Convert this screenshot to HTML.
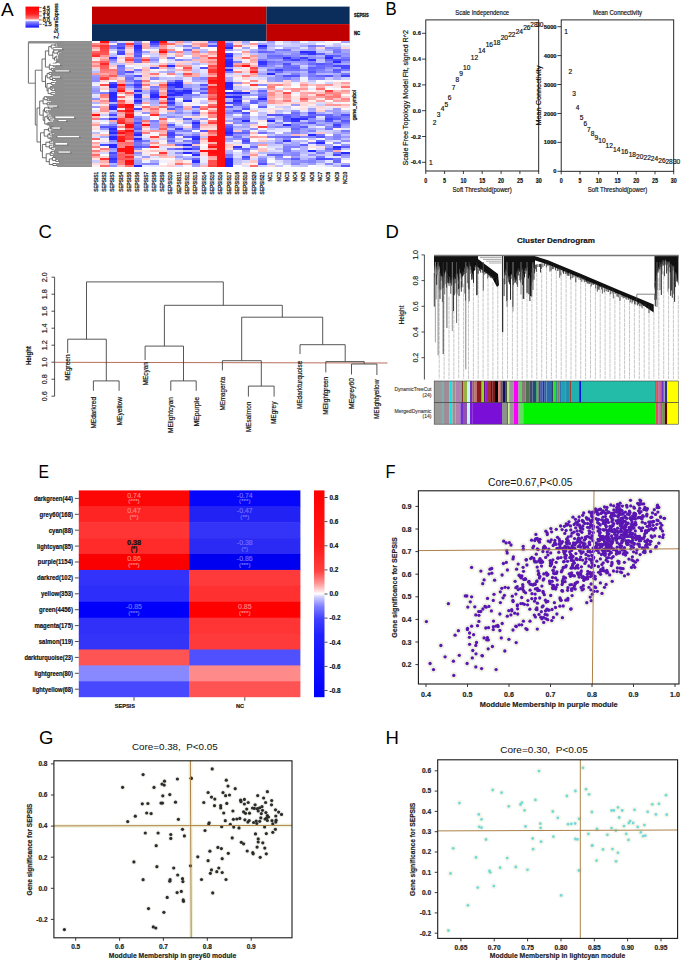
<!DOCTYPE html>
<html><head><meta charset="utf-8"><style>
html,body{margin:0;padding:0;background:#fff;width:685px;height:963px;overflow:hidden}
svg{display:block}
text{font-family:"Liberation Sans", sans-serif}
</style></head><body>
<svg width="685" height="963" viewBox="0 0 685 963">
<rect width="685" height="963" fill="#fff"/>
<text x="0.9" y="15.5" font-size="19" text-anchor="start" fill="#000">A</text>
<defs><linearGradient id="zleg" x1="0" y1="0" x2="0" y2="1"><stop offset="0" stop-color="#ff0000"/><stop offset="0.35" stop-color="#ff2020"/><stop offset="0.58" stop-color="#ff8080"/><stop offset="0.63" stop-color="#ffe8e8"/><stop offset="0.67" stop-color="#f0f0ff"/><stop offset="0.72" stop-color="#9090ff"/><stop offset="1" stop-color="#1010ff"/></linearGradient></defs>
<rect x="25.5" y="6.6" width="13.5" height="21" fill="url(#zleg)"/>
<line x1="39" y1="7.6" x2="41.7" y2="7.6" stroke="#333" stroke-width="0.7"/>
<text x="42.8" y="9.5" font-size="5.2" text-anchor="start" fill="#222" stroke="#222" stroke-width="0.3">4.5</text>
<line x1="39" y1="11.7" x2="41.7" y2="11.7" stroke="#333" stroke-width="0.7"/>
<text x="42.8" y="13.6" font-size="5.2" text-anchor="start" fill="#222" stroke="#222" stroke-width="0.3">3.0</text>
<line x1="39" y1="15.9" x2="41.7" y2="15.9" stroke="#333" stroke-width="0.7"/>
<text x="42.8" y="17.8" font-size="5.2" text-anchor="start" fill="#222" stroke="#222" stroke-width="0.3">1.5</text>
<line x1="39" y1="19.9" x2="41.7" y2="19.9" stroke="#333" stroke-width="0.7"/>
<text x="42.8" y="21.8" font-size="5.2" text-anchor="start" fill="#222" stroke="#222" stroke-width="0.3">0.0</text>
<line x1="39" y1="24.3" x2="41.7" y2="24.3" stroke="#333" stroke-width="0.7"/>
<text x="42.8" y="26.2" font-size="5.2" text-anchor="start" fill="#222" stroke="#222" stroke-width="0.3">-1.5</text>
<text x="57.6" y="21" font-size="5.0" text-anchor="middle" fill="#222" transform="rotate(-90 57.6 21)" textLength="35.5" lengthAdjust="spacingAndGlyphs" stroke="#222" stroke-width="0.3">Z_ScoreExpress</text>
<rect x="92" y="6.6" width="174.5" height="17.5" fill="#c00000"/>
<rect x="266.5" y="6.6" width="83.1" height="17.5" fill="#0b2d5b"/>
<rect x="92" y="24.1" width="174.5" height="16.9" fill="#0b2d5b"/>
<rect x="266.5" y="24.1" width="83.1" height="16.9" fill="#c00000"/>
<text x="354" y="17.2" font-size="4.8" text-anchor="start" font-weight="bold" fill="#111" textLength="14.6" lengthAdjust="spacingAndGlyphs" stroke="#111" stroke-width="0.3">SEPSIS</text>
<text x="354" y="34.6" font-size="4.8" text-anchor="start" font-weight="bold" fill="#111" textLength="6.2" lengthAdjust="spacingAndGlyphs" stroke="#111" stroke-width="0.3">NC</text>
<text x="355.6" y="105.1" font-size="5.1" text-anchor="middle" fill="#222" transform="rotate(-90 355.6 105.1)" textLength="30.4" lengthAdjust="spacingAndGlyphs" stroke="#222" stroke-width="0.3">gene_symbol</text>
<rect x="92" y="41" width="8.4" height="2.1" fill="#fffbfb" shape-rendering="crispEdges"/>
<rect x="92" y="43" width="8.4" height="2.1" fill="#ff8f8f" shape-rendering="crispEdges"/>
<rect x="92" y="45" width="8.4" height="2.1" fill="#ff5a5a" shape-rendering="crispEdges"/>
<rect x="92" y="47.1" width="8.4" height="2.1" fill="#ffacac" shape-rendering="crispEdges"/>
<rect x="92" y="49.1" width="8.4" height="2.1" fill="#ffd0d0" shape-rendering="crispEdges"/>
<rect x="92" y="51.1" width="8.4" height="2.1" fill="#ff6767" shape-rendering="crispEdges"/>
<rect x="92" y="53.1" width="8.4" height="2.1" fill="#ff4747" shape-rendering="crispEdges"/>
<rect x="92" y="55.2" width="8.4" height="2.1" fill="#ff2d2d" shape-rendering="crispEdges"/>
<rect x="92" y="57.2" width="8.4" height="2.1" fill="#ffd9d9" shape-rendering="crispEdges"/>
<rect x="92" y="59.2" width="8.4" height="2.1" fill="#ffeded" shape-rendering="crispEdges"/>
<rect x="92" y="61.2" width="8.4" height="2.1" fill="#ff8383" shape-rendering="crispEdges"/>
<rect x="92" y="63.3" width="8.4" height="2.1" fill="#ffb1b1" shape-rendering="crispEdges"/>
<rect x="92" y="65.3" width="8.4" height="2.1" fill="#ff8989" shape-rendering="crispEdges"/>
<rect x="92" y="67.3" width="8.4" height="2.1" fill="#ffcdcd" shape-rendering="crispEdges"/>
<rect x="92" y="69.3" width="8.4" height="2.1" fill="#d8d8ff" shape-rendering="crispEdges"/>
<rect x="92" y="71.4" width="8.4" height="2.1" fill="#bdbdff" shape-rendering="crispEdges"/>
<rect x="92" y="73.4" width="8.4" height="2.1" fill="#ff9c9c" shape-rendering="crispEdges"/>
<rect x="92" y="75.4" width="8.4" height="2.1" fill="#9b9bff" shape-rendering="crispEdges"/>
<rect x="92" y="77.4" width="8.4" height="2.1" fill="#8f8fff" shape-rendering="crispEdges"/>
<rect x="92" y="79.5" width="8.4" height="2.1" fill="#8b8bff" shape-rendering="crispEdges"/>
<rect x="92" y="81.5" width="8.4" height="2.1" fill="#e7e7ff" shape-rendering="crispEdges"/>
<rect x="92" y="83.5" width="8.4" height="2.1" fill="#f1f1ff" shape-rendering="crispEdges"/>
<rect x="92" y="85.5" width="8.4" height="2.1" fill="#b1b1ff" shape-rendering="crispEdges"/>
<rect x="92" y="87.6" width="8.4" height="2.1" fill="#9f9fff" shape-rendering="crispEdges"/>
<rect x="92" y="89.6" width="8.4" height="2.1" fill="#9191ff" shape-rendering="crispEdges"/>
<rect x="92" y="91.6" width="8.4" height="2.1" fill="#a0a0ff" shape-rendering="crispEdges"/>
<rect x="92" y="93.6" width="8.4" height="2.1" fill="#e6e6ff" shape-rendering="crispEdges"/>
<rect x="92" y="95.7" width="8.4" height="2.1" fill="#ddddff" shape-rendering="crispEdges"/>
<rect x="92" y="97.7" width="8.4" height="2.1" fill="#9292ff" shape-rendering="crispEdges"/>
<rect x="92" y="99.7" width="8.4" height="2.1" fill="#ffbaba" shape-rendering="crispEdges"/>
<rect x="92" y="101.7" width="8.4" height="2.1" fill="#b2b2ff" shape-rendering="crispEdges"/>
<rect x="92" y="103.8" width="8.4" height="2.1" fill="#f3f3ff" shape-rendering="crispEdges"/>
<rect x="92" y="105.8" width="8.4" height="2.1" fill="#9a9aff" shape-rendering="crispEdges"/>
<rect x="92" y="107.8" width="8.4" height="2.1" fill="#fbfbff" shape-rendering="crispEdges"/>
<rect x="92" y="109.8" width="8.4" height="2.1" fill="#e0e0ff" shape-rendering="crispEdges"/>
<rect x="92" y="111.8" width="8.4" height="2.1" fill="#ffc7c7" shape-rendering="crispEdges"/>
<rect x="92" y="113.9" width="8.4" height="2.1" fill="#ff0f0f" shape-rendering="crispEdges"/>
<rect x="92" y="115.9" width="8.4" height="2.1" fill="#ffbaba" shape-rendering="crispEdges"/>
<rect x="92" y="117.9" width="8.4" height="2.1" fill="#ff7e7e" shape-rendering="crispEdges"/>
<rect x="92" y="119.9" width="8.4" height="2.1" fill="#efefff" shape-rendering="crispEdges"/>
<rect x="92" y="122" width="8.4" height="2.1" fill="#ffcaca" shape-rendering="crispEdges"/>
<rect x="92" y="124" width="8.4" height="2.1" fill="#ff9d9d" shape-rendering="crispEdges"/>
<rect x="92" y="126" width="8.4" height="2.1" fill="#ffe7e7" shape-rendering="crispEdges"/>
<rect x="92" y="128" width="8.4" height="2.1" fill="#ffdfdf" shape-rendering="crispEdges"/>
<rect x="92" y="130.1" width="8.4" height="2.1" fill="#f6f6ff" shape-rendering="crispEdges"/>
<rect x="92" y="132.1" width="8.4" height="2.1" fill="#bcbcff" shape-rendering="crispEdges"/>
<rect x="92" y="134.1" width="8.4" height="2.1" fill="#ffd4d4" shape-rendering="crispEdges"/>
<rect x="92" y="136.1" width="8.4" height="2.1" fill="#dcdcff" shape-rendering="crispEdges"/>
<rect x="92" y="138.2" width="8.4" height="2.1" fill="#ff6565" shape-rendering="crispEdges"/>
<rect x="92" y="140.2" width="8.4" height="2.1" fill="#fffefe" shape-rendering="crispEdges"/>
<rect x="92" y="142.2" width="8.4" height="2.1" fill="#ffa6a6" shape-rendering="crispEdges"/>
<rect x="92" y="144.2" width="8.4" height="2.1" fill="#ffcccc" shape-rendering="crispEdges"/>
<rect x="92" y="146.3" width="8.4" height="2.1" fill="#ff8585" shape-rendering="crispEdges"/>
<rect x="92" y="148.3" width="8.4" height="2.1" fill="#ffeaea" shape-rendering="crispEdges"/>
<rect x="92" y="150.3" width="8.4" height="2.1" fill="#ff7a7a" shape-rendering="crispEdges"/>
<rect x="92" y="152.3" width="8.4" height="2.1" fill="#ffc2c2" shape-rendering="crispEdges"/>
<rect x="92" y="154.4" width="8.4" height="2.1" fill="#ff6969" shape-rendering="crispEdges"/>
<rect x="92" y="156.4" width="8.4" height="2.1" fill="#ffabab" shape-rendering="crispEdges"/>
<rect x="92" y="158.4" width="8.4" height="2.1" fill="#ffe3e3" shape-rendering="crispEdges"/>
<rect x="92" y="160.4" width="8.4" height="2.1" fill="#cbcbff" shape-rendering="crispEdges"/>
<rect x="92" y="162.5" width="8.4" height="2.1" fill="#ffdddd" shape-rendering="crispEdges"/>
<rect x="92" y="164.5" width="8.4" height="2.1" fill="#fff1f1" shape-rendering="crispEdges"/>
<rect x="100.3" y="41" width="8.4" height="2.1" fill="#ff0f0f" shape-rendering="crispEdges"/>
<rect x="100.3" y="43" width="8.4" height="2.1" fill="#ff7676" shape-rendering="crispEdges"/>
<rect x="100.3" y="45" width="8.4" height="2.1" fill="#ff3838" shape-rendering="crispEdges"/>
<rect x="100.3" y="47.1" width="8.4" height="2.1" fill="#ff3b3b" shape-rendering="crispEdges"/>
<rect x="100.3" y="49.1" width="8.4" height="2.1" fill="#ff4a4a" shape-rendering="crispEdges"/>
<rect x="100.3" y="51.1" width="8.4" height="2.1" fill="#ff4f4f" shape-rendering="crispEdges"/>
<rect x="100.3" y="53.1" width="8.4" height="2.1" fill="#ff5656" shape-rendering="crispEdges"/>
<rect x="100.3" y="55.2" width="8.4" height="2.1" fill="#ff9292" shape-rendering="crispEdges"/>
<rect x="100.3" y="57.2" width="8.4" height="2.1" fill="#ffb6b6" shape-rendering="crispEdges"/>
<rect x="100.3" y="59.2" width="8.4" height="2.1" fill="#ff9494" shape-rendering="crispEdges"/>
<rect x="100.3" y="61.2" width="8.4" height="2.1" fill="#ff5d5d" shape-rendering="crispEdges"/>
<rect x="100.3" y="63.3" width="8.4" height="2.1" fill="#ff2a2a" shape-rendering="crispEdges"/>
<rect x="100.3" y="65.3" width="8.4" height="2.1" fill="#ff5a5a" shape-rendering="crispEdges"/>
<rect x="100.3" y="67.3" width="8.4" height="2.1" fill="#ff6060" shape-rendering="crispEdges"/>
<rect x="100.3" y="69.3" width="8.4" height="2.1" fill="#ff7777" shape-rendering="crispEdges"/>
<rect x="100.3" y="71.4" width="8.4" height="2.1" fill="#ff8080" shape-rendering="crispEdges"/>
<rect x="100.3" y="73.4" width="8.4" height="2.1" fill="#ffa7a7" shape-rendering="crispEdges"/>
<rect x="100.3" y="75.4" width="8.4" height="2.1" fill="#ff8383" shape-rendering="crispEdges"/>
<rect x="100.3" y="77.4" width="8.4" height="2.1" fill="#ff4343" shape-rendering="crispEdges"/>
<rect x="100.3" y="79.5" width="8.4" height="2.1" fill="#ffd5d5" shape-rendering="crispEdges"/>
<rect x="100.3" y="81.5" width="8.4" height="2.1" fill="#fff2f2" shape-rendering="crispEdges"/>
<rect x="100.3" y="83.5" width="8.4" height="2.1" fill="#ff4848" shape-rendering="crispEdges"/>
<rect x="100.3" y="85.5" width="8.4" height="2.1" fill="#ffdfdf" shape-rendering="crispEdges"/>
<rect x="100.3" y="87.6" width="8.4" height="2.1" fill="#ffd1d1" shape-rendering="crispEdges"/>
<rect x="100.3" y="89.6" width="8.4" height="2.1" fill="#fffafa" shape-rendering="crispEdges"/>
<rect x="100.3" y="91.6" width="8.4" height="2.1" fill="#7e7eff" shape-rendering="crispEdges"/>
<rect x="100.3" y="93.6" width="8.4" height="2.1" fill="#ff7b7b" shape-rendering="crispEdges"/>
<rect x="100.3" y="95.7" width="8.4" height="2.1" fill="#ff8585" shape-rendering="crispEdges"/>
<rect x="100.3" y="97.7" width="8.4" height="2.1" fill="#ffcece" shape-rendering="crispEdges"/>
<rect x="100.3" y="99.7" width="8.4" height="2.1" fill="#ff8e8e" shape-rendering="crispEdges"/>
<rect x="100.3" y="101.7" width="8.4" height="2.1" fill="#ffadad" shape-rendering="crispEdges"/>
<rect x="100.3" y="103.8" width="8.4" height="2.1" fill="#ffe5e5" shape-rendering="crispEdges"/>
<rect x="100.3" y="105.8" width="8.4" height="2.1" fill="#ffa6a6" shape-rendering="crispEdges"/>
<rect x="100.3" y="107.8" width="8.4" height="2.1" fill="#ff9a9a" shape-rendering="crispEdges"/>
<rect x="100.3" y="109.8" width="8.4" height="2.1" fill="#ff9696" shape-rendering="crispEdges"/>
<rect x="100.3" y="111.8" width="8.4" height="2.1" fill="#ffe0e0" shape-rendering="crispEdges"/>
<rect x="100.3" y="113.9" width="8.4" height="2.1" fill="#cacaff" shape-rendering="crispEdges"/>
<rect x="100.3" y="115.9" width="8.4" height="2.1" fill="#fff2f2" shape-rendering="crispEdges"/>
<rect x="100.3" y="117.9" width="8.4" height="2.1" fill="#8b8bff" shape-rendering="crispEdges"/>
<rect x="100.3" y="119.9" width="8.4" height="2.1" fill="#e9e9ff" shape-rendering="crispEdges"/>
<rect x="100.3" y="122" width="8.4" height="2.1" fill="#fcfcff" shape-rendering="crispEdges"/>
<rect x="100.3" y="124" width="8.4" height="2.1" fill="#adadff" shape-rendering="crispEdges"/>
<rect x="100.3" y="126" width="8.4" height="2.1" fill="#5959ff" shape-rendering="crispEdges"/>
<rect x="100.3" y="128" width="8.4" height="2.1" fill="#9696ff" shape-rendering="crispEdges"/>
<rect x="100.3" y="130.1" width="8.4" height="2.1" fill="#e2e2ff" shape-rendering="crispEdges"/>
<rect x="100.3" y="132.1" width="8.4" height="2.1" fill="#fafaff" shape-rendering="crispEdges"/>
<rect x="100.3" y="134.1" width="8.4" height="2.1" fill="#ffb7b7" shape-rendering="crispEdges"/>
<rect x="100.3" y="136.1" width="8.4" height="2.1" fill="#acacff" shape-rendering="crispEdges"/>
<rect x="100.3" y="138.2" width="8.4" height="2.1" fill="#efefff" shape-rendering="crispEdges"/>
<rect x="100.3" y="140.2" width="8.4" height="2.1" fill="#ffeded" shape-rendering="crispEdges"/>
<rect x="100.3" y="142.2" width="8.4" height="2.1" fill="#d7d7ff" shape-rendering="crispEdges"/>
<rect x="100.3" y="144.2" width="8.4" height="2.1" fill="#4a4aff" shape-rendering="crispEdges"/>
<rect x="100.3" y="146.3" width="8.4" height="2.1" fill="#fff5f5" shape-rendering="crispEdges"/>
<rect x="100.3" y="148.3" width="8.4" height="2.1" fill="#ff7c7c" shape-rendering="crispEdges"/>
<rect x="100.3" y="150.3" width="8.4" height="2.1" fill="#ffc1c1" shape-rendering="crispEdges"/>
<rect x="100.3" y="152.3" width="8.4" height="2.1" fill="#d4d4ff" shape-rendering="crispEdges"/>
<rect x="100.3" y="154.4" width="8.4" height="2.1" fill="#ffffff" shape-rendering="crispEdges"/>
<rect x="100.3" y="156.4" width="8.4" height="2.1" fill="#ffd0d0" shape-rendering="crispEdges"/>
<rect x="100.3" y="158.4" width="8.4" height="2.1" fill="#ff3333" shape-rendering="crispEdges"/>
<rect x="100.3" y="160.4" width="8.4" height="2.1" fill="#ffaeae" shape-rendering="crispEdges"/>
<rect x="100.3" y="162.5" width="8.4" height="2.1" fill="#ffcdcd" shape-rendering="crispEdges"/>
<rect x="100.3" y="164.5" width="8.4" height="2.1" fill="#ff6c6c" shape-rendering="crispEdges"/>
<rect x="108.6" y="41" width="8.4" height="2.1" fill="#9999ff" shape-rendering="crispEdges"/>
<rect x="108.6" y="43" width="8.4" height="2.1" fill="#ffeded" shape-rendering="crispEdges"/>
<rect x="108.6" y="45" width="8.4" height="2.1" fill="#7575ff" shape-rendering="crispEdges"/>
<rect x="108.6" y="47.1" width="8.4" height="2.1" fill="#8282ff" shape-rendering="crispEdges"/>
<rect x="108.6" y="49.1" width="8.4" height="2.1" fill="#cacaff" shape-rendering="crispEdges"/>
<rect x="108.6" y="51.1" width="8.4" height="2.1" fill="#f4f4ff" shape-rendering="crispEdges"/>
<rect x="108.6" y="53.1" width="8.4" height="2.1" fill="#c8c8ff" shape-rendering="crispEdges"/>
<rect x="108.6" y="55.2" width="8.4" height="2.1" fill="#b6b6ff" shape-rendering="crispEdges"/>
<rect x="108.6" y="57.2" width="8.4" height="2.1" fill="#3939ff" shape-rendering="crispEdges"/>
<rect x="108.6" y="59.2" width="8.4" height="2.1" fill="#8080ff" shape-rendering="crispEdges"/>
<rect x="108.6" y="61.2" width="8.4" height="2.1" fill="#a3a3ff" shape-rendering="crispEdges"/>
<rect x="108.6" y="63.3" width="8.4" height="2.1" fill="#cacaff" shape-rendering="crispEdges"/>
<rect x="108.6" y="65.3" width="8.4" height="2.1" fill="#ffc8c8" shape-rendering="crispEdges"/>
<rect x="108.6" y="67.3" width="8.4" height="2.1" fill="#ffdfdf" shape-rendering="crispEdges"/>
<rect x="108.6" y="69.3" width="8.4" height="2.1" fill="#ff7777" shape-rendering="crispEdges"/>
<rect x="108.6" y="71.4" width="8.4" height="2.1" fill="#ff8c8c" shape-rendering="crispEdges"/>
<rect x="108.6" y="73.4" width="8.4" height="2.1" fill="#ff8d8d" shape-rendering="crispEdges"/>
<rect x="108.6" y="75.4" width="8.4" height="2.1" fill="#ff5c5c" shape-rendering="crispEdges"/>
<rect x="108.6" y="77.4" width="8.4" height="2.1" fill="#ffafaf" shape-rendering="crispEdges"/>
<rect x="108.6" y="79.5" width="8.4" height="2.1" fill="#fffbfb" shape-rendering="crispEdges"/>
<rect x="108.6" y="81.5" width="8.4" height="2.1" fill="#5555ff" shape-rendering="crispEdges"/>
<rect x="108.6" y="83.5" width="8.4" height="2.1" fill="#2828ff" shape-rendering="crispEdges"/>
<rect x="108.6" y="85.5" width="8.4" height="2.1" fill="#2828ff" shape-rendering="crispEdges"/>
<rect x="108.6" y="87.6" width="8.4" height="2.1" fill="#8686ff" shape-rendering="crispEdges"/>
<rect x="108.6" y="89.6" width="8.4" height="2.1" fill="#7d7dff" shape-rendering="crispEdges"/>
<rect x="108.6" y="91.6" width="8.4" height="2.1" fill="#2828ff" shape-rendering="crispEdges"/>
<rect x="108.6" y="93.6" width="8.4" height="2.1" fill="#2828ff" shape-rendering="crispEdges"/>
<rect x="108.6" y="95.7" width="8.4" height="2.1" fill="#2828ff" shape-rendering="crispEdges"/>
<rect x="108.6" y="97.7" width="8.4" height="2.1" fill="#3030ff" shape-rendering="crispEdges"/>
<rect x="108.6" y="99.7" width="8.4" height="2.1" fill="#3636ff" shape-rendering="crispEdges"/>
<rect x="108.6" y="101.7" width="8.4" height="2.1" fill="#b8b8ff" shape-rendering="crispEdges"/>
<rect x="108.6" y="103.8" width="8.4" height="2.1" fill="#4e4eff" shape-rendering="crispEdges"/>
<rect x="108.6" y="105.8" width="8.4" height="2.1" fill="#2828ff" shape-rendering="crispEdges"/>
<rect x="108.6" y="107.8" width="8.4" height="2.1" fill="#2828ff" shape-rendering="crispEdges"/>
<rect x="108.6" y="109.8" width="8.4" height="2.1" fill="#c9c9ff" shape-rendering="crispEdges"/>
<rect x="108.6" y="111.8" width="8.4" height="2.1" fill="#9797ff" shape-rendering="crispEdges"/>
<rect x="108.6" y="113.9" width="8.4" height="2.1" fill="#4343ff" shape-rendering="crispEdges"/>
<rect x="108.6" y="115.9" width="8.4" height="2.1" fill="#ababff" shape-rendering="crispEdges"/>
<rect x="108.6" y="117.9" width="8.4" height="2.1" fill="#2d2dff" shape-rendering="crispEdges"/>
<rect x="108.6" y="119.9" width="8.4" height="2.1" fill="#ffa5a5" shape-rendering="crispEdges"/>
<rect x="108.6" y="122" width="8.4" height="2.1" fill="#afafff" shape-rendering="crispEdges"/>
<rect x="108.6" y="124" width="8.4" height="2.1" fill="#8585ff" shape-rendering="crispEdges"/>
<rect x="108.6" y="126" width="8.4" height="2.1" fill="#5151ff" shape-rendering="crispEdges"/>
<rect x="108.6" y="128" width="8.4" height="2.1" fill="#2828ff" shape-rendering="crispEdges"/>
<rect x="108.6" y="130.1" width="8.4" height="2.1" fill="#4646ff" shape-rendering="crispEdges"/>
<rect x="108.6" y="132.1" width="8.4" height="2.1" fill="#2828ff" shape-rendering="crispEdges"/>
<rect x="108.6" y="134.1" width="8.4" height="2.1" fill="#6b6bff" shape-rendering="crispEdges"/>
<rect x="108.6" y="136.1" width="8.4" height="2.1" fill="#2828ff" shape-rendering="crispEdges"/>
<rect x="108.6" y="138.2" width="8.4" height="2.1" fill="#2828ff" shape-rendering="crispEdges"/>
<rect x="108.6" y="140.2" width="8.4" height="2.1" fill="#8e8eff" shape-rendering="crispEdges"/>
<rect x="108.6" y="142.2" width="8.4" height="2.1" fill="#ababff" shape-rendering="crispEdges"/>
<rect x="108.6" y="144.2" width="8.4" height="2.1" fill="#2828ff" shape-rendering="crispEdges"/>
<rect x="108.6" y="146.3" width="8.4" height="2.1" fill="#2828ff" shape-rendering="crispEdges"/>
<rect x="108.6" y="148.3" width="8.4" height="2.1" fill="#9797ff" shape-rendering="crispEdges"/>
<rect x="108.6" y="150.3" width="8.4" height="2.1" fill="#a7a7ff" shape-rendering="crispEdges"/>
<rect x="108.6" y="152.3" width="8.4" height="2.1" fill="#4949ff" shape-rendering="crispEdges"/>
<rect x="108.6" y="154.4" width="8.4" height="2.1" fill="#6464ff" shape-rendering="crispEdges"/>
<rect x="108.6" y="156.4" width="8.4" height="2.1" fill="#5959ff" shape-rendering="crispEdges"/>
<rect x="108.6" y="158.4" width="8.4" height="2.1" fill="#3131ff" shape-rendering="crispEdges"/>
<rect x="108.6" y="160.4" width="8.4" height="2.1" fill="#4545ff" shape-rendering="crispEdges"/>
<rect x="108.6" y="162.5" width="8.4" height="2.1" fill="#b4b4ff" shape-rendering="crispEdges"/>
<rect x="108.6" y="164.5" width="8.4" height="2.1" fill="#9292ff" shape-rendering="crispEdges"/>
<rect x="116.9" y="41" width="8.4" height="2.1" fill="#dadaff" shape-rendering="crispEdges"/>
<rect x="116.9" y="43" width="8.4" height="2.1" fill="#5959ff" shape-rendering="crispEdges"/>
<rect x="116.9" y="45" width="8.4" height="2.1" fill="#5f5fff" shape-rendering="crispEdges"/>
<rect x="116.9" y="47.1" width="8.4" height="2.1" fill="#3d3dff" shape-rendering="crispEdges"/>
<rect x="116.9" y="49.1" width="8.4" height="2.1" fill="#8383ff" shape-rendering="crispEdges"/>
<rect x="116.9" y="51.1" width="8.4" height="2.1" fill="#4c4cff" shape-rendering="crispEdges"/>
<rect x="116.9" y="53.1" width="8.4" height="2.1" fill="#4141ff" shape-rendering="crispEdges"/>
<rect x="116.9" y="55.2" width="8.4" height="2.1" fill="#e8e8ff" shape-rendering="crispEdges"/>
<rect x="116.9" y="57.2" width="8.4" height="2.1" fill="#ffd3d3" shape-rendering="crispEdges"/>
<rect x="116.9" y="59.2" width="8.4" height="2.1" fill="#ffe8e8" shape-rendering="crispEdges"/>
<rect x="116.9" y="61.2" width="8.4" height="2.1" fill="#ffdcdc" shape-rendering="crispEdges"/>
<rect x="116.9" y="63.3" width="8.4" height="2.1" fill="#c1c1ff" shape-rendering="crispEdges"/>
<rect x="116.9" y="65.3" width="8.4" height="2.1" fill="#6b6bff" shape-rendering="crispEdges"/>
<rect x="116.9" y="67.3" width="8.4" height="2.1" fill="#8080ff" shape-rendering="crispEdges"/>
<rect x="116.9" y="69.3" width="8.4" height="2.1" fill="#8383ff" shape-rendering="crispEdges"/>
<rect x="116.9" y="71.4" width="8.4" height="2.1" fill="#7979ff" shape-rendering="crispEdges"/>
<rect x="116.9" y="73.4" width="8.4" height="2.1" fill="#7878ff" shape-rendering="crispEdges"/>
<rect x="116.9" y="75.4" width="8.4" height="2.1" fill="#a8a8ff" shape-rendering="crispEdges"/>
<rect x="116.9" y="77.4" width="8.4" height="2.1" fill="#ffd6d6" shape-rendering="crispEdges"/>
<rect x="116.9" y="79.5" width="8.4" height="2.1" fill="#ffa5a5" shape-rendering="crispEdges"/>
<rect x="116.9" y="81.5" width="8.4" height="2.1" fill="#ffa8a8" shape-rendering="crispEdges"/>
<rect x="116.9" y="83.5" width="8.4" height="2.1" fill="#ff0f0f" shape-rendering="crispEdges"/>
<rect x="116.9" y="85.5" width="8.4" height="2.1" fill="#ff5d5d" shape-rendering="crispEdges"/>
<rect x="116.9" y="87.6" width="8.4" height="2.1" fill="#ff4242" shape-rendering="crispEdges"/>
<rect x="116.9" y="89.6" width="8.4" height="2.1" fill="#ff1717" shape-rendering="crispEdges"/>
<rect x="116.9" y="91.6" width="8.4" height="2.1" fill="#ffa6a6" shape-rendering="crispEdges"/>
<rect x="116.9" y="93.6" width="8.4" height="2.1" fill="#f8f8ff" shape-rendering="crispEdges"/>
<rect x="116.9" y="95.7" width="8.4" height="2.1" fill="#ff6363" shape-rendering="crispEdges"/>
<rect x="116.9" y="97.7" width="8.4" height="2.1" fill="#ffd8d8" shape-rendering="crispEdges"/>
<rect x="116.9" y="99.7" width="8.4" height="2.1" fill="#ff5050" shape-rendering="crispEdges"/>
<rect x="116.9" y="101.7" width="8.4" height="2.1" fill="#ff7676" shape-rendering="crispEdges"/>
<rect x="116.9" y="103.8" width="8.4" height="2.1" fill="#ff2e2e" shape-rendering="crispEdges"/>
<rect x="116.9" y="105.8" width="8.4" height="2.1" fill="#ff2323" shape-rendering="crispEdges"/>
<rect x="116.9" y="107.8" width="8.4" height="2.1" fill="#ffe0e0" shape-rendering="crispEdges"/>
<rect x="116.9" y="109.8" width="8.4" height="2.1" fill="#ff3333" shape-rendering="crispEdges"/>
<rect x="116.9" y="111.8" width="8.4" height="2.1" fill="#ffa0a0" shape-rendering="crispEdges"/>
<rect x="116.9" y="113.9" width="8.4" height="2.1" fill="#ffb5b5" shape-rendering="crispEdges"/>
<rect x="116.9" y="115.9" width="8.4" height="2.1" fill="#ff9f9f" shape-rendering="crispEdges"/>
<rect x="116.9" y="117.9" width="8.4" height="2.1" fill="#ff4646" shape-rendering="crispEdges"/>
<rect x="116.9" y="119.9" width="8.4" height="2.1" fill="#ff3636" shape-rendering="crispEdges"/>
<rect x="116.9" y="122" width="8.4" height="2.1" fill="#ff2626" shape-rendering="crispEdges"/>
<rect x="116.9" y="124" width="8.4" height="2.1" fill="#ffd0d0" shape-rendering="crispEdges"/>
<rect x="116.9" y="126" width="8.4" height="2.1" fill="#ff7c7c" shape-rendering="crispEdges"/>
<rect x="116.9" y="128" width="8.4" height="2.1" fill="#ffe9e9" shape-rendering="crispEdges"/>
<rect x="116.9" y="130.1" width="8.4" height="2.1" fill="#ff4444" shape-rendering="crispEdges"/>
<rect x="116.9" y="132.1" width="8.4" height="2.1" fill="#ff1010" shape-rendering="crispEdges"/>
<rect x="116.9" y="134.1" width="8.4" height="2.1" fill="#ff6868" shape-rendering="crispEdges"/>
<rect x="116.9" y="136.1" width="8.4" height="2.1" fill="#ff2020" shape-rendering="crispEdges"/>
<rect x="116.9" y="138.2" width="8.4" height="2.1" fill="#ff1e1e" shape-rendering="crispEdges"/>
<rect x="116.9" y="140.2" width="8.4" height="2.1" fill="#ff0f0f" shape-rendering="crispEdges"/>
<rect x="116.9" y="142.2" width="8.4" height="2.1" fill="#ff7474" shape-rendering="crispEdges"/>
<rect x="116.9" y="144.2" width="8.4" height="2.1" fill="#ff7d7d" shape-rendering="crispEdges"/>
<rect x="116.9" y="146.3" width="8.4" height="2.1" fill="#ff8080" shape-rendering="crispEdges"/>
<rect x="116.9" y="148.3" width="8.4" height="2.1" fill="#ff0f0f" shape-rendering="crispEdges"/>
<rect x="116.9" y="150.3" width="8.4" height="2.1" fill="#ff1212" shape-rendering="crispEdges"/>
<rect x="116.9" y="152.3" width="8.4" height="2.1" fill="#ff6c6c" shape-rendering="crispEdges"/>
<rect x="116.9" y="154.4" width="8.4" height="2.1" fill="#ff5a5a" shape-rendering="crispEdges"/>
<rect x="116.9" y="156.4" width="8.4" height="2.1" fill="#ff6161" shape-rendering="crispEdges"/>
<rect x="116.9" y="158.4" width="8.4" height="2.1" fill="#ff5b5b" shape-rendering="crispEdges"/>
<rect x="116.9" y="160.4" width="8.4" height="2.1" fill="#ff7777" shape-rendering="crispEdges"/>
<rect x="116.9" y="162.5" width="8.4" height="2.1" fill="#ff8080" shape-rendering="crispEdges"/>
<rect x="116.9" y="164.5" width="8.4" height="2.1" fill="#ffbebe" shape-rendering="crispEdges"/>
<rect x="125.2" y="41" width="8.4" height="2.1" fill="#ffd0d0" shape-rendering="crispEdges"/>
<rect x="125.2" y="43" width="8.4" height="2.1" fill="#ff3636" shape-rendering="crispEdges"/>
<rect x="125.2" y="45" width="8.4" height="2.1" fill="#ff8989" shape-rendering="crispEdges"/>
<rect x="125.2" y="47.1" width="8.4" height="2.1" fill="#ffb9b9" shape-rendering="crispEdges"/>
<rect x="125.2" y="49.1" width="8.4" height="2.1" fill="#ffdbdb" shape-rendering="crispEdges"/>
<rect x="125.2" y="51.1" width="8.4" height="2.1" fill="#ffd8d8" shape-rendering="crispEdges"/>
<rect x="125.2" y="53.1" width="8.4" height="2.1" fill="#ffafaf" shape-rendering="crispEdges"/>
<rect x="125.2" y="55.2" width="8.4" height="2.1" fill="#ffcbcb" shape-rendering="crispEdges"/>
<rect x="125.2" y="57.2" width="8.4" height="2.1" fill="#ff6c6c" shape-rendering="crispEdges"/>
<rect x="125.2" y="59.2" width="8.4" height="2.1" fill="#ff4242" shape-rendering="crispEdges"/>
<rect x="125.2" y="61.2" width="8.4" height="2.1" fill="#ffa0a0" shape-rendering="crispEdges"/>
<rect x="125.2" y="63.3" width="8.4" height="2.1" fill="#ffcdcd" shape-rendering="crispEdges"/>
<rect x="125.2" y="65.3" width="8.4" height="2.1" fill="#f9f9ff" shape-rendering="crispEdges"/>
<rect x="125.2" y="67.3" width="8.4" height="2.1" fill="#cfcfff" shape-rendering="crispEdges"/>
<rect x="125.2" y="69.3" width="8.4" height="2.1" fill="#ffcdcd" shape-rendering="crispEdges"/>
<rect x="125.2" y="71.4" width="8.4" height="2.1" fill="#4f4fff" shape-rendering="crispEdges"/>
<rect x="125.2" y="73.4" width="8.4" height="2.1" fill="#b5b5ff" shape-rendering="crispEdges"/>
<rect x="125.2" y="75.4" width="8.4" height="2.1" fill="#8888ff" shape-rendering="crispEdges"/>
<rect x="125.2" y="77.4" width="8.4" height="2.1" fill="#7373ff" shape-rendering="crispEdges"/>
<rect x="125.2" y="79.5" width="8.4" height="2.1" fill="#8989ff" shape-rendering="crispEdges"/>
<rect x="125.2" y="81.5" width="8.4" height="2.1" fill="#b3b3ff" shape-rendering="crispEdges"/>
<rect x="125.2" y="83.5" width="8.4" height="2.1" fill="#6f6fff" shape-rendering="crispEdges"/>
<rect x="125.2" y="85.5" width="8.4" height="2.1" fill="#a4a4ff" shape-rendering="crispEdges"/>
<rect x="125.2" y="87.6" width="8.4" height="2.1" fill="#c9c9ff" shape-rendering="crispEdges"/>
<rect x="125.2" y="89.6" width="8.4" height="2.1" fill="#ffd1d1" shape-rendering="crispEdges"/>
<rect x="125.2" y="91.6" width="8.4" height="2.1" fill="#ff5858" shape-rendering="crispEdges"/>
<rect x="125.2" y="93.6" width="8.4" height="2.1" fill="#ffb1b1" shape-rendering="crispEdges"/>
<rect x="125.2" y="95.7" width="8.4" height="2.1" fill="#ffe3e3" shape-rendering="crispEdges"/>
<rect x="125.2" y="97.7" width="8.4" height="2.1" fill="#ffebeb" shape-rendering="crispEdges"/>
<rect x="125.2" y="99.7" width="8.4" height="2.1" fill="#ffd3d3" shape-rendering="crispEdges"/>
<rect x="125.2" y="101.7" width="8.4" height="2.1" fill="#ffc7c7" shape-rendering="crispEdges"/>
<rect x="125.2" y="103.8" width="8.4" height="2.1" fill="#ff0f0f" shape-rendering="crispEdges"/>
<rect x="125.2" y="105.8" width="8.4" height="2.1" fill="#ff1414" shape-rendering="crispEdges"/>
<rect x="125.2" y="107.8" width="8.4" height="2.1" fill="#ff2c2c" shape-rendering="crispEdges"/>
<rect x="125.2" y="109.8" width="8.4" height="2.1" fill="#ff0f0f" shape-rendering="crispEdges"/>
<rect x="125.2" y="111.8" width="8.4" height="2.1" fill="#ff4040" shape-rendering="crispEdges"/>
<rect x="125.2" y="113.9" width="8.4" height="2.1" fill="#ff0f0f" shape-rendering="crispEdges"/>
<rect x="125.2" y="115.9" width="8.4" height="2.1" fill="#ff0f0f" shape-rendering="crispEdges"/>
<rect x="125.2" y="117.9" width="8.4" height="2.1" fill="#ff7e7e" shape-rendering="crispEdges"/>
<rect x="125.2" y="119.9" width="8.4" height="2.1" fill="#ff8282" shape-rendering="crispEdges"/>
<rect x="125.2" y="122" width="8.4" height="2.1" fill="#ff5c5c" shape-rendering="crispEdges"/>
<rect x="125.2" y="124" width="8.4" height="2.1" fill="#ff0f0f" shape-rendering="crispEdges"/>
<rect x="125.2" y="126" width="8.4" height="2.1" fill="#ff0f0f" shape-rendering="crispEdges"/>
<rect x="125.2" y="128" width="8.4" height="2.1" fill="#ff7171" shape-rendering="crispEdges"/>
<rect x="125.2" y="130.1" width="8.4" height="2.1" fill="#ff0f0f" shape-rendering="crispEdges"/>
<rect x="125.2" y="132.1" width="8.4" height="2.1" fill="#ff3b3b" shape-rendering="crispEdges"/>
<rect x="125.2" y="134.1" width="8.4" height="2.1" fill="#ff4040" shape-rendering="crispEdges"/>
<rect x="125.2" y="136.1" width="8.4" height="2.1" fill="#ff4f4f" shape-rendering="crispEdges"/>
<rect x="125.2" y="138.2" width="8.4" height="2.1" fill="#ff4343" shape-rendering="crispEdges"/>
<rect x="125.2" y="140.2" width="8.4" height="2.1" fill="#ffa4a4" shape-rendering="crispEdges"/>
<rect x="125.2" y="142.2" width="8.4" height="2.1" fill="#ff6969" shape-rendering="crispEdges"/>
<rect x="125.2" y="144.2" width="8.4" height="2.1" fill="#ff7575" shape-rendering="crispEdges"/>
<rect x="125.2" y="146.3" width="8.4" height="2.1" fill="#ff0f0f" shape-rendering="crispEdges"/>
<rect x="125.2" y="148.3" width="8.4" height="2.1" fill="#ff0f0f" shape-rendering="crispEdges"/>
<rect x="125.2" y="150.3" width="8.4" height="2.1" fill="#ff0f0f" shape-rendering="crispEdges"/>
<rect x="125.2" y="152.3" width="8.4" height="2.1" fill="#ff1010" shape-rendering="crispEdges"/>
<rect x="125.2" y="154.4" width="8.4" height="2.1" fill="#ff6b6b" shape-rendering="crispEdges"/>
<rect x="125.2" y="156.4" width="8.4" height="2.1" fill="#ff2626" shape-rendering="crispEdges"/>
<rect x="125.2" y="158.4" width="8.4" height="2.1" fill="#ff5d5d" shape-rendering="crispEdges"/>
<rect x="125.2" y="160.4" width="8.4" height="2.1" fill="#ff0f0f" shape-rendering="crispEdges"/>
<rect x="125.2" y="162.5" width="8.4" height="2.1" fill="#ff1515" shape-rendering="crispEdges"/>
<rect x="125.2" y="164.5" width="8.4" height="2.1" fill="#ff6d6d" shape-rendering="crispEdges"/>
<rect x="133.5" y="41" width="8.4" height="2.1" fill="#8686ff" shape-rendering="crispEdges"/>
<rect x="133.5" y="43" width="8.4" height="2.1" fill="#6e6eff" shape-rendering="crispEdges"/>
<rect x="133.5" y="45" width="8.4" height="2.1" fill="#2828ff" shape-rendering="crispEdges"/>
<rect x="133.5" y="47.1" width="8.4" height="2.1" fill="#2d2dff" shape-rendering="crispEdges"/>
<rect x="133.5" y="49.1" width="8.4" height="2.1" fill="#3f3fff" shape-rendering="crispEdges"/>
<rect x="133.5" y="51.1" width="8.4" height="2.1" fill="#4f4fff" shape-rendering="crispEdges"/>
<rect x="133.5" y="53.1" width="8.4" height="2.1" fill="#6262ff" shape-rendering="crispEdges"/>
<rect x="133.5" y="55.2" width="8.4" height="2.1" fill="#5656ff" shape-rendering="crispEdges"/>
<rect x="133.5" y="57.2" width="8.4" height="2.1" fill="#8888ff" shape-rendering="crispEdges"/>
<rect x="133.5" y="59.2" width="8.4" height="2.1" fill="#6a6aff" shape-rendering="crispEdges"/>
<rect x="133.5" y="61.2" width="8.4" height="2.1" fill="#6e6eff" shape-rendering="crispEdges"/>
<rect x="133.5" y="63.3" width="8.4" height="2.1" fill="#ffe3e3" shape-rendering="crispEdges"/>
<rect x="133.5" y="65.3" width="8.4" height="2.1" fill="#ebebff" shape-rendering="crispEdges"/>
<rect x="133.5" y="67.3" width="8.4" height="2.1" fill="#fff5f5" shape-rendering="crispEdges"/>
<rect x="133.5" y="69.3" width="8.4" height="2.1" fill="#7b7bff" shape-rendering="crispEdges"/>
<rect x="133.5" y="71.4" width="8.4" height="2.1" fill="#bdbdff" shape-rendering="crispEdges"/>
<rect x="133.5" y="73.4" width="8.4" height="2.1" fill="#e3e3ff" shape-rendering="crispEdges"/>
<rect x="133.5" y="75.4" width="8.4" height="2.1" fill="#4f4fff" shape-rendering="crispEdges"/>
<rect x="133.5" y="77.4" width="8.4" height="2.1" fill="#c7c7ff" shape-rendering="crispEdges"/>
<rect x="133.5" y="79.5" width="8.4" height="2.1" fill="#5555ff" shape-rendering="crispEdges"/>
<rect x="133.5" y="81.5" width="8.4" height="2.1" fill="#6c6cff" shape-rendering="crispEdges"/>
<rect x="133.5" y="83.5" width="8.4" height="2.1" fill="#3838ff" shape-rendering="crispEdges"/>
<rect x="133.5" y="85.5" width="8.4" height="2.1" fill="#4d4dff" shape-rendering="crispEdges"/>
<rect x="133.5" y="87.6" width="8.4" height="2.1" fill="#8989ff" shape-rendering="crispEdges"/>
<rect x="133.5" y="89.6" width="8.4" height="2.1" fill="#2828ff" shape-rendering="crispEdges"/>
<rect x="133.5" y="91.6" width="8.4" height="2.1" fill="#9f9fff" shape-rendering="crispEdges"/>
<rect x="133.5" y="93.6" width="8.4" height="2.1" fill="#2828ff" shape-rendering="crispEdges"/>
<rect x="133.5" y="95.7" width="8.4" height="2.1" fill="#2828ff" shape-rendering="crispEdges"/>
<rect x="133.5" y="97.7" width="8.4" height="2.1" fill="#6b6bff" shape-rendering="crispEdges"/>
<rect x="133.5" y="99.7" width="8.4" height="2.1" fill="#2828ff" shape-rendering="crispEdges"/>
<rect x="133.5" y="101.7" width="8.4" height="2.1" fill="#5252ff" shape-rendering="crispEdges"/>
<rect x="133.5" y="103.8" width="8.4" height="2.1" fill="#bbbbff" shape-rendering="crispEdges"/>
<rect x="133.5" y="105.8" width="8.4" height="2.1" fill="#e9e9ff" shape-rendering="crispEdges"/>
<rect x="133.5" y="107.8" width="8.4" height="2.1" fill="#3e3eff" shape-rendering="crispEdges"/>
<rect x="133.5" y="109.8" width="8.4" height="2.1" fill="#c5c5ff" shape-rendering="crispEdges"/>
<rect x="133.5" y="111.8" width="8.4" height="2.1" fill="#ffe7e7" shape-rendering="crispEdges"/>
<rect x="133.5" y="113.9" width="8.4" height="2.1" fill="#e8e8ff" shape-rendering="crispEdges"/>
<rect x="133.5" y="115.9" width="8.4" height="2.1" fill="#8d8dff" shape-rendering="crispEdges"/>
<rect x="133.5" y="117.9" width="8.4" height="2.1" fill="#7474ff" shape-rendering="crispEdges"/>
<rect x="133.5" y="119.9" width="8.4" height="2.1" fill="#8383ff" shape-rendering="crispEdges"/>
<rect x="133.5" y="122" width="8.4" height="2.1" fill="#4c4cff" shape-rendering="crispEdges"/>
<rect x="133.5" y="124" width="8.4" height="2.1" fill="#7373ff" shape-rendering="crispEdges"/>
<rect x="133.5" y="126" width="8.4" height="2.1" fill="#6666ff" shape-rendering="crispEdges"/>
<rect x="133.5" y="128" width="8.4" height="2.1" fill="#5757ff" shape-rendering="crispEdges"/>
<rect x="133.5" y="130.1" width="8.4" height="2.1" fill="#9696ff" shape-rendering="crispEdges"/>
<rect x="133.5" y="132.1" width="8.4" height="2.1" fill="#4646ff" shape-rendering="crispEdges"/>
<rect x="133.5" y="134.1" width="8.4" height="2.1" fill="#2828ff" shape-rendering="crispEdges"/>
<rect x="133.5" y="136.1" width="8.4" height="2.1" fill="#a2a2ff" shape-rendering="crispEdges"/>
<rect x="133.5" y="138.2" width="8.4" height="2.1" fill="#2828ff" shape-rendering="crispEdges"/>
<rect x="133.5" y="140.2" width="8.4" height="2.1" fill="#5959ff" shape-rendering="crispEdges"/>
<rect x="133.5" y="142.2" width="8.4" height="2.1" fill="#7676ff" shape-rendering="crispEdges"/>
<rect x="133.5" y="144.2" width="8.4" height="2.1" fill="#7474ff" shape-rendering="crispEdges"/>
<rect x="133.5" y="146.3" width="8.4" height="2.1" fill="#5656ff" shape-rendering="crispEdges"/>
<rect x="133.5" y="148.3" width="8.4" height="2.1" fill="#8e8eff" shape-rendering="crispEdges"/>
<rect x="133.5" y="150.3" width="8.4" height="2.1" fill="#ffcdcd" shape-rendering="crispEdges"/>
<rect x="133.5" y="152.3" width="8.4" height="2.1" fill="#8d8dff" shape-rendering="crispEdges"/>
<rect x="133.5" y="154.4" width="8.4" height="2.1" fill="#aaaaff" shape-rendering="crispEdges"/>
<rect x="133.5" y="156.4" width="8.4" height="2.1" fill="#e2e2ff" shape-rendering="crispEdges"/>
<rect x="133.5" y="158.4" width="8.4" height="2.1" fill="#b6b6ff" shape-rendering="crispEdges"/>
<rect x="133.5" y="160.4" width="8.4" height="2.1" fill="#a2a2ff" shape-rendering="crispEdges"/>
<rect x="133.5" y="162.5" width="8.4" height="2.1" fill="#9d9dff" shape-rendering="crispEdges"/>
<rect x="133.5" y="164.5" width="8.4" height="2.1" fill="#2828ff" shape-rendering="crispEdges"/>
<rect x="141.9" y="41" width="8.4" height="2.1" fill="#fff1f1" shape-rendering="crispEdges"/>
<rect x="141.9" y="43" width="8.4" height="2.1" fill="#ffaeae" shape-rendering="crispEdges"/>
<rect x="141.9" y="45" width="8.4" height="2.1" fill="#ffafaf" shape-rendering="crispEdges"/>
<rect x="141.9" y="47.1" width="8.4" height="2.1" fill="#ffa8a8" shape-rendering="crispEdges"/>
<rect x="141.9" y="49.1" width="8.4" height="2.1" fill="#f1f1ff" shape-rendering="crispEdges"/>
<rect x="141.9" y="51.1" width="8.4" height="2.1" fill="#9d9dff" shape-rendering="crispEdges"/>
<rect x="141.9" y="53.1" width="8.4" height="2.1" fill="#ccccff" shape-rendering="crispEdges"/>
<rect x="141.9" y="55.2" width="8.4" height="2.1" fill="#fbfbff" shape-rendering="crispEdges"/>
<rect x="141.9" y="57.2" width="8.4" height="2.1" fill="#ff9f9f" shape-rendering="crispEdges"/>
<rect x="141.9" y="59.2" width="8.4" height="2.1" fill="#ff3d3d" shape-rendering="crispEdges"/>
<rect x="141.9" y="61.2" width="8.4" height="2.1" fill="#ff9a9a" shape-rendering="crispEdges"/>
<rect x="141.9" y="63.3" width="8.4" height="2.1" fill="#ffe8e8" shape-rendering="crispEdges"/>
<rect x="141.9" y="65.3" width="8.4" height="2.1" fill="#e7e7ff" shape-rendering="crispEdges"/>
<rect x="141.9" y="67.3" width="8.4" height="2.1" fill="#ffc4c4" shape-rendering="crispEdges"/>
<rect x="141.9" y="69.3" width="8.4" height="2.1" fill="#ffb7b7" shape-rendering="crispEdges"/>
<rect x="141.9" y="71.4" width="8.4" height="2.1" fill="#ffc7c7" shape-rendering="crispEdges"/>
<rect x="141.9" y="73.4" width="8.4" height="2.1" fill="#ffcccc" shape-rendering="crispEdges"/>
<rect x="141.9" y="75.4" width="8.4" height="2.1" fill="#ffc7c7" shape-rendering="crispEdges"/>
<rect x="141.9" y="77.4" width="8.4" height="2.1" fill="#ffd5d5" shape-rendering="crispEdges"/>
<rect x="141.9" y="79.5" width="8.4" height="2.1" fill="#ff7d7d" shape-rendering="crispEdges"/>
<rect x="141.9" y="81.5" width="8.4" height="2.1" fill="#ffc7c7" shape-rendering="crispEdges"/>
<rect x="141.9" y="83.5" width="8.4" height="2.1" fill="#ff7777" shape-rendering="crispEdges"/>
<rect x="141.9" y="85.5" width="8.4" height="2.1" fill="#ffdddd" shape-rendering="crispEdges"/>
<rect x="141.9" y="87.6" width="8.4" height="2.1" fill="#ffbcbc" shape-rendering="crispEdges"/>
<rect x="141.9" y="89.6" width="8.4" height="2.1" fill="#b1b1ff" shape-rendering="crispEdges"/>
<rect x="141.9" y="91.6" width="8.4" height="2.1" fill="#ababff" shape-rendering="crispEdges"/>
<rect x="141.9" y="93.6" width="8.4" height="2.1" fill="#dbdbff" shape-rendering="crispEdges"/>
<rect x="141.9" y="95.7" width="8.4" height="2.1" fill="#ffd4d4" shape-rendering="crispEdges"/>
<rect x="141.9" y="97.7" width="8.4" height="2.1" fill="#b5b5ff" shape-rendering="crispEdges"/>
<rect x="141.9" y="99.7" width="8.4" height="2.1" fill="#c5c5ff" shape-rendering="crispEdges"/>
<rect x="141.9" y="101.7" width="8.4" height="2.1" fill="#ffa2a2" shape-rendering="crispEdges"/>
<rect x="141.9" y="103.8" width="8.4" height="2.1" fill="#fffdfd" shape-rendering="crispEdges"/>
<rect x="141.9" y="105.8" width="8.4" height="2.1" fill="#ff6d6d" shape-rendering="crispEdges"/>
<rect x="141.9" y="107.8" width="8.4" height="2.1" fill="#ffbebe" shape-rendering="crispEdges"/>
<rect x="141.9" y="109.8" width="8.4" height="2.1" fill="#ffd1d1" shape-rendering="crispEdges"/>
<rect x="141.9" y="111.8" width="8.4" height="2.1" fill="#9494ff" shape-rendering="crispEdges"/>
<rect x="141.9" y="113.9" width="8.4" height="2.1" fill="#fffefe" shape-rendering="crispEdges"/>
<rect x="141.9" y="115.9" width="8.4" height="2.1" fill="#b7b7ff" shape-rendering="crispEdges"/>
<rect x="141.9" y="117.9" width="8.4" height="2.1" fill="#b3b3ff" shape-rendering="crispEdges"/>
<rect x="141.9" y="119.9" width="8.4" height="2.1" fill="#ff7373" shape-rendering="crispEdges"/>
<rect x="141.9" y="122" width="8.4" height="2.1" fill="#ffb8b8" shape-rendering="crispEdges"/>
<rect x="141.9" y="124" width="8.4" height="2.1" fill="#ff0f0f" shape-rendering="crispEdges"/>
<rect x="141.9" y="126" width="8.4" height="2.1" fill="#ffbaba" shape-rendering="crispEdges"/>
<rect x="141.9" y="128" width="8.4" height="2.1" fill="#ffe6e6" shape-rendering="crispEdges"/>
<rect x="141.9" y="130.1" width="8.4" height="2.1" fill="#ffbfbf" shape-rendering="crispEdges"/>
<rect x="141.9" y="132.1" width="8.4" height="2.1" fill="#ff7e7e" shape-rendering="crispEdges"/>
<rect x="141.9" y="134.1" width="8.4" height="2.1" fill="#ededff" shape-rendering="crispEdges"/>
<rect x="141.9" y="136.1" width="8.4" height="2.1" fill="#e7e7ff" shape-rendering="crispEdges"/>
<rect x="141.9" y="138.2" width="8.4" height="2.1" fill="#cbcbff" shape-rendering="crispEdges"/>
<rect x="141.9" y="140.2" width="8.4" height="2.1" fill="#7575ff" shape-rendering="crispEdges"/>
<rect x="141.9" y="142.2" width="8.4" height="2.1" fill="#b3b3ff" shape-rendering="crispEdges"/>
<rect x="141.9" y="144.2" width="8.4" height="2.1" fill="#8d8dff" shape-rendering="crispEdges"/>
<rect x="141.9" y="146.3" width="8.4" height="2.1" fill="#6666ff" shape-rendering="crispEdges"/>
<rect x="141.9" y="148.3" width="8.4" height="2.1" fill="#fff8f8" shape-rendering="crispEdges"/>
<rect x="141.9" y="150.3" width="8.4" height="2.1" fill="#ffe3e3" shape-rendering="crispEdges"/>
<rect x="141.9" y="152.3" width="8.4" height="2.1" fill="#ffe8e8" shape-rendering="crispEdges"/>
<rect x="141.9" y="154.4" width="8.4" height="2.1" fill="#e9e9ff" shape-rendering="crispEdges"/>
<rect x="141.9" y="156.4" width="8.4" height="2.1" fill="#9999ff" shape-rendering="crispEdges"/>
<rect x="141.9" y="158.4" width="8.4" height="2.1" fill="#ffd8d8" shape-rendering="crispEdges"/>
<rect x="141.9" y="160.4" width="8.4" height="2.1" fill="#f1f1ff" shape-rendering="crispEdges"/>
<rect x="141.9" y="162.5" width="8.4" height="2.1" fill="#8989ff" shape-rendering="crispEdges"/>
<rect x="141.9" y="164.5" width="8.4" height="2.1" fill="#ebebff" shape-rendering="crispEdges"/>
<rect x="150.2" y="41" width="8.4" height="2.1" fill="#2828ff" shape-rendering="crispEdges"/>
<rect x="150.2" y="43" width="8.4" height="2.1" fill="#4c4cff" shape-rendering="crispEdges"/>
<rect x="150.2" y="45" width="8.4" height="2.1" fill="#7777ff" shape-rendering="crispEdges"/>
<rect x="150.2" y="47.1" width="8.4" height="2.1" fill="#bfbfff" shape-rendering="crispEdges"/>
<rect x="150.2" y="49.1" width="8.4" height="2.1" fill="#f2f2ff" shape-rendering="crispEdges"/>
<rect x="150.2" y="51.1" width="8.4" height="2.1" fill="#ffcfcf" shape-rendering="crispEdges"/>
<rect x="150.2" y="53.1" width="8.4" height="2.1" fill="#d1d1ff" shape-rendering="crispEdges"/>
<rect x="150.2" y="55.2" width="8.4" height="2.1" fill="#d5d5ff" shape-rendering="crispEdges"/>
<rect x="150.2" y="57.2" width="8.4" height="2.1" fill="#a3a3ff" shape-rendering="crispEdges"/>
<rect x="150.2" y="59.2" width="8.4" height="2.1" fill="#8a8aff" shape-rendering="crispEdges"/>
<rect x="150.2" y="61.2" width="8.4" height="2.1" fill="#b5b5ff" shape-rendering="crispEdges"/>
<rect x="150.2" y="63.3" width="8.4" height="2.1" fill="#e2e2ff" shape-rendering="crispEdges"/>
<rect x="150.2" y="65.3" width="8.4" height="2.1" fill="#ffbfbf" shape-rendering="crispEdges"/>
<rect x="150.2" y="67.3" width="8.4" height="2.1" fill="#5252ff" shape-rendering="crispEdges"/>
<rect x="150.2" y="69.3" width="8.4" height="2.1" fill="#fff6f6" shape-rendering="crispEdges"/>
<rect x="150.2" y="71.4" width="8.4" height="2.1" fill="#e3e3ff" shape-rendering="crispEdges"/>
<rect x="150.2" y="73.4" width="8.4" height="2.1" fill="#ff7777" shape-rendering="crispEdges"/>
<rect x="150.2" y="75.4" width="8.4" height="2.1" fill="#ffd2d2" shape-rendering="crispEdges"/>
<rect x="150.2" y="77.4" width="8.4" height="2.1" fill="#8b8bff" shape-rendering="crispEdges"/>
<rect x="150.2" y="79.5" width="8.4" height="2.1" fill="#fff6f6" shape-rendering="crispEdges"/>
<rect x="150.2" y="81.5" width="8.4" height="2.1" fill="#cfcfff" shape-rendering="crispEdges"/>
<rect x="150.2" y="83.5" width="8.4" height="2.1" fill="#ffd7d7" shape-rendering="crispEdges"/>
<rect x="150.2" y="85.5" width="8.4" height="2.1" fill="#7e7eff" shape-rendering="crispEdges"/>
<rect x="150.2" y="87.6" width="8.4" height="2.1" fill="#8e8eff" shape-rendering="crispEdges"/>
<rect x="150.2" y="89.6" width="8.4" height="2.1" fill="#6262ff" shape-rendering="crispEdges"/>
<rect x="150.2" y="91.6" width="8.4" height="2.1" fill="#4848ff" shape-rendering="crispEdges"/>
<rect x="150.2" y="93.6" width="8.4" height="2.1" fill="#2a2aff" shape-rendering="crispEdges"/>
<rect x="150.2" y="95.7" width="8.4" height="2.1" fill="#2828ff" shape-rendering="crispEdges"/>
<rect x="150.2" y="97.7" width="8.4" height="2.1" fill="#6969ff" shape-rendering="crispEdges"/>
<rect x="150.2" y="99.7" width="8.4" height="2.1" fill="#a8a8ff" shape-rendering="crispEdges"/>
<rect x="150.2" y="101.7" width="8.4" height="2.1" fill="#adadff" shape-rendering="crispEdges"/>
<rect x="150.2" y="103.8" width="8.4" height="2.1" fill="#b9b9ff" shape-rendering="crispEdges"/>
<rect x="150.2" y="105.8" width="8.4" height="2.1" fill="#ffadad" shape-rendering="crispEdges"/>
<rect x="150.2" y="107.8" width="8.4" height="2.1" fill="#ff7171" shape-rendering="crispEdges"/>
<rect x="150.2" y="109.8" width="8.4" height="2.1" fill="#ff9f9f" shape-rendering="crispEdges"/>
<rect x="150.2" y="111.8" width="8.4" height="2.1" fill="#ff9090" shape-rendering="crispEdges"/>
<rect x="150.2" y="113.9" width="8.4" height="2.1" fill="#ff2c2c" shape-rendering="crispEdges"/>
<rect x="150.2" y="115.9" width="8.4" height="2.1" fill="#fff8f8" shape-rendering="crispEdges"/>
<rect x="150.2" y="117.9" width="8.4" height="2.1" fill="#fafaff" shape-rendering="crispEdges"/>
<rect x="150.2" y="119.9" width="8.4" height="2.1" fill="#7b7bff" shape-rendering="crispEdges"/>
<rect x="150.2" y="122" width="8.4" height="2.1" fill="#9797ff" shape-rendering="crispEdges"/>
<rect x="150.2" y="124" width="8.4" height="2.1" fill="#9898ff" shape-rendering="crispEdges"/>
<rect x="150.2" y="126" width="8.4" height="2.1" fill="#9898ff" shape-rendering="crispEdges"/>
<rect x="150.2" y="128" width="8.4" height="2.1" fill="#b6b6ff" shape-rendering="crispEdges"/>
<rect x="150.2" y="130.1" width="8.4" height="2.1" fill="#ff9999" shape-rendering="crispEdges"/>
<rect x="150.2" y="132.1" width="8.4" height="2.1" fill="#f3f3ff" shape-rendering="crispEdges"/>
<rect x="150.2" y="134.1" width="8.4" height="2.1" fill="#fff3f3" shape-rendering="crispEdges"/>
<rect x="150.2" y="136.1" width="8.4" height="2.1" fill="#ff4444" shape-rendering="crispEdges"/>
<rect x="150.2" y="138.2" width="8.4" height="2.1" fill="#ffc9c9" shape-rendering="crispEdges"/>
<rect x="150.2" y="140.2" width="8.4" height="2.1" fill="#d4d4ff" shape-rendering="crispEdges"/>
<rect x="150.2" y="142.2" width="8.4" height="2.1" fill="#ff9393" shape-rendering="crispEdges"/>
<rect x="150.2" y="144.2" width="8.4" height="2.1" fill="#ffe2e2" shape-rendering="crispEdges"/>
<rect x="150.2" y="146.3" width="8.4" height="2.1" fill="#ff2a2a" shape-rendering="crispEdges"/>
<rect x="150.2" y="148.3" width="8.4" height="2.1" fill="#ffeded" shape-rendering="crispEdges"/>
<rect x="150.2" y="150.3" width="8.4" height="2.1" fill="#ffc0c0" shape-rendering="crispEdges"/>
<rect x="150.2" y="152.3" width="8.4" height="2.1" fill="#f9f9ff" shape-rendering="crispEdges"/>
<rect x="150.2" y="154.4" width="8.4" height="2.1" fill="#ffa2a2" shape-rendering="crispEdges"/>
<rect x="150.2" y="156.4" width="8.4" height="2.1" fill="#e2e2ff" shape-rendering="crispEdges"/>
<rect x="150.2" y="158.4" width="8.4" height="2.1" fill="#eeeeff" shape-rendering="crispEdges"/>
<rect x="150.2" y="160.4" width="8.4" height="2.1" fill="#aeaeff" shape-rendering="crispEdges"/>
<rect x="150.2" y="162.5" width="8.4" height="2.1" fill="#8787ff" shape-rendering="crispEdges"/>
<rect x="150.2" y="164.5" width="8.4" height="2.1" fill="#e5e5ff" shape-rendering="crispEdges"/>
<rect x="158.5" y="41" width="8.4" height="2.1" fill="#ff0f0f" shape-rendering="crispEdges"/>
<rect x="158.5" y="43" width="8.4" height="2.1" fill="#ff4a4a" shape-rendering="crispEdges"/>
<rect x="158.5" y="45" width="8.4" height="2.1" fill="#ff8d8d" shape-rendering="crispEdges"/>
<rect x="158.5" y="47.1" width="8.4" height="2.1" fill="#ff9c9c" shape-rendering="crispEdges"/>
<rect x="158.5" y="49.1" width="8.4" height="2.1" fill="#ff4646" shape-rendering="crispEdges"/>
<rect x="158.5" y="51.1" width="8.4" height="2.1" fill="#ff0f0f" shape-rendering="crispEdges"/>
<rect x="158.5" y="53.1" width="8.4" height="2.1" fill="#ff8c8c" shape-rendering="crispEdges"/>
<rect x="158.5" y="55.2" width="8.4" height="2.1" fill="#ffb9b9" shape-rendering="crispEdges"/>
<rect x="158.5" y="57.2" width="8.4" height="2.1" fill="#ffcaca" shape-rendering="crispEdges"/>
<rect x="158.5" y="59.2" width="8.4" height="2.1" fill="#fffdfd" shape-rendering="crispEdges"/>
<rect x="158.5" y="61.2" width="8.4" height="2.1" fill="#fff9f9" shape-rendering="crispEdges"/>
<rect x="158.5" y="63.3" width="8.4" height="2.1" fill="#ffc5c5" shape-rendering="crispEdges"/>
<rect x="158.5" y="65.3" width="8.4" height="2.1" fill="#ff5656" shape-rendering="crispEdges"/>
<rect x="158.5" y="67.3" width="8.4" height="2.1" fill="#ffb7b7" shape-rendering="crispEdges"/>
<rect x="158.5" y="69.3" width="8.4" height="2.1" fill="#ffefef" shape-rendering="crispEdges"/>
<rect x="158.5" y="71.4" width="8.4" height="2.1" fill="#b6b6ff" shape-rendering="crispEdges"/>
<rect x="158.5" y="73.4" width="8.4" height="2.1" fill="#ffeded" shape-rendering="crispEdges"/>
<rect x="158.5" y="75.4" width="8.4" height="2.1" fill="#efefff" shape-rendering="crispEdges"/>
<rect x="158.5" y="77.4" width="8.4" height="2.1" fill="#c2c2ff" shape-rendering="crispEdges"/>
<rect x="158.5" y="79.5" width="8.4" height="2.1" fill="#e6e6ff" shape-rendering="crispEdges"/>
<rect x="158.5" y="81.5" width="8.4" height="2.1" fill="#ffb5b5" shape-rendering="crispEdges"/>
<rect x="158.5" y="83.5" width="8.4" height="2.1" fill="#ff5656" shape-rendering="crispEdges"/>
<rect x="158.5" y="85.5" width="8.4" height="2.1" fill="#ff7878" shape-rendering="crispEdges"/>
<rect x="158.5" y="87.6" width="8.4" height="2.1" fill="#ff9c9c" shape-rendering="crispEdges"/>
<rect x="158.5" y="89.6" width="8.4" height="2.1" fill="#ffc7c7" shape-rendering="crispEdges"/>
<rect x="158.5" y="91.6" width="8.4" height="2.1" fill="#ff9d9d" shape-rendering="crispEdges"/>
<rect x="158.5" y="93.6" width="8.4" height="2.1" fill="#ffa3a3" shape-rendering="crispEdges"/>
<rect x="158.5" y="95.7" width="8.4" height="2.1" fill="#ff0f0f" shape-rendering="crispEdges"/>
<rect x="158.5" y="97.7" width="8.4" height="2.1" fill="#ffd0d0" shape-rendering="crispEdges"/>
<rect x="158.5" y="99.7" width="8.4" height="2.1" fill="#ff9e9e" shape-rendering="crispEdges"/>
<rect x="158.5" y="101.7" width="8.4" height="2.1" fill="#ff4747" shape-rendering="crispEdges"/>
<rect x="158.5" y="103.8" width="8.4" height="2.1" fill="#ffc6c6" shape-rendering="crispEdges"/>
<rect x="158.5" y="105.8" width="8.4" height="2.1" fill="#ff6b6b" shape-rendering="crispEdges"/>
<rect x="158.5" y="107.8" width="8.4" height="2.1" fill="#ffe1e1" shape-rendering="crispEdges"/>
<rect x="158.5" y="109.8" width="8.4" height="2.1" fill="#ffe3e3" shape-rendering="crispEdges"/>
<rect x="158.5" y="111.8" width="8.4" height="2.1" fill="#ebebff" shape-rendering="crispEdges"/>
<rect x="158.5" y="113.9" width="8.4" height="2.1" fill="#a0a0ff" shape-rendering="crispEdges"/>
<rect x="158.5" y="115.9" width="8.4" height="2.1" fill="#c0c0ff" shape-rendering="crispEdges"/>
<rect x="158.5" y="117.9" width="8.4" height="2.1" fill="#ff5b5b" shape-rendering="crispEdges"/>
<rect x="158.5" y="119.9" width="8.4" height="2.1" fill="#ffb1b1" shape-rendering="crispEdges"/>
<rect x="158.5" y="122" width="8.4" height="2.1" fill="#ffa1a1" shape-rendering="crispEdges"/>
<rect x="158.5" y="124" width="8.4" height="2.1" fill="#ff7c7c" shape-rendering="crispEdges"/>
<rect x="158.5" y="126" width="8.4" height="2.1" fill="#ff8b8b" shape-rendering="crispEdges"/>
<rect x="158.5" y="128" width="8.4" height="2.1" fill="#ff6060" shape-rendering="crispEdges"/>
<rect x="158.5" y="130.1" width="8.4" height="2.1" fill="#ffacac" shape-rendering="crispEdges"/>
<rect x="158.5" y="132.1" width="8.4" height="2.1" fill="#ffb7b7" shape-rendering="crispEdges"/>
<rect x="158.5" y="134.1" width="8.4" height="2.1" fill="#ff7575" shape-rendering="crispEdges"/>
<rect x="158.5" y="136.1" width="8.4" height="2.1" fill="#ffdede" shape-rendering="crispEdges"/>
<rect x="158.5" y="138.2" width="8.4" height="2.1" fill="#d4d4ff" shape-rendering="crispEdges"/>
<rect x="158.5" y="140.2" width="8.4" height="2.1" fill="#ffecec" shape-rendering="crispEdges"/>
<rect x="158.5" y="142.2" width="8.4" height="2.1" fill="#f5f5ff" shape-rendering="crispEdges"/>
<rect x="158.5" y="144.2" width="8.4" height="2.1" fill="#ffc3c3" shape-rendering="crispEdges"/>
<rect x="158.5" y="146.3" width="8.4" height="2.1" fill="#e3e3ff" shape-rendering="crispEdges"/>
<rect x="158.5" y="148.3" width="8.4" height="2.1" fill="#e6e6ff" shape-rendering="crispEdges"/>
<rect x="158.5" y="150.3" width="8.4" height="2.1" fill="#ffcece" shape-rendering="crispEdges"/>
<rect x="158.5" y="152.3" width="8.4" height="2.1" fill="#ff3434" shape-rendering="crispEdges"/>
<rect x="158.5" y="154.4" width="8.4" height="2.1" fill="#ff9c9c" shape-rendering="crispEdges"/>
<rect x="158.5" y="156.4" width="8.4" height="2.1" fill="#ffbcbc" shape-rendering="crispEdges"/>
<rect x="158.5" y="158.4" width="8.4" height="2.1" fill="#fff5f5" shape-rendering="crispEdges"/>
<rect x="158.5" y="160.4" width="8.4" height="2.1" fill="#f0f0ff" shape-rendering="crispEdges"/>
<rect x="158.5" y="162.5" width="8.4" height="2.1" fill="#ffffff" shape-rendering="crispEdges"/>
<rect x="158.5" y="164.5" width="8.4" height="2.1" fill="#ffe0e0" shape-rendering="crispEdges"/>
<rect x="166.8" y="41" width="8.4" height="2.1" fill="#cfcfff" shape-rendering="crispEdges"/>
<rect x="166.8" y="43" width="8.4" height="2.1" fill="#ff6a6a" shape-rendering="crispEdges"/>
<rect x="166.8" y="45" width="8.4" height="2.1" fill="#ffdede" shape-rendering="crispEdges"/>
<rect x="166.8" y="47.1" width="8.4" height="2.1" fill="#e3e3ff" shape-rendering="crispEdges"/>
<rect x="166.8" y="49.1" width="8.4" height="2.1" fill="#ff9191" shape-rendering="crispEdges"/>
<rect x="166.8" y="51.1" width="8.4" height="2.1" fill="#a0a0ff" shape-rendering="crispEdges"/>
<rect x="166.8" y="53.1" width="8.4" height="2.1" fill="#ffe2e2" shape-rendering="crispEdges"/>
<rect x="166.8" y="55.2" width="8.4" height="2.1" fill="#e4e4ff" shape-rendering="crispEdges"/>
<rect x="166.8" y="57.2" width="8.4" height="2.1" fill="#7373ff" shape-rendering="crispEdges"/>
<rect x="166.8" y="59.2" width="8.4" height="2.1" fill="#d5d5ff" shape-rendering="crispEdges"/>
<rect x="166.8" y="61.2" width="8.4" height="2.1" fill="#e6e6ff" shape-rendering="crispEdges"/>
<rect x="166.8" y="63.3" width="8.4" height="2.1" fill="#b2b2ff" shape-rendering="crispEdges"/>
<rect x="166.8" y="65.3" width="8.4" height="2.1" fill="#2c2cff" shape-rendering="crispEdges"/>
<rect x="166.8" y="67.3" width="8.4" height="2.1" fill="#a4a4ff" shape-rendering="crispEdges"/>
<rect x="166.8" y="69.3" width="8.4" height="2.1" fill="#c4c4ff" shape-rendering="crispEdges"/>
<rect x="166.8" y="71.4" width="8.4" height="2.1" fill="#a5a5ff" shape-rendering="crispEdges"/>
<rect x="166.8" y="73.4" width="8.4" height="2.1" fill="#ff8282" shape-rendering="crispEdges"/>
<rect x="166.8" y="75.4" width="8.4" height="2.1" fill="#fff8f8" shape-rendering="crispEdges"/>
<rect x="166.8" y="77.4" width="8.4" height="2.1" fill="#c8c8ff" shape-rendering="crispEdges"/>
<rect x="166.8" y="79.5" width="8.4" height="2.1" fill="#9a9aff" shape-rendering="crispEdges"/>
<rect x="166.8" y="81.5" width="8.4" height="2.1" fill="#4949ff" shape-rendering="crispEdges"/>
<rect x="166.8" y="83.5" width="8.4" height="2.1" fill="#2828ff" shape-rendering="crispEdges"/>
<rect x="166.8" y="85.5" width="8.4" height="2.1" fill="#5353ff" shape-rendering="crispEdges"/>
<rect x="166.8" y="87.6" width="8.4" height="2.1" fill="#6161ff" shape-rendering="crispEdges"/>
<rect x="166.8" y="89.6" width="8.4" height="2.1" fill="#2f2fff" shape-rendering="crispEdges"/>
<rect x="166.8" y="91.6" width="8.4" height="2.1" fill="#4848ff" shape-rendering="crispEdges"/>
<rect x="166.8" y="93.6" width="8.4" height="2.1" fill="#2828ff" shape-rendering="crispEdges"/>
<rect x="166.8" y="95.7" width="8.4" height="2.1" fill="#6d6dff" shape-rendering="crispEdges"/>
<rect x="166.8" y="97.7" width="8.4" height="2.1" fill="#2828ff" shape-rendering="crispEdges"/>
<rect x="166.8" y="99.7" width="8.4" height="2.1" fill="#6464ff" shape-rendering="crispEdges"/>
<rect x="166.8" y="101.7" width="8.4" height="2.1" fill="#3535ff" shape-rendering="crispEdges"/>
<rect x="166.8" y="103.8" width="8.4" height="2.1" fill="#6161ff" shape-rendering="crispEdges"/>
<rect x="166.8" y="105.8" width="8.4" height="2.1" fill="#a2a2ff" shape-rendering="crispEdges"/>
<rect x="166.8" y="107.8" width="8.4" height="2.1" fill="#5959ff" shape-rendering="crispEdges"/>
<rect x="166.8" y="109.8" width="8.4" height="2.1" fill="#ffb8b8" shape-rendering="crispEdges"/>
<rect x="166.8" y="111.8" width="8.4" height="2.1" fill="#aeaeff" shape-rendering="crispEdges"/>
<rect x="166.8" y="113.9" width="8.4" height="2.1" fill="#b3b3ff" shape-rendering="crispEdges"/>
<rect x="166.8" y="115.9" width="8.4" height="2.1" fill="#8a8aff" shape-rendering="crispEdges"/>
<rect x="166.8" y="117.9" width="8.4" height="2.1" fill="#ffe8e8" shape-rendering="crispEdges"/>
<rect x="166.8" y="119.9" width="8.4" height="2.1" fill="#fffafa" shape-rendering="crispEdges"/>
<rect x="166.8" y="122" width="8.4" height="2.1" fill="#bebeff" shape-rendering="crispEdges"/>
<rect x="166.8" y="124" width="8.4" height="2.1" fill="#5353ff" shape-rendering="crispEdges"/>
<rect x="166.8" y="126" width="8.4" height="2.1" fill="#8181ff" shape-rendering="crispEdges"/>
<rect x="166.8" y="128" width="8.4" height="2.1" fill="#bdbdff" shape-rendering="crispEdges"/>
<rect x="166.8" y="130.1" width="8.4" height="2.1" fill="#7272ff" shape-rendering="crispEdges"/>
<rect x="166.8" y="132.1" width="8.4" height="2.1" fill="#4646ff" shape-rendering="crispEdges"/>
<rect x="166.8" y="134.1" width="8.4" height="2.1" fill="#4242ff" shape-rendering="crispEdges"/>
<rect x="166.8" y="136.1" width="8.4" height="2.1" fill="#5858ff" shape-rendering="crispEdges"/>
<rect x="166.8" y="138.2" width="8.4" height="2.1" fill="#8585ff" shape-rendering="crispEdges"/>
<rect x="166.8" y="140.2" width="8.4" height="2.1" fill="#6767ff" shape-rendering="crispEdges"/>
<rect x="166.8" y="142.2" width="8.4" height="2.1" fill="#9a9aff" shape-rendering="crispEdges"/>
<rect x="166.8" y="144.2" width="8.4" height="2.1" fill="#ffa9a9" shape-rendering="crispEdges"/>
<rect x="166.8" y="146.3" width="8.4" height="2.1" fill="#ffe2e2" shape-rendering="crispEdges"/>
<rect x="166.8" y="148.3" width="8.4" height="2.1" fill="#7979ff" shape-rendering="crispEdges"/>
<rect x="166.8" y="150.3" width="8.4" height="2.1" fill="#d7d7ff" shape-rendering="crispEdges"/>
<rect x="166.8" y="152.3" width="8.4" height="2.1" fill="#d2d2ff" shape-rendering="crispEdges"/>
<rect x="166.8" y="154.4" width="8.4" height="2.1" fill="#d3d3ff" shape-rendering="crispEdges"/>
<rect x="166.8" y="156.4" width="8.4" height="2.1" fill="#ffc5c5" shape-rendering="crispEdges"/>
<rect x="166.8" y="158.4" width="8.4" height="2.1" fill="#f8f8ff" shape-rendering="crispEdges"/>
<rect x="166.8" y="160.4" width="8.4" height="2.1" fill="#ffebeb" shape-rendering="crispEdges"/>
<rect x="166.8" y="162.5" width="8.4" height="2.1" fill="#ffdfdf" shape-rendering="crispEdges"/>
<rect x="166.8" y="164.5" width="8.4" height="2.1" fill="#ffcdcd" shape-rendering="crispEdges"/>
<rect x="175.1" y="41" width="8.4" height="2.1" fill="#ff9c9c" shape-rendering="crispEdges"/>
<rect x="175.1" y="43" width="8.4" height="2.1" fill="#ffbfbf" shape-rendering="crispEdges"/>
<rect x="175.1" y="45" width="8.4" height="2.1" fill="#c0c0ff" shape-rendering="crispEdges"/>
<rect x="175.1" y="47.1" width="8.4" height="2.1" fill="#fff9f9" shape-rendering="crispEdges"/>
<rect x="175.1" y="49.1" width="8.4" height="2.1" fill="#fdfdff" shape-rendering="crispEdges"/>
<rect x="175.1" y="51.1" width="8.4" height="2.1" fill="#ff8585" shape-rendering="crispEdges"/>
<rect x="175.1" y="53.1" width="8.4" height="2.1" fill="#ffb8b8" shape-rendering="crispEdges"/>
<rect x="175.1" y="55.2" width="8.4" height="2.1" fill="#ffa2a2" shape-rendering="crispEdges"/>
<rect x="175.1" y="57.2" width="8.4" height="2.1" fill="#fffafa" shape-rendering="crispEdges"/>
<rect x="175.1" y="59.2" width="8.4" height="2.1" fill="#7f7fff" shape-rendering="crispEdges"/>
<rect x="175.1" y="61.2" width="8.4" height="2.1" fill="#ffd9d9" shape-rendering="crispEdges"/>
<rect x="175.1" y="63.3" width="8.4" height="2.1" fill="#ffcaca" shape-rendering="crispEdges"/>
<rect x="175.1" y="65.3" width="8.4" height="2.1" fill="#ff9898" shape-rendering="crispEdges"/>
<rect x="175.1" y="67.3" width="8.4" height="2.1" fill="#fff3f3" shape-rendering="crispEdges"/>
<rect x="175.1" y="69.3" width="8.4" height="2.1" fill="#ffbbbb" shape-rendering="crispEdges"/>
<rect x="175.1" y="71.4" width="8.4" height="2.1" fill="#e7e7ff" shape-rendering="crispEdges"/>
<rect x="175.1" y="73.4" width="8.4" height="2.1" fill="#c1c1ff" shape-rendering="crispEdges"/>
<rect x="175.1" y="75.4" width="8.4" height="2.1" fill="#dadaff" shape-rendering="crispEdges"/>
<rect x="175.1" y="77.4" width="8.4" height="2.1" fill="#bbbbff" shape-rendering="crispEdges"/>
<rect x="175.1" y="79.5" width="8.4" height="2.1" fill="#5050ff" shape-rendering="crispEdges"/>
<rect x="175.1" y="81.5" width="8.4" height="2.1" fill="#2828ff" shape-rendering="crispEdges"/>
<rect x="175.1" y="83.5" width="8.4" height="2.1" fill="#2828ff" shape-rendering="crispEdges"/>
<rect x="175.1" y="85.5" width="8.4" height="2.1" fill="#2b2bff" shape-rendering="crispEdges"/>
<rect x="175.1" y="87.6" width="8.4" height="2.1" fill="#9191ff" shape-rendering="crispEdges"/>
<rect x="175.1" y="89.6" width="8.4" height="2.1" fill="#4a4aff" shape-rendering="crispEdges"/>
<rect x="175.1" y="91.6" width="8.4" height="2.1" fill="#2828ff" shape-rendering="crispEdges"/>
<rect x="175.1" y="93.6" width="8.4" height="2.1" fill="#3535ff" shape-rendering="crispEdges"/>
<rect x="175.1" y="95.7" width="8.4" height="2.1" fill="#9797ff" shape-rendering="crispEdges"/>
<rect x="175.1" y="97.7" width="8.4" height="2.1" fill="#f8f8ff" shape-rendering="crispEdges"/>
<rect x="175.1" y="99.7" width="8.4" height="2.1" fill="#e6e6ff" shape-rendering="crispEdges"/>
<rect x="175.1" y="101.7" width="8.4" height="2.1" fill="#b9b9ff" shape-rendering="crispEdges"/>
<rect x="175.1" y="103.8" width="8.4" height="2.1" fill="#b3b3ff" shape-rendering="crispEdges"/>
<rect x="175.1" y="105.8" width="8.4" height="2.1" fill="#6a6aff" shape-rendering="crispEdges"/>
<rect x="175.1" y="107.8" width="8.4" height="2.1" fill="#9292ff" shape-rendering="crispEdges"/>
<rect x="175.1" y="109.8" width="8.4" height="2.1" fill="#9d9dff" shape-rendering="crispEdges"/>
<rect x="175.1" y="111.8" width="8.4" height="2.1" fill="#8686ff" shape-rendering="crispEdges"/>
<rect x="175.1" y="113.9" width="8.4" height="2.1" fill="#bcbcff" shape-rendering="crispEdges"/>
<rect x="175.1" y="115.9" width="8.4" height="2.1" fill="#a4a4ff" shape-rendering="crispEdges"/>
<rect x="175.1" y="117.9" width="8.4" height="2.1" fill="#d3d3ff" shape-rendering="crispEdges"/>
<rect x="175.1" y="119.9" width="8.4" height="2.1" fill="#ffe2e2" shape-rendering="crispEdges"/>
<rect x="175.1" y="122" width="8.4" height="2.1" fill="#f3f3ff" shape-rendering="crispEdges"/>
<rect x="175.1" y="124" width="8.4" height="2.1" fill="#d5d5ff" shape-rendering="crispEdges"/>
<rect x="175.1" y="126" width="8.4" height="2.1" fill="#9f9fff" shape-rendering="crispEdges"/>
<rect x="175.1" y="128" width="8.4" height="2.1" fill="#4444ff" shape-rendering="crispEdges"/>
<rect x="175.1" y="130.1" width="8.4" height="2.1" fill="#8b8bff" shape-rendering="crispEdges"/>
<rect x="175.1" y="132.1" width="8.4" height="2.1" fill="#c2c2ff" shape-rendering="crispEdges"/>
<rect x="175.1" y="134.1" width="8.4" height="2.1" fill="#7575ff" shape-rendering="crispEdges"/>
<rect x="175.1" y="136.1" width="8.4" height="2.1" fill="#ffeded" shape-rendering="crispEdges"/>
<rect x="175.1" y="138.2" width="8.4" height="2.1" fill="#bfbfff" shape-rendering="crispEdges"/>
<rect x="175.1" y="140.2" width="8.4" height="2.1" fill="#dcdcff" shape-rendering="crispEdges"/>
<rect x="175.1" y="142.2" width="8.4" height="2.1" fill="#a4a4ff" shape-rendering="crispEdges"/>
<rect x="175.1" y="144.2" width="8.4" height="2.1" fill="#5e5eff" shape-rendering="crispEdges"/>
<rect x="175.1" y="146.3" width="8.4" height="2.1" fill="#ffdfdf" shape-rendering="crispEdges"/>
<rect x="175.1" y="148.3" width="8.4" height="2.1" fill="#5c5cff" shape-rendering="crispEdges"/>
<rect x="175.1" y="150.3" width="8.4" height="2.1" fill="#ddddff" shape-rendering="crispEdges"/>
<rect x="175.1" y="152.3" width="8.4" height="2.1" fill="#8888ff" shape-rendering="crispEdges"/>
<rect x="175.1" y="154.4" width="8.4" height="2.1" fill="#c4c4ff" shape-rendering="crispEdges"/>
<rect x="175.1" y="156.4" width="8.4" height="2.1" fill="#9b9bff" shape-rendering="crispEdges"/>
<rect x="175.1" y="158.4" width="8.4" height="2.1" fill="#cbcbff" shape-rendering="crispEdges"/>
<rect x="175.1" y="160.4" width="8.4" height="2.1" fill="#ffc4c4" shape-rendering="crispEdges"/>
<rect x="175.1" y="162.5" width="8.4" height="2.1" fill="#ff7070" shape-rendering="crispEdges"/>
<rect x="175.1" y="164.5" width="8.4" height="2.1" fill="#d7d7ff" shape-rendering="crispEdges"/>
<rect x="183.4" y="41" width="8.4" height="2.1" fill="#acacff" shape-rendering="crispEdges"/>
<rect x="183.4" y="43" width="8.4" height="2.1" fill="#e5e5ff" shape-rendering="crispEdges"/>
<rect x="183.4" y="45" width="8.4" height="2.1" fill="#8282ff" shape-rendering="crispEdges"/>
<rect x="183.4" y="47.1" width="8.4" height="2.1" fill="#ccccff" shape-rendering="crispEdges"/>
<rect x="183.4" y="49.1" width="8.4" height="2.1" fill="#6a6aff" shape-rendering="crispEdges"/>
<rect x="183.4" y="51.1" width="8.4" height="2.1" fill="#b8b8ff" shape-rendering="crispEdges"/>
<rect x="183.4" y="53.1" width="8.4" height="2.1" fill="#bcbcff" shape-rendering="crispEdges"/>
<rect x="183.4" y="55.2" width="8.4" height="2.1" fill="#fffafa" shape-rendering="crispEdges"/>
<rect x="183.4" y="57.2" width="8.4" height="2.1" fill="#e8e8ff" shape-rendering="crispEdges"/>
<rect x="183.4" y="59.2" width="8.4" height="2.1" fill="#a2a2ff" shape-rendering="crispEdges"/>
<rect x="183.4" y="61.2" width="8.4" height="2.1" fill="#ffd1d1" shape-rendering="crispEdges"/>
<rect x="183.4" y="63.3" width="8.4" height="2.1" fill="#d2d2ff" shape-rendering="crispEdges"/>
<rect x="183.4" y="65.3" width="8.4" height="2.1" fill="#ff9d9d" shape-rendering="crispEdges"/>
<rect x="183.4" y="67.3" width="8.4" height="2.1" fill="#ff5252" shape-rendering="crispEdges"/>
<rect x="183.4" y="69.3" width="8.4" height="2.1" fill="#ff8888" shape-rendering="crispEdges"/>
<rect x="183.4" y="71.4" width="8.4" height="2.1" fill="#ffcdcd" shape-rendering="crispEdges"/>
<rect x="183.4" y="73.4" width="8.4" height="2.1" fill="#ff5050" shape-rendering="crispEdges"/>
<rect x="183.4" y="75.4" width="8.4" height="2.1" fill="#ff9191" shape-rendering="crispEdges"/>
<rect x="183.4" y="77.4" width="8.4" height="2.1" fill="#e3e3ff" shape-rendering="crispEdges"/>
<rect x="183.4" y="79.5" width="8.4" height="2.1" fill="#efefff" shape-rendering="crispEdges"/>
<rect x="183.4" y="81.5" width="8.4" height="2.1" fill="#ffc7c7" shape-rendering="crispEdges"/>
<rect x="183.4" y="83.5" width="8.4" height="2.1" fill="#a2a2ff" shape-rendering="crispEdges"/>
<rect x="183.4" y="85.5" width="8.4" height="2.1" fill="#a0a0ff" shape-rendering="crispEdges"/>
<rect x="183.4" y="87.6" width="8.4" height="2.1" fill="#6868ff" shape-rendering="crispEdges"/>
<rect x="183.4" y="89.6" width="8.4" height="2.1" fill="#2828ff" shape-rendering="crispEdges"/>
<rect x="183.4" y="91.6" width="8.4" height="2.1" fill="#3434ff" shape-rendering="crispEdges"/>
<rect x="183.4" y="93.6" width="8.4" height="2.1" fill="#7a7aff" shape-rendering="crispEdges"/>
<rect x="183.4" y="95.7" width="8.4" height="2.1" fill="#8282ff" shape-rendering="crispEdges"/>
<rect x="183.4" y="97.7" width="8.4" height="2.1" fill="#7d7dff" shape-rendering="crispEdges"/>
<rect x="183.4" y="99.7" width="8.4" height="2.1" fill="#2828ff" shape-rendering="crispEdges"/>
<rect x="183.4" y="101.7" width="8.4" height="2.1" fill="#fff0f0" shape-rendering="crispEdges"/>
<rect x="183.4" y="103.8" width="8.4" height="2.1" fill="#ffebeb" shape-rendering="crispEdges"/>
<rect x="183.4" y="105.8" width="8.4" height="2.1" fill="#ffb0b0" shape-rendering="crispEdges"/>
<rect x="183.4" y="107.8" width="8.4" height="2.1" fill="#ff9e9e" shape-rendering="crispEdges"/>
<rect x="183.4" y="109.8" width="8.4" height="2.1" fill="#d1d1ff" shape-rendering="crispEdges"/>
<rect x="183.4" y="111.8" width="8.4" height="2.1" fill="#acacff" shape-rendering="crispEdges"/>
<rect x="183.4" y="113.9" width="8.4" height="2.1" fill="#c7c7ff" shape-rendering="crispEdges"/>
<rect x="183.4" y="115.9" width="8.4" height="2.1" fill="#ffe3e3" shape-rendering="crispEdges"/>
<rect x="183.4" y="117.9" width="8.4" height="2.1" fill="#5757ff" shape-rendering="crispEdges"/>
<rect x="183.4" y="119.9" width="8.4" height="2.1" fill="#babaff" shape-rendering="crispEdges"/>
<rect x="183.4" y="122" width="8.4" height="2.1" fill="#a7a7ff" shape-rendering="crispEdges"/>
<rect x="183.4" y="124" width="8.4" height="2.1" fill="#f3f3ff" shape-rendering="crispEdges"/>
<rect x="183.4" y="126" width="8.4" height="2.1" fill="#ffd3d3" shape-rendering="crispEdges"/>
<rect x="183.4" y="128" width="8.4" height="2.1" fill="#b8b8ff" shape-rendering="crispEdges"/>
<rect x="183.4" y="130.1" width="8.4" height="2.1" fill="#7c7cff" shape-rendering="crispEdges"/>
<rect x="183.4" y="132.1" width="8.4" height="2.1" fill="#c3c3ff" shape-rendering="crispEdges"/>
<rect x="183.4" y="134.1" width="8.4" height="2.1" fill="#a8a8ff" shape-rendering="crispEdges"/>
<rect x="183.4" y="136.1" width="8.4" height="2.1" fill="#5555ff" shape-rendering="crispEdges"/>
<rect x="183.4" y="138.2" width="8.4" height="2.1" fill="#e0e0ff" shape-rendering="crispEdges"/>
<rect x="183.4" y="140.2" width="8.4" height="2.1" fill="#7a7aff" shape-rendering="crispEdges"/>
<rect x="183.4" y="142.2" width="8.4" height="2.1" fill="#b1b1ff" shape-rendering="crispEdges"/>
<rect x="183.4" y="144.2" width="8.4" height="2.1" fill="#2828ff" shape-rendering="crispEdges"/>
<rect x="183.4" y="146.3" width="8.4" height="2.1" fill="#adadff" shape-rendering="crispEdges"/>
<rect x="183.4" y="148.3" width="8.4" height="2.1" fill="#2828ff" shape-rendering="crispEdges"/>
<rect x="183.4" y="150.3" width="8.4" height="2.1" fill="#c7c7ff" shape-rendering="crispEdges"/>
<rect x="183.4" y="152.3" width="8.4" height="2.1" fill="#2828ff" shape-rendering="crispEdges"/>
<rect x="183.4" y="154.4" width="8.4" height="2.1" fill="#fefeff" shape-rendering="crispEdges"/>
<rect x="183.4" y="156.4" width="8.4" height="2.1" fill="#babaff" shape-rendering="crispEdges"/>
<rect x="183.4" y="158.4" width="8.4" height="2.1" fill="#9898ff" shape-rendering="crispEdges"/>
<rect x="183.4" y="160.4" width="8.4" height="2.1" fill="#ffeeee" shape-rendering="crispEdges"/>
<rect x="183.4" y="162.5" width="8.4" height="2.1" fill="#ffafaf" shape-rendering="crispEdges"/>
<rect x="183.4" y="164.5" width="8.4" height="2.1" fill="#f6f6ff" shape-rendering="crispEdges"/>
<rect x="191.7" y="41" width="8.4" height="2.1" fill="#ffd8d8" shape-rendering="crispEdges"/>
<rect x="191.7" y="43" width="8.4" height="2.1" fill="#ffa5a5" shape-rendering="crispEdges"/>
<rect x="191.7" y="45" width="8.4" height="2.1" fill="#ffbebe" shape-rendering="crispEdges"/>
<rect x="191.7" y="47.1" width="8.4" height="2.1" fill="#9191ff" shape-rendering="crispEdges"/>
<rect x="191.7" y="49.1" width="8.4" height="2.1" fill="#ffc0c0" shape-rendering="crispEdges"/>
<rect x="191.7" y="51.1" width="8.4" height="2.1" fill="#ff7f7f" shape-rendering="crispEdges"/>
<rect x="191.7" y="53.1" width="8.4" height="2.1" fill="#ffaaaa" shape-rendering="crispEdges"/>
<rect x="191.7" y="55.2" width="8.4" height="2.1" fill="#ffb0b0" shape-rendering="crispEdges"/>
<rect x="191.7" y="57.2" width="8.4" height="2.1" fill="#aeaeff" shape-rendering="crispEdges"/>
<rect x="191.7" y="59.2" width="8.4" height="2.1" fill="#ffb4b4" shape-rendering="crispEdges"/>
<rect x="191.7" y="61.2" width="8.4" height="2.1" fill="#cfcfff" shape-rendering="crispEdges"/>
<rect x="191.7" y="63.3" width="8.4" height="2.1" fill="#b1b1ff" shape-rendering="crispEdges"/>
<rect x="191.7" y="65.3" width="8.4" height="2.1" fill="#e0e0ff" shape-rendering="crispEdges"/>
<rect x="191.7" y="67.3" width="8.4" height="2.1" fill="#d8d8ff" shape-rendering="crispEdges"/>
<rect x="191.7" y="69.3" width="8.4" height="2.1" fill="#c8c8ff" shape-rendering="crispEdges"/>
<rect x="191.7" y="71.4" width="8.4" height="2.1" fill="#c3c3ff" shape-rendering="crispEdges"/>
<rect x="191.7" y="73.4" width="8.4" height="2.1" fill="#ffa9a9" shape-rendering="crispEdges"/>
<rect x="191.7" y="75.4" width="8.4" height="2.1" fill="#ffacac" shape-rendering="crispEdges"/>
<rect x="191.7" y="77.4" width="8.4" height="2.1" fill="#9b9bff" shape-rendering="crispEdges"/>
<rect x="191.7" y="79.5" width="8.4" height="2.1" fill="#a8a8ff" shape-rendering="crispEdges"/>
<rect x="191.7" y="81.5" width="8.4" height="2.1" fill="#e4e4ff" shape-rendering="crispEdges"/>
<rect x="191.7" y="83.5" width="8.4" height="2.1" fill="#b0b0ff" shape-rendering="crispEdges"/>
<rect x="191.7" y="85.5" width="8.4" height="2.1" fill="#b0b0ff" shape-rendering="crispEdges"/>
<rect x="191.7" y="87.6" width="8.4" height="2.1" fill="#bcbcff" shape-rendering="crispEdges"/>
<rect x="191.7" y="89.6" width="8.4" height="2.1" fill="#9393ff" shape-rendering="crispEdges"/>
<rect x="191.7" y="91.6" width="8.4" height="2.1" fill="#ececff" shape-rendering="crispEdges"/>
<rect x="191.7" y="93.6" width="8.4" height="2.1" fill="#8484ff" shape-rendering="crispEdges"/>
<rect x="191.7" y="95.7" width="8.4" height="2.1" fill="#ababff" shape-rendering="crispEdges"/>
<rect x="191.7" y="97.7" width="8.4" height="2.1" fill="#f3f3ff" shape-rendering="crispEdges"/>
<rect x="191.7" y="99.7" width="8.4" height="2.1" fill="#fff0f0" shape-rendering="crispEdges"/>
<rect x="191.7" y="101.7" width="8.4" height="2.1" fill="#ededff" shape-rendering="crispEdges"/>
<rect x="191.7" y="103.8" width="8.4" height="2.1" fill="#f4f4ff" shape-rendering="crispEdges"/>
<rect x="191.7" y="105.8" width="8.4" height="2.1" fill="#5b5bff" shape-rendering="crispEdges"/>
<rect x="191.7" y="107.8" width="8.4" height="2.1" fill="#b9b9ff" shape-rendering="crispEdges"/>
<rect x="191.7" y="109.8" width="8.4" height="2.1" fill="#a0a0ff" shape-rendering="crispEdges"/>
<rect x="191.7" y="111.8" width="8.4" height="2.1" fill="#5656ff" shape-rendering="crispEdges"/>
<rect x="191.7" y="113.9" width="8.4" height="2.1" fill="#9e9eff" shape-rendering="crispEdges"/>
<rect x="191.7" y="115.9" width="8.4" height="2.1" fill="#ffd7d7" shape-rendering="crispEdges"/>
<rect x="191.7" y="117.9" width="8.4" height="2.1" fill="#cacaff" shape-rendering="crispEdges"/>
<rect x="191.7" y="119.9" width="8.4" height="2.1" fill="#7373ff" shape-rendering="crispEdges"/>
<rect x="191.7" y="122" width="8.4" height="2.1" fill="#2828ff" shape-rendering="crispEdges"/>
<rect x="191.7" y="124" width="8.4" height="2.1" fill="#5454ff" shape-rendering="crispEdges"/>
<rect x="191.7" y="126" width="8.4" height="2.1" fill="#5353ff" shape-rendering="crispEdges"/>
<rect x="191.7" y="128" width="8.4" height="2.1" fill="#7e7eff" shape-rendering="crispEdges"/>
<rect x="191.7" y="130.1" width="8.4" height="2.1" fill="#fffcfc" shape-rendering="crispEdges"/>
<rect x="191.7" y="132.1" width="8.4" height="2.1" fill="#a0a0ff" shape-rendering="crispEdges"/>
<rect x="191.7" y="134.1" width="8.4" height="2.1" fill="#8282ff" shape-rendering="crispEdges"/>
<rect x="191.7" y="136.1" width="8.4" height="2.1" fill="#3333ff" shape-rendering="crispEdges"/>
<rect x="191.7" y="138.2" width="8.4" height="2.1" fill="#2828ff" shape-rendering="crispEdges"/>
<rect x="191.7" y="140.2" width="8.4" height="2.1" fill="#6363ff" shape-rendering="crispEdges"/>
<rect x="191.7" y="142.2" width="8.4" height="2.1" fill="#5b5bff" shape-rendering="crispEdges"/>
<rect x="191.7" y="144.2" width="8.4" height="2.1" fill="#ffc4c4" shape-rendering="crispEdges"/>
<rect x="191.7" y="146.3" width="8.4" height="2.1" fill="#6a6aff" shape-rendering="crispEdges"/>
<rect x="191.7" y="148.3" width="8.4" height="2.1" fill="#5656ff" shape-rendering="crispEdges"/>
<rect x="191.7" y="150.3" width="8.4" height="2.1" fill="#b8b8ff" shape-rendering="crispEdges"/>
<rect x="191.7" y="152.3" width="8.4" height="2.1" fill="#7272ff" shape-rendering="crispEdges"/>
<rect x="191.7" y="154.4" width="8.4" height="2.1" fill="#2828ff" shape-rendering="crispEdges"/>
<rect x="191.7" y="156.4" width="8.4" height="2.1" fill="#c0c0ff" shape-rendering="crispEdges"/>
<rect x="191.7" y="158.4" width="8.4" height="2.1" fill="#6666ff" shape-rendering="crispEdges"/>
<rect x="191.7" y="160.4" width="8.4" height="2.1" fill="#2f2fff" shape-rendering="crispEdges"/>
<rect x="191.7" y="162.5" width="8.4" height="2.1" fill="#9797ff" shape-rendering="crispEdges"/>
<rect x="191.7" y="164.5" width="8.4" height="2.1" fill="#a1a1ff" shape-rendering="crispEdges"/>
<rect x="200" y="41" width="8.4" height="2.1" fill="#ffcece" shape-rendering="crispEdges"/>
<rect x="200" y="43" width="8.4" height="2.1" fill="#ff8888" shape-rendering="crispEdges"/>
<rect x="200" y="45" width="8.4" height="2.1" fill="#ff8080" shape-rendering="crispEdges"/>
<rect x="200" y="47.1" width="8.4" height="2.1" fill="#fff3f3" shape-rendering="crispEdges"/>
<rect x="200" y="49.1" width="8.4" height="2.1" fill="#c3c3ff" shape-rendering="crispEdges"/>
<rect x="200" y="51.1" width="8.4" height="2.1" fill="#afafff" shape-rendering="crispEdges"/>
<rect x="200" y="53.1" width="8.4" height="2.1" fill="#ffd0d0" shape-rendering="crispEdges"/>
<rect x="200" y="55.2" width="8.4" height="2.1" fill="#ff8b8b" shape-rendering="crispEdges"/>
<rect x="200" y="57.2" width="8.4" height="2.1" fill="#ffb2b2" shape-rendering="crispEdges"/>
<rect x="200" y="59.2" width="8.4" height="2.1" fill="#ffafaf" shape-rendering="crispEdges"/>
<rect x="200" y="61.2" width="8.4" height="2.1" fill="#ffa3a3" shape-rendering="crispEdges"/>
<rect x="200" y="63.3" width="8.4" height="2.1" fill="#d0d0ff" shape-rendering="crispEdges"/>
<rect x="200" y="65.3" width="8.4" height="2.1" fill="#fefeff" shape-rendering="crispEdges"/>
<rect x="200" y="67.3" width="8.4" height="2.1" fill="#5050ff" shape-rendering="crispEdges"/>
<rect x="200" y="69.3" width="8.4" height="2.1" fill="#e6e6ff" shape-rendering="crispEdges"/>
<rect x="200" y="71.4" width="8.4" height="2.1" fill="#e5e5ff" shape-rendering="crispEdges"/>
<rect x="200" y="73.4" width="8.4" height="2.1" fill="#d9d9ff" shape-rendering="crispEdges"/>
<rect x="200" y="75.4" width="8.4" height="2.1" fill="#d2d2ff" shape-rendering="crispEdges"/>
<rect x="200" y="77.4" width="8.4" height="2.1" fill="#8787ff" shape-rendering="crispEdges"/>
<rect x="200" y="79.5" width="8.4" height="2.1" fill="#b0b0ff" shape-rendering="crispEdges"/>
<rect x="200" y="81.5" width="8.4" height="2.1" fill="#d2d2ff" shape-rendering="crispEdges"/>
<rect x="200" y="83.5" width="8.4" height="2.1" fill="#5454ff" shape-rendering="crispEdges"/>
<rect x="200" y="85.5" width="8.4" height="2.1" fill="#9595ff" shape-rendering="crispEdges"/>
<rect x="200" y="87.6" width="8.4" height="2.1" fill="#5757ff" shape-rendering="crispEdges"/>
<rect x="200" y="89.6" width="8.4" height="2.1" fill="#9999ff" shape-rendering="crispEdges"/>
<rect x="200" y="91.6" width="8.4" height="2.1" fill="#5b5bff" shape-rendering="crispEdges"/>
<rect x="200" y="93.6" width="8.4" height="2.1" fill="#c8c8ff" shape-rendering="crispEdges"/>
<rect x="200" y="95.7" width="8.4" height="2.1" fill="#bcbcff" shape-rendering="crispEdges"/>
<rect x="200" y="97.7" width="8.4" height="2.1" fill="#f4f4ff" shape-rendering="crispEdges"/>
<rect x="200" y="99.7" width="8.4" height="2.1" fill="#d2d2ff" shape-rendering="crispEdges"/>
<rect x="200" y="101.7" width="8.4" height="2.1" fill="#c1c1ff" shape-rendering="crispEdges"/>
<rect x="200" y="103.8" width="8.4" height="2.1" fill="#fff8f8" shape-rendering="crispEdges"/>
<rect x="200" y="105.8" width="8.4" height="2.1" fill="#ff8989" shape-rendering="crispEdges"/>
<rect x="200" y="107.8" width="8.4" height="2.1" fill="#ff6666" shape-rendering="crispEdges"/>
<rect x="200" y="109.8" width="8.4" height="2.1" fill="#fffafa" shape-rendering="crispEdges"/>
<rect x="200" y="111.8" width="8.4" height="2.1" fill="#ffc2c2" shape-rendering="crispEdges"/>
<rect x="200" y="113.9" width="8.4" height="2.1" fill="#ffd8d8" shape-rendering="crispEdges"/>
<rect x="200" y="115.9" width="8.4" height="2.1" fill="#fff1f1" shape-rendering="crispEdges"/>
<rect x="200" y="117.9" width="8.4" height="2.1" fill="#9d9dff" shape-rendering="crispEdges"/>
<rect x="200" y="119.9" width="8.4" height="2.1" fill="#ffe6e6" shape-rendering="crispEdges"/>
<rect x="200" y="122" width="8.4" height="2.1" fill="#ceceff" shape-rendering="crispEdges"/>
<rect x="200" y="124" width="8.4" height="2.1" fill="#ffaaaa" shape-rendering="crispEdges"/>
<rect x="200" y="126" width="8.4" height="2.1" fill="#ffcccc" shape-rendering="crispEdges"/>
<rect x="200" y="128" width="8.4" height="2.1" fill="#ffdfdf" shape-rendering="crispEdges"/>
<rect x="200" y="130.1" width="8.4" height="2.1" fill="#5656ff" shape-rendering="crispEdges"/>
<rect x="200" y="132.1" width="8.4" height="2.1" fill="#ffdcdc" shape-rendering="crispEdges"/>
<rect x="200" y="134.1" width="8.4" height="2.1" fill="#ffcbcb" shape-rendering="crispEdges"/>
<rect x="200" y="136.1" width="8.4" height="2.1" fill="#c0c0ff" shape-rendering="crispEdges"/>
<rect x="200" y="138.2" width="8.4" height="2.1" fill="#ffa2a2" shape-rendering="crispEdges"/>
<rect x="200" y="140.2" width="8.4" height="2.1" fill="#ffd7d7" shape-rendering="crispEdges"/>
<rect x="200" y="142.2" width="8.4" height="2.1" fill="#ffe0e0" shape-rendering="crispEdges"/>
<rect x="200" y="144.2" width="8.4" height="2.1" fill="#fffcfc" shape-rendering="crispEdges"/>
<rect x="200" y="146.3" width="8.4" height="2.1" fill="#f3f3ff" shape-rendering="crispEdges"/>
<rect x="200" y="148.3" width="8.4" height="2.1" fill="#ffecec" shape-rendering="crispEdges"/>
<rect x="200" y="150.3" width="8.4" height="2.1" fill="#ff0f0f" shape-rendering="crispEdges"/>
<rect x="200" y="152.3" width="8.4" height="2.1" fill="#ffd1d1" shape-rendering="crispEdges"/>
<rect x="200" y="154.4" width="8.4" height="2.1" fill="#ffd7d7" shape-rendering="crispEdges"/>
<rect x="200" y="156.4" width="8.4" height="2.1" fill="#ebebff" shape-rendering="crispEdges"/>
<rect x="200" y="158.4" width="8.4" height="2.1" fill="#eaeaff" shape-rendering="crispEdges"/>
<rect x="200" y="160.4" width="8.4" height="2.1" fill="#eaeaff" shape-rendering="crispEdges"/>
<rect x="200" y="162.5" width="8.4" height="2.1" fill="#d4d4ff" shape-rendering="crispEdges"/>
<rect x="200" y="164.5" width="8.4" height="2.1" fill="#ffb8b8" shape-rendering="crispEdges"/>
<rect x="208.3" y="41" width="8.4" height="2.1" fill="#6868ff" shape-rendering="crispEdges"/>
<rect x="208.3" y="43" width="8.4" height="2.1" fill="#adadff" shape-rendering="crispEdges"/>
<rect x="208.3" y="45" width="8.4" height="2.1" fill="#5252ff" shape-rendering="crispEdges"/>
<rect x="208.3" y="47.1" width="8.4" height="2.1" fill="#fff6f6" shape-rendering="crispEdges"/>
<rect x="208.3" y="49.1" width="8.4" height="2.1" fill="#fff8f8" shape-rendering="crispEdges"/>
<rect x="208.3" y="51.1" width="8.4" height="2.1" fill="#ff8b8b" shape-rendering="crispEdges"/>
<rect x="208.3" y="53.1" width="8.4" height="2.1" fill="#ffa7a7" shape-rendering="crispEdges"/>
<rect x="208.3" y="55.2" width="8.4" height="2.1" fill="#ffd4d4" shape-rendering="crispEdges"/>
<rect x="208.3" y="57.2" width="8.4" height="2.1" fill="#ff3e3e" shape-rendering="crispEdges"/>
<rect x="208.3" y="59.2" width="8.4" height="2.1" fill="#ffa6a6" shape-rendering="crispEdges"/>
<rect x="208.3" y="61.2" width="8.4" height="2.1" fill="#ff8484" shape-rendering="crispEdges"/>
<rect x="208.3" y="63.3" width="8.4" height="2.1" fill="#ffa7a7" shape-rendering="crispEdges"/>
<rect x="208.3" y="65.3" width="8.4" height="2.1" fill="#ff4e4e" shape-rendering="crispEdges"/>
<rect x="208.3" y="67.3" width="8.4" height="2.1" fill="#ff6666" shape-rendering="crispEdges"/>
<rect x="208.3" y="69.3" width="8.4" height="2.1" fill="#ff3838" shape-rendering="crispEdges"/>
<rect x="208.3" y="71.4" width="8.4" height="2.1" fill="#ff3434" shape-rendering="crispEdges"/>
<rect x="208.3" y="73.4" width="8.4" height="2.1" fill="#ff7979" shape-rendering="crispEdges"/>
<rect x="208.3" y="75.4" width="8.4" height="2.1" fill="#ffaaaa" shape-rendering="crispEdges"/>
<rect x="208.3" y="77.4" width="8.4" height="2.1" fill="#ff2e2e" shape-rendering="crispEdges"/>
<rect x="208.3" y="79.5" width="8.4" height="2.1" fill="#ff0f0f" shape-rendering="crispEdges"/>
<rect x="208.3" y="81.5" width="8.4" height="2.1" fill="#ff1c1c" shape-rendering="crispEdges"/>
<rect x="208.3" y="83.5" width="8.4" height="2.1" fill="#ff9898" shape-rendering="crispEdges"/>
<rect x="208.3" y="85.5" width="8.4" height="2.1" fill="#ff2222" shape-rendering="crispEdges"/>
<rect x="208.3" y="87.6" width="8.4" height="2.1" fill="#ff3131" shape-rendering="crispEdges"/>
<rect x="208.3" y="89.6" width="8.4" height="2.1" fill="#ff3838" shape-rendering="crispEdges"/>
<rect x="208.3" y="91.6" width="8.4" height="2.1" fill="#ff3333" shape-rendering="crispEdges"/>
<rect x="208.3" y="93.6" width="8.4" height="2.1" fill="#ff7575" shape-rendering="crispEdges"/>
<rect x="208.3" y="95.7" width="8.4" height="2.1" fill="#ff6060" shape-rendering="crispEdges"/>
<rect x="208.3" y="97.7" width="8.4" height="2.1" fill="#ff4040" shape-rendering="crispEdges"/>
<rect x="208.3" y="99.7" width="8.4" height="2.1" fill="#ffa2a2" shape-rendering="crispEdges"/>
<rect x="208.3" y="101.7" width="8.4" height="2.1" fill="#ffd2d2" shape-rendering="crispEdges"/>
<rect x="208.3" y="103.8" width="8.4" height="2.1" fill="#ff6868" shape-rendering="crispEdges"/>
<rect x="208.3" y="105.8" width="8.4" height="2.1" fill="#ff4545" shape-rendering="crispEdges"/>
<rect x="208.3" y="107.8" width="8.4" height="2.1" fill="#ffd0d0" shape-rendering="crispEdges"/>
<rect x="208.3" y="109.8" width="8.4" height="2.1" fill="#ff9191" shape-rendering="crispEdges"/>
<rect x="208.3" y="111.8" width="8.4" height="2.1" fill="#ff4b4b" shape-rendering="crispEdges"/>
<rect x="208.3" y="113.9" width="8.4" height="2.1" fill="#ff8c8c" shape-rendering="crispEdges"/>
<rect x="208.3" y="115.9" width="8.4" height="2.1" fill="#ff8989" shape-rendering="crispEdges"/>
<rect x="208.3" y="117.9" width="8.4" height="2.1" fill="#fff0f0" shape-rendering="crispEdges"/>
<rect x="208.3" y="119.9" width="8.4" height="2.1" fill="#ff6969" shape-rendering="crispEdges"/>
<rect x="208.3" y="122" width="8.4" height="2.1" fill="#ff3b3b" shape-rendering="crispEdges"/>
<rect x="208.3" y="124" width="8.4" height="2.1" fill="#ffb8b8" shape-rendering="crispEdges"/>
<rect x="208.3" y="126" width="8.4" height="2.1" fill="#ffd0d0" shape-rendering="crispEdges"/>
<rect x="208.3" y="128" width="8.4" height="2.1" fill="#ffe1e1" shape-rendering="crispEdges"/>
<rect x="208.3" y="130.1" width="8.4" height="2.1" fill="#ff4c4c" shape-rendering="crispEdges"/>
<rect x="208.3" y="132.1" width="8.4" height="2.1" fill="#ff6e6e" shape-rendering="crispEdges"/>
<rect x="208.3" y="134.1" width="8.4" height="2.1" fill="#ff9797" shape-rendering="crispEdges"/>
<rect x="208.3" y="136.1" width="8.4" height="2.1" fill="#ff0f0f" shape-rendering="crispEdges"/>
<rect x="208.3" y="138.2" width="8.4" height="2.1" fill="#ff0f0f" shape-rendering="crispEdges"/>
<rect x="208.3" y="140.2" width="8.4" height="2.1" fill="#ff1313" shape-rendering="crispEdges"/>
<rect x="208.3" y="142.2" width="8.4" height="2.1" fill="#ffb3b3" shape-rendering="crispEdges"/>
<rect x="208.3" y="144.2" width="8.4" height="2.1" fill="#ff4343" shape-rendering="crispEdges"/>
<rect x="208.3" y="146.3" width="8.4" height="2.1" fill="#ff1313" shape-rendering="crispEdges"/>
<rect x="208.3" y="148.3" width="8.4" height="2.1" fill="#ff9898" shape-rendering="crispEdges"/>
<rect x="208.3" y="150.3" width="8.4" height="2.1" fill="#ff0f0f" shape-rendering="crispEdges"/>
<rect x="208.3" y="152.3" width="8.4" height="2.1" fill="#ff0f0f" shape-rendering="crispEdges"/>
<rect x="208.3" y="154.4" width="8.4" height="2.1" fill="#ff1919" shape-rendering="crispEdges"/>
<rect x="208.3" y="156.4" width="8.4" height="2.1" fill="#ff9f9f" shape-rendering="crispEdges"/>
<rect x="208.3" y="158.4" width="8.4" height="2.1" fill="#ffaeae" shape-rendering="crispEdges"/>
<rect x="208.3" y="160.4" width="8.4" height="2.1" fill="#ff4e4e" shape-rendering="crispEdges"/>
<rect x="208.3" y="162.5" width="8.4" height="2.1" fill="#ff5353" shape-rendering="crispEdges"/>
<rect x="208.3" y="164.5" width="8.4" height="2.1" fill="#ff4343" shape-rendering="crispEdges"/>
<rect x="216.6" y="41" width="8.4" height="2.1" fill="#ff0f0f" shape-rendering="crispEdges"/>
<rect x="216.6" y="43" width="8.4" height="2.1" fill="#ff0f0f" shape-rendering="crispEdges"/>
<rect x="216.6" y="45" width="8.4" height="2.1" fill="#ff0f0f" shape-rendering="crispEdges"/>
<rect x="216.6" y="47.1" width="8.4" height="2.1" fill="#ff0f0f" shape-rendering="crispEdges"/>
<rect x="216.6" y="49.1" width="8.4" height="2.1" fill="#ff0f0f" shape-rendering="crispEdges"/>
<rect x="216.6" y="51.1" width="8.4" height="2.1" fill="#ff0f0f" shape-rendering="crispEdges"/>
<rect x="216.6" y="53.1" width="8.4" height="2.1" fill="#ff0f0f" shape-rendering="crispEdges"/>
<rect x="216.6" y="55.2" width="8.4" height="2.1" fill="#ff0f0f" shape-rendering="crispEdges"/>
<rect x="216.6" y="57.2" width="8.4" height="2.1" fill="#ff0f0f" shape-rendering="crispEdges"/>
<rect x="216.6" y="59.2" width="8.4" height="2.1" fill="#ff0f0f" shape-rendering="crispEdges"/>
<rect x="216.6" y="61.2" width="8.4" height="2.1" fill="#ff0f0f" shape-rendering="crispEdges"/>
<rect x="216.6" y="63.3" width="8.4" height="2.1" fill="#ff0f0f" shape-rendering="crispEdges"/>
<rect x="216.6" y="65.3" width="8.4" height="2.1" fill="#ff0f0f" shape-rendering="crispEdges"/>
<rect x="216.6" y="67.3" width="8.4" height="2.1" fill="#ff0f0f" shape-rendering="crispEdges"/>
<rect x="216.6" y="69.3" width="8.4" height="2.1" fill="#ff0f0f" shape-rendering="crispEdges"/>
<rect x="216.6" y="71.4" width="8.4" height="2.1" fill="#ff0f0f" shape-rendering="crispEdges"/>
<rect x="216.6" y="73.4" width="8.4" height="2.1" fill="#ff0f0f" shape-rendering="crispEdges"/>
<rect x="216.6" y="75.4" width="8.4" height="2.1" fill="#ff0f0f" shape-rendering="crispEdges"/>
<rect x="216.6" y="77.4" width="8.4" height="2.1" fill="#ff0f0f" shape-rendering="crispEdges"/>
<rect x="216.6" y="79.5" width="8.4" height="2.1" fill="#ff0f0f" shape-rendering="crispEdges"/>
<rect x="216.6" y="81.5" width="8.4" height="2.1" fill="#ff0f0f" shape-rendering="crispEdges"/>
<rect x="216.6" y="83.5" width="8.4" height="2.1" fill="#ff0f0f" shape-rendering="crispEdges"/>
<rect x="216.6" y="85.5" width="8.4" height="2.1" fill="#ff0f0f" shape-rendering="crispEdges"/>
<rect x="216.6" y="87.6" width="8.4" height="2.1" fill="#ff0f0f" shape-rendering="crispEdges"/>
<rect x="216.6" y="89.6" width="8.4" height="2.1" fill="#ff0f0f" shape-rendering="crispEdges"/>
<rect x="216.6" y="91.6" width="8.4" height="2.1" fill="#ff0f0f" shape-rendering="crispEdges"/>
<rect x="216.6" y="93.6" width="8.4" height="2.1" fill="#ff0f0f" shape-rendering="crispEdges"/>
<rect x="216.6" y="95.7" width="8.4" height="2.1" fill="#ff0f0f" shape-rendering="crispEdges"/>
<rect x="216.6" y="97.7" width="8.4" height="2.1" fill="#ff0f0f" shape-rendering="crispEdges"/>
<rect x="216.6" y="99.7" width="8.4" height="2.1" fill="#ff0f0f" shape-rendering="crispEdges"/>
<rect x="216.6" y="101.7" width="8.4" height="2.1" fill="#ff0f0f" shape-rendering="crispEdges"/>
<rect x="216.6" y="103.8" width="8.4" height="2.1" fill="#ff0f0f" shape-rendering="crispEdges"/>
<rect x="216.6" y="105.8" width="8.4" height="2.1" fill="#ff0f0f" shape-rendering="crispEdges"/>
<rect x="216.6" y="107.8" width="8.4" height="2.1" fill="#ff0f0f" shape-rendering="crispEdges"/>
<rect x="216.6" y="109.8" width="8.4" height="2.1" fill="#ff0f0f" shape-rendering="crispEdges"/>
<rect x="216.6" y="111.8" width="8.4" height="2.1" fill="#ff0f0f" shape-rendering="crispEdges"/>
<rect x="216.6" y="113.9" width="8.4" height="2.1" fill="#ff0f0f" shape-rendering="crispEdges"/>
<rect x="216.6" y="115.9" width="8.4" height="2.1" fill="#ff0f0f" shape-rendering="crispEdges"/>
<rect x="216.6" y="117.9" width="8.4" height="2.1" fill="#ff0f0f" shape-rendering="crispEdges"/>
<rect x="216.6" y="119.9" width="8.4" height="2.1" fill="#ff0f0f" shape-rendering="crispEdges"/>
<rect x="216.6" y="122" width="8.4" height="2.1" fill="#ff0f0f" shape-rendering="crispEdges"/>
<rect x="216.6" y="124" width="8.4" height="2.1" fill="#ff0f0f" shape-rendering="crispEdges"/>
<rect x="216.6" y="126" width="8.4" height="2.1" fill="#ff0f0f" shape-rendering="crispEdges"/>
<rect x="216.6" y="128" width="8.4" height="2.1" fill="#ff0f0f" shape-rendering="crispEdges"/>
<rect x="216.6" y="130.1" width="8.4" height="2.1" fill="#ff0f0f" shape-rendering="crispEdges"/>
<rect x="216.6" y="132.1" width="8.4" height="2.1" fill="#ff0f0f" shape-rendering="crispEdges"/>
<rect x="216.6" y="134.1" width="8.4" height="2.1" fill="#ff0f0f" shape-rendering="crispEdges"/>
<rect x="216.6" y="136.1" width="8.4" height="2.1" fill="#ff0f0f" shape-rendering="crispEdges"/>
<rect x="216.6" y="138.2" width="8.4" height="2.1" fill="#ff0f0f" shape-rendering="crispEdges"/>
<rect x="216.6" y="140.2" width="8.4" height="2.1" fill="#ff0f0f" shape-rendering="crispEdges"/>
<rect x="216.6" y="142.2" width="8.4" height="2.1" fill="#ff0f0f" shape-rendering="crispEdges"/>
<rect x="216.6" y="144.2" width="8.4" height="2.1" fill="#ff0f0f" shape-rendering="crispEdges"/>
<rect x="216.6" y="146.3" width="8.4" height="2.1" fill="#ff0f0f" shape-rendering="crispEdges"/>
<rect x="216.6" y="148.3" width="8.4" height="2.1" fill="#ff0f0f" shape-rendering="crispEdges"/>
<rect x="216.6" y="150.3" width="8.4" height="2.1" fill="#ff0f0f" shape-rendering="crispEdges"/>
<rect x="216.6" y="152.3" width="8.4" height="2.1" fill="#ff0f0f" shape-rendering="crispEdges"/>
<rect x="216.6" y="154.4" width="8.4" height="2.1" fill="#ff0f0f" shape-rendering="crispEdges"/>
<rect x="216.6" y="156.4" width="8.4" height="2.1" fill="#ff0f0f" shape-rendering="crispEdges"/>
<rect x="216.6" y="158.4" width="8.4" height="2.1" fill="#ff0f0f" shape-rendering="crispEdges"/>
<rect x="216.6" y="160.4" width="8.4" height="2.1" fill="#ff0f0f" shape-rendering="crispEdges"/>
<rect x="216.6" y="162.5" width="8.4" height="2.1" fill="#ff0f0f" shape-rendering="crispEdges"/>
<rect x="216.6" y="164.5" width="8.4" height="2.1" fill="#ff0f0f" shape-rendering="crispEdges"/>
<rect x="225" y="41" width="8.4" height="2.1" fill="#b1b1ff" shape-rendering="crispEdges"/>
<rect x="225" y="43" width="8.4" height="2.1" fill="#6262ff" shape-rendering="crispEdges"/>
<rect x="225" y="45" width="8.4" height="2.1" fill="#5050ff" shape-rendering="crispEdges"/>
<rect x="225" y="47.1" width="8.4" height="2.1" fill="#2828ff" shape-rendering="crispEdges"/>
<rect x="225" y="49.1" width="8.4" height="2.1" fill="#9898ff" shape-rendering="crispEdges"/>
<rect x="225" y="51.1" width="8.4" height="2.1" fill="#f2f2ff" shape-rendering="crispEdges"/>
<rect x="225" y="53.1" width="8.4" height="2.1" fill="#3e3eff" shape-rendering="crispEdges"/>
<rect x="225" y="55.2" width="8.4" height="2.1" fill="#2929ff" shape-rendering="crispEdges"/>
<rect x="225" y="57.2" width="8.4" height="2.1" fill="#5858ff" shape-rendering="crispEdges"/>
<rect x="225" y="59.2" width="8.4" height="2.1" fill="#3232ff" shape-rendering="crispEdges"/>
<rect x="225" y="61.2" width="8.4" height="2.1" fill="#2828ff" shape-rendering="crispEdges"/>
<rect x="225" y="63.3" width="8.4" height="2.1" fill="#2828ff" shape-rendering="crispEdges"/>
<rect x="225" y="65.3" width="8.4" height="2.1" fill="#2828ff" shape-rendering="crispEdges"/>
<rect x="225" y="67.3" width="8.4" height="2.1" fill="#9292ff" shape-rendering="crispEdges"/>
<rect x="225" y="69.3" width="8.4" height="2.1" fill="#2828ff" shape-rendering="crispEdges"/>
<rect x="225" y="71.4" width="8.4" height="2.1" fill="#7474ff" shape-rendering="crispEdges"/>
<rect x="225" y="73.4" width="8.4" height="2.1" fill="#c9c9ff" shape-rendering="crispEdges"/>
<rect x="225" y="75.4" width="8.4" height="2.1" fill="#dadaff" shape-rendering="crispEdges"/>
<rect x="225" y="77.4" width="8.4" height="2.1" fill="#a9a9ff" shape-rendering="crispEdges"/>
<rect x="225" y="79.5" width="8.4" height="2.1" fill="#a0a0ff" shape-rendering="crispEdges"/>
<rect x="225" y="81.5" width="8.4" height="2.1" fill="#2828ff" shape-rendering="crispEdges"/>
<rect x="225" y="83.5" width="8.4" height="2.1" fill="#2828ff" shape-rendering="crispEdges"/>
<rect x="225" y="85.5" width="8.4" height="2.1" fill="#2828ff" shape-rendering="crispEdges"/>
<rect x="225" y="87.6" width="8.4" height="2.1" fill="#3434ff" shape-rendering="crispEdges"/>
<rect x="225" y="89.6" width="8.4" height="2.1" fill="#f9f9ff" shape-rendering="crispEdges"/>
<rect x="225" y="91.6" width="8.4" height="2.1" fill="#2828ff" shape-rendering="crispEdges"/>
<rect x="225" y="93.6" width="8.4" height="2.1" fill="#8a8aff" shape-rendering="crispEdges"/>
<rect x="225" y="95.7" width="8.4" height="2.1" fill="#2828ff" shape-rendering="crispEdges"/>
<rect x="225" y="97.7" width="8.4" height="2.1" fill="#b9b9ff" shape-rendering="crispEdges"/>
<rect x="225" y="99.7" width="8.4" height="2.1" fill="#b4b4ff" shape-rendering="crispEdges"/>
<rect x="225" y="101.7" width="8.4" height="2.1" fill="#4040ff" shape-rendering="crispEdges"/>
<rect x="225" y="103.8" width="8.4" height="2.1" fill="#d5d5ff" shape-rendering="crispEdges"/>
<rect x="225" y="105.8" width="8.4" height="2.1" fill="#5555ff" shape-rendering="crispEdges"/>
<rect x="225" y="107.8" width="8.4" height="2.1" fill="#aeaeff" shape-rendering="crispEdges"/>
<rect x="225" y="109.8" width="8.4" height="2.1" fill="#9191ff" shape-rendering="crispEdges"/>
<rect x="225" y="111.8" width="8.4" height="2.1" fill="#7c7cff" shape-rendering="crispEdges"/>
<rect x="225" y="113.9" width="8.4" height="2.1" fill="#a6a6ff" shape-rendering="crispEdges"/>
<rect x="225" y="115.9" width="8.4" height="2.1" fill="#b4b4ff" shape-rendering="crispEdges"/>
<rect x="225" y="117.9" width="8.4" height="2.1" fill="#cfcfff" shape-rendering="crispEdges"/>
<rect x="225" y="119.9" width="8.4" height="2.1" fill="#a0a0ff" shape-rendering="crispEdges"/>
<rect x="225" y="122" width="8.4" height="2.1" fill="#ffe6e6" shape-rendering="crispEdges"/>
<rect x="225" y="124" width="8.4" height="2.1" fill="#7272ff" shape-rendering="crispEdges"/>
<rect x="225" y="126" width="8.4" height="2.1" fill="#5b5bff" shape-rendering="crispEdges"/>
<rect x="225" y="128" width="8.4" height="2.1" fill="#4444ff" shape-rendering="crispEdges"/>
<rect x="225" y="130.1" width="8.4" height="2.1" fill="#3a3aff" shape-rendering="crispEdges"/>
<rect x="225" y="132.1" width="8.4" height="2.1" fill="#2828ff" shape-rendering="crispEdges"/>
<rect x="225" y="134.1" width="8.4" height="2.1" fill="#4141ff" shape-rendering="crispEdges"/>
<rect x="225" y="136.1" width="8.4" height="2.1" fill="#bebeff" shape-rendering="crispEdges"/>
<rect x="225" y="138.2" width="8.4" height="2.1" fill="#9696ff" shape-rendering="crispEdges"/>
<rect x="225" y="140.2" width="8.4" height="2.1" fill="#a8a8ff" shape-rendering="crispEdges"/>
<rect x="225" y="142.2" width="8.4" height="2.1" fill="#e6e6ff" shape-rendering="crispEdges"/>
<rect x="225" y="144.2" width="8.4" height="2.1" fill="#ffc7c7" shape-rendering="crispEdges"/>
<rect x="225" y="146.3" width="8.4" height="2.1" fill="#ffcfcf" shape-rendering="crispEdges"/>
<rect x="225" y="148.3" width="8.4" height="2.1" fill="#ffdfdf" shape-rendering="crispEdges"/>
<rect x="225" y="150.3" width="8.4" height="2.1" fill="#b3b3ff" shape-rendering="crispEdges"/>
<rect x="225" y="152.3" width="8.4" height="2.1" fill="#adadff" shape-rendering="crispEdges"/>
<rect x="225" y="154.4" width="8.4" height="2.1" fill="#7272ff" shape-rendering="crispEdges"/>
<rect x="225" y="156.4" width="8.4" height="2.1" fill="#7878ff" shape-rendering="crispEdges"/>
<rect x="225" y="158.4" width="8.4" height="2.1" fill="#2a2aff" shape-rendering="crispEdges"/>
<rect x="225" y="160.4" width="8.4" height="2.1" fill="#2828ff" shape-rendering="crispEdges"/>
<rect x="225" y="162.5" width="8.4" height="2.1" fill="#2828ff" shape-rendering="crispEdges"/>
<rect x="225" y="164.5" width="8.4" height="2.1" fill="#2828ff" shape-rendering="crispEdges"/>
<rect x="233.3" y="41" width="8.4" height="2.1" fill="#ffc9c9" shape-rendering="crispEdges"/>
<rect x="233.3" y="43" width="8.4" height="2.1" fill="#ffd8d8" shape-rendering="crispEdges"/>
<rect x="233.3" y="45" width="8.4" height="2.1" fill="#ff6c6c" shape-rendering="crispEdges"/>
<rect x="233.3" y="47.1" width="8.4" height="2.1" fill="#fff2f2" shape-rendering="crispEdges"/>
<rect x="233.3" y="49.1" width="8.4" height="2.1" fill="#cdcdff" shape-rendering="crispEdges"/>
<rect x="233.3" y="51.1" width="8.4" height="2.1" fill="#fffdfd" shape-rendering="crispEdges"/>
<rect x="233.3" y="53.1" width="8.4" height="2.1" fill="#bbbbff" shape-rendering="crispEdges"/>
<rect x="233.3" y="55.2" width="8.4" height="2.1" fill="#d1d1ff" shape-rendering="crispEdges"/>
<rect x="233.3" y="57.2" width="8.4" height="2.1" fill="#ffcdcd" shape-rendering="crispEdges"/>
<rect x="233.3" y="59.2" width="8.4" height="2.1" fill="#d7d7ff" shape-rendering="crispEdges"/>
<rect x="233.3" y="61.2" width="8.4" height="2.1" fill="#7d7dff" shape-rendering="crispEdges"/>
<rect x="233.3" y="63.3" width="8.4" height="2.1" fill="#ffa4a4" shape-rendering="crispEdges"/>
<rect x="233.3" y="65.3" width="8.4" height="2.1" fill="#ff7171" shape-rendering="crispEdges"/>
<rect x="233.3" y="67.3" width="8.4" height="2.1" fill="#dadaff" shape-rendering="crispEdges"/>
<rect x="233.3" y="69.3" width="8.4" height="2.1" fill="#ffecec" shape-rendering="crispEdges"/>
<rect x="233.3" y="71.4" width="8.4" height="2.1" fill="#ff8181" shape-rendering="crispEdges"/>
<rect x="233.3" y="73.4" width="8.4" height="2.1" fill="#dcdcff" shape-rendering="crispEdges"/>
<rect x="233.3" y="75.4" width="8.4" height="2.1" fill="#ffd6d6" shape-rendering="crispEdges"/>
<rect x="233.3" y="77.4" width="8.4" height="2.1" fill="#f4f4ff" shape-rendering="crispEdges"/>
<rect x="233.3" y="79.5" width="8.4" height="2.1" fill="#ffe6e6" shape-rendering="crispEdges"/>
<rect x="233.3" y="81.5" width="8.4" height="2.1" fill="#8e8eff" shape-rendering="crispEdges"/>
<rect x="233.3" y="83.5" width="8.4" height="2.1" fill="#ffdada" shape-rendering="crispEdges"/>
<rect x="233.3" y="85.5" width="8.4" height="2.1" fill="#c9c9ff" shape-rendering="crispEdges"/>
<rect x="233.3" y="87.6" width="8.4" height="2.1" fill="#ccccff" shape-rendering="crispEdges"/>
<rect x="233.3" y="89.6" width="8.4" height="2.1" fill="#8e8eff" shape-rendering="crispEdges"/>
<rect x="233.3" y="91.6" width="8.4" height="2.1" fill="#2828ff" shape-rendering="crispEdges"/>
<rect x="233.3" y="93.6" width="8.4" height="2.1" fill="#7171ff" shape-rendering="crispEdges"/>
<rect x="233.3" y="95.7" width="8.4" height="2.1" fill="#2828ff" shape-rendering="crispEdges"/>
<rect x="233.3" y="97.7" width="8.4" height="2.1" fill="#5858ff" shape-rendering="crispEdges"/>
<rect x="233.3" y="99.7" width="8.4" height="2.1" fill="#2828ff" shape-rendering="crispEdges"/>
<rect x="233.3" y="101.7" width="8.4" height="2.1" fill="#4e4eff" shape-rendering="crispEdges"/>
<rect x="233.3" y="103.8" width="8.4" height="2.1" fill="#6363ff" shape-rendering="crispEdges"/>
<rect x="233.3" y="105.8" width="8.4" height="2.1" fill="#acacff" shape-rendering="crispEdges"/>
<rect x="233.3" y="107.8" width="8.4" height="2.1" fill="#b6b6ff" shape-rendering="crispEdges"/>
<rect x="233.3" y="109.8" width="8.4" height="2.1" fill="#5151ff" shape-rendering="crispEdges"/>
<rect x="233.3" y="111.8" width="8.4" height="2.1" fill="#9494ff" shape-rendering="crispEdges"/>
<rect x="233.3" y="113.9" width="8.4" height="2.1" fill="#f4f4ff" shape-rendering="crispEdges"/>
<rect x="233.3" y="115.9" width="8.4" height="2.1" fill="#bcbcff" shape-rendering="crispEdges"/>
<rect x="233.3" y="117.9" width="8.4" height="2.1" fill="#7272ff" shape-rendering="crispEdges"/>
<rect x="233.3" y="119.9" width="8.4" height="2.1" fill="#9797ff" shape-rendering="crispEdges"/>
<rect x="233.3" y="122" width="8.4" height="2.1" fill="#8989ff" shape-rendering="crispEdges"/>
<rect x="233.3" y="124" width="8.4" height="2.1" fill="#dadaff" shape-rendering="crispEdges"/>
<rect x="233.3" y="126" width="8.4" height="2.1" fill="#a7a7ff" shape-rendering="crispEdges"/>
<rect x="233.3" y="128" width="8.4" height="2.1" fill="#bfbfff" shape-rendering="crispEdges"/>
<rect x="233.3" y="130.1" width="8.4" height="2.1" fill="#ffc7c7" shape-rendering="crispEdges"/>
<rect x="233.3" y="132.1" width="8.4" height="2.1" fill="#6969ff" shape-rendering="crispEdges"/>
<rect x="233.3" y="134.1" width="8.4" height="2.1" fill="#9090ff" shape-rendering="crispEdges"/>
<rect x="233.3" y="136.1" width="8.4" height="2.1" fill="#7676ff" shape-rendering="crispEdges"/>
<rect x="233.3" y="138.2" width="8.4" height="2.1" fill="#8d8dff" shape-rendering="crispEdges"/>
<rect x="233.3" y="140.2" width="8.4" height="2.1" fill="#ffecec" shape-rendering="crispEdges"/>
<rect x="233.3" y="142.2" width="8.4" height="2.1" fill="#ddddff" shape-rendering="crispEdges"/>
<rect x="233.3" y="144.2" width="8.4" height="2.1" fill="#ffdede" shape-rendering="crispEdges"/>
<rect x="233.3" y="146.3" width="8.4" height="2.1" fill="#3434ff" shape-rendering="crispEdges"/>
<rect x="233.3" y="148.3" width="8.4" height="2.1" fill="#7272ff" shape-rendering="crispEdges"/>
<rect x="233.3" y="150.3" width="8.4" height="2.1" fill="#fbfbff" shape-rendering="crispEdges"/>
<rect x="233.3" y="152.3" width="8.4" height="2.1" fill="#dfdfff" shape-rendering="crispEdges"/>
<rect x="233.3" y="154.4" width="8.4" height="2.1" fill="#d7d7ff" shape-rendering="crispEdges"/>
<rect x="233.3" y="156.4" width="8.4" height="2.1" fill="#e1e1ff" shape-rendering="crispEdges"/>
<rect x="233.3" y="158.4" width="8.4" height="2.1" fill="#b8b8ff" shape-rendering="crispEdges"/>
<rect x="233.3" y="160.4" width="8.4" height="2.1" fill="#c0c0ff" shape-rendering="crispEdges"/>
<rect x="233.3" y="162.5" width="8.4" height="2.1" fill="#c9c9ff" shape-rendering="crispEdges"/>
<rect x="233.3" y="164.5" width="8.4" height="2.1" fill="#fafaff" shape-rendering="crispEdges"/>
<rect x="241.6" y="41" width="8.4" height="2.1" fill="#a2a2ff" shape-rendering="crispEdges"/>
<rect x="241.6" y="43" width="8.4" height="2.1" fill="#bfbfff" shape-rendering="crispEdges"/>
<rect x="241.6" y="45" width="8.4" height="2.1" fill="#ffe2e2" shape-rendering="crispEdges"/>
<rect x="241.6" y="47.1" width="8.4" height="2.1" fill="#a3a3ff" shape-rendering="crispEdges"/>
<rect x="241.6" y="49.1" width="8.4" height="2.1" fill="#e0e0ff" shape-rendering="crispEdges"/>
<rect x="241.6" y="51.1" width="8.4" height="2.1" fill="#ff9e9e" shape-rendering="crispEdges"/>
<rect x="241.6" y="53.1" width="8.4" height="2.1" fill="#ffd9d9" shape-rendering="crispEdges"/>
<rect x="241.6" y="55.2" width="8.4" height="2.1" fill="#ffe9e9" shape-rendering="crispEdges"/>
<rect x="241.6" y="57.2" width="8.4" height="2.1" fill="#ff6868" shape-rendering="crispEdges"/>
<rect x="241.6" y="59.2" width="8.4" height="2.1" fill="#fff1f1" shape-rendering="crispEdges"/>
<rect x="241.6" y="61.2" width="8.4" height="2.1" fill="#ececff" shape-rendering="crispEdges"/>
<rect x="241.6" y="63.3" width="8.4" height="2.1" fill="#ff8f8f" shape-rendering="crispEdges"/>
<rect x="241.6" y="65.3" width="8.4" height="2.1" fill="#ff1010" shape-rendering="crispEdges"/>
<rect x="241.6" y="67.3" width="8.4" height="2.1" fill="#ffe6e6" shape-rendering="crispEdges"/>
<rect x="241.6" y="69.3" width="8.4" height="2.1" fill="#ffe3e3" shape-rendering="crispEdges"/>
<rect x="241.6" y="71.4" width="8.4" height="2.1" fill="#ffcdcd" shape-rendering="crispEdges"/>
<rect x="241.6" y="73.4" width="8.4" height="2.1" fill="#e2e2ff" shape-rendering="crispEdges"/>
<rect x="241.6" y="75.4" width="8.4" height="2.1" fill="#ff7d7d" shape-rendering="crispEdges"/>
<rect x="241.6" y="77.4" width="8.4" height="2.1" fill="#ffd5d5" shape-rendering="crispEdges"/>
<rect x="241.6" y="79.5" width="8.4" height="2.1" fill="#fffcfc" shape-rendering="crispEdges"/>
<rect x="241.6" y="81.5" width="8.4" height="2.1" fill="#ffa9a9" shape-rendering="crispEdges"/>
<rect x="241.6" y="83.5" width="8.4" height="2.1" fill="#fff8f8" shape-rendering="crispEdges"/>
<rect x="241.6" y="85.5" width="8.4" height="2.1" fill="#d9d9ff" shape-rendering="crispEdges"/>
<rect x="241.6" y="87.6" width="8.4" height="2.1" fill="#cdcdff" shape-rendering="crispEdges"/>
<rect x="241.6" y="89.6" width="8.4" height="2.1" fill="#ffdbdb" shape-rendering="crispEdges"/>
<rect x="241.6" y="91.6" width="8.4" height="2.1" fill="#2828ff" shape-rendering="crispEdges"/>
<rect x="241.6" y="93.6" width="8.4" height="2.1" fill="#9494ff" shape-rendering="crispEdges"/>
<rect x="241.6" y="95.7" width="8.4" height="2.1" fill="#dadaff" shape-rendering="crispEdges"/>
<rect x="241.6" y="97.7" width="8.4" height="2.1" fill="#c3c3ff" shape-rendering="crispEdges"/>
<rect x="241.6" y="99.7" width="8.4" height="2.1" fill="#ffeded" shape-rendering="crispEdges"/>
<rect x="241.6" y="101.7" width="8.4" height="2.1" fill="#b0b0ff" shape-rendering="crispEdges"/>
<rect x="241.6" y="103.8" width="8.4" height="2.1" fill="#9696ff" shape-rendering="crispEdges"/>
<rect x="241.6" y="105.8" width="8.4" height="2.1" fill="#7e7eff" shape-rendering="crispEdges"/>
<rect x="241.6" y="107.8" width="8.4" height="2.1" fill="#5353ff" shape-rendering="crispEdges"/>
<rect x="241.6" y="109.8" width="8.4" height="2.1" fill="#f1f1ff" shape-rendering="crispEdges"/>
<rect x="241.6" y="111.8" width="8.4" height="2.1" fill="#4e4eff" shape-rendering="crispEdges"/>
<rect x="241.6" y="113.9" width="8.4" height="2.1" fill="#9595ff" shape-rendering="crispEdges"/>
<rect x="241.6" y="115.9" width="8.4" height="2.1" fill="#8181ff" shape-rendering="crispEdges"/>
<rect x="241.6" y="117.9" width="8.4" height="2.1" fill="#7575ff" shape-rendering="crispEdges"/>
<rect x="241.6" y="119.9" width="8.4" height="2.1" fill="#2828ff" shape-rendering="crispEdges"/>
<rect x="241.6" y="122" width="8.4" height="2.1" fill="#9494ff" shape-rendering="crispEdges"/>
<rect x="241.6" y="124" width="8.4" height="2.1" fill="#acacff" shape-rendering="crispEdges"/>
<rect x="241.6" y="126" width="8.4" height="2.1" fill="#a2a2ff" shape-rendering="crispEdges"/>
<rect x="241.6" y="128" width="8.4" height="2.1" fill="#c2c2ff" shape-rendering="crispEdges"/>
<rect x="241.6" y="130.1" width="8.4" height="2.1" fill="#7a7aff" shape-rendering="crispEdges"/>
<rect x="241.6" y="132.1" width="8.4" height="2.1" fill="#6363ff" shape-rendering="crispEdges"/>
<rect x="241.6" y="134.1" width="8.4" height="2.1" fill="#a3a3ff" shape-rendering="crispEdges"/>
<rect x="241.6" y="136.1" width="8.4" height="2.1" fill="#c0c0ff" shape-rendering="crispEdges"/>
<rect x="241.6" y="138.2" width="8.4" height="2.1" fill="#6868ff" shape-rendering="crispEdges"/>
<rect x="241.6" y="140.2" width="8.4" height="2.1" fill="#4646ff" shape-rendering="crispEdges"/>
<rect x="241.6" y="142.2" width="8.4" height="2.1" fill="#6767ff" shape-rendering="crispEdges"/>
<rect x="241.6" y="144.2" width="8.4" height="2.1" fill="#e9e9ff" shape-rendering="crispEdges"/>
<rect x="241.6" y="146.3" width="8.4" height="2.1" fill="#e5e5ff" shape-rendering="crispEdges"/>
<rect x="241.6" y="148.3" width="8.4" height="2.1" fill="#6161ff" shape-rendering="crispEdges"/>
<rect x="241.6" y="150.3" width="8.4" height="2.1" fill="#8c8cff" shape-rendering="crispEdges"/>
<rect x="241.6" y="152.3" width="8.4" height="2.1" fill="#a7a7ff" shape-rendering="crispEdges"/>
<rect x="241.6" y="154.4" width="8.4" height="2.1" fill="#bbbbff" shape-rendering="crispEdges"/>
<rect x="241.6" y="156.4" width="8.4" height="2.1" fill="#4a4aff" shape-rendering="crispEdges"/>
<rect x="241.6" y="158.4" width="8.4" height="2.1" fill="#6a6aff" shape-rendering="crispEdges"/>
<rect x="241.6" y="160.4" width="8.4" height="2.1" fill="#d5d5ff" shape-rendering="crispEdges"/>
<rect x="241.6" y="162.5" width="8.4" height="2.1" fill="#ffe6e6" shape-rendering="crispEdges"/>
<rect x="241.6" y="164.5" width="8.4" height="2.1" fill="#e0e0ff" shape-rendering="crispEdges"/>
<rect x="249.9" y="41" width="8.4" height="2.1" fill="#fbfbff" shape-rendering="crispEdges"/>
<rect x="249.9" y="43" width="8.4" height="2.1" fill="#ff9999" shape-rendering="crispEdges"/>
<rect x="249.9" y="45" width="8.4" height="2.1" fill="#ffe3e3" shape-rendering="crispEdges"/>
<rect x="249.9" y="47.1" width="8.4" height="2.1" fill="#fffdfd" shape-rendering="crispEdges"/>
<rect x="249.9" y="49.1" width="8.4" height="2.1" fill="#b6b6ff" shape-rendering="crispEdges"/>
<rect x="249.9" y="51.1" width="8.4" height="2.1" fill="#9b9bff" shape-rendering="crispEdges"/>
<rect x="249.9" y="53.1" width="8.4" height="2.1" fill="#c5c5ff" shape-rendering="crispEdges"/>
<rect x="249.9" y="55.2" width="8.4" height="2.1" fill="#ff9a9a" shape-rendering="crispEdges"/>
<rect x="249.9" y="57.2" width="8.4" height="2.1" fill="#ffbaba" shape-rendering="crispEdges"/>
<rect x="249.9" y="59.2" width="8.4" height="2.1" fill="#ffa2a2" shape-rendering="crispEdges"/>
<rect x="249.9" y="61.2" width="8.4" height="2.1" fill="#ffafaf" shape-rendering="crispEdges"/>
<rect x="249.9" y="63.3" width="8.4" height="2.1" fill="#ffdcdc" shape-rendering="crispEdges"/>
<rect x="249.9" y="65.3" width="8.4" height="2.1" fill="#ffb1b1" shape-rendering="crispEdges"/>
<rect x="249.9" y="67.3" width="8.4" height="2.1" fill="#ff4646" shape-rendering="crispEdges"/>
<rect x="249.9" y="69.3" width="8.4" height="2.1" fill="#ff6868" shape-rendering="crispEdges"/>
<rect x="249.9" y="71.4" width="8.4" height="2.1" fill="#ff2323" shape-rendering="crispEdges"/>
<rect x="249.9" y="73.4" width="8.4" height="2.1" fill="#ff9e9e" shape-rendering="crispEdges"/>
<rect x="249.9" y="75.4" width="8.4" height="2.1" fill="#ffb8b8" shape-rendering="crispEdges"/>
<rect x="249.9" y="77.4" width="8.4" height="2.1" fill="#e5e5ff" shape-rendering="crispEdges"/>
<rect x="249.9" y="79.5" width="8.4" height="2.1" fill="#ff8c8c" shape-rendering="crispEdges"/>
<rect x="249.9" y="81.5" width="8.4" height="2.1" fill="#ededff" shape-rendering="crispEdges"/>
<rect x="249.9" y="83.5" width="8.4" height="2.1" fill="#ff3838" shape-rendering="crispEdges"/>
<rect x="249.9" y="85.5" width="8.4" height="2.1" fill="#ffe8e8" shape-rendering="crispEdges"/>
<rect x="249.9" y="87.6" width="8.4" height="2.1" fill="#ffdddd" shape-rendering="crispEdges"/>
<rect x="249.9" y="89.6" width="8.4" height="2.1" fill="#b0b0ff" shape-rendering="crispEdges"/>
<rect x="249.9" y="91.6" width="8.4" height="2.1" fill="#cacaff" shape-rendering="crispEdges"/>
<rect x="249.9" y="93.6" width="8.4" height="2.1" fill="#9b9bff" shape-rendering="crispEdges"/>
<rect x="249.9" y="95.7" width="8.4" height="2.1" fill="#fffafa" shape-rendering="crispEdges"/>
<rect x="249.9" y="97.7" width="8.4" height="2.1" fill="#b9b9ff" shape-rendering="crispEdges"/>
<rect x="249.9" y="99.7" width="8.4" height="2.1" fill="#6868ff" shape-rendering="crispEdges"/>
<rect x="249.9" y="101.7" width="8.4" height="2.1" fill="#6060ff" shape-rendering="crispEdges"/>
<rect x="249.9" y="103.8" width="8.4" height="2.1" fill="#f7f7ff" shape-rendering="crispEdges"/>
<rect x="249.9" y="105.8" width="8.4" height="2.1" fill="#fff9f9" shape-rendering="crispEdges"/>
<rect x="249.9" y="107.8" width="8.4" height="2.1" fill="#e5e5ff" shape-rendering="crispEdges"/>
<rect x="249.9" y="109.8" width="8.4" height="2.1" fill="#ffbcbc" shape-rendering="crispEdges"/>
<rect x="249.9" y="111.8" width="8.4" height="2.1" fill="#fafaff" shape-rendering="crispEdges"/>
<rect x="249.9" y="113.9" width="8.4" height="2.1" fill="#fbfbff" shape-rendering="crispEdges"/>
<rect x="249.9" y="115.9" width="8.4" height="2.1" fill="#d0d0ff" shape-rendering="crispEdges"/>
<rect x="249.9" y="117.9" width="8.4" height="2.1" fill="#d8d8ff" shape-rendering="crispEdges"/>
<rect x="249.9" y="119.9" width="8.4" height="2.1" fill="#e6e6ff" shape-rendering="crispEdges"/>
<rect x="249.9" y="122" width="8.4" height="2.1" fill="#a8a8ff" shape-rendering="crispEdges"/>
<rect x="249.9" y="124" width="8.4" height="2.1" fill="#ffcfcf" shape-rendering="crispEdges"/>
<rect x="249.9" y="126" width="8.4" height="2.1" fill="#ffe6e6" shape-rendering="crispEdges"/>
<rect x="249.9" y="128" width="8.4" height="2.1" fill="#8e8eff" shape-rendering="crispEdges"/>
<rect x="249.9" y="130.1" width="8.4" height="2.1" fill="#f5f5ff" shape-rendering="crispEdges"/>
<rect x="249.9" y="132.1" width="8.4" height="2.1" fill="#ffb8b8" shape-rendering="crispEdges"/>
<rect x="249.9" y="134.1" width="8.4" height="2.1" fill="#ffebeb" shape-rendering="crispEdges"/>
<rect x="249.9" y="136.1" width="8.4" height="2.1" fill="#ff9797" shape-rendering="crispEdges"/>
<rect x="249.9" y="138.2" width="8.4" height="2.1" fill="#fff7f7" shape-rendering="crispEdges"/>
<rect x="249.9" y="140.2" width="8.4" height="2.1" fill="#fff8f8" shape-rendering="crispEdges"/>
<rect x="249.9" y="142.2" width="8.4" height="2.1" fill="#a5a5ff" shape-rendering="crispEdges"/>
<rect x="249.9" y="144.2" width="8.4" height="2.1" fill="#ababff" shape-rendering="crispEdges"/>
<rect x="249.9" y="146.3" width="8.4" height="2.1" fill="#6969ff" shape-rendering="crispEdges"/>
<rect x="249.9" y="148.3" width="8.4" height="2.1" fill="#b2b2ff" shape-rendering="crispEdges"/>
<rect x="249.9" y="150.3" width="8.4" height="2.1" fill="#fff4f4" shape-rendering="crispEdges"/>
<rect x="249.9" y="152.3" width="8.4" height="2.1" fill="#ffcece" shape-rendering="crispEdges"/>
<rect x="249.9" y="154.4" width="8.4" height="2.1" fill="#ff9595" shape-rendering="crispEdges"/>
<rect x="249.9" y="156.4" width="8.4" height="2.1" fill="#ffdbdb" shape-rendering="crispEdges"/>
<rect x="249.9" y="158.4" width="8.4" height="2.1" fill="#dbdbff" shape-rendering="crispEdges"/>
<rect x="249.9" y="160.4" width="8.4" height="2.1" fill="#ffc7c7" shape-rendering="crispEdges"/>
<rect x="249.9" y="162.5" width="8.4" height="2.1" fill="#ffeeee" shape-rendering="crispEdges"/>
<rect x="249.9" y="164.5" width="8.4" height="2.1" fill="#ff6c6c" shape-rendering="crispEdges"/>
<rect x="258.2" y="41" width="8.4" height="2.1" fill="#dfdfff" shape-rendering="crispEdges"/>
<rect x="258.2" y="43" width="8.4" height="2.1" fill="#a3a3ff" shape-rendering="crispEdges"/>
<rect x="258.2" y="45" width="8.4" height="2.1" fill="#2a2aff" shape-rendering="crispEdges"/>
<rect x="258.2" y="47.1" width="8.4" height="2.1" fill="#5959ff" shape-rendering="crispEdges"/>
<rect x="258.2" y="49.1" width="8.4" height="2.1" fill="#8f8fff" shape-rendering="crispEdges"/>
<rect x="258.2" y="51.1" width="8.4" height="2.1" fill="#6262ff" shape-rendering="crispEdges"/>
<rect x="258.2" y="53.1" width="8.4" height="2.1" fill="#a9a9ff" shape-rendering="crispEdges"/>
<rect x="258.2" y="55.2" width="8.4" height="2.1" fill="#a9a9ff" shape-rendering="crispEdges"/>
<rect x="258.2" y="57.2" width="8.4" height="2.1" fill="#a8a8ff" shape-rendering="crispEdges"/>
<rect x="258.2" y="59.2" width="8.4" height="2.1" fill="#7878ff" shape-rendering="crispEdges"/>
<rect x="258.2" y="61.2" width="8.4" height="2.1" fill="#3333ff" shape-rendering="crispEdges"/>
<rect x="258.2" y="63.3" width="8.4" height="2.1" fill="#3636ff" shape-rendering="crispEdges"/>
<rect x="258.2" y="65.3" width="8.4" height="2.1" fill="#6161ff" shape-rendering="crispEdges"/>
<rect x="258.2" y="67.3" width="8.4" height="2.1" fill="#b9b9ff" shape-rendering="crispEdges"/>
<rect x="258.2" y="69.3" width="8.4" height="2.1" fill="#d1d1ff" shape-rendering="crispEdges"/>
<rect x="258.2" y="71.4" width="8.4" height="2.1" fill="#b8b8ff" shape-rendering="crispEdges"/>
<rect x="258.2" y="73.4" width="8.4" height="2.1" fill="#9d9dff" shape-rendering="crispEdges"/>
<rect x="258.2" y="75.4" width="8.4" height="2.1" fill="#bbbbff" shape-rendering="crispEdges"/>
<rect x="258.2" y="77.4" width="8.4" height="2.1" fill="#dcdcff" shape-rendering="crispEdges"/>
<rect x="258.2" y="79.5" width="8.4" height="2.1" fill="#ffebeb" shape-rendering="crispEdges"/>
<rect x="258.2" y="81.5" width="8.4" height="2.1" fill="#ffeded" shape-rendering="crispEdges"/>
<rect x="258.2" y="83.5" width="8.4" height="2.1" fill="#8c8cff" shape-rendering="crispEdges"/>
<rect x="258.2" y="85.5" width="8.4" height="2.1" fill="#ffffff" shape-rendering="crispEdges"/>
<rect x="258.2" y="87.6" width="8.4" height="2.1" fill="#babaff" shape-rendering="crispEdges"/>
<rect x="258.2" y="89.6" width="8.4" height="2.1" fill="#6565ff" shape-rendering="crispEdges"/>
<rect x="258.2" y="91.6" width="8.4" height="2.1" fill="#8888ff" shape-rendering="crispEdges"/>
<rect x="258.2" y="93.6" width="8.4" height="2.1" fill="#7a7aff" shape-rendering="crispEdges"/>
<rect x="258.2" y="95.7" width="8.4" height="2.1" fill="#6565ff" shape-rendering="crispEdges"/>
<rect x="258.2" y="97.7" width="8.4" height="2.1" fill="#2828ff" shape-rendering="crispEdges"/>
<rect x="258.2" y="99.7" width="8.4" height="2.1" fill="#7a7aff" shape-rendering="crispEdges"/>
<rect x="258.2" y="101.7" width="8.4" height="2.1" fill="#adadff" shape-rendering="crispEdges"/>
<rect x="258.2" y="103.8" width="8.4" height="2.1" fill="#a1a1ff" shape-rendering="crispEdges"/>
<rect x="258.2" y="105.8" width="8.4" height="2.1" fill="#5c5cff" shape-rendering="crispEdges"/>
<rect x="258.2" y="107.8" width="8.4" height="2.1" fill="#dedeff" shape-rendering="crispEdges"/>
<rect x="258.2" y="109.8" width="8.4" height="2.1" fill="#e7e7ff" shape-rendering="crispEdges"/>
<rect x="258.2" y="111.8" width="8.4" height="2.1" fill="#c0c0ff" shape-rendering="crispEdges"/>
<rect x="258.2" y="113.9" width="8.4" height="2.1" fill="#c8c8ff" shape-rendering="crispEdges"/>
<rect x="258.2" y="115.9" width="8.4" height="2.1" fill="#a9a9ff" shape-rendering="crispEdges"/>
<rect x="258.2" y="117.9" width="8.4" height="2.1" fill="#b3b3ff" shape-rendering="crispEdges"/>
<rect x="258.2" y="119.9" width="8.4" height="2.1" fill="#ffe5e5" shape-rendering="crispEdges"/>
<rect x="258.2" y="122" width="8.4" height="2.1" fill="#fdfdff" shape-rendering="crispEdges"/>
<rect x="258.2" y="124" width="8.4" height="2.1" fill="#fff1f1" shape-rendering="crispEdges"/>
<rect x="258.2" y="126" width="8.4" height="2.1" fill="#ff4040" shape-rendering="crispEdges"/>
<rect x="258.2" y="128" width="8.4" height="2.1" fill="#f4f4ff" shape-rendering="crispEdges"/>
<rect x="258.2" y="130.1" width="8.4" height="2.1" fill="#b6b6ff" shape-rendering="crispEdges"/>
<rect x="258.2" y="132.1" width="8.4" height="2.1" fill="#6d6dff" shape-rendering="crispEdges"/>
<rect x="258.2" y="134.1" width="8.4" height="2.1" fill="#fbfbff" shape-rendering="crispEdges"/>
<rect x="258.2" y="136.1" width="8.4" height="2.1" fill="#ffacac" shape-rendering="crispEdges"/>
<rect x="258.2" y="138.2" width="8.4" height="2.1" fill="#ffe7e7" shape-rendering="crispEdges"/>
<rect x="258.2" y="140.2" width="8.4" height="2.1" fill="#ffcbcb" shape-rendering="crispEdges"/>
<rect x="258.2" y="142.2" width="8.4" height="2.1" fill="#b0b0ff" shape-rendering="crispEdges"/>
<rect x="258.2" y="144.2" width="8.4" height="2.1" fill="#ff9d9d" shape-rendering="crispEdges"/>
<rect x="258.2" y="146.3" width="8.4" height="2.1" fill="#fff5f5" shape-rendering="crispEdges"/>
<rect x="258.2" y="148.3" width="8.4" height="2.1" fill="#ffc6c6" shape-rendering="crispEdges"/>
<rect x="258.2" y="150.3" width="8.4" height="2.1" fill="#ffbfbf" shape-rendering="crispEdges"/>
<rect x="258.2" y="152.3" width="8.4" height="2.1" fill="#babaff" shape-rendering="crispEdges"/>
<rect x="258.2" y="154.4" width="8.4" height="2.1" fill="#e4e4ff" shape-rendering="crispEdges"/>
<rect x="258.2" y="156.4" width="8.4" height="2.1" fill="#adadff" shape-rendering="crispEdges"/>
<rect x="258.2" y="158.4" width="8.4" height="2.1" fill="#8787ff" shape-rendering="crispEdges"/>
<rect x="258.2" y="160.4" width="8.4" height="2.1" fill="#7878ff" shape-rendering="crispEdges"/>
<rect x="258.2" y="162.5" width="8.4" height="2.1" fill="#5050ff" shape-rendering="crispEdges"/>
<rect x="258.2" y="164.5" width="8.4" height="2.1" fill="#d1d1ff" shape-rendering="crispEdges"/>
<rect x="266.5" y="41" width="8.4" height="2.1" fill="#9f9fff" shape-rendering="crispEdges"/>
<rect x="266.5" y="43" width="8.4" height="2.1" fill="#b8b8ff" shape-rendering="crispEdges"/>
<rect x="266.5" y="45" width="8.4" height="2.1" fill="#b1b1ff" shape-rendering="crispEdges"/>
<rect x="266.5" y="47.1" width="8.4" height="2.1" fill="#c9c9ff" shape-rendering="crispEdges"/>
<rect x="266.5" y="49.1" width="8.4" height="2.1" fill="#bdbdff" shape-rendering="crispEdges"/>
<rect x="266.5" y="51.1" width="8.4" height="2.1" fill="#6e6eff" shape-rendering="crispEdges"/>
<rect x="266.5" y="53.1" width="8.4" height="2.1" fill="#8d8dff" shape-rendering="crispEdges"/>
<rect x="266.5" y="55.2" width="8.4" height="2.1" fill="#6c6cff" shape-rendering="crispEdges"/>
<rect x="266.5" y="57.2" width="8.4" height="2.1" fill="#7979ff" shape-rendering="crispEdges"/>
<rect x="266.5" y="59.2" width="8.4" height="2.1" fill="#9c9cff" shape-rendering="crispEdges"/>
<rect x="266.5" y="61.2" width="8.4" height="2.1" fill="#7070ff" shape-rendering="crispEdges"/>
<rect x="266.5" y="63.3" width="8.4" height="2.1" fill="#8080ff" shape-rendering="crispEdges"/>
<rect x="266.5" y="65.3" width="8.4" height="2.1" fill="#8f8fff" shape-rendering="crispEdges"/>
<rect x="266.5" y="67.3" width="8.4" height="2.1" fill="#a2a2ff" shape-rendering="crispEdges"/>
<rect x="266.5" y="69.3" width="8.4" height="2.1" fill="#6969ff" shape-rendering="crispEdges"/>
<rect x="266.5" y="71.4" width="8.4" height="2.1" fill="#9595ff" shape-rendering="crispEdges"/>
<rect x="266.5" y="73.4" width="8.4" height="2.1" fill="#2828ff" shape-rendering="crispEdges"/>
<rect x="266.5" y="75.4" width="8.4" height="2.1" fill="#c1c1ff" shape-rendering="crispEdges"/>
<rect x="266.5" y="77.4" width="8.4" height="2.1" fill="#9e9eff" shape-rendering="crispEdges"/>
<rect x="266.5" y="79.5" width="8.4" height="2.1" fill="#a2a2ff" shape-rendering="crispEdges"/>
<rect x="266.5" y="81.5" width="8.4" height="2.1" fill="#ffdbdb" shape-rendering="crispEdges"/>
<rect x="266.5" y="83.5" width="8.4" height="2.1" fill="#ff9696" shape-rendering="crispEdges"/>
<rect x="266.5" y="85.5" width="8.4" height="2.1" fill="#ff7d7d" shape-rendering="crispEdges"/>
<rect x="266.5" y="87.6" width="8.4" height="2.1" fill="#ff9696" shape-rendering="crispEdges"/>
<rect x="266.5" y="89.6" width="8.4" height="2.1" fill="#ffc7c7" shape-rendering="crispEdges"/>
<rect x="266.5" y="91.6" width="8.4" height="2.1" fill="#ff9090" shape-rendering="crispEdges"/>
<rect x="266.5" y="93.6" width="8.4" height="2.1" fill="#ff9191" shape-rendering="crispEdges"/>
<rect x="266.5" y="95.7" width="8.4" height="2.1" fill="#ffacac" shape-rendering="crispEdges"/>
<rect x="266.5" y="97.7" width="8.4" height="2.1" fill="#ffb5b5" shape-rendering="crispEdges"/>
<rect x="266.5" y="99.7" width="8.4" height="2.1" fill="#ff9090" shape-rendering="crispEdges"/>
<rect x="266.5" y="101.7" width="8.4" height="2.1" fill="#ff9595" shape-rendering="crispEdges"/>
<rect x="266.5" y="103.8" width="8.4" height="2.1" fill="#e7e7ff" shape-rendering="crispEdges"/>
<rect x="266.5" y="105.8" width="8.4" height="2.1" fill="#f6f6ff" shape-rendering="crispEdges"/>
<rect x="266.5" y="107.8" width="8.4" height="2.1" fill="#ffe3e3" shape-rendering="crispEdges"/>
<rect x="266.5" y="109.8" width="8.4" height="2.1" fill="#ffe9e9" shape-rendering="crispEdges"/>
<rect x="266.5" y="111.8" width="8.4" height="2.1" fill="#ffe2e2" shape-rendering="crispEdges"/>
<rect x="266.5" y="113.9" width="8.4" height="2.1" fill="#5353ff" shape-rendering="crispEdges"/>
<rect x="266.5" y="115.9" width="8.4" height="2.1" fill="#d4d4ff" shape-rendering="crispEdges"/>
<rect x="266.5" y="117.9" width="8.4" height="2.1" fill="#7979ff" shape-rendering="crispEdges"/>
<rect x="266.5" y="119.9" width="8.4" height="2.1" fill="#2828ff" shape-rendering="crispEdges"/>
<rect x="266.5" y="122" width="8.4" height="2.1" fill="#c5c5ff" shape-rendering="crispEdges"/>
<rect x="266.5" y="124" width="8.4" height="2.1" fill="#a5a5ff" shape-rendering="crispEdges"/>
<rect x="266.5" y="126" width="8.4" height="2.1" fill="#9999ff" shape-rendering="crispEdges"/>
<rect x="266.5" y="128" width="8.4" height="2.1" fill="#c7c7ff" shape-rendering="crispEdges"/>
<rect x="266.5" y="130.1" width="8.4" height="2.1" fill="#e8e8ff" shape-rendering="crispEdges"/>
<rect x="266.5" y="132.1" width="8.4" height="2.1" fill="#a0a0ff" shape-rendering="crispEdges"/>
<rect x="266.5" y="134.1" width="8.4" height="2.1" fill="#c9c9ff" shape-rendering="crispEdges"/>
<rect x="266.5" y="136.1" width="8.4" height="2.1" fill="#7b7bff" shape-rendering="crispEdges"/>
<rect x="266.5" y="138.2" width="8.4" height="2.1" fill="#f2f2ff" shape-rendering="crispEdges"/>
<rect x="266.5" y="140.2" width="8.4" height="2.1" fill="#ccccff" shape-rendering="crispEdges"/>
<rect x="266.5" y="142.2" width="8.4" height="2.1" fill="#b7b7ff" shape-rendering="crispEdges"/>
<rect x="266.5" y="144.2" width="8.4" height="2.1" fill="#c3c3ff" shape-rendering="crispEdges"/>
<rect x="266.5" y="146.3" width="8.4" height="2.1" fill="#dbdbff" shape-rendering="crispEdges"/>
<rect x="266.5" y="148.3" width="8.4" height="2.1" fill="#e9e9ff" shape-rendering="crispEdges"/>
<rect x="266.5" y="150.3" width="8.4" height="2.1" fill="#d8d8ff" shape-rendering="crispEdges"/>
<rect x="266.5" y="152.3" width="8.4" height="2.1" fill="#aeaeff" shape-rendering="crispEdges"/>
<rect x="266.5" y="154.4" width="8.4" height="2.1" fill="#6666ff" shape-rendering="crispEdges"/>
<rect x="266.5" y="156.4" width="8.4" height="2.1" fill="#ceceff" shape-rendering="crispEdges"/>
<rect x="266.5" y="158.4" width="8.4" height="2.1" fill="#f0f0ff" shape-rendering="crispEdges"/>
<rect x="266.5" y="160.4" width="8.4" height="2.1" fill="#fffcfc" shape-rendering="crispEdges"/>
<rect x="266.5" y="162.5" width="8.4" height="2.1" fill="#bebeff" shape-rendering="crispEdges"/>
<rect x="266.5" y="164.5" width="8.4" height="2.1" fill="#ffdcdc" shape-rendering="crispEdges"/>
<rect x="274.8" y="41" width="8.4" height="2.1" fill="#eeeeff" shape-rendering="crispEdges"/>
<rect x="274.8" y="43" width="8.4" height="2.1" fill="#f3f3ff" shape-rendering="crispEdges"/>
<rect x="274.8" y="45" width="8.4" height="2.1" fill="#c4c4ff" shape-rendering="crispEdges"/>
<rect x="274.8" y="47.1" width="8.4" height="2.1" fill="#f6f6ff" shape-rendering="crispEdges"/>
<rect x="274.8" y="49.1" width="8.4" height="2.1" fill="#7e7eff" shape-rendering="crispEdges"/>
<rect x="274.8" y="51.1" width="8.4" height="2.1" fill="#9d9dff" shape-rendering="crispEdges"/>
<rect x="274.8" y="53.1" width="8.4" height="2.1" fill="#9393ff" shape-rendering="crispEdges"/>
<rect x="274.8" y="55.2" width="8.4" height="2.1" fill="#6a6aff" shape-rendering="crispEdges"/>
<rect x="274.8" y="57.2" width="8.4" height="2.1" fill="#7676ff" shape-rendering="crispEdges"/>
<rect x="274.8" y="59.2" width="8.4" height="2.1" fill="#a3a3ff" shape-rendering="crispEdges"/>
<rect x="274.8" y="61.2" width="8.4" height="2.1" fill="#8282ff" shape-rendering="crispEdges"/>
<rect x="274.8" y="63.3" width="8.4" height="2.1" fill="#8b8bff" shape-rendering="crispEdges"/>
<rect x="274.8" y="65.3" width="8.4" height="2.1" fill="#b8b8ff" shape-rendering="crispEdges"/>
<rect x="274.8" y="67.3" width="8.4" height="2.1" fill="#8888ff" shape-rendering="crispEdges"/>
<rect x="274.8" y="69.3" width="8.4" height="2.1" fill="#3f3fff" shape-rendering="crispEdges"/>
<rect x="274.8" y="71.4" width="8.4" height="2.1" fill="#6969ff" shape-rendering="crispEdges"/>
<rect x="274.8" y="73.4" width="8.4" height="2.1" fill="#ababff" shape-rendering="crispEdges"/>
<rect x="274.8" y="75.4" width="8.4" height="2.1" fill="#8a8aff" shape-rendering="crispEdges"/>
<rect x="274.8" y="77.4" width="8.4" height="2.1" fill="#8e8eff" shape-rendering="crispEdges"/>
<rect x="274.8" y="79.5" width="8.4" height="2.1" fill="#9393ff" shape-rendering="crispEdges"/>
<rect x="274.8" y="81.5" width="8.4" height="2.1" fill="#ffe2e2" shape-rendering="crispEdges"/>
<rect x="274.8" y="83.5" width="8.4" height="2.1" fill="#ff8686" shape-rendering="crispEdges"/>
<rect x="274.8" y="85.5" width="8.4" height="2.1" fill="#fffcfc" shape-rendering="crispEdges"/>
<rect x="274.8" y="87.6" width="8.4" height="2.1" fill="#e2e2ff" shape-rendering="crispEdges"/>
<rect x="274.8" y="89.6" width="8.4" height="2.1" fill="#ffa2a2" shape-rendering="crispEdges"/>
<rect x="274.8" y="91.6" width="8.4" height="2.1" fill="#ffcdcd" shape-rendering="crispEdges"/>
<rect x="274.8" y="93.6" width="8.4" height="2.1" fill="#ffc4c4" shape-rendering="crispEdges"/>
<rect x="274.8" y="95.7" width="8.4" height="2.1" fill="#ffc7c7" shape-rendering="crispEdges"/>
<rect x="274.8" y="97.7" width="8.4" height="2.1" fill="#ffe3e3" shape-rendering="crispEdges"/>
<rect x="274.8" y="99.7" width="8.4" height="2.1" fill="#ffb2b2" shape-rendering="crispEdges"/>
<rect x="274.8" y="101.7" width="8.4" height="2.1" fill="#ffb4b4" shape-rendering="crispEdges"/>
<rect x="274.8" y="103.8" width="8.4" height="2.1" fill="#ffdddd" shape-rendering="crispEdges"/>
<rect x="274.8" y="105.8" width="8.4" height="2.1" fill="#d5d5ff" shape-rendering="crispEdges"/>
<rect x="274.8" y="107.8" width="8.4" height="2.1" fill="#ffe6e6" shape-rendering="crispEdges"/>
<rect x="274.8" y="109.8" width="8.4" height="2.1" fill="#b9b9ff" shape-rendering="crispEdges"/>
<rect x="274.8" y="111.8" width="8.4" height="2.1" fill="#c4c4ff" shape-rendering="crispEdges"/>
<rect x="274.8" y="113.9" width="8.4" height="2.1" fill="#5454ff" shape-rendering="crispEdges"/>
<rect x="274.8" y="115.9" width="8.4" height="2.1" fill="#a7a7ff" shape-rendering="crispEdges"/>
<rect x="274.8" y="117.9" width="8.4" height="2.1" fill="#afafff" shape-rendering="crispEdges"/>
<rect x="274.8" y="119.9" width="8.4" height="2.1" fill="#d1d1ff" shape-rendering="crispEdges"/>
<rect x="274.8" y="122" width="8.4" height="2.1" fill="#8e8eff" shape-rendering="crispEdges"/>
<rect x="274.8" y="124" width="8.4" height="2.1" fill="#b0b0ff" shape-rendering="crispEdges"/>
<rect x="274.8" y="126" width="8.4" height="2.1" fill="#8383ff" shape-rendering="crispEdges"/>
<rect x="274.8" y="128" width="8.4" height="2.1" fill="#e0e0ff" shape-rendering="crispEdges"/>
<rect x="274.8" y="130.1" width="8.4" height="2.1" fill="#e7e7ff" shape-rendering="crispEdges"/>
<rect x="274.8" y="132.1" width="8.4" height="2.1" fill="#f7f7ff" shape-rendering="crispEdges"/>
<rect x="274.8" y="134.1" width="8.4" height="2.1" fill="#a3a3ff" shape-rendering="crispEdges"/>
<rect x="274.8" y="136.1" width="8.4" height="2.1" fill="#7272ff" shape-rendering="crispEdges"/>
<rect x="274.8" y="138.2" width="8.4" height="2.1" fill="#b1b1ff" shape-rendering="crispEdges"/>
<rect x="274.8" y="140.2" width="8.4" height="2.1" fill="#a6a6ff" shape-rendering="crispEdges"/>
<rect x="274.8" y="142.2" width="8.4" height="2.1" fill="#8484ff" shape-rendering="crispEdges"/>
<rect x="274.8" y="144.2" width="8.4" height="2.1" fill="#ccccff" shape-rendering="crispEdges"/>
<rect x="274.8" y="146.3" width="8.4" height="2.1" fill="#dcdcff" shape-rendering="crispEdges"/>
<rect x="274.8" y="148.3" width="8.4" height="2.1" fill="#babaff" shape-rendering="crispEdges"/>
<rect x="274.8" y="150.3" width="8.4" height="2.1" fill="#dedeff" shape-rendering="crispEdges"/>
<rect x="274.8" y="152.3" width="8.4" height="2.1" fill="#b3b3ff" shape-rendering="crispEdges"/>
<rect x="274.8" y="154.4" width="8.4" height="2.1" fill="#6666ff" shape-rendering="crispEdges"/>
<rect x="274.8" y="156.4" width="8.4" height="2.1" fill="#8585ff" shape-rendering="crispEdges"/>
<rect x="274.8" y="158.4" width="8.4" height="2.1" fill="#9b9bff" shape-rendering="crispEdges"/>
<rect x="274.8" y="160.4" width="8.4" height="2.1" fill="#ddddff" shape-rendering="crispEdges"/>
<rect x="274.8" y="162.5" width="8.4" height="2.1" fill="#efefff" shape-rendering="crispEdges"/>
<rect x="274.8" y="164.5" width="8.4" height="2.1" fill="#c3c3ff" shape-rendering="crispEdges"/>
<rect x="283.1" y="41" width="8.4" height="2.1" fill="#cacaff" shape-rendering="crispEdges"/>
<rect x="283.1" y="43" width="8.4" height="2.1" fill="#dadaff" shape-rendering="crispEdges"/>
<rect x="283.1" y="45" width="8.4" height="2.1" fill="#ccccff" shape-rendering="crispEdges"/>
<rect x="283.1" y="47.1" width="8.4" height="2.1" fill="#aaaaff" shape-rendering="crispEdges"/>
<rect x="283.1" y="49.1" width="8.4" height="2.1" fill="#7272ff" shape-rendering="crispEdges"/>
<rect x="283.1" y="51.1" width="8.4" height="2.1" fill="#9b9bff" shape-rendering="crispEdges"/>
<rect x="283.1" y="53.1" width="8.4" height="2.1" fill="#adadff" shape-rendering="crispEdges"/>
<rect x="283.1" y="55.2" width="8.4" height="2.1" fill="#7e7eff" shape-rendering="crispEdges"/>
<rect x="283.1" y="57.2" width="8.4" height="2.1" fill="#3333ff" shape-rendering="crispEdges"/>
<rect x="283.1" y="59.2" width="8.4" height="2.1" fill="#5c5cff" shape-rendering="crispEdges"/>
<rect x="283.1" y="61.2" width="8.4" height="2.1" fill="#9090ff" shape-rendering="crispEdges"/>
<rect x="283.1" y="63.3" width="8.4" height="2.1" fill="#5050ff" shape-rendering="crispEdges"/>
<rect x="283.1" y="65.3" width="8.4" height="2.1" fill="#6a6aff" shape-rendering="crispEdges"/>
<rect x="283.1" y="67.3" width="8.4" height="2.1" fill="#6c6cff" shape-rendering="crispEdges"/>
<rect x="283.1" y="69.3" width="8.4" height="2.1" fill="#7070ff" shape-rendering="crispEdges"/>
<rect x="283.1" y="71.4" width="8.4" height="2.1" fill="#a0a0ff" shape-rendering="crispEdges"/>
<rect x="283.1" y="73.4" width="8.4" height="2.1" fill="#babaff" shape-rendering="crispEdges"/>
<rect x="283.1" y="75.4" width="8.4" height="2.1" fill="#5050ff" shape-rendering="crispEdges"/>
<rect x="283.1" y="77.4" width="8.4" height="2.1" fill="#8181ff" shape-rendering="crispEdges"/>
<rect x="283.1" y="79.5" width="8.4" height="2.1" fill="#ffd2d2" shape-rendering="crispEdges"/>
<rect x="283.1" y="81.5" width="8.4" height="2.1" fill="#ffcece" shape-rendering="crispEdges"/>
<rect x="283.1" y="83.5" width="8.4" height="2.1" fill="#ffbaba" shape-rendering="crispEdges"/>
<rect x="283.1" y="85.5" width="8.4" height="2.1" fill="#ffe0e0" shape-rendering="crispEdges"/>
<rect x="283.1" y="87.6" width="8.4" height="2.1" fill="#ffb5b5" shape-rendering="crispEdges"/>
<rect x="283.1" y="89.6" width="8.4" height="2.1" fill="#fffdfd" shape-rendering="crispEdges"/>
<rect x="283.1" y="91.6" width="8.4" height="2.1" fill="#ff4b4b" shape-rendering="crispEdges"/>
<rect x="283.1" y="93.6" width="8.4" height="2.1" fill="#ff9b9b" shape-rendering="crispEdges"/>
<rect x="283.1" y="95.7" width="8.4" height="2.1" fill="#ff9797" shape-rendering="crispEdges"/>
<rect x="283.1" y="97.7" width="8.4" height="2.1" fill="#ffa7a7" shape-rendering="crispEdges"/>
<rect x="283.1" y="99.7" width="8.4" height="2.1" fill="#ff7878" shape-rendering="crispEdges"/>
<rect x="283.1" y="101.7" width="8.4" height="2.1" fill="#ffd3d3" shape-rendering="crispEdges"/>
<rect x="283.1" y="103.8" width="8.4" height="2.1" fill="#ffe7e7" shape-rendering="crispEdges"/>
<rect x="283.1" y="105.8" width="8.4" height="2.1" fill="#c7c7ff" shape-rendering="crispEdges"/>
<rect x="283.1" y="107.8" width="8.4" height="2.1" fill="#d5d5ff" shape-rendering="crispEdges"/>
<rect x="283.1" y="109.8" width="8.4" height="2.1" fill="#cdcdff" shape-rendering="crispEdges"/>
<rect x="283.1" y="111.8" width="8.4" height="2.1" fill="#efefff" shape-rendering="crispEdges"/>
<rect x="283.1" y="113.9" width="8.4" height="2.1" fill="#6767ff" shape-rendering="crispEdges"/>
<rect x="283.1" y="115.9" width="8.4" height="2.1" fill="#5151ff" shape-rendering="crispEdges"/>
<rect x="283.1" y="117.9" width="8.4" height="2.1" fill="#5b5bff" shape-rendering="crispEdges"/>
<rect x="283.1" y="119.9" width="8.4" height="2.1" fill="#5f5fff" shape-rendering="crispEdges"/>
<rect x="283.1" y="122" width="8.4" height="2.1" fill="#dedeff" shape-rendering="crispEdges"/>
<rect x="283.1" y="124" width="8.4" height="2.1" fill="#2828ff" shape-rendering="crispEdges"/>
<rect x="283.1" y="126" width="8.4" height="2.1" fill="#9292ff" shape-rendering="crispEdges"/>
<rect x="283.1" y="128" width="8.4" height="2.1" fill="#e5e5ff" shape-rendering="crispEdges"/>
<rect x="283.1" y="130.1" width="8.4" height="2.1" fill="#e9e9ff" shape-rendering="crispEdges"/>
<rect x="283.1" y="132.1" width="8.4" height="2.1" fill="#a3a3ff" shape-rendering="crispEdges"/>
<rect x="283.1" y="134.1" width="8.4" height="2.1" fill="#afafff" shape-rendering="crispEdges"/>
<rect x="283.1" y="136.1" width="8.4" height="2.1" fill="#6b6bff" shape-rendering="crispEdges"/>
<rect x="283.1" y="138.2" width="8.4" height="2.1" fill="#8585ff" shape-rendering="crispEdges"/>
<rect x="283.1" y="140.2" width="8.4" height="2.1" fill="#3434ff" shape-rendering="crispEdges"/>
<rect x="283.1" y="142.2" width="8.4" height="2.1" fill="#c6c6ff" shape-rendering="crispEdges"/>
<rect x="283.1" y="144.2" width="8.4" height="2.1" fill="#9696ff" shape-rendering="crispEdges"/>
<rect x="283.1" y="146.3" width="8.4" height="2.1" fill="#8181ff" shape-rendering="crispEdges"/>
<rect x="283.1" y="148.3" width="8.4" height="2.1" fill="#7f7fff" shape-rendering="crispEdges"/>
<rect x="283.1" y="150.3" width="8.4" height="2.1" fill="#7777ff" shape-rendering="crispEdges"/>
<rect x="283.1" y="152.3" width="8.4" height="2.1" fill="#9191ff" shape-rendering="crispEdges"/>
<rect x="283.1" y="154.4" width="8.4" height="2.1" fill="#9191ff" shape-rendering="crispEdges"/>
<rect x="283.1" y="156.4" width="8.4" height="2.1" fill="#fff3f3" shape-rendering="crispEdges"/>
<rect x="283.1" y="158.4" width="8.4" height="2.1" fill="#8f8fff" shape-rendering="crispEdges"/>
<rect x="283.1" y="160.4" width="8.4" height="2.1" fill="#b7b7ff" shape-rendering="crispEdges"/>
<rect x="283.1" y="162.5" width="8.4" height="2.1" fill="#c5c5ff" shape-rendering="crispEdges"/>
<rect x="283.1" y="164.5" width="8.4" height="2.1" fill="#f7f7ff" shape-rendering="crispEdges"/>
<rect x="291.4" y="41" width="8.4" height="2.1" fill="#b5b5ff" shape-rendering="crispEdges"/>
<rect x="291.4" y="43" width="8.4" height="2.1" fill="#c8c8ff" shape-rendering="crispEdges"/>
<rect x="291.4" y="45" width="8.4" height="2.1" fill="#cacaff" shape-rendering="crispEdges"/>
<rect x="291.4" y="47.1" width="8.4" height="2.1" fill="#aaaaff" shape-rendering="crispEdges"/>
<rect x="291.4" y="49.1" width="8.4" height="2.1" fill="#bebeff" shape-rendering="crispEdges"/>
<rect x="291.4" y="51.1" width="8.4" height="2.1" fill="#9999ff" shape-rendering="crispEdges"/>
<rect x="291.4" y="53.1" width="8.4" height="2.1" fill="#8d8dff" shape-rendering="crispEdges"/>
<rect x="291.4" y="55.2" width="8.4" height="2.1" fill="#8888ff" shape-rendering="crispEdges"/>
<rect x="291.4" y="57.2" width="8.4" height="2.1" fill="#7272ff" shape-rendering="crispEdges"/>
<rect x="291.4" y="59.2" width="8.4" height="2.1" fill="#3e3eff" shape-rendering="crispEdges"/>
<rect x="291.4" y="61.2" width="8.4" height="2.1" fill="#9696ff" shape-rendering="crispEdges"/>
<rect x="291.4" y="63.3" width="8.4" height="2.1" fill="#b1b1ff" shape-rendering="crispEdges"/>
<rect x="291.4" y="65.3" width="8.4" height="2.1" fill="#7575ff" shape-rendering="crispEdges"/>
<rect x="291.4" y="67.3" width="8.4" height="2.1" fill="#6262ff" shape-rendering="crispEdges"/>
<rect x="291.4" y="69.3" width="8.4" height="2.1" fill="#6e6eff" shape-rendering="crispEdges"/>
<rect x="291.4" y="71.4" width="8.4" height="2.1" fill="#a2a2ff" shape-rendering="crispEdges"/>
<rect x="291.4" y="73.4" width="8.4" height="2.1" fill="#8181ff" shape-rendering="crispEdges"/>
<rect x="291.4" y="75.4" width="8.4" height="2.1" fill="#5555ff" shape-rendering="crispEdges"/>
<rect x="291.4" y="77.4" width="8.4" height="2.1" fill="#9f9fff" shape-rendering="crispEdges"/>
<rect x="291.4" y="79.5" width="8.4" height="2.1" fill="#b1b1ff" shape-rendering="crispEdges"/>
<rect x="291.4" y="81.5" width="8.4" height="2.1" fill="#f1f1ff" shape-rendering="crispEdges"/>
<rect x="291.4" y="83.5" width="8.4" height="2.1" fill="#f8f8ff" shape-rendering="crispEdges"/>
<rect x="291.4" y="85.5" width="8.4" height="2.1" fill="#fefeff" shape-rendering="crispEdges"/>
<rect x="291.4" y="87.6" width="8.4" height="2.1" fill="#ff9292" shape-rendering="crispEdges"/>
<rect x="291.4" y="89.6" width="8.4" height="2.1" fill="#ffa0a0" shape-rendering="crispEdges"/>
<rect x="291.4" y="91.6" width="8.4" height="2.1" fill="#efefff" shape-rendering="crispEdges"/>
<rect x="291.4" y="93.6" width="8.4" height="2.1" fill="#fff7f7" shape-rendering="crispEdges"/>
<rect x="291.4" y="95.7" width="8.4" height="2.1" fill="#ffe2e2" shape-rendering="crispEdges"/>
<rect x="291.4" y="97.7" width="8.4" height="2.1" fill="#ffe1e1" shape-rendering="crispEdges"/>
<rect x="291.4" y="99.7" width="8.4" height="2.1" fill="#e8e8ff" shape-rendering="crispEdges"/>
<rect x="291.4" y="101.7" width="8.4" height="2.1" fill="#ffcbcb" shape-rendering="crispEdges"/>
<rect x="291.4" y="103.8" width="8.4" height="2.1" fill="#9c9cff" shape-rendering="crispEdges"/>
<rect x="291.4" y="105.8" width="8.4" height="2.1" fill="#fff6f6" shape-rendering="crispEdges"/>
<rect x="291.4" y="107.8" width="8.4" height="2.1" fill="#eeeeff" shape-rendering="crispEdges"/>
<rect x="291.4" y="109.8" width="8.4" height="2.1" fill="#9898ff" shape-rendering="crispEdges"/>
<rect x="291.4" y="111.8" width="8.4" height="2.1" fill="#6c6cff" shape-rendering="crispEdges"/>
<rect x="291.4" y="113.9" width="8.4" height="2.1" fill="#7878ff" shape-rendering="crispEdges"/>
<rect x="291.4" y="115.9" width="8.4" height="2.1" fill="#7777ff" shape-rendering="crispEdges"/>
<rect x="291.4" y="117.9" width="8.4" height="2.1" fill="#2828ff" shape-rendering="crispEdges"/>
<rect x="291.4" y="119.9" width="8.4" height="2.1" fill="#3030ff" shape-rendering="crispEdges"/>
<rect x="291.4" y="122" width="8.4" height="2.1" fill="#9696ff" shape-rendering="crispEdges"/>
<rect x="291.4" y="124" width="8.4" height="2.1" fill="#7d7dff" shape-rendering="crispEdges"/>
<rect x="291.4" y="126" width="8.4" height="2.1" fill="#7979ff" shape-rendering="crispEdges"/>
<rect x="291.4" y="128" width="8.4" height="2.1" fill="#6565ff" shape-rendering="crispEdges"/>
<rect x="291.4" y="130.1" width="8.4" height="2.1" fill="#8181ff" shape-rendering="crispEdges"/>
<rect x="291.4" y="132.1" width="8.4" height="2.1" fill="#7d7dff" shape-rendering="crispEdges"/>
<rect x="291.4" y="134.1" width="8.4" height="2.1" fill="#ffb7b7" shape-rendering="crispEdges"/>
<rect x="291.4" y="136.1" width="8.4" height="2.1" fill="#5e5eff" shape-rendering="crispEdges"/>
<rect x="291.4" y="138.2" width="8.4" height="2.1" fill="#f6f6ff" shape-rendering="crispEdges"/>
<rect x="291.4" y="140.2" width="8.4" height="2.1" fill="#b9b9ff" shape-rendering="crispEdges"/>
<rect x="291.4" y="142.2" width="8.4" height="2.1" fill="#a6a6ff" shape-rendering="crispEdges"/>
<rect x="291.4" y="144.2" width="8.4" height="2.1" fill="#a2a2ff" shape-rendering="crispEdges"/>
<rect x="291.4" y="146.3" width="8.4" height="2.1" fill="#7f7fff" shape-rendering="crispEdges"/>
<rect x="291.4" y="148.3" width="8.4" height="2.1" fill="#e9e9ff" shape-rendering="crispEdges"/>
<rect x="291.4" y="150.3" width="8.4" height="2.1" fill="#a9a9ff" shape-rendering="crispEdges"/>
<rect x="291.4" y="152.3" width="8.4" height="2.1" fill="#8888ff" shape-rendering="crispEdges"/>
<rect x="291.4" y="154.4" width="8.4" height="2.1" fill="#8383ff" shape-rendering="crispEdges"/>
<rect x="291.4" y="156.4" width="8.4" height="2.1" fill="#9d9dff" shape-rendering="crispEdges"/>
<rect x="291.4" y="158.4" width="8.4" height="2.1" fill="#5c5cff" shape-rendering="crispEdges"/>
<rect x="291.4" y="160.4" width="8.4" height="2.1" fill="#9292ff" shape-rendering="crispEdges"/>
<rect x="291.4" y="162.5" width="8.4" height="2.1" fill="#8686ff" shape-rendering="crispEdges"/>
<rect x="291.4" y="164.5" width="8.4" height="2.1" fill="#cbcbff" shape-rendering="crispEdges"/>
<rect x="299.7" y="41" width="8.4" height="2.1" fill="#f4f4ff" shape-rendering="crispEdges"/>
<rect x="299.7" y="43" width="8.4" height="2.1" fill="#c7c7ff" shape-rendering="crispEdges"/>
<rect x="299.7" y="45" width="8.4" height="2.1" fill="#aaaaff" shape-rendering="crispEdges"/>
<rect x="299.7" y="47.1" width="8.4" height="2.1" fill="#e0e0ff" shape-rendering="crispEdges"/>
<rect x="299.7" y="49.1" width="8.4" height="2.1" fill="#b0b0ff" shape-rendering="crispEdges"/>
<rect x="299.7" y="51.1" width="8.4" height="2.1" fill="#2828ff" shape-rendering="crispEdges"/>
<rect x="299.7" y="53.1" width="8.4" height="2.1" fill="#5555ff" shape-rendering="crispEdges"/>
<rect x="299.7" y="55.2" width="8.4" height="2.1" fill="#acacff" shape-rendering="crispEdges"/>
<rect x="299.7" y="57.2" width="8.4" height="2.1" fill="#3f3fff" shape-rendering="crispEdges"/>
<rect x="299.7" y="59.2" width="8.4" height="2.1" fill="#7070ff" shape-rendering="crispEdges"/>
<rect x="299.7" y="61.2" width="8.4" height="2.1" fill="#9494ff" shape-rendering="crispEdges"/>
<rect x="299.7" y="63.3" width="8.4" height="2.1" fill="#9999ff" shape-rendering="crispEdges"/>
<rect x="299.7" y="65.3" width="8.4" height="2.1" fill="#ceceff" shape-rendering="crispEdges"/>
<rect x="299.7" y="67.3" width="8.4" height="2.1" fill="#bfbfff" shape-rendering="crispEdges"/>
<rect x="299.7" y="69.3" width="8.4" height="2.1" fill="#8888ff" shape-rendering="crispEdges"/>
<rect x="299.7" y="71.4" width="8.4" height="2.1" fill="#babaff" shape-rendering="crispEdges"/>
<rect x="299.7" y="73.4" width="8.4" height="2.1" fill="#a9a9ff" shape-rendering="crispEdges"/>
<rect x="299.7" y="75.4" width="8.4" height="2.1" fill="#adadff" shape-rendering="crispEdges"/>
<rect x="299.7" y="77.4" width="8.4" height="2.1" fill="#f2f2ff" shape-rendering="crispEdges"/>
<rect x="299.7" y="79.5" width="8.4" height="2.1" fill="#eeeeff" shape-rendering="crispEdges"/>
<rect x="299.7" y="81.5" width="8.4" height="2.1" fill="#ffc3c3" shape-rendering="crispEdges"/>
<rect x="299.7" y="83.5" width="8.4" height="2.1" fill="#ff9292" shape-rendering="crispEdges"/>
<rect x="299.7" y="85.5" width="8.4" height="2.1" fill="#ffc2c2" shape-rendering="crispEdges"/>
<rect x="299.7" y="87.6" width="8.4" height="2.1" fill="#ff9898" shape-rendering="crispEdges"/>
<rect x="299.7" y="89.6" width="8.4" height="2.1" fill="#ffdddd" shape-rendering="crispEdges"/>
<rect x="299.7" y="91.6" width="8.4" height="2.1" fill="#ffaaaa" shape-rendering="crispEdges"/>
<rect x="299.7" y="93.6" width="8.4" height="2.1" fill="#ffb1b1" shape-rendering="crispEdges"/>
<rect x="299.7" y="95.7" width="8.4" height="2.1" fill="#ffa4a4" shape-rendering="crispEdges"/>
<rect x="299.7" y="97.7" width="8.4" height="2.1" fill="#ff5d5d" shape-rendering="crispEdges"/>
<rect x="299.7" y="99.7" width="8.4" height="2.1" fill="#ff9a9a" shape-rendering="crispEdges"/>
<rect x="299.7" y="101.7" width="8.4" height="2.1" fill="#ffdddd" shape-rendering="crispEdges"/>
<rect x="299.7" y="103.8" width="8.4" height="2.1" fill="#ffd6d6" shape-rendering="crispEdges"/>
<rect x="299.7" y="105.8" width="8.4" height="2.1" fill="#ffe8e8" shape-rendering="crispEdges"/>
<rect x="299.7" y="107.8" width="8.4" height="2.1" fill="#ffdfdf" shape-rendering="crispEdges"/>
<rect x="299.7" y="109.8" width="8.4" height="2.1" fill="#ebebff" shape-rendering="crispEdges"/>
<rect x="299.7" y="111.8" width="8.4" height="2.1" fill="#a8a8ff" shape-rendering="crispEdges"/>
<rect x="299.7" y="113.9" width="8.4" height="2.1" fill="#b9b9ff" shape-rendering="crispEdges"/>
<rect x="299.7" y="115.9" width="8.4" height="2.1" fill="#5757ff" shape-rendering="crispEdges"/>
<rect x="299.7" y="117.9" width="8.4" height="2.1" fill="#3333ff" shape-rendering="crispEdges"/>
<rect x="299.7" y="119.9" width="8.4" height="2.1" fill="#c2c2ff" shape-rendering="crispEdges"/>
<rect x="299.7" y="122" width="8.4" height="2.1" fill="#8282ff" shape-rendering="crispEdges"/>
<rect x="299.7" y="124" width="8.4" height="2.1" fill="#a8a8ff" shape-rendering="crispEdges"/>
<rect x="299.7" y="126" width="8.4" height="2.1" fill="#5a5aff" shape-rendering="crispEdges"/>
<rect x="299.7" y="128" width="8.4" height="2.1" fill="#9b9bff" shape-rendering="crispEdges"/>
<rect x="299.7" y="130.1" width="8.4" height="2.1" fill="#a0a0ff" shape-rendering="crispEdges"/>
<rect x="299.7" y="132.1" width="8.4" height="2.1" fill="#a0a0ff" shape-rendering="crispEdges"/>
<rect x="299.7" y="134.1" width="8.4" height="2.1" fill="#ffd3d3" shape-rendering="crispEdges"/>
<rect x="299.7" y="136.1" width="8.4" height="2.1" fill="#9292ff" shape-rendering="crispEdges"/>
<rect x="299.7" y="138.2" width="8.4" height="2.1" fill="#f7f7ff" shape-rendering="crispEdges"/>
<rect x="299.7" y="140.2" width="8.4" height="2.1" fill="#b5b5ff" shape-rendering="crispEdges"/>
<rect x="299.7" y="142.2" width="8.4" height="2.1" fill="#e1e1ff" shape-rendering="crispEdges"/>
<rect x="299.7" y="144.2" width="8.4" height="2.1" fill="#6161ff" shape-rendering="crispEdges"/>
<rect x="299.7" y="146.3" width="8.4" height="2.1" fill="#b2b2ff" shape-rendering="crispEdges"/>
<rect x="299.7" y="148.3" width="8.4" height="2.1" fill="#b5b5ff" shape-rendering="crispEdges"/>
<rect x="299.7" y="150.3" width="8.4" height="2.1" fill="#b3b3ff" shape-rendering="crispEdges"/>
<rect x="299.7" y="152.3" width="8.4" height="2.1" fill="#bbbbff" shape-rendering="crispEdges"/>
<rect x="299.7" y="154.4" width="8.4" height="2.1" fill="#d2d2ff" shape-rendering="crispEdges"/>
<rect x="299.7" y="156.4" width="8.4" height="2.1" fill="#c3c3ff" shape-rendering="crispEdges"/>
<rect x="299.7" y="158.4" width="8.4" height="2.1" fill="#b5b5ff" shape-rendering="crispEdges"/>
<rect x="299.7" y="160.4" width="8.4" height="2.1" fill="#8c8cff" shape-rendering="crispEdges"/>
<rect x="299.7" y="162.5" width="8.4" height="2.1" fill="#b9b9ff" shape-rendering="crispEdges"/>
<rect x="299.7" y="164.5" width="8.4" height="2.1" fill="#c0c0ff" shape-rendering="crispEdges"/>
<rect x="308.1" y="41" width="8.4" height="2.1" fill="#d1d1ff" shape-rendering="crispEdges"/>
<rect x="308.1" y="43" width="8.4" height="2.1" fill="#c9c9ff" shape-rendering="crispEdges"/>
<rect x="308.1" y="45" width="8.4" height="2.1" fill="#7575ff" shape-rendering="crispEdges"/>
<rect x="308.1" y="47.1" width="8.4" height="2.1" fill="#9999ff" shape-rendering="crispEdges"/>
<rect x="308.1" y="49.1" width="8.4" height="2.1" fill="#9e9eff" shape-rendering="crispEdges"/>
<rect x="308.1" y="51.1" width="8.4" height="2.1" fill="#3535ff" shape-rendering="crispEdges"/>
<rect x="308.1" y="53.1" width="8.4" height="2.1" fill="#3232ff" shape-rendering="crispEdges"/>
<rect x="308.1" y="55.2" width="8.4" height="2.1" fill="#9898ff" shape-rendering="crispEdges"/>
<rect x="308.1" y="57.2" width="8.4" height="2.1" fill="#8d8dff" shape-rendering="crispEdges"/>
<rect x="308.1" y="59.2" width="8.4" height="2.1" fill="#3030ff" shape-rendering="crispEdges"/>
<rect x="308.1" y="61.2" width="8.4" height="2.1" fill="#7f7fff" shape-rendering="crispEdges"/>
<rect x="308.1" y="63.3" width="8.4" height="2.1" fill="#6b6bff" shape-rendering="crispEdges"/>
<rect x="308.1" y="65.3" width="8.4" height="2.1" fill="#9494ff" shape-rendering="crispEdges"/>
<rect x="308.1" y="67.3" width="8.4" height="2.1" fill="#6060ff" shape-rendering="crispEdges"/>
<rect x="308.1" y="69.3" width="8.4" height="2.1" fill="#6868ff" shape-rendering="crispEdges"/>
<rect x="308.1" y="71.4" width="8.4" height="2.1" fill="#5656ff" shape-rendering="crispEdges"/>
<rect x="308.1" y="73.4" width="8.4" height="2.1" fill="#7f7fff" shape-rendering="crispEdges"/>
<rect x="308.1" y="75.4" width="8.4" height="2.1" fill="#7878ff" shape-rendering="crispEdges"/>
<rect x="308.1" y="77.4" width="8.4" height="2.1" fill="#8d8dff" shape-rendering="crispEdges"/>
<rect x="308.1" y="79.5" width="8.4" height="2.1" fill="#c3c3ff" shape-rendering="crispEdges"/>
<rect x="308.1" y="81.5" width="8.4" height="2.1" fill="#dcdcff" shape-rendering="crispEdges"/>
<rect x="308.1" y="83.5" width="8.4" height="2.1" fill="#ffc2c2" shape-rendering="crispEdges"/>
<rect x="308.1" y="85.5" width="8.4" height="2.1" fill="#f9f9ff" shape-rendering="crispEdges"/>
<rect x="308.1" y="87.6" width="8.4" height="2.1" fill="#eaeaff" shape-rendering="crispEdges"/>
<rect x="308.1" y="89.6" width="8.4" height="2.1" fill="#fff7f7" shape-rendering="crispEdges"/>
<rect x="308.1" y="91.6" width="8.4" height="2.1" fill="#ff9999" shape-rendering="crispEdges"/>
<rect x="308.1" y="93.6" width="8.4" height="2.1" fill="#ffe1e1" shape-rendering="crispEdges"/>
<rect x="308.1" y="95.7" width="8.4" height="2.1" fill="#ffb0b0" shape-rendering="crispEdges"/>
<rect x="308.1" y="97.7" width="8.4" height="2.1" fill="#ffaeae" shape-rendering="crispEdges"/>
<rect x="308.1" y="99.7" width="8.4" height="2.1" fill="#fff0f0" shape-rendering="crispEdges"/>
<rect x="308.1" y="101.7" width="8.4" height="2.1" fill="#ffd0d0" shape-rendering="crispEdges"/>
<rect x="308.1" y="103.8" width="8.4" height="2.1" fill="#ffe9e9" shape-rendering="crispEdges"/>
<rect x="308.1" y="105.8" width="8.4" height="2.1" fill="#dfdfff" shape-rendering="crispEdges"/>
<rect x="308.1" y="107.8" width="8.4" height="2.1" fill="#a2a2ff" shape-rendering="crispEdges"/>
<rect x="308.1" y="109.8" width="8.4" height="2.1" fill="#aaaaff" shape-rendering="crispEdges"/>
<rect x="308.1" y="111.8" width="8.4" height="2.1" fill="#4a4aff" shape-rendering="crispEdges"/>
<rect x="308.1" y="113.9" width="8.4" height="2.1" fill="#6767ff" shape-rendering="crispEdges"/>
<rect x="308.1" y="115.9" width="8.4" height="2.1" fill="#4f4fff" shape-rendering="crispEdges"/>
<rect x="308.1" y="117.9" width="8.4" height="2.1" fill="#8b8bff" shape-rendering="crispEdges"/>
<rect x="308.1" y="119.9" width="8.4" height="2.1" fill="#8a8aff" shape-rendering="crispEdges"/>
<rect x="308.1" y="122" width="8.4" height="2.1" fill="#5656ff" shape-rendering="crispEdges"/>
<rect x="308.1" y="124" width="8.4" height="2.1" fill="#b5b5ff" shape-rendering="crispEdges"/>
<rect x="308.1" y="126" width="8.4" height="2.1" fill="#d3d3ff" shape-rendering="crispEdges"/>
<rect x="308.1" y="128" width="8.4" height="2.1" fill="#a0a0ff" shape-rendering="crispEdges"/>
<rect x="308.1" y="130.1" width="8.4" height="2.1" fill="#8080ff" shape-rendering="crispEdges"/>
<rect x="308.1" y="132.1" width="8.4" height="2.1" fill="#c4c4ff" shape-rendering="crispEdges"/>
<rect x="308.1" y="134.1" width="8.4" height="2.1" fill="#2828ff" shape-rendering="crispEdges"/>
<rect x="308.1" y="136.1" width="8.4" height="2.1" fill="#8484ff" shape-rendering="crispEdges"/>
<rect x="308.1" y="138.2" width="8.4" height="2.1" fill="#c3c3ff" shape-rendering="crispEdges"/>
<rect x="308.1" y="140.2" width="8.4" height="2.1" fill="#ffeeee" shape-rendering="crispEdges"/>
<rect x="308.1" y="142.2" width="8.4" height="2.1" fill="#7373ff" shape-rendering="crispEdges"/>
<rect x="308.1" y="144.2" width="8.4" height="2.1" fill="#ededff" shape-rendering="crispEdges"/>
<rect x="308.1" y="146.3" width="8.4" height="2.1" fill="#ffe5e5" shape-rendering="crispEdges"/>
<rect x="308.1" y="148.3" width="8.4" height="2.1" fill="#fafaff" shape-rendering="crispEdges"/>
<rect x="308.1" y="150.3" width="8.4" height="2.1" fill="#2828ff" shape-rendering="crispEdges"/>
<rect x="308.1" y="152.3" width="8.4" height="2.1" fill="#c8c8ff" shape-rendering="crispEdges"/>
<rect x="308.1" y="154.4" width="8.4" height="2.1" fill="#9595ff" shape-rendering="crispEdges"/>
<rect x="308.1" y="156.4" width="8.4" height="2.1" fill="#ccccff" shape-rendering="crispEdges"/>
<rect x="308.1" y="158.4" width="8.4" height="2.1" fill="#9292ff" shape-rendering="crispEdges"/>
<rect x="308.1" y="160.4" width="8.4" height="2.1" fill="#8383ff" shape-rendering="crispEdges"/>
<rect x="308.1" y="162.5" width="8.4" height="2.1" fill="#9d9dff" shape-rendering="crispEdges"/>
<rect x="308.1" y="164.5" width="8.4" height="2.1" fill="#fdfdff" shape-rendering="crispEdges"/>
<rect x="316.4" y="41" width="8.4" height="2.1" fill="#ddddff" shape-rendering="crispEdges"/>
<rect x="316.4" y="43" width="8.4" height="2.1" fill="#fffefe" shape-rendering="crispEdges"/>
<rect x="316.4" y="45" width="8.4" height="2.1" fill="#8f8fff" shape-rendering="crispEdges"/>
<rect x="316.4" y="47.1" width="8.4" height="2.1" fill="#ffd8d8" shape-rendering="crispEdges"/>
<rect x="316.4" y="49.1" width="8.4" height="2.1" fill="#cdcdff" shape-rendering="crispEdges"/>
<rect x="316.4" y="51.1" width="8.4" height="2.1" fill="#c0c0ff" shape-rendering="crispEdges"/>
<rect x="316.4" y="53.1" width="8.4" height="2.1" fill="#6161ff" shape-rendering="crispEdges"/>
<rect x="316.4" y="55.2" width="8.4" height="2.1" fill="#b3b3ff" shape-rendering="crispEdges"/>
<rect x="316.4" y="57.2" width="8.4" height="2.1" fill="#9898ff" shape-rendering="crispEdges"/>
<rect x="316.4" y="59.2" width="8.4" height="2.1" fill="#c1c1ff" shape-rendering="crispEdges"/>
<rect x="316.4" y="61.2" width="8.4" height="2.1" fill="#c7c7ff" shape-rendering="crispEdges"/>
<rect x="316.4" y="63.3" width="8.4" height="2.1" fill="#5757ff" shape-rendering="crispEdges"/>
<rect x="316.4" y="65.3" width="8.4" height="2.1" fill="#6a6aff" shape-rendering="crispEdges"/>
<rect x="316.4" y="67.3" width="8.4" height="2.1" fill="#6868ff" shape-rendering="crispEdges"/>
<rect x="316.4" y="69.3" width="8.4" height="2.1" fill="#7c7cff" shape-rendering="crispEdges"/>
<rect x="316.4" y="71.4" width="8.4" height="2.1" fill="#8989ff" shape-rendering="crispEdges"/>
<rect x="316.4" y="73.4" width="8.4" height="2.1" fill="#b5b5ff" shape-rendering="crispEdges"/>
<rect x="316.4" y="75.4" width="8.4" height="2.1" fill="#6666ff" shape-rendering="crispEdges"/>
<rect x="316.4" y="77.4" width="8.4" height="2.1" fill="#8b8bff" shape-rendering="crispEdges"/>
<rect x="316.4" y="79.5" width="8.4" height="2.1" fill="#ffffff" shape-rendering="crispEdges"/>
<rect x="316.4" y="81.5" width="8.4" height="2.1" fill="#f5f5ff" shape-rendering="crispEdges"/>
<rect x="316.4" y="83.5" width="8.4" height="2.1" fill="#ffa7a7" shape-rendering="crispEdges"/>
<rect x="316.4" y="85.5" width="8.4" height="2.1" fill="#ffafaf" shape-rendering="crispEdges"/>
<rect x="316.4" y="87.6" width="8.4" height="2.1" fill="#ff7575" shape-rendering="crispEdges"/>
<rect x="316.4" y="89.6" width="8.4" height="2.1" fill="#ffdcdc" shape-rendering="crispEdges"/>
<rect x="316.4" y="91.6" width="8.4" height="2.1" fill="#ffc0c0" shape-rendering="crispEdges"/>
<rect x="316.4" y="93.6" width="8.4" height="2.1" fill="#ff6c6c" shape-rendering="crispEdges"/>
<rect x="316.4" y="95.7" width="8.4" height="2.1" fill="#ff9f9f" shape-rendering="crispEdges"/>
<rect x="316.4" y="97.7" width="8.4" height="2.1" fill="#ffe7e7" shape-rendering="crispEdges"/>
<rect x="316.4" y="99.7" width="8.4" height="2.1" fill="#ffa5a5" shape-rendering="crispEdges"/>
<rect x="316.4" y="101.7" width="8.4" height="2.1" fill="#dcdcff" shape-rendering="crispEdges"/>
<rect x="316.4" y="103.8" width="8.4" height="2.1" fill="#cbcbff" shape-rendering="crispEdges"/>
<rect x="316.4" y="105.8" width="8.4" height="2.1" fill="#ffd6d6" shape-rendering="crispEdges"/>
<rect x="316.4" y="107.8" width="8.4" height="2.1" fill="#ffe0e0" shape-rendering="crispEdges"/>
<rect x="316.4" y="109.8" width="8.4" height="2.1" fill="#ffd2d2" shape-rendering="crispEdges"/>
<rect x="316.4" y="111.8" width="8.4" height="2.1" fill="#ababff" shape-rendering="crispEdges"/>
<rect x="316.4" y="113.9" width="8.4" height="2.1" fill="#7070ff" shape-rendering="crispEdges"/>
<rect x="316.4" y="115.9" width="8.4" height="2.1" fill="#e2e2ff" shape-rendering="crispEdges"/>
<rect x="316.4" y="117.9" width="8.4" height="2.1" fill="#cacaff" shape-rendering="crispEdges"/>
<rect x="316.4" y="119.9" width="8.4" height="2.1" fill="#9090ff" shape-rendering="crispEdges"/>
<rect x="316.4" y="122" width="8.4" height="2.1" fill="#ababff" shape-rendering="crispEdges"/>
<rect x="316.4" y="124" width="8.4" height="2.1" fill="#8c8cff" shape-rendering="crispEdges"/>
<rect x="316.4" y="126" width="8.4" height="2.1" fill="#f0f0ff" shape-rendering="crispEdges"/>
<rect x="316.4" y="128" width="8.4" height="2.1" fill="#b6b6ff" shape-rendering="crispEdges"/>
<rect x="316.4" y="130.1" width="8.4" height="2.1" fill="#d1d1ff" shape-rendering="crispEdges"/>
<rect x="316.4" y="132.1" width="8.4" height="2.1" fill="#ffc7c7" shape-rendering="crispEdges"/>
<rect x="316.4" y="134.1" width="8.4" height="2.1" fill="#7575ff" shape-rendering="crispEdges"/>
<rect x="316.4" y="136.1" width="8.4" height="2.1" fill="#5757ff" shape-rendering="crispEdges"/>
<rect x="316.4" y="138.2" width="8.4" height="2.1" fill="#f0f0ff" shape-rendering="crispEdges"/>
<rect x="316.4" y="140.2" width="8.4" height="2.1" fill="#6464ff" shape-rendering="crispEdges"/>
<rect x="316.4" y="142.2" width="8.4" height="2.1" fill="#2828ff" shape-rendering="crispEdges"/>
<rect x="316.4" y="144.2" width="8.4" height="2.1" fill="#a9a9ff" shape-rendering="crispEdges"/>
<rect x="316.4" y="146.3" width="8.4" height="2.1" fill="#ffe0e0" shape-rendering="crispEdges"/>
<rect x="316.4" y="148.3" width="8.4" height="2.1" fill="#dcdcff" shape-rendering="crispEdges"/>
<rect x="316.4" y="150.3" width="8.4" height="2.1" fill="#a1a1ff" shape-rendering="crispEdges"/>
<rect x="316.4" y="152.3" width="8.4" height="2.1" fill="#7e7eff" shape-rendering="crispEdges"/>
<rect x="316.4" y="154.4" width="8.4" height="2.1" fill="#bebeff" shape-rendering="crispEdges"/>
<rect x="316.4" y="156.4" width="8.4" height="2.1" fill="#7777ff" shape-rendering="crispEdges"/>
<rect x="316.4" y="158.4" width="8.4" height="2.1" fill="#4b4bff" shape-rendering="crispEdges"/>
<rect x="316.4" y="160.4" width="8.4" height="2.1" fill="#a9a9ff" shape-rendering="crispEdges"/>
<rect x="316.4" y="162.5" width="8.4" height="2.1" fill="#d6d6ff" shape-rendering="crispEdges"/>
<rect x="316.4" y="164.5" width="8.4" height="2.1" fill="#f2f2ff" shape-rendering="crispEdges"/>
<rect x="324.7" y="41" width="8.4" height="2.1" fill="#fff2f2" shape-rendering="crispEdges"/>
<rect x="324.7" y="43" width="8.4" height="2.1" fill="#f3f3ff" shape-rendering="crispEdges"/>
<rect x="324.7" y="45" width="8.4" height="2.1" fill="#dadaff" shape-rendering="crispEdges"/>
<rect x="324.7" y="47.1" width="8.4" height="2.1" fill="#8989ff" shape-rendering="crispEdges"/>
<rect x="324.7" y="49.1" width="8.4" height="2.1" fill="#a2a2ff" shape-rendering="crispEdges"/>
<rect x="324.7" y="51.1" width="8.4" height="2.1" fill="#ceceff" shape-rendering="crispEdges"/>
<rect x="324.7" y="53.1" width="8.4" height="2.1" fill="#a9a9ff" shape-rendering="crispEdges"/>
<rect x="324.7" y="55.2" width="8.4" height="2.1" fill="#4848ff" shape-rendering="crispEdges"/>
<rect x="324.7" y="57.2" width="8.4" height="2.1" fill="#2b2bff" shape-rendering="crispEdges"/>
<rect x="324.7" y="59.2" width="8.4" height="2.1" fill="#6464ff" shape-rendering="crispEdges"/>
<rect x="324.7" y="61.2" width="8.4" height="2.1" fill="#8585ff" shape-rendering="crispEdges"/>
<rect x="324.7" y="63.3" width="8.4" height="2.1" fill="#6868ff" shape-rendering="crispEdges"/>
<rect x="324.7" y="65.3" width="8.4" height="2.1" fill="#7272ff" shape-rendering="crispEdges"/>
<rect x="324.7" y="67.3" width="8.4" height="2.1" fill="#8c8cff" shape-rendering="crispEdges"/>
<rect x="324.7" y="69.3" width="8.4" height="2.1" fill="#a6a6ff" shape-rendering="crispEdges"/>
<rect x="324.7" y="71.4" width="8.4" height="2.1" fill="#8e8eff" shape-rendering="crispEdges"/>
<rect x="324.7" y="73.4" width="8.4" height="2.1" fill="#bbbbff" shape-rendering="crispEdges"/>
<rect x="324.7" y="75.4" width="8.4" height="2.1" fill="#5555ff" shape-rendering="crispEdges"/>
<rect x="324.7" y="77.4" width="8.4" height="2.1" fill="#cbcbff" shape-rendering="crispEdges"/>
<rect x="324.7" y="79.5" width="8.4" height="2.1" fill="#f3f3ff" shape-rendering="crispEdges"/>
<rect x="324.7" y="81.5" width="8.4" height="2.1" fill="#cfcfff" shape-rendering="crispEdges"/>
<rect x="324.7" y="83.5" width="8.4" height="2.1" fill="#ff9292" shape-rendering="crispEdges"/>
<rect x="324.7" y="85.5" width="8.4" height="2.1" fill="#f3f3ff" shape-rendering="crispEdges"/>
<rect x="324.7" y="87.6" width="8.4" height="2.1" fill="#fefeff" shape-rendering="crispEdges"/>
<rect x="324.7" y="89.6" width="8.4" height="2.1" fill="#ff4141" shape-rendering="crispEdges"/>
<rect x="324.7" y="91.6" width="8.4" height="2.1" fill="#ff7b7b" shape-rendering="crispEdges"/>
<rect x="324.7" y="93.6" width="8.4" height="2.1" fill="#ffa7a7" shape-rendering="crispEdges"/>
<rect x="324.7" y="95.7" width="8.4" height="2.1" fill="#ff7c7c" shape-rendering="crispEdges"/>
<rect x="324.7" y="97.7" width="8.4" height="2.1" fill="#ff8888" shape-rendering="crispEdges"/>
<rect x="324.7" y="99.7" width="8.4" height="2.1" fill="#fffafa" shape-rendering="crispEdges"/>
<rect x="324.7" y="101.7" width="8.4" height="2.1" fill="#ffc8c8" shape-rendering="crispEdges"/>
<rect x="324.7" y="103.8" width="8.4" height="2.1" fill="#ff9d9d" shape-rendering="crispEdges"/>
<rect x="324.7" y="105.8" width="8.4" height="2.1" fill="#eaeaff" shape-rendering="crispEdges"/>
<rect x="324.7" y="107.8" width="8.4" height="2.1" fill="#dedeff" shape-rendering="crispEdges"/>
<rect x="324.7" y="109.8" width="8.4" height="2.1" fill="#a4a4ff" shape-rendering="crispEdges"/>
<rect x="324.7" y="111.8" width="8.4" height="2.1" fill="#ccccff" shape-rendering="crispEdges"/>
<rect x="324.7" y="113.9" width="8.4" height="2.1" fill="#6868ff" shape-rendering="crispEdges"/>
<rect x="324.7" y="115.9" width="8.4" height="2.1" fill="#6060ff" shape-rendering="crispEdges"/>
<rect x="324.7" y="117.9" width="8.4" height="2.1" fill="#3f3fff" shape-rendering="crispEdges"/>
<rect x="324.7" y="119.9" width="8.4" height="2.1" fill="#5353ff" shape-rendering="crispEdges"/>
<rect x="324.7" y="122" width="8.4" height="2.1" fill="#9898ff" shape-rendering="crispEdges"/>
<rect x="324.7" y="124" width="8.4" height="2.1" fill="#b1b1ff" shape-rendering="crispEdges"/>
<rect x="324.7" y="126" width="8.4" height="2.1" fill="#8c8cff" shape-rendering="crispEdges"/>
<rect x="324.7" y="128" width="8.4" height="2.1" fill="#7373ff" shape-rendering="crispEdges"/>
<rect x="324.7" y="130.1" width="8.4" height="2.1" fill="#cdcdff" shape-rendering="crispEdges"/>
<rect x="324.7" y="132.1" width="8.4" height="2.1" fill="#ceceff" shape-rendering="crispEdges"/>
<rect x="324.7" y="134.1" width="8.4" height="2.1" fill="#fffefe" shape-rendering="crispEdges"/>
<rect x="324.7" y="136.1" width="8.4" height="2.1" fill="#9a9aff" shape-rendering="crispEdges"/>
<rect x="324.7" y="138.2" width="8.4" height="2.1" fill="#9d9dff" shape-rendering="crispEdges"/>
<rect x="324.7" y="140.2" width="8.4" height="2.1" fill="#ceceff" shape-rendering="crispEdges"/>
<rect x="324.7" y="142.2" width="8.4" height="2.1" fill="#fffafa" shape-rendering="crispEdges"/>
<rect x="324.7" y="144.2" width="8.4" height="2.1" fill="#a7a7ff" shape-rendering="crispEdges"/>
<rect x="324.7" y="146.3" width="8.4" height="2.1" fill="#a1a1ff" shape-rendering="crispEdges"/>
<rect x="324.7" y="148.3" width="8.4" height="2.1" fill="#6d6dff" shape-rendering="crispEdges"/>
<rect x="324.7" y="150.3" width="8.4" height="2.1" fill="#8a8aff" shape-rendering="crispEdges"/>
<rect x="324.7" y="152.3" width="8.4" height="2.1" fill="#d1d1ff" shape-rendering="crispEdges"/>
<rect x="324.7" y="154.4" width="8.4" height="2.1" fill="#ccccff" shape-rendering="crispEdges"/>
<rect x="324.7" y="156.4" width="8.4" height="2.1" fill="#e4e4ff" shape-rendering="crispEdges"/>
<rect x="324.7" y="158.4" width="8.4" height="2.1" fill="#5050ff" shape-rendering="crispEdges"/>
<rect x="324.7" y="160.4" width="8.4" height="2.1" fill="#e6e6ff" shape-rendering="crispEdges"/>
<rect x="324.7" y="162.5" width="8.4" height="2.1" fill="#8686ff" shape-rendering="crispEdges"/>
<rect x="324.7" y="164.5" width="8.4" height="2.1" fill="#ddddff" shape-rendering="crispEdges"/>
<rect x="333" y="41" width="8.4" height="2.1" fill="#fafaff" shape-rendering="crispEdges"/>
<rect x="333" y="43" width="8.4" height="2.1" fill="#cacaff" shape-rendering="crispEdges"/>
<rect x="333" y="45" width="8.4" height="2.1" fill="#c1c1ff" shape-rendering="crispEdges"/>
<rect x="333" y="47.1" width="8.4" height="2.1" fill="#9595ff" shape-rendering="crispEdges"/>
<rect x="333" y="49.1" width="8.4" height="2.1" fill="#7c7cff" shape-rendering="crispEdges"/>
<rect x="333" y="51.1" width="8.4" height="2.1" fill="#7171ff" shape-rendering="crispEdges"/>
<rect x="333" y="53.1" width="8.4" height="2.1" fill="#9090ff" shape-rendering="crispEdges"/>
<rect x="333" y="55.2" width="8.4" height="2.1" fill="#6161ff" shape-rendering="crispEdges"/>
<rect x="333" y="57.2" width="8.4" height="2.1" fill="#9e9eff" shape-rendering="crispEdges"/>
<rect x="333" y="59.2" width="8.4" height="2.1" fill="#4949ff" shape-rendering="crispEdges"/>
<rect x="333" y="61.2" width="8.4" height="2.1" fill="#2828ff" shape-rendering="crispEdges"/>
<rect x="333" y="63.3" width="8.4" height="2.1" fill="#9393ff" shape-rendering="crispEdges"/>
<rect x="333" y="65.3" width="8.4" height="2.1" fill="#4646ff" shape-rendering="crispEdges"/>
<rect x="333" y="67.3" width="8.4" height="2.1" fill="#a4a4ff" shape-rendering="crispEdges"/>
<rect x="333" y="69.3" width="8.4" height="2.1" fill="#5959ff" shape-rendering="crispEdges"/>
<rect x="333" y="71.4" width="8.4" height="2.1" fill="#6565ff" shape-rendering="crispEdges"/>
<rect x="333" y="73.4" width="8.4" height="2.1" fill="#aaaaff" shape-rendering="crispEdges"/>
<rect x="333" y="75.4" width="8.4" height="2.1" fill="#9999ff" shape-rendering="crispEdges"/>
<rect x="333" y="77.4" width="8.4" height="2.1" fill="#aaaaff" shape-rendering="crispEdges"/>
<rect x="333" y="79.5" width="8.4" height="2.1" fill="#fff6f6" shape-rendering="crispEdges"/>
<rect x="333" y="81.5" width="8.4" height="2.1" fill="#ffd4d4" shape-rendering="crispEdges"/>
<rect x="333" y="83.5" width="8.4" height="2.1" fill="#ffdbdb" shape-rendering="crispEdges"/>
<rect x="333" y="85.5" width="8.4" height="2.1" fill="#ffe2e2" shape-rendering="crispEdges"/>
<rect x="333" y="87.6" width="8.4" height="2.1" fill="#fafaff" shape-rendering="crispEdges"/>
<rect x="333" y="89.6" width="8.4" height="2.1" fill="#ffbebe" shape-rendering="crispEdges"/>
<rect x="333" y="91.6" width="8.4" height="2.1" fill="#ff8d8d" shape-rendering="crispEdges"/>
<rect x="333" y="93.6" width="8.4" height="2.1" fill="#ff7d7d" shape-rendering="crispEdges"/>
<rect x="333" y="95.7" width="8.4" height="2.1" fill="#ff7979" shape-rendering="crispEdges"/>
<rect x="333" y="97.7" width="8.4" height="2.1" fill="#ffc2c2" shape-rendering="crispEdges"/>
<rect x="333" y="99.7" width="8.4" height="2.1" fill="#ff9e9e" shape-rendering="crispEdges"/>
<rect x="333" y="101.7" width="8.4" height="2.1" fill="#eeeeff" shape-rendering="crispEdges"/>
<rect x="333" y="103.8" width="8.4" height="2.1" fill="#ff9999" shape-rendering="crispEdges"/>
<rect x="333" y="105.8" width="8.4" height="2.1" fill="#ffe1e1" shape-rendering="crispEdges"/>
<rect x="333" y="107.8" width="8.4" height="2.1" fill="#9898ff" shape-rendering="crispEdges"/>
<rect x="333" y="109.8" width="8.4" height="2.1" fill="#a0a0ff" shape-rendering="crispEdges"/>
<rect x="333" y="111.8" width="8.4" height="2.1" fill="#9696ff" shape-rendering="crispEdges"/>
<rect x="333" y="113.9" width="8.4" height="2.1" fill="#9595ff" shape-rendering="crispEdges"/>
<rect x="333" y="115.9" width="8.4" height="2.1" fill="#6d6dff" shape-rendering="crispEdges"/>
<rect x="333" y="117.9" width="8.4" height="2.1" fill="#5b5bff" shape-rendering="crispEdges"/>
<rect x="333" y="119.9" width="8.4" height="2.1" fill="#acacff" shape-rendering="crispEdges"/>
<rect x="333" y="122" width="8.4" height="2.1" fill="#7878ff" shape-rendering="crispEdges"/>
<rect x="333" y="124" width="8.4" height="2.1" fill="#3d3dff" shape-rendering="crispEdges"/>
<rect x="333" y="126" width="8.4" height="2.1" fill="#5959ff" shape-rendering="crispEdges"/>
<rect x="333" y="128" width="8.4" height="2.1" fill="#fff0f0" shape-rendering="crispEdges"/>
<rect x="333" y="130.1" width="8.4" height="2.1" fill="#c0c0ff" shape-rendering="crispEdges"/>
<rect x="333" y="132.1" width="8.4" height="2.1" fill="#b0b0ff" shape-rendering="crispEdges"/>
<rect x="333" y="134.1" width="8.4" height="2.1" fill="#8787ff" shape-rendering="crispEdges"/>
<rect x="333" y="136.1" width="8.4" height="2.1" fill="#8181ff" shape-rendering="crispEdges"/>
<rect x="333" y="138.2" width="8.4" height="2.1" fill="#8686ff" shape-rendering="crispEdges"/>
<rect x="333" y="140.2" width="8.4" height="2.1" fill="#dbdbff" shape-rendering="crispEdges"/>
<rect x="333" y="142.2" width="8.4" height="2.1" fill="#8686ff" shape-rendering="crispEdges"/>
<rect x="333" y="144.2" width="8.4" height="2.1" fill="#f1f1ff" shape-rendering="crispEdges"/>
<rect x="333" y="146.3" width="8.4" height="2.1" fill="#2b2bff" shape-rendering="crispEdges"/>
<rect x="333" y="148.3" width="8.4" height="2.1" fill="#4141ff" shape-rendering="crispEdges"/>
<rect x="333" y="150.3" width="8.4" height="2.1" fill="#ffadad" shape-rendering="crispEdges"/>
<rect x="333" y="152.3" width="8.4" height="2.1" fill="#7c7cff" shape-rendering="crispEdges"/>
<rect x="333" y="154.4" width="8.4" height="2.1" fill="#4343ff" shape-rendering="crispEdges"/>
<rect x="333" y="156.4" width="8.4" height="2.1" fill="#e0e0ff" shape-rendering="crispEdges"/>
<rect x="333" y="158.4" width="8.4" height="2.1" fill="#7474ff" shape-rendering="crispEdges"/>
<rect x="333" y="160.4" width="8.4" height="2.1" fill="#6a6aff" shape-rendering="crispEdges"/>
<rect x="333" y="162.5" width="8.4" height="2.1" fill="#cacaff" shape-rendering="crispEdges"/>
<rect x="333" y="164.5" width="8.4" height="2.1" fill="#b5b5ff" shape-rendering="crispEdges"/>
<rect x="341.3" y="41" width="8.4" height="2.1" fill="#a5a5ff" shape-rendering="crispEdges"/>
<rect x="341.3" y="43" width="8.4" height="2.1" fill="#f7f7ff" shape-rendering="crispEdges"/>
<rect x="341.3" y="45" width="8.4" height="2.1" fill="#e0e0ff" shape-rendering="crispEdges"/>
<rect x="341.3" y="47.1" width="8.4" height="2.1" fill="#ffd3d3" shape-rendering="crispEdges"/>
<rect x="341.3" y="49.1" width="8.4" height="2.1" fill="#a1a1ff" shape-rendering="crispEdges"/>
<rect x="341.3" y="51.1" width="8.4" height="2.1" fill="#a4a4ff" shape-rendering="crispEdges"/>
<rect x="341.3" y="53.1" width="8.4" height="2.1" fill="#9090ff" shape-rendering="crispEdges"/>
<rect x="341.3" y="55.2" width="8.4" height="2.1" fill="#9797ff" shape-rendering="crispEdges"/>
<rect x="341.3" y="57.2" width="8.4" height="2.1" fill="#7676ff" shape-rendering="crispEdges"/>
<rect x="341.3" y="59.2" width="8.4" height="2.1" fill="#6666ff" shape-rendering="crispEdges"/>
<rect x="341.3" y="61.2" width="8.4" height="2.1" fill="#9494ff" shape-rendering="crispEdges"/>
<rect x="341.3" y="63.3" width="8.4" height="2.1" fill="#aaaaff" shape-rendering="crispEdges"/>
<rect x="341.3" y="65.3" width="8.4" height="2.1" fill="#4848ff" shape-rendering="crispEdges"/>
<rect x="341.3" y="67.3" width="8.4" height="2.1" fill="#4949ff" shape-rendering="crispEdges"/>
<rect x="341.3" y="69.3" width="8.4" height="2.1" fill="#7979ff" shape-rendering="crispEdges"/>
<rect x="341.3" y="71.4" width="8.4" height="2.1" fill="#c7c7ff" shape-rendering="crispEdges"/>
<rect x="341.3" y="73.4" width="8.4" height="2.1" fill="#7979ff" shape-rendering="crispEdges"/>
<rect x="341.3" y="75.4" width="8.4" height="2.1" fill="#4242ff" shape-rendering="crispEdges"/>
<rect x="341.3" y="77.4" width="8.4" height="2.1" fill="#d2d2ff" shape-rendering="crispEdges"/>
<rect x="341.3" y="79.5" width="8.4" height="2.1" fill="#f9f9ff" shape-rendering="crispEdges"/>
<rect x="341.3" y="81.5" width="8.4" height="2.1" fill="#ffa1a1" shape-rendering="crispEdges"/>
<rect x="341.3" y="83.5" width="8.4" height="2.1" fill="#ffcaca" shape-rendering="crispEdges"/>
<rect x="341.3" y="85.5" width="8.4" height="2.1" fill="#ff7373" shape-rendering="crispEdges"/>
<rect x="341.3" y="87.6" width="8.4" height="2.1" fill="#ffe8e8" shape-rendering="crispEdges"/>
<rect x="341.3" y="89.6" width="8.4" height="2.1" fill="#ff9898" shape-rendering="crispEdges"/>
<rect x="341.3" y="91.6" width="8.4" height="2.1" fill="#ffb7b7" shape-rendering="crispEdges"/>
<rect x="341.3" y="93.6" width="8.4" height="2.1" fill="#fff6f6" shape-rendering="crispEdges"/>
<rect x="341.3" y="95.7" width="8.4" height="2.1" fill="#ffcece" shape-rendering="crispEdges"/>
<rect x="341.3" y="97.7" width="8.4" height="2.1" fill="#ff8787" shape-rendering="crispEdges"/>
<rect x="341.3" y="99.7" width="8.4" height="2.1" fill="#ff9c9c" shape-rendering="crispEdges"/>
<rect x="341.3" y="101.7" width="8.4" height="2.1" fill="#fff7f7" shape-rendering="crispEdges"/>
<rect x="341.3" y="103.8" width="8.4" height="2.1" fill="#ffb6b6" shape-rendering="crispEdges"/>
<rect x="341.3" y="105.8" width="8.4" height="2.1" fill="#ffdbdb" shape-rendering="crispEdges"/>
<rect x="341.3" y="107.8" width="8.4" height="2.1" fill="#fff7f7" shape-rendering="crispEdges"/>
<rect x="341.3" y="109.8" width="8.4" height="2.1" fill="#c8c8ff" shape-rendering="crispEdges"/>
<rect x="341.3" y="111.8" width="8.4" height="2.1" fill="#adadff" shape-rendering="crispEdges"/>
<rect x="341.3" y="113.9" width="8.4" height="2.1" fill="#5151ff" shape-rendering="crispEdges"/>
<rect x="341.3" y="115.9" width="8.4" height="2.1" fill="#7676ff" shape-rendering="crispEdges"/>
<rect x="341.3" y="117.9" width="8.4" height="2.1" fill="#8484ff" shape-rendering="crispEdges"/>
<rect x="341.3" y="119.9" width="8.4" height="2.1" fill="#5757ff" shape-rendering="crispEdges"/>
<rect x="341.3" y="122" width="8.4" height="2.1" fill="#7474ff" shape-rendering="crispEdges"/>
<rect x="341.3" y="124" width="8.4" height="2.1" fill="#9898ff" shape-rendering="crispEdges"/>
<rect x="341.3" y="126" width="8.4" height="2.1" fill="#a7a7ff" shape-rendering="crispEdges"/>
<rect x="341.3" y="128" width="8.4" height="2.1" fill="#e3e3ff" shape-rendering="crispEdges"/>
<rect x="341.3" y="130.1" width="8.4" height="2.1" fill="#7878ff" shape-rendering="crispEdges"/>
<rect x="341.3" y="132.1" width="8.4" height="2.1" fill="#9c9cff" shape-rendering="crispEdges"/>
<rect x="341.3" y="134.1" width="8.4" height="2.1" fill="#c0c0ff" shape-rendering="crispEdges"/>
<rect x="341.3" y="136.1" width="8.4" height="2.1" fill="#9999ff" shape-rendering="crispEdges"/>
<rect x="341.3" y="138.2" width="8.4" height="2.1" fill="#c0c0ff" shape-rendering="crispEdges"/>
<rect x="341.3" y="140.2" width="8.4" height="2.1" fill="#8f8fff" shape-rendering="crispEdges"/>
<rect x="341.3" y="142.2" width="8.4" height="2.1" fill="#e9e9ff" shape-rendering="crispEdges"/>
<rect x="341.3" y="144.2" width="8.4" height="2.1" fill="#9595ff" shape-rendering="crispEdges"/>
<rect x="341.3" y="146.3" width="8.4" height="2.1" fill="#5e5eff" shape-rendering="crispEdges"/>
<rect x="341.3" y="148.3" width="8.4" height="2.1" fill="#c6c6ff" shape-rendering="crispEdges"/>
<rect x="341.3" y="150.3" width="8.4" height="2.1" fill="#f7f7ff" shape-rendering="crispEdges"/>
<rect x="341.3" y="152.3" width="8.4" height="2.1" fill="#2828ff" shape-rendering="crispEdges"/>
<rect x="341.3" y="154.4" width="8.4" height="2.1" fill="#8e8eff" shape-rendering="crispEdges"/>
<rect x="341.3" y="156.4" width="8.4" height="2.1" fill="#a2a2ff" shape-rendering="crispEdges"/>
<rect x="341.3" y="158.4" width="8.4" height="2.1" fill="#e1e1ff" shape-rendering="crispEdges"/>
<rect x="341.3" y="160.4" width="8.4" height="2.1" fill="#fff9f9" shape-rendering="crispEdges"/>
<rect x="341.3" y="162.5" width="8.4" height="2.1" fill="#ababff" shape-rendering="crispEdges"/>
<rect x="341.3" y="164.5" width="8.4" height="2.1" fill="#5b5bff" shape-rendering="crispEdges"/>
<text x="97.8" y="171.8" font-size="4.8" text-anchor="end" fill="#222" transform="rotate(-90 97.8 171.8)" stroke="#222" stroke-width="0.3">SEPSIS1</text>
<text x="106.1" y="171.8" font-size="4.8" text-anchor="end" fill="#222" transform="rotate(-90 106.1 171.8)" stroke="#222" stroke-width="0.3">SEPSIS2</text>
<text x="114.4" y="171.8" font-size="4.8" text-anchor="end" fill="#222" transform="rotate(-90 114.4 171.8)" stroke="#222" stroke-width="0.3">SEPSIS3</text>
<text x="122.7" y="171.8" font-size="4.8" text-anchor="end" fill="#222" transform="rotate(-90 122.7 171.8)" stroke="#222" stroke-width="0.3">SEPSIS4</text>
<text x="131" y="171.8" font-size="4.8" text-anchor="end" fill="#222" transform="rotate(-90 131 171.8)" stroke="#222" stroke-width="0.3">SEPSIS5</text>
<text x="139.3" y="171.8" font-size="4.8" text-anchor="end" fill="#222" transform="rotate(-90 139.3 171.8)" stroke="#222" stroke-width="0.3">SEPSIS6</text>
<text x="147.6" y="171.8" font-size="4.8" text-anchor="end" fill="#222" transform="rotate(-90 147.6 171.8)" stroke="#222" stroke-width="0.3">SEPSIS7</text>
<text x="155.9" y="171.8" font-size="4.8" text-anchor="end" fill="#222" transform="rotate(-90 155.9 171.8)" stroke="#222" stroke-width="0.3">SEPSIS8</text>
<text x="164.2" y="171.8" font-size="4.8" text-anchor="end" fill="#222" transform="rotate(-90 164.2 171.8)" stroke="#222" stroke-width="0.3">SEPSIS9</text>
<text x="172.5" y="171.8" font-size="4.8" text-anchor="end" fill="#222" transform="rotate(-90 172.5 171.8)" stroke="#222" stroke-width="0.3">SEPSIS10</text>
<text x="180.9" y="171.8" font-size="4.8" text-anchor="end" fill="#222" transform="rotate(-90 180.9 171.8)" stroke="#222" stroke-width="0.3">SEPSIS11</text>
<text x="189.2" y="171.8" font-size="4.8" text-anchor="end" fill="#222" transform="rotate(-90 189.2 171.8)" stroke="#222" stroke-width="0.3">SEPSIS12</text>
<text x="197.5" y="171.8" font-size="4.8" text-anchor="end" fill="#222" transform="rotate(-90 197.5 171.8)" stroke="#222" stroke-width="0.3">SEPSIS13</text>
<text x="205.8" y="171.8" font-size="4.8" text-anchor="end" fill="#222" transform="rotate(-90 205.8 171.8)" stroke="#222" stroke-width="0.3">SEPSIS14</text>
<text x="214.1" y="171.8" font-size="4.8" text-anchor="end" fill="#222" transform="rotate(-90 214.1 171.8)" stroke="#222" stroke-width="0.3">SEPSIS15</text>
<text x="222.4" y="171.8" font-size="4.8" text-anchor="end" fill="#222" transform="rotate(-90 222.4 171.8)" stroke="#222" stroke-width="0.3">SEPSIS16</text>
<text x="230.7" y="171.8" font-size="4.8" text-anchor="end" fill="#222" transform="rotate(-90 230.7 171.8)" stroke="#222" stroke-width="0.3">SEPSIS17</text>
<text x="239" y="171.8" font-size="4.8" text-anchor="end" fill="#222" transform="rotate(-90 239 171.8)" stroke="#222" stroke-width="0.3">SEPSIS18</text>
<text x="247.3" y="171.8" font-size="4.8" text-anchor="end" fill="#222" transform="rotate(-90 247.3 171.8)" stroke="#222" stroke-width="0.3">SEPSIS19</text>
<text x="255.6" y="171.8" font-size="4.8" text-anchor="end" fill="#222" transform="rotate(-90 255.6 171.8)" stroke="#222" stroke-width="0.3">SEPSIS20</text>
<text x="263.9" y="171.8" font-size="4.8" text-anchor="end" fill="#222" transform="rotate(-90 263.9 171.8)" stroke="#222" stroke-width="0.3">SEPSIS21</text>
<text x="272.3" y="171.8" font-size="4.8" text-anchor="end" fill="#222" transform="rotate(-90 272.3 171.8)" stroke="#222" stroke-width="0.3">NC1</text>
<text x="280.6" y="171.8" font-size="4.8" text-anchor="end" fill="#222" transform="rotate(-90 280.6 171.8)" stroke="#222" stroke-width="0.3">NC2</text>
<text x="288.9" y="171.8" font-size="4.8" text-anchor="end" fill="#222" transform="rotate(-90 288.9 171.8)" stroke="#222" stroke-width="0.3">NC3</text>
<text x="297.2" y="171.8" font-size="4.8" text-anchor="end" fill="#222" transform="rotate(-90 297.2 171.8)" stroke="#222" stroke-width="0.3">NC4</text>
<text x="305.5" y="171.8" font-size="4.8" text-anchor="end" fill="#222" transform="rotate(-90 305.5 171.8)" stroke="#222" stroke-width="0.3">NC5</text>
<text x="313.8" y="171.8" font-size="4.8" text-anchor="end" fill="#222" transform="rotate(-90 313.8 171.8)" stroke="#222" stroke-width="0.3">NC6</text>
<text x="322.1" y="171.8" font-size="4.8" text-anchor="end" fill="#222" transform="rotate(-90 322.1 171.8)" stroke="#222" stroke-width="0.3">NC7</text>
<text x="330.4" y="171.8" font-size="4.8" text-anchor="end" fill="#222" transform="rotate(-90 330.4 171.8)" stroke="#222" stroke-width="0.3">NC8</text>
<text x="338.7" y="171.8" font-size="4.8" text-anchor="end" fill="#222" transform="rotate(-90 338.7 171.8)" stroke="#222" stroke-width="0.3">NC9</text>
<text x="347" y="171.8" font-size="4.8" text-anchor="end" fill="#222" transform="rotate(-90 347 171.8)" stroke="#222" stroke-width="0.3">NC10</text>
<line x1="28.4" y1="42" x2="28.4" y2="83.2" stroke="#555" stroke-width="0.85"/>
<rect x="28.4" y="41" width="63.6" height="2.5" fill="#8f8f8f"/>
<line x1="28.4" y1="83.2" x2="35.3" y2="83.2" stroke="#555" stroke-width="0.8"/>
<rect x="56.9" y="43" width="35.1" height="2.5" fill="#8f8f8f" shape-rendering="crispEdges"/>
<rect x="57.9" y="45" width="34.1" height="2.5" fill="#8f8f8f" shape-rendering="crispEdges"/>
<line x1="55.1" y1="44" x2="56.9" y2="44" stroke="#555" stroke-width="0.85"/>
<line x1="55.1" y1="46.1" x2="57.9" y2="46.1" stroke="#555" stroke-width="0.85"/>
<line x1="55.1" y1="44" x2="55.1" y2="46.1" stroke="#555" stroke-width="0.85"/>
<rect x="52.6" y="47.1" width="39.4" height="2.5" fill="#8f8f8f" shape-rendering="crispEdges"/>
<line x1="51.2" y1="45" x2="55.1" y2="45" stroke="#555" stroke-width="0.85"/>
<line x1="51.2" y1="48.1" x2="52.6" y2="48.1" stroke="#555" stroke-width="0.85"/>
<line x1="51.2" y1="45" x2="51.2" y2="48.1" stroke="#555" stroke-width="0.85"/>
<rect x="57.7" y="49.1" width="34.3" height="2.5" fill="#8f8f8f" shape-rendering="crispEdges"/>
<rect x="60.8" y="51.1" width="31.2" height="2.5" fill="#8f8f8f" shape-rendering="crispEdges"/>
<rect x="58.7" y="53.1" width="33.3" height="2.5" fill="#8f8f8f" shape-rendering="crispEdges"/>
<line x1="57.3" y1="52.1" x2="60.8" y2="52.1" stroke="#555" stroke-width="0.85"/>
<line x1="57.3" y1="54.2" x2="58.7" y2="54.2" stroke="#555" stroke-width="0.85"/>
<line x1="57.3" y1="52.1" x2="57.3" y2="54.2" stroke="#555" stroke-width="0.85"/>
<line x1="53.8" y1="50.1" x2="57.7" y2="50.1" stroke="#555" stroke-width="0.85"/>
<line x1="53.8" y1="53.1" x2="57.3" y2="53.1" stroke="#555" stroke-width="0.85"/>
<line x1="53.8" y1="50.1" x2="53.8" y2="53.1" stroke="#555" stroke-width="0.85"/>
<rect x="57.5" y="55.2" width="34.5" height="2.5" fill="#8f8f8f" shape-rendering="crispEdges"/>
<rect x="57.5" y="57.2" width="34.5" height="2.5" fill="#8f8f8f" shape-rendering="crispEdges"/>
<line x1="55.9" y1="56.2" x2="57.5" y2="56.2" stroke="#555" stroke-width="0.85"/>
<line x1="55.9" y1="58.2" x2="57.5" y2="58.2" stroke="#555" stroke-width="0.85"/>
<line x1="55.9" y1="56.2" x2="55.9" y2="58.2" stroke="#555" stroke-width="0.85"/>
<rect x="55.5" y="59.2" width="36.5" height="2.5" fill="#8f8f8f" shape-rendering="crispEdges"/>
<line x1="54.5" y1="57.2" x2="55.9" y2="57.2" stroke="#555" stroke-width="0.85"/>
<line x1="54.5" y1="60.2" x2="55.5" y2="60.2" stroke="#555" stroke-width="0.85"/>
<line x1="54.5" y1="57.2" x2="54.5" y2="60.2" stroke="#555" stroke-width="0.85"/>
<line x1="52.8" y1="51.6" x2="53.8" y2="51.6" stroke="#555" stroke-width="0.85"/>
<line x1="52.8" y1="58.7" x2="54.5" y2="58.7" stroke="#555" stroke-width="0.85"/>
<line x1="52.8" y1="51.6" x2="52.8" y2="58.7" stroke="#555" stroke-width="0.85"/>
<line x1="48.7" y1="46.6" x2="51.2" y2="46.6" stroke="#555" stroke-width="0.85"/>
<line x1="48.7" y1="55.2" x2="52.8" y2="55.2" stroke="#555" stroke-width="0.85"/>
<line x1="48.7" y1="46.6" x2="48.7" y2="55.2" stroke="#555" stroke-width="0.85"/>
<rect x="59.9" y="61.2" width="32.1" height="2.5" fill="#8f8f8f" shape-rendering="crispEdges"/>
<rect x="59.1" y="63.3" width="32.9" height="2.5" fill="#8f8f8f" shape-rendering="crispEdges"/>
<line x1="55.8" y1="62.3" x2="59.9" y2="62.3" stroke="#555" stroke-width="0.85"/>
<line x1="55.8" y1="64.3" x2="59.1" y2="64.3" stroke="#555" stroke-width="0.85"/>
<line x1="55.8" y1="62.3" x2="55.8" y2="64.3" stroke="#555" stroke-width="0.85"/>
<rect x="56.3" y="65.3" width="35.7" height="2.5" fill="#8f8f8f" shape-rendering="crispEdges"/>
<line x1="53.1" y1="63.3" x2="55.8" y2="63.3" stroke="#555" stroke-width="0.85"/>
<line x1="53.1" y1="66.3" x2="56.3" y2="66.3" stroke="#555" stroke-width="0.85"/>
<line x1="53.1" y1="63.3" x2="53.1" y2="66.3" stroke="#555" stroke-width="0.85"/>
<rect x="55.1" y="67.3" width="36.9" height="2.5" fill="#8f8f8f" shape-rendering="crispEdges"/>
<rect x="53.2" y="69.3" width="38.8" height="2.5" fill="#8f8f8f" shape-rendering="crispEdges"/>
<line x1="51.3" y1="68.3" x2="55.1" y2="68.3" stroke="#555" stroke-width="0.85"/>
<line x1="51.3" y1="70.4" x2="53.2" y2="70.4" stroke="#555" stroke-width="0.85"/>
<line x1="51.3" y1="68.3" x2="51.3" y2="70.4" stroke="#555" stroke-width="0.85"/>
<line x1="49.3" y1="64.8" x2="53.1" y2="64.8" stroke="#555" stroke-width="0.85"/>
<line x1="49.3" y1="69.3" x2="51.3" y2="69.3" stroke="#555" stroke-width="0.85"/>
<line x1="49.3" y1="64.8" x2="49.3" y2="69.3" stroke="#555" stroke-width="0.85"/>
<line x1="45.4" y1="50.9" x2="48.7" y2="50.9" stroke="#555" stroke-width="0.85"/>
<line x1="45.4" y1="67.1" x2="49.3" y2="67.1" stroke="#555" stroke-width="0.85"/>
<line x1="45.4" y1="50.9" x2="45.4" y2="67.1" stroke="#555" stroke-width="0.85"/>
<rect x="52.2" y="71.4" width="39.8" height="2.5" fill="#8f8f8f" shape-rendering="crispEdges"/>
<rect x="51.1" y="73.4" width="40.9" height="2.5" fill="#8f8f8f" shape-rendering="crispEdges"/>
<line x1="49" y1="72.4" x2="52.2" y2="72.4" stroke="#555" stroke-width="0.85"/>
<line x1="49" y1="74.4" x2="51.1" y2="74.4" stroke="#555" stroke-width="0.85"/>
<line x1="49" y1="72.4" x2="49" y2="74.4" stroke="#555" stroke-width="0.85"/>
<rect x="53.6" y="75.4" width="38.4" height="2.5" fill="#8f8f8f" shape-rendering="crispEdges"/>
<rect x="55.1" y="77.4" width="36.9" height="2.5" fill="#8f8f8f" shape-rendering="crispEdges"/>
<rect x="55.8" y="79.5" width="36.2" height="2.5" fill="#8f8f8f" shape-rendering="crispEdges"/>
<line x1="52.5" y1="78.4" x2="55.1" y2="78.4" stroke="#555" stroke-width="0.85"/>
<line x1="52.5" y1="80.5" x2="55.8" y2="80.5" stroke="#555" stroke-width="0.85"/>
<line x1="52.5" y1="78.4" x2="52.5" y2="80.5" stroke="#555" stroke-width="0.85"/>
<line x1="50" y1="76.4" x2="53.6" y2="76.4" stroke="#555" stroke-width="0.85"/>
<line x1="50" y1="79.5" x2="52.5" y2="79.5" stroke="#555" stroke-width="0.85"/>
<line x1="50" y1="76.4" x2="50" y2="79.5" stroke="#555" stroke-width="0.85"/>
<line x1="47.1" y1="73.4" x2="49" y2="73.4" stroke="#555" stroke-width="0.85"/>
<line x1="47.1" y1="77.9" x2="50" y2="77.9" stroke="#555" stroke-width="0.85"/>
<line x1="47.1" y1="73.4" x2="47.1" y2="77.9" stroke="#555" stroke-width="0.85"/>
<rect x="54.8" y="81.5" width="37.2" height="2.5" fill="#8f8f8f" shape-rendering="crispEdges"/>
<rect x="52.2" y="83.5" width="39.8" height="2.5" fill="#8f8f8f" shape-rendering="crispEdges"/>
<line x1="51.1" y1="82.5" x2="54.8" y2="82.5" stroke="#555" stroke-width="0.85"/>
<line x1="51.1" y1="84.5" x2="52.2" y2="84.5" stroke="#555" stroke-width="0.85"/>
<line x1="51.1" y1="82.5" x2="51.1" y2="84.5" stroke="#555" stroke-width="0.85"/>
<rect x="51.4" y="85.5" width="40.6" height="2.5" fill="#8f8f8f" shape-rendering="crispEdges"/>
<rect x="53.5" y="87.6" width="38.5" height="2.5" fill="#8f8f8f" shape-rendering="crispEdges"/>
<rect x="55.3" y="89.6" width="36.7" height="2.5" fill="#8f8f8f" shape-rendering="crispEdges"/>
<line x1="51.8" y1="88.6" x2="53.5" y2="88.6" stroke="#555" stroke-width="0.85"/>
<line x1="51.8" y1="90.6" x2="55.3" y2="90.6" stroke="#555" stroke-width="0.85"/>
<line x1="51.8" y1="88.6" x2="51.8" y2="90.6" stroke="#555" stroke-width="0.85"/>
<line x1="50.3" y1="86.5" x2="51.4" y2="86.5" stroke="#555" stroke-width="0.85"/>
<line x1="50.3" y1="89.6" x2="51.8" y2="89.6" stroke="#555" stroke-width="0.85"/>
<line x1="50.3" y1="86.5" x2="50.3" y2="89.6" stroke="#555" stroke-width="0.85"/>
<rect x="54.9" y="91.6" width="37.1" height="2.5" fill="#8f8f8f" shape-rendering="crispEdges"/>
<rect x="53" y="93.6" width="39" height="2.5" fill="#8f8f8f" shape-rendering="crispEdges"/>
<line x1="50.9" y1="92.6" x2="54.9" y2="92.6" stroke="#555" stroke-width="0.85"/>
<line x1="50.9" y1="94.6" x2="53" y2="94.6" stroke="#555" stroke-width="0.85"/>
<line x1="50.9" y1="92.6" x2="50.9" y2="94.6" stroke="#555" stroke-width="0.85"/>
<line x1="48.1" y1="88.1" x2="50.3" y2="88.1" stroke="#555" stroke-width="0.85"/>
<line x1="48.1" y1="93.6" x2="50.9" y2="93.6" stroke="#555" stroke-width="0.85"/>
<line x1="48.1" y1="88.1" x2="48.1" y2="93.6" stroke="#555" stroke-width="0.85"/>
<line x1="47" y1="83.5" x2="51.1" y2="83.5" stroke="#555" stroke-width="0.85"/>
<line x1="47" y1="90.8" x2="48.1" y2="90.8" stroke="#555" stroke-width="0.85"/>
<line x1="47" y1="83.5" x2="47" y2="90.8" stroke="#555" stroke-width="0.85"/>
<line x1="45.5" y1="75.7" x2="47.1" y2="75.7" stroke="#555" stroke-width="0.85"/>
<line x1="45.5" y1="87.2" x2="47" y2="87.2" stroke="#555" stroke-width="0.85"/>
<line x1="45.5" y1="75.7" x2="45.5" y2="87.2" stroke="#555" stroke-width="0.85"/>
<line x1="42" y1="59" x2="45.4" y2="59" stroke="#555" stroke-width="0.85"/>
<line x1="42" y1="81.4" x2="45.5" y2="81.4" stroke="#555" stroke-width="0.85"/>
<line x1="42" y1="59" x2="42" y2="81.4" stroke="#555" stroke-width="0.85"/>
<rect x="46.3" y="95.7" width="45.7" height="2.5" fill="#8f8f8f" shape-rendering="crispEdges"/>
<rect x="49.2" y="97.7" width="42.8" height="2.5" fill="#8f8f8f" shape-rendering="crispEdges"/>
<rect x="51.1" y="99.7" width="40.9" height="2.5" fill="#8f8f8f" shape-rendering="crispEdges"/>
<line x1="47.1" y1="98.7" x2="49.2" y2="98.7" stroke="#555" stroke-width="0.85"/>
<line x1="47.1" y1="100.7" x2="51.1" y2="100.7" stroke="#555" stroke-width="0.85"/>
<line x1="47.1" y1="98.7" x2="47.1" y2="100.7" stroke="#555" stroke-width="0.85"/>
<line x1="44.2" y1="96.7" x2="46.3" y2="96.7" stroke="#555" stroke-width="0.85"/>
<line x1="44.2" y1="99.7" x2="47.1" y2="99.7" stroke="#555" stroke-width="0.85"/>
<line x1="44.2" y1="96.7" x2="44.2" y2="99.7" stroke="#555" stroke-width="0.85"/>
<rect x="49.1" y="101.7" width="42.9" height="2.5" fill="#8f8f8f" shape-rendering="crispEdges"/>
<rect x="49.1" y="103.8" width="42.9" height="2.5" fill="#8f8f8f" shape-rendering="crispEdges"/>
<line x1="47.1" y1="102.7" x2="49.1" y2="102.7" stroke="#555" stroke-width="0.85"/>
<line x1="47.1" y1="104.8" x2="49.1" y2="104.8" stroke="#555" stroke-width="0.85"/>
<line x1="47.1" y1="102.7" x2="47.1" y2="104.8" stroke="#555" stroke-width="0.85"/>
<line x1="43.1" y1="98.2" x2="44.2" y2="98.2" stroke="#555" stroke-width="0.85"/>
<line x1="43.1" y1="103.8" x2="47.1" y2="103.8" stroke="#555" stroke-width="0.85"/>
<line x1="43.1" y1="98.2" x2="43.1" y2="103.8" stroke="#555" stroke-width="0.85"/>
<rect x="52.8" y="105.8" width="39.2" height="2.5" fill="#8f8f8f" shape-rendering="crispEdges"/>
<rect x="51.4" y="107.8" width="40.6" height="2.5" fill="#8f8f8f" shape-rendering="crispEdges"/>
<line x1="48.7" y1="106.8" x2="52.8" y2="106.8" stroke="#555" stroke-width="0.85"/>
<line x1="48.7" y1="108.8" x2="51.4" y2="108.8" stroke="#555" stroke-width="0.85"/>
<line x1="48.7" y1="106.8" x2="48.7" y2="108.8" stroke="#555" stroke-width="0.85"/>
<rect x="47.8" y="109.8" width="44.2" height="2.5" fill="#8f8f8f" shape-rendering="crispEdges"/>
<rect x="48.9" y="111.8" width="43.1" height="2.5" fill="#8f8f8f" shape-rendering="crispEdges"/>
<line x1="46" y1="110.8" x2="47.8" y2="110.8" stroke="#555" stroke-width="0.85"/>
<line x1="46" y1="112.9" x2="48.9" y2="112.9" stroke="#555" stroke-width="0.85"/>
<line x1="46" y1="110.8" x2="46" y2="112.9" stroke="#555" stroke-width="0.85"/>
<line x1="44.5" y1="107.8" x2="48.7" y2="107.8" stroke="#555" stroke-width="0.85"/>
<line x1="44.5" y1="111.8" x2="46" y2="111.8" stroke="#555" stroke-width="0.85"/>
<line x1="44.5" y1="107.8" x2="44.5" y2="111.8" stroke="#555" stroke-width="0.85"/>
<rect x="51.1" y="113.9" width="40.9" height="2.5" fill="#8f8f8f" shape-rendering="crispEdges"/>
<rect x="52" y="115.9" width="40" height="2.5" fill="#8f8f8f" shape-rendering="crispEdges"/>
<rect x="53.7" y="117.9" width="38.3" height="2.5" fill="#8f8f8f" shape-rendering="crispEdges"/>
<rect x="52.7" y="119.9" width="39.3" height="2.5" fill="#8f8f8f" shape-rendering="crispEdges"/>
<line x1="49.7" y1="118.9" x2="53.7" y2="118.9" stroke="#555" stroke-width="0.85"/>
<line x1="49.7" y1="121" x2="52.7" y2="121" stroke="#555" stroke-width="0.85"/>
<line x1="49.7" y1="118.9" x2="49.7" y2="121" stroke="#555" stroke-width="0.85"/>
<line x1="48.3" y1="116.9" x2="52" y2="116.9" stroke="#555" stroke-width="0.85"/>
<line x1="48.3" y1="119.9" x2="49.7" y2="119.9" stroke="#555" stroke-width="0.85"/>
<line x1="48.3" y1="116.9" x2="48.3" y2="119.9" stroke="#555" stroke-width="0.85"/>
<line x1="47.2" y1="114.9" x2="51.1" y2="114.9" stroke="#555" stroke-width="0.85"/>
<line x1="47.2" y1="118.4" x2="48.3" y2="118.4" stroke="#555" stroke-width="0.85"/>
<line x1="47.2" y1="114.9" x2="47.2" y2="118.4" stroke="#555" stroke-width="0.85"/>
<rect x="48.4" y="122" width="43.6" height="2.5" fill="#8f8f8f" shape-rendering="crispEdges"/>
<rect x="49.4" y="124" width="42.6" height="2.5" fill="#8f8f8f" shape-rendering="crispEdges"/>
<line x1="47.1" y1="123" x2="48.4" y2="123" stroke="#555" stroke-width="0.85"/>
<line x1="47.1" y1="125" x2="49.4" y2="125" stroke="#555" stroke-width="0.85"/>
<line x1="47.1" y1="123" x2="47.1" y2="125" stroke="#555" stroke-width="0.85"/>
<line x1="44.7" y1="116.7" x2="47.2" y2="116.7" stroke="#555" stroke-width="0.85"/>
<line x1="44.7" y1="124" x2="47.1" y2="124" stroke="#555" stroke-width="0.85"/>
<line x1="44.7" y1="116.7" x2="44.7" y2="124" stroke="#555" stroke-width="0.85"/>
<line x1="43.2" y1="109.8" x2="44.5" y2="109.8" stroke="#555" stroke-width="0.85"/>
<line x1="43.2" y1="120.3" x2="44.7" y2="120.3" stroke="#555" stroke-width="0.85"/>
<line x1="43.2" y1="109.8" x2="43.2" y2="120.3" stroke="#555" stroke-width="0.85"/>
<line x1="39.7" y1="101" x2="43.1" y2="101" stroke="#555" stroke-width="0.85"/>
<line x1="39.7" y1="115.1" x2="43.2" y2="115.1" stroke="#555" stroke-width="0.85"/>
<line x1="39.7" y1="101" x2="39.7" y2="115.1" stroke="#555" stroke-width="0.85"/>
<rect x="53.4" y="126" width="38.6" height="2.5" fill="#8f8f8f" shape-rendering="crispEdges"/>
<rect x="52.8" y="128" width="39.2" height="2.5" fill="#8f8f8f" shape-rendering="crispEdges"/>
<line x1="50.8" y1="127" x2="53.4" y2="127" stroke="#555" stroke-width="0.85"/>
<line x1="50.8" y1="129.1" x2="52.8" y2="129.1" stroke="#555" stroke-width="0.85"/>
<line x1="50.8" y1="127" x2="50.8" y2="129.1" stroke="#555" stroke-width="0.85"/>
<rect x="50.9" y="130.1" width="41.1" height="2.5" fill="#8f8f8f" shape-rendering="crispEdges"/>
<line x1="48.4" y1="128" x2="50.8" y2="128" stroke="#555" stroke-width="0.85"/>
<line x1="48.4" y1="131.1" x2="50.9" y2="131.1" stroke="#555" stroke-width="0.85"/>
<line x1="48.4" y1="128" x2="48.4" y2="131.1" stroke="#555" stroke-width="0.85"/>
<rect x="53.5" y="132.1" width="38.5" height="2.5" fill="#8f8f8f" shape-rendering="crispEdges"/>
<rect x="52.4" y="134.1" width="39.6" height="2.5" fill="#8f8f8f" shape-rendering="crispEdges"/>
<line x1="49.4" y1="133.1" x2="53.5" y2="133.1" stroke="#555" stroke-width="0.85"/>
<line x1="49.4" y1="135.1" x2="52.4" y2="135.1" stroke="#555" stroke-width="0.85"/>
<line x1="49.4" y1="133.1" x2="49.4" y2="135.1" stroke="#555" stroke-width="0.85"/>
<rect x="52.2" y="136.1" width="39.8" height="2.5" fill="#8f8f8f" shape-rendering="crispEdges"/>
<rect x="51.4" y="138.2" width="40.6" height="2.5" fill="#8f8f8f" shape-rendering="crispEdges"/>
<line x1="50.1" y1="137.1" x2="52.2" y2="137.1" stroke="#555" stroke-width="0.85"/>
<line x1="50.1" y1="139.2" x2="51.4" y2="139.2" stroke="#555" stroke-width="0.85"/>
<line x1="50.1" y1="137.1" x2="50.1" y2="139.2" stroke="#555" stroke-width="0.85"/>
<line x1="47.9" y1="134.1" x2="49.4" y2="134.1" stroke="#555" stroke-width="0.85"/>
<line x1="47.9" y1="138.2" x2="50.1" y2="138.2" stroke="#555" stroke-width="0.85"/>
<line x1="47.9" y1="134.1" x2="47.9" y2="138.2" stroke="#555" stroke-width="0.85"/>
<line x1="44.2" y1="129.6" x2="48.4" y2="129.6" stroke="#555" stroke-width="0.85"/>
<line x1="44.2" y1="136.1" x2="47.9" y2="136.1" stroke="#555" stroke-width="0.85"/>
<line x1="44.2" y1="129.6" x2="44.2" y2="136.1" stroke="#555" stroke-width="0.85"/>
<rect x="52.6" y="140.2" width="39.4" height="2.5" fill="#8f8f8f" shape-rendering="crispEdges"/>
<rect x="52.9" y="142.2" width="39.1" height="2.5" fill="#8f8f8f" shape-rendering="crispEdges"/>
<line x1="49.4" y1="141.2" x2="52.6" y2="141.2" stroke="#555" stroke-width="0.85"/>
<line x1="49.4" y1="143.2" x2="52.9" y2="143.2" stroke="#555" stroke-width="0.85"/>
<line x1="49.4" y1="141.2" x2="49.4" y2="143.2" stroke="#555" stroke-width="0.85"/>
<rect x="52.7" y="144.2" width="39.3" height="2.5" fill="#8f8f8f" shape-rendering="crispEdges"/>
<rect x="54.8" y="146.3" width="37.2" height="2.5" fill="#8f8f8f" shape-rendering="crispEdges"/>
<rect x="54.5" y="148.3" width="37.5" height="2.5" fill="#8f8f8f" shape-rendering="crispEdges"/>
<line x1="51.3" y1="147.3" x2="54.8" y2="147.3" stroke="#555" stroke-width="0.85"/>
<line x1="51.3" y1="149.3" x2="54.5" y2="149.3" stroke="#555" stroke-width="0.85"/>
<line x1="51.3" y1="147.3" x2="51.3" y2="149.3" stroke="#555" stroke-width="0.85"/>
<line x1="49.4" y1="145.2" x2="52.7" y2="145.2" stroke="#555" stroke-width="0.85"/>
<line x1="49.4" y1="148.3" x2="51.3" y2="148.3" stroke="#555" stroke-width="0.85"/>
<line x1="49.4" y1="145.2" x2="49.4" y2="148.3" stroke="#555" stroke-width="0.85"/>
<line x1="45.9" y1="142.2" x2="49.4" y2="142.2" stroke="#555" stroke-width="0.85"/>
<line x1="45.9" y1="146.8" x2="49.4" y2="146.8" stroke="#555" stroke-width="0.85"/>
<line x1="45.9" y1="142.2" x2="45.9" y2="146.8" stroke="#555" stroke-width="0.85"/>
<rect x="54.4" y="150.3" width="37.6" height="2.5" fill="#8f8f8f" shape-rendering="crispEdges"/>
<rect x="53.7" y="152.3" width="38.3" height="2.5" fill="#8f8f8f" shape-rendering="crispEdges"/>
<line x1="51.3" y1="151.3" x2="54.4" y2="151.3" stroke="#555" stroke-width="0.85"/>
<line x1="51.3" y1="153.3" x2="53.7" y2="153.3" stroke="#555" stroke-width="0.85"/>
<line x1="51.3" y1="151.3" x2="51.3" y2="153.3" stroke="#555" stroke-width="0.85"/>
<rect x="53" y="154.4" width="39" height="2.5" fill="#8f8f8f" shape-rendering="crispEdges"/>
<line x1="50.2" y1="152.3" x2="51.3" y2="152.3" stroke="#555" stroke-width="0.85"/>
<line x1="50.2" y1="155.4" x2="53" y2="155.4" stroke="#555" stroke-width="0.85"/>
<line x1="50.2" y1="152.3" x2="50.2" y2="155.4" stroke="#555" stroke-width="0.85"/>
<rect x="55.4" y="156.4" width="36.6" height="2.5" fill="#8f8f8f" shape-rendering="crispEdges"/>
<rect x="57.8" y="158.4" width="34.2" height="2.5" fill="#8f8f8f" shape-rendering="crispEdges"/>
<rect x="59.4" y="160.4" width="32.6" height="2.5" fill="#8f8f8f" shape-rendering="crispEdges"/>
<line x1="55.7" y1="159.4" x2="57.8" y2="159.4" stroke="#555" stroke-width="0.85"/>
<line x1="55.7" y1="161.4" x2="59.4" y2="161.4" stroke="#555" stroke-width="0.85"/>
<line x1="55.7" y1="159.4" x2="55.7" y2="161.4" stroke="#555" stroke-width="0.85"/>
<line x1="52.4" y1="157.4" x2="55.4" y2="157.4" stroke="#555" stroke-width="0.85"/>
<line x1="52.4" y1="160.4" x2="55.7" y2="160.4" stroke="#555" stroke-width="0.85"/>
<line x1="52.4" y1="157.4" x2="52.4" y2="160.4" stroke="#555" stroke-width="0.85"/>
<rect x="56" y="162.5" width="36" height="2.5" fill="#8f8f8f" shape-rendering="crispEdges"/>
<rect x="57" y="164.5" width="35" height="2.5" fill="#8f8f8f" shape-rendering="crispEdges"/>
<line x1="52.8" y1="163.5" x2="56" y2="163.5" stroke="#555" stroke-width="0.85"/>
<line x1="52.8" y1="165.5" x2="57" y2="165.5" stroke="#555" stroke-width="0.85"/>
<line x1="52.8" y1="163.5" x2="52.8" y2="165.5" stroke="#555" stroke-width="0.85"/>
<line x1="49.3" y1="158.9" x2="52.4" y2="158.9" stroke="#555" stroke-width="0.85"/>
<line x1="49.3" y1="164.5" x2="52.8" y2="164.5" stroke="#555" stroke-width="0.85"/>
<line x1="49.3" y1="158.9" x2="49.3" y2="164.5" stroke="#555" stroke-width="0.85"/>
<line x1="46.2" y1="153.8" x2="50.2" y2="153.8" stroke="#555" stroke-width="0.85"/>
<line x1="46.2" y1="161.7" x2="49.3" y2="161.7" stroke="#555" stroke-width="0.85"/>
<line x1="46.2" y1="153.8" x2="46.2" y2="161.7" stroke="#555" stroke-width="0.85"/>
<line x1="42.4" y1="144.5" x2="45.9" y2="144.5" stroke="#555" stroke-width="0.85"/>
<line x1="42.4" y1="157.8" x2="46.2" y2="157.8" stroke="#555" stroke-width="0.85"/>
<line x1="42.4" y1="144.5" x2="42.4" y2="157.8" stroke="#555" stroke-width="0.85"/>
<line x1="40.5" y1="132.8" x2="44.2" y2="132.8" stroke="#555" stroke-width="0.85"/>
<line x1="40.5" y1="151.1" x2="42.4" y2="151.1" stroke="#555" stroke-width="0.85"/>
<line x1="40.5" y1="132.8" x2="40.5" y2="151.1" stroke="#555" stroke-width="0.85"/>
<line x1="37" y1="108" x2="39.7" y2="108" stroke="#555" stroke-width="0.85"/>
<line x1="37" y1="142" x2="40.5" y2="142" stroke="#555" stroke-width="0.85"/>
<line x1="37" y1="108" x2="37" y2="142" stroke="#555" stroke-width="0.85"/>
<line x1="35.3" y1="70.2" x2="42" y2="70.2" stroke="#555" stroke-width="0.8"/>
<line x1="35.3" y1="125" x2="37" y2="125" stroke="#555" stroke-width="0.8"/>
<line x1="35.3" y1="70.2" x2="35.3" y2="125" stroke="#555" stroke-width="0.85"/>
<line x1="64" y1="43" x2="92" y2="43" stroke="#9d9d9d" stroke-width="0.5"/>
<line x1="64" y1="47.1" x2="92" y2="47.1" stroke="#9d9d9d" stroke-width="0.5"/>
<line x1="64" y1="51.1" x2="92" y2="51.1" stroke="#9d9d9d" stroke-width="0.5"/>
<line x1="64" y1="55.2" x2="92" y2="55.2" stroke="#9d9d9d" stroke-width="0.5"/>
<line x1="64" y1="59.2" x2="92" y2="59.2" stroke="#9d9d9d" stroke-width="0.5"/>
<line x1="64" y1="63.3" x2="92" y2="63.3" stroke="#9d9d9d" stroke-width="0.5"/>
<line x1="64" y1="67.3" x2="92" y2="67.3" stroke="#9d9d9d" stroke-width="0.5"/>
<line x1="64" y1="71.4" x2="92" y2="71.4" stroke="#9d9d9d" stroke-width="0.5"/>
<line x1="64" y1="75.4" x2="92" y2="75.4" stroke="#9d9d9d" stroke-width="0.5"/>
<line x1="64" y1="79.5" x2="92" y2="79.5" stroke="#9d9d9d" stroke-width="0.5"/>
<line x1="64" y1="83.5" x2="92" y2="83.5" stroke="#9d9d9d" stroke-width="0.5"/>
<line x1="64" y1="87.6" x2="92" y2="87.6" stroke="#9d9d9d" stroke-width="0.5"/>
<line x1="64" y1="91.6" x2="92" y2="91.6" stroke="#9d9d9d" stroke-width="0.5"/>
<line x1="64" y1="95.7" x2="92" y2="95.7" stroke="#9d9d9d" stroke-width="0.5"/>
<line x1="64" y1="99.7" x2="92" y2="99.7" stroke="#9d9d9d" stroke-width="0.5"/>
<line x1="64" y1="103.8" x2="92" y2="103.8" stroke="#9d9d9d" stroke-width="0.5"/>
<line x1="64" y1="107.8" x2="92" y2="107.8" stroke="#9d9d9d" stroke-width="0.5"/>
<line x1="64" y1="111.8" x2="92" y2="111.8" stroke="#9d9d9d" stroke-width="0.5"/>
<line x1="64" y1="115.9" x2="92" y2="115.9" stroke="#9d9d9d" stroke-width="0.5"/>
<line x1="64" y1="119.9" x2="92" y2="119.9" stroke="#9d9d9d" stroke-width="0.5"/>
<line x1="64" y1="124" x2="92" y2="124" stroke="#9d9d9d" stroke-width="0.5"/>
<line x1="64" y1="128" x2="92" y2="128" stroke="#9d9d9d" stroke-width="0.5"/>
<line x1="64" y1="132.1" x2="92" y2="132.1" stroke="#9d9d9d" stroke-width="0.5"/>
<line x1="64" y1="136.1" x2="92" y2="136.1" stroke="#9d9d9d" stroke-width="0.5"/>
<line x1="64" y1="140.2" x2="92" y2="140.2" stroke="#9d9d9d" stroke-width="0.5"/>
<line x1="64" y1="144.2" x2="92" y2="144.2" stroke="#9d9d9d" stroke-width="0.5"/>
<line x1="64" y1="148.3" x2="92" y2="148.3" stroke="#9d9d9d" stroke-width="0.5"/>
<line x1="64" y1="152.3" x2="92" y2="152.3" stroke="#9d9d9d" stroke-width="0.5"/>
<line x1="64" y1="156.4" x2="92" y2="156.4" stroke="#9d9d9d" stroke-width="0.5"/>
<line x1="64" y1="160.4" x2="92" y2="160.4" stroke="#9d9d9d" stroke-width="0.5"/>
<line x1="64" y1="164.5" x2="92" y2="164.5" stroke="#9d9d9d" stroke-width="0.5"/>
<rect x="53" y="48" width="9" height="1.6" fill="#ffffff"/>
<line x1="53" y1="48" x2="53" y2="49.6" stroke="#555" stroke-width="0.7"/>
<line x1="53" y1="49.6" x2="64" y2="49.6" stroke="#555" stroke-width="0.5"/>
<rect x="50" y="63.5" width="10" height="2" fill="#ffffff"/>
<line x1="50" y1="63.5" x2="50" y2="65.5" stroke="#555" stroke-width="0.7"/>
<line x1="50" y1="65.5" x2="62" y2="65.5" stroke="#555" stroke-width="0.5"/>
<rect x="55" y="70.4" width="14" height="1.4" fill="#ffffff"/>
<line x1="55" y1="70.4" x2="55" y2="71.8" stroke="#555" stroke-width="0.7"/>
<line x1="55" y1="71.8" x2="71" y2="71.8" stroke="#555" stroke-width="0.5"/>
<rect x="52" y="76.5" width="8" height="1.5" fill="#ffffff"/>
<line x1="52" y1="76.5" x2="52" y2="78" stroke="#555" stroke-width="0.7"/>
<line x1="52" y1="78" x2="62" y2="78" stroke="#555" stroke-width="0.5"/>
<rect x="55" y="116.5" width="19" height="2" fill="#ffffff"/>
<line x1="55" y1="116.5" x2="55" y2="118.5" stroke="#555" stroke-width="0.7"/>
<line x1="55" y1="118.5" x2="76" y2="118.5" stroke="#555" stroke-width="0.5"/>
<rect x="58" y="120" width="8" height="1.5" fill="#ffffff"/>
<line x1="58" y1="120" x2="58" y2="121.5" stroke="#555" stroke-width="0.7"/>
<line x1="58" y1="121.5" x2="68" y2="121.5" stroke="#555" stroke-width="0.5"/>
<rect x="57" y="136" width="22" height="1.6" fill="#ffffff"/>
<line x1="57" y1="136" x2="57" y2="137.6" stroke="#555" stroke-width="0.7"/>
<line x1="57" y1="137.6" x2="81" y2="137.6" stroke="#555" stroke-width="0.5"/>
<rect x="55" y="143" width="12" height="2" fill="#ffffff"/>
<line x1="55" y1="143" x2="55" y2="145" stroke="#555" stroke-width="0.7"/>
<line x1="55" y1="145" x2="69" y2="145" stroke="#555" stroke-width="0.5"/>
<rect x="58" y="151.5" width="12" height="1.5" fill="#ffffff"/>
<line x1="58" y1="151.5" x2="58" y2="153" stroke="#555" stroke-width="0.7"/>
<line x1="58" y1="153" x2="72" y2="153" stroke="#555" stroke-width="0.5"/>
<rect x="48" y="105.5" width="9" height="1.5" fill="#ffffff"/>
<line x1="48" y1="105.5" x2="48" y2="107" stroke="#555" stroke-width="0.7"/>
<line x1="48" y1="107" x2="59" y2="107" stroke="#555" stroke-width="0.5"/>
<rect x="52" y="127.5" width="8" height="1.5" fill="#ffffff"/>
<line x1="52" y1="127.5" x2="52" y2="129" stroke="#555" stroke-width="0.7"/>
<line x1="52" y1="129" x2="62" y2="129" stroke="#555" stroke-width="0.5"/>
<text x="385.6" y="14.9" font-size="18.5" text-anchor="start" fill="#000" textLength="11.2" lengthAdjust="spacingAndGlyphs">B</text>
<rect x="425.8" y="19.9" width="112.9" height="151.1" fill="none" stroke="#111" stroke-width="0.9"/>
<text x="482.2" y="15.4" font-size="6.8" text-anchor="middle" fill="#111" textLength="53.9" lengthAdjust="spacingAndGlyphs" stroke="#111" stroke-width="0.18">Scale Independence</text>
<line x1="422" y1="33.3" x2="425.8" y2="33.3" stroke="#111" stroke-width="0.8"/>
<text x="420.9" y="35.4" font-size="5.8" text-anchor="end" font-weight="bold" fill="#111" stroke="#111" stroke-width="0.18">0.6</text>
<line x1="422" y1="59.1" x2="425.8" y2="59.1" stroke="#111" stroke-width="0.8"/>
<text x="420.9" y="61.1" font-size="5.8" text-anchor="end" font-weight="bold" fill="#111" stroke="#111" stroke-width="0.18">0.4</text>
<line x1="422" y1="84.9" x2="425.8" y2="84.9" stroke="#111" stroke-width="0.8"/>
<text x="420.9" y="87" font-size="5.8" text-anchor="end" font-weight="bold" fill="#111" stroke="#111" stroke-width="0.18">0.2</text>
<line x1="422" y1="110.7" x2="425.8" y2="110.7" stroke="#111" stroke-width="0.8"/>
<text x="420.9" y="112.8" font-size="5.8" text-anchor="end" font-weight="bold" fill="#111" stroke="#111" stroke-width="0.18">0.0</text>
<line x1="422" y1="136.5" x2="425.8" y2="136.5" stroke="#111" stroke-width="0.8"/>
<text x="420.9" y="138.6" font-size="5.8" text-anchor="end" font-weight="bold" fill="#111" stroke="#111" stroke-width="0.18">-0.2</text>
<line x1="422" y1="162.3" x2="425.8" y2="162.3" stroke="#111" stroke-width="0.8"/>
<text x="420.9" y="164.4" font-size="5.8" text-anchor="end" font-weight="bold" fill="#111" stroke="#111" stroke-width="0.18">-0.4</text>
<line x1="425.8" y1="171" x2="425.8" y2="174" stroke="#111" stroke-width="0.8"/>
<text x="425.8" y="182.6" font-size="6.6" text-anchor="middle" font-weight="bold" fill="#111" textLength="3" lengthAdjust="spacingAndGlyphs" stroke="#111" stroke-width="0.18">0</text>
<line x1="444.6" y1="171" x2="444.6" y2="174" stroke="#111" stroke-width="0.8"/>
<text x="444.6" y="182.6" font-size="6.6" text-anchor="middle" font-weight="bold" fill="#111" textLength="3" lengthAdjust="spacingAndGlyphs" stroke="#111" stroke-width="0.18">5</text>
<line x1="463.4" y1="171" x2="463.4" y2="174" stroke="#111" stroke-width="0.8"/>
<text x="463.4" y="182.6" font-size="6.6" text-anchor="middle" font-weight="bold" fill="#111" textLength="6" lengthAdjust="spacingAndGlyphs" stroke="#111" stroke-width="0.18">10</text>
<line x1="482.2" y1="171" x2="482.2" y2="174" stroke="#111" stroke-width="0.8"/>
<text x="482.2" y="182.6" font-size="6.6" text-anchor="middle" font-weight="bold" fill="#111" textLength="6" lengthAdjust="spacingAndGlyphs" stroke="#111" stroke-width="0.18">15</text>
<line x1="501.1" y1="171" x2="501.1" y2="174" stroke="#111" stroke-width="0.8"/>
<text x="501.1" y="182.6" font-size="6.6" text-anchor="middle" font-weight="bold" fill="#111" textLength="6" lengthAdjust="spacingAndGlyphs" stroke="#111" stroke-width="0.18">20</text>
<line x1="519.9" y1="171" x2="519.9" y2="174" stroke="#111" stroke-width="0.8"/>
<text x="519.9" y="182.6" font-size="6.6" text-anchor="middle" font-weight="bold" fill="#111" textLength="6" lengthAdjust="spacingAndGlyphs" stroke="#111" stroke-width="0.18">25</text>
<line x1="538.7" y1="171" x2="538.7" y2="174" stroke="#111" stroke-width="0.8"/>
<text x="538.7" y="182.6" font-size="6.6" text-anchor="middle" font-weight="bold" fill="#111" textLength="6" lengthAdjust="spacingAndGlyphs" stroke="#111" stroke-width="0.18">30</text>
<text x="482.2" y="191.6" font-size="7.0" text-anchor="middle" fill="#111" textLength="59.3" lengthAdjust="spacingAndGlyphs" stroke="#111" stroke-width="0.18">Soft Threshold(power)</text>
<text x="408" y="97.7" font-size="6.4" text-anchor="middle" fill="#111" transform="rotate(-90 408 97.7)" textLength="135.5" lengthAdjust="spacingAndGlyphs" stroke="#111" stroke-width="0.18">Scale Free Topology Model Fit, signed R^2</text>
<text x="430.8" y="164.9" font-size="6.6" text-anchor="middle" fill="#111" stroke="#111" stroke-width="0.18">1</text>
<text x="434.6" y="124.7" font-size="6.6" text-anchor="middle" fill="#111" stroke="#111" stroke-width="0.18">2</text>
<text x="438.5" y="116.5" font-size="6.6" text-anchor="middle" fill="#111" stroke="#111" stroke-width="0.18">3</text>
<text x="442.5" y="110.8" font-size="6.6" text-anchor="middle" fill="#111" stroke="#111" stroke-width="0.18">4</text>
<text x="446.4" y="107.1" font-size="6.6" text-anchor="middle" fill="#111" stroke="#111" stroke-width="0.18">5</text>
<text x="449.7" y="99.7" font-size="6.6" text-anchor="middle" fill="#111" stroke="#111" stroke-width="0.18">6</text>
<text x="453.5" y="90" font-size="6.6" text-anchor="middle" fill="#111" stroke="#111" stroke-width="0.18">7</text>
<text x="457.3" y="82.3" font-size="6.6" text-anchor="middle" fill="#111" stroke="#111" stroke-width="0.18">8</text>
<text x="461" y="75.6" font-size="6.6" text-anchor="middle" fill="#111" stroke="#111" stroke-width="0.18">9</text>
<text x="466.7" y="70.1" font-size="6.6" text-anchor="middle" fill="#111" stroke="#111" stroke-width="0.18">10</text>
<text x="474.5" y="60" font-size="6.6" text-anchor="middle" fill="#111" stroke="#111" stroke-width="0.18">12</text>
<text x="481.8" y="52.8" font-size="6.6" text-anchor="middle" fill="#111" stroke="#111" stroke-width="0.18">14</text>
<text x="489.3" y="46.6" font-size="6.6" text-anchor="middle" fill="#111" stroke="#111" stroke-width="0.18">16</text>
<text x="496.8" y="45.1" font-size="6.6" text-anchor="middle" fill="#111" stroke="#111" stroke-width="0.18">18</text>
<text x="504.3" y="39.6" font-size="6.6" text-anchor="middle" fill="#111" stroke="#111" stroke-width="0.18">20</text>
<text x="511.8" y="37.1" font-size="6.6" text-anchor="middle" fill="#111" stroke="#111" stroke-width="0.18">22</text>
<text x="519.3" y="33.9" font-size="6.6" text-anchor="middle" fill="#111" stroke="#111" stroke-width="0.18">24</text>
<text x="526.8" y="30.2" font-size="6.6" text-anchor="middle" fill="#111" stroke="#111" stroke-width="0.18">26</text>
<text x="534" y="27.2" font-size="6.6" text-anchor="middle" fill="#111" stroke="#111" stroke-width="0.18">28</text>
<text x="539.8" y="27.2" font-size="6.6" text-anchor="middle" fill="#111" stroke="#111" stroke-width="0.18">30</text>
<rect x="561.2" y="19.9" width="112.5" height="151.4" fill="none" stroke="#111" stroke-width="0.9"/>
<text x="617.5" y="15.4" font-size="6.8" text-anchor="middle" fill="#111" textLength="49.1" lengthAdjust="spacingAndGlyphs" stroke="#111" stroke-width="0.18">Mean Connectivity</text>
<line x1="557.4" y1="171.3" x2="561.2" y2="171.3" stroke="#111" stroke-width="0.8"/>
<text x="556.6" y="173.4" font-size="5.8" text-anchor="end" font-weight="bold" fill="#111" stroke="#111" stroke-width="0.18">0</text>
<line x1="557.4" y1="142.4" x2="561.2" y2="142.4" stroke="#111" stroke-width="0.8"/>
<text x="556.6" y="144.4" font-size="5.8" text-anchor="end" font-weight="bold" fill="#111" stroke="#111" stroke-width="0.18">1000</text>
<line x1="557.4" y1="113.5" x2="561.2" y2="113.5" stroke="#111" stroke-width="0.8"/>
<text x="556.6" y="115.5" font-size="5.8" text-anchor="end" font-weight="bold" fill="#111" stroke="#111" stroke-width="0.18">2000</text>
<line x1="557.4" y1="84.5" x2="561.2" y2="84.5" stroke="#111" stroke-width="0.8"/>
<text x="556.6" y="86.6" font-size="5.8" text-anchor="end" font-weight="bold" fill="#111" stroke="#111" stroke-width="0.18">3000</text>
<line x1="557.4" y1="55.6" x2="561.2" y2="55.6" stroke="#111" stroke-width="0.8"/>
<text x="556.6" y="57.7" font-size="5.8" text-anchor="end" font-weight="bold" fill="#111" stroke="#111" stroke-width="0.18">4000</text>
<line x1="557.4" y1="26.7" x2="561.2" y2="26.7" stroke="#111" stroke-width="0.8"/>
<text x="556.6" y="28.8" font-size="5.8" text-anchor="end" font-weight="bold" fill="#111" stroke="#111" stroke-width="0.18">5000</text>
<line x1="561.2" y1="171.3" x2="561.2" y2="174.3" stroke="#111" stroke-width="0.8"/>
<text x="561.2" y="182.6" font-size="6.6" text-anchor="middle" font-weight="bold" fill="#111" textLength="3" lengthAdjust="spacingAndGlyphs" stroke="#111" stroke-width="0.18">0</text>
<line x1="580" y1="171.3" x2="580" y2="174.3" stroke="#111" stroke-width="0.8"/>
<text x="580" y="182.6" font-size="6.6" text-anchor="middle" font-weight="bold" fill="#111" textLength="3" lengthAdjust="spacingAndGlyphs" stroke="#111" stroke-width="0.18">5</text>
<line x1="598.7" y1="171.3" x2="598.7" y2="174.3" stroke="#111" stroke-width="0.8"/>
<text x="598.7" y="182.6" font-size="6.6" text-anchor="middle" font-weight="bold" fill="#111" textLength="6" lengthAdjust="spacingAndGlyphs" stroke="#111" stroke-width="0.18">10</text>
<line x1="617.5" y1="171.3" x2="617.5" y2="174.3" stroke="#111" stroke-width="0.8"/>
<text x="617.5" y="182.6" font-size="6.6" text-anchor="middle" font-weight="bold" fill="#111" textLength="6" lengthAdjust="spacingAndGlyphs" stroke="#111" stroke-width="0.18">15</text>
<line x1="636.2" y1="171.3" x2="636.2" y2="174.3" stroke="#111" stroke-width="0.8"/>
<text x="636.2" y="182.6" font-size="6.6" text-anchor="middle" font-weight="bold" fill="#111" textLength="6" lengthAdjust="spacingAndGlyphs" stroke="#111" stroke-width="0.18">20</text>
<line x1="655" y1="171.3" x2="655" y2="174.3" stroke="#111" stroke-width="0.8"/>
<text x="655" y="182.6" font-size="6.6" text-anchor="middle" font-weight="bold" fill="#111" textLength="6" lengthAdjust="spacingAndGlyphs" stroke="#111" stroke-width="0.18">25</text>
<line x1="673.7" y1="171.3" x2="673.7" y2="174.3" stroke="#111" stroke-width="0.8"/>
<text x="673.7" y="182.6" font-size="6.6" text-anchor="middle" font-weight="bold" fill="#111" textLength="6" lengthAdjust="spacingAndGlyphs" stroke="#111" stroke-width="0.18">30</text>
<text x="617.5" y="191.6" font-size="7.0" text-anchor="middle" fill="#111" textLength="59.5" lengthAdjust="spacingAndGlyphs" stroke="#111" stroke-width="0.18">Soft Threshold(power)</text>
<text x="541" y="95.6" font-size="6.4" text-anchor="middle" fill="#111" transform="rotate(-90 541 95.6)" textLength="60" lengthAdjust="spacingAndGlyphs" stroke="#111" stroke-width="0.18">Mean Connectivity</text>
<text x="566.2" y="33.6" font-size="6.6" text-anchor="middle" fill="#111" stroke="#111" stroke-width="0.18">1</text>
<text x="570.3" y="74.4" font-size="6.6" text-anchor="middle" fill="#111" stroke="#111" stroke-width="0.18">2</text>
<text x="574.1" y="95.8" font-size="6.6" text-anchor="middle" fill="#111" stroke="#111" stroke-width="0.18">3</text>
<text x="577.7" y="109.9" font-size="6.6" text-anchor="middle" fill="#111" stroke="#111" stroke-width="0.18">4</text>
<text x="581.6" y="119.6" font-size="6.6" text-anchor="middle" fill="#111" stroke="#111" stroke-width="0.18">5</text>
<text x="585.4" y="126.4" font-size="6.6" text-anchor="middle" fill="#111" stroke="#111" stroke-width="0.18">6</text>
<text x="588.8" y="132" font-size="6.6" text-anchor="middle" fill="#111" stroke="#111" stroke-width="0.18">7</text>
<text x="592.7" y="136.3" font-size="6.6" text-anchor="middle" fill="#111" stroke="#111" stroke-width="0.18">8</text>
<text x="596.3" y="139.5" font-size="6.6" text-anchor="middle" fill="#111" stroke="#111" stroke-width="0.18">9</text>
<text x="602" y="143.1" font-size="6.6" text-anchor="middle" fill="#111" stroke="#111" stroke-width="0.18">10</text>
<text x="609.2" y="148.3" font-size="6.6" text-anchor="middle" fill="#111" stroke="#111" stroke-width="0.18">12</text>
<text x="616.7" y="151.7" font-size="6.6" text-anchor="middle" fill="#111" stroke="#111" stroke-width="0.18">14</text>
<text x="624.6" y="154.4" font-size="6.6" text-anchor="middle" fill="#111" stroke="#111" stroke-width="0.18">16</text>
<text x="632.3" y="156.7" font-size="6.6" text-anchor="middle" fill="#111" stroke="#111" stroke-width="0.18">18</text>
<text x="639.7" y="158.5" font-size="6.6" text-anchor="middle" fill="#111" stroke="#111" stroke-width="0.18">20</text>
<text x="647.2" y="160.1" font-size="6.6" text-anchor="middle" fill="#111" stroke="#111" stroke-width="0.18">22</text>
<text x="654.4" y="161.4" font-size="6.6" text-anchor="middle" fill="#111" stroke="#111" stroke-width="0.18">24</text>
<text x="661.9" y="162.6" font-size="6.6" text-anchor="middle" fill="#111" stroke="#111" stroke-width="0.18">26</text>
<text x="669.1" y="163.7" font-size="6.6" text-anchor="middle" fill="#111" stroke="#111" stroke-width="0.18">28</text>
<text x="676.6" y="164.2" font-size="6.6" text-anchor="middle" fill="#111" stroke="#111" stroke-width="0.18">30</text>
<text x="38.6" y="238.3" font-size="18.5" text-anchor="start" fill="#000">C</text>
<line x1="54.6" y1="277.2" x2="54.6" y2="396.2" stroke="#222" stroke-width="0.8"/>
<line x1="51.5" y1="277.2" x2="54.6" y2="277.2" stroke="#222" stroke-width="0.8"/>
<text x="46.6" y="277.2" font-size="7.2" text-anchor="middle" fill="#222" transform="rotate(-90 46.6 277.2)" textLength="10" lengthAdjust="spacingAndGlyphs" stroke="#222" stroke-width="0.18">2.0</text>
<line x1="51.5" y1="294.2" x2="54.6" y2="294.2" stroke="#222" stroke-width="0.8"/>
<text x="46.6" y="294.2" font-size="7.2" text-anchor="middle" fill="#222" transform="rotate(-90 46.6 294.2)" textLength="10" lengthAdjust="spacingAndGlyphs" stroke="#222" stroke-width="0.18">1.8</text>
<line x1="51.5" y1="311.2" x2="54.6" y2="311.2" stroke="#222" stroke-width="0.8"/>
<text x="46.6" y="311.2" font-size="7.2" text-anchor="middle" fill="#222" transform="rotate(-90 46.6 311.2)" textLength="10" lengthAdjust="spacingAndGlyphs" stroke="#222" stroke-width="0.18">1.6</text>
<line x1="51.5" y1="328.2" x2="54.6" y2="328.2" stroke="#222" stroke-width="0.8"/>
<text x="46.6" y="328.2" font-size="7.2" text-anchor="middle" fill="#222" transform="rotate(-90 46.6 328.2)" textLength="10" lengthAdjust="spacingAndGlyphs" stroke="#222" stroke-width="0.18">1.4</text>
<line x1="51.5" y1="345.2" x2="54.6" y2="345.2" stroke="#222" stroke-width="0.8"/>
<text x="46.6" y="345.2" font-size="7.2" text-anchor="middle" fill="#222" transform="rotate(-90 46.6 345.2)" textLength="10" lengthAdjust="spacingAndGlyphs" stroke="#222" stroke-width="0.18">1.2</text>
<line x1="51.5" y1="362.2" x2="54.6" y2="362.2" stroke="#222" stroke-width="0.8"/>
<text x="46.6" y="362.2" font-size="7.2" text-anchor="middle" fill="#222" transform="rotate(-90 46.6 362.2)" textLength="10" lengthAdjust="spacingAndGlyphs" stroke="#222" stroke-width="0.18">1.0</text>
<line x1="51.5" y1="379.2" x2="54.6" y2="379.2" stroke="#222" stroke-width="0.8"/>
<text x="46.6" y="379.2" font-size="7.2" text-anchor="middle" fill="#222" transform="rotate(-90 46.6 379.2)" textLength="10" lengthAdjust="spacingAndGlyphs" stroke="#222" stroke-width="0.18">0.8</text>
<line x1="51.5" y1="396.2" x2="54.6" y2="396.2" stroke="#222" stroke-width="0.8"/>
<text x="46.6" y="396.2" font-size="7.2" text-anchor="middle" fill="#222" transform="rotate(-90 46.6 396.2)" textLength="10" lengthAdjust="spacingAndGlyphs" stroke="#222" stroke-width="0.18">0.6</text>
<text x="31" y="355.6" font-size="6.8" text-anchor="middle" font-weight="bold" fill="#111" transform="rotate(-90 31 355.6)" textLength="19" lengthAdjust="spacingAndGlyphs" stroke="#111" stroke-width="0.18">Height</text>
<line x1="54.6" y1="362.3" x2="387.5" y2="363" stroke="#b0604a" stroke-width="0.9"/>
<polyline points="93.4,390.8 93.4,380.9 119.1,380.9 119.1,390.8" fill="none" stroke="#444" stroke-width="0.9"/>
<polyline points="67.7,353 67.7,339.2 106.3,339.2 106.3,380.9" fill="none" stroke="#444" stroke-width="0.9"/>
<polyline points="170.8,390.8 170.8,380.9 196.2,380.9 196.2,390.8" fill="none" stroke="#444" stroke-width="0.9"/>
<polyline points="145.1,360 145.1,346.1 183.5,346.1 183.5,380.9" fill="none" stroke="#444" stroke-width="0.9"/>
<polyline points="248.4,396.6 248.4,386.1 274.1,386.1 274.1,396.6" fill="none" stroke="#444" stroke-width="0.9"/>
<polyline points="222.4,370.4 222.4,360.7 261.3,360.7 261.3,386.1" fill="none" stroke="#444" stroke-width="0.9"/>
<polyline points="351.5,374.5 351.5,364 376.9,364 376.9,375" fill="none" stroke="#444" stroke-width="0.9"/>
<polyline points="325.8,372.4 325.8,361.6 364.2,361.6 364.2,364" fill="none" stroke="#444" stroke-width="0.9"/>
<polyline points="300,354 300,344.7 345.2,344.7 345.2,361.6" fill="none" stroke="#444" stroke-width="0.9"/>
<polyline points="241.7,360.7 241.7,317.2 322.7,317.2 322.7,344.7" fill="none" stroke="#444" stroke-width="0.9"/>
<polyline points="164.4,346.1 164.4,305.3 282.3,305.3 282.3,317.2" fill="none" stroke="#444" stroke-width="0.9"/>
<polyline points="86.5,339.2 86.5,281.9 223.3,281.9 223.3,305.3" fill="none" stroke="#444" stroke-width="0.9"/>
<text x="70.1" y="354.5" font-size="7.0" text-anchor="end" fill="#111" transform="rotate(-90 70.1 354.5)" textLength="26.3" lengthAdjust="spacingAndGlyphs" stroke="#111" stroke-width="0.18">MEgreen</text>
<text x="95.8" y="397" font-size="7.0" text-anchor="end" fill="#111" transform="rotate(-90 95.8 397)" textLength="31.5" lengthAdjust="spacingAndGlyphs" stroke="#111" stroke-width="0.18">MEdarkred</text>
<text x="121.5" y="397" font-size="7.0" text-anchor="end" fill="#111" transform="rotate(-90 121.5 397)" textLength="28.5" lengthAdjust="spacingAndGlyphs" stroke="#111" stroke-width="0.18">MEyellow</text>
<text x="147.5" y="362" font-size="7.0" text-anchor="end" fill="#111" transform="rotate(-90 147.5 362)" textLength="23.5" lengthAdjust="spacingAndGlyphs" stroke="#111" stroke-width="0.18">MEcyan</text>
<text x="173.2" y="397" font-size="7.0" text-anchor="end" fill="#111" transform="rotate(-90 173.2 397)" textLength="36" lengthAdjust="spacingAndGlyphs" stroke="#111" stroke-width="0.18">MElightcyan</text>
<text x="198.6" y="397" font-size="7.0" text-anchor="end" fill="#111" transform="rotate(-90 198.6 397)" textLength="29.5" lengthAdjust="spacingAndGlyphs" stroke="#111" stroke-width="0.18">MEpurple</text>
<text x="224.8" y="376.8" font-size="7.0" text-anchor="end" fill="#111" transform="rotate(-90 224.8 376.8)" textLength="33.6" lengthAdjust="spacingAndGlyphs" stroke="#111" stroke-width="0.18">MEmagenta</text>
<text x="250.8" y="401.6" font-size="7.0" text-anchor="end" fill="#111" transform="rotate(-90 250.8 401.6)" textLength="30.7" lengthAdjust="spacingAndGlyphs" stroke="#111" stroke-width="0.18">MEsalmon</text>
<text x="276.5" y="401.6" font-size="7.0" text-anchor="end" fill="#111" transform="rotate(-90 276.5 401.6)" textLength="22.5" lengthAdjust="spacingAndGlyphs" stroke="#111" stroke-width="0.18">MEgrey</text>
<text x="302.4" y="360.7" font-size="7.0" text-anchor="end" fill="#111" transform="rotate(-90 302.4 360.7)" textLength="48.3" lengthAdjust="spacingAndGlyphs" stroke="#111" stroke-width="0.18">MEdarkturquoise</text>
<text x="328.2" y="376.8" font-size="7.0" text-anchor="end" fill="#111" transform="rotate(-90 328.2 376.8)" textLength="37.9" lengthAdjust="spacingAndGlyphs" stroke="#111" stroke-width="0.18">MElightgreen</text>
<text x="353.9" y="378" font-size="7.0" text-anchor="end" fill="#111" transform="rotate(-90 353.9 378)" textLength="31" lengthAdjust="spacingAndGlyphs" stroke="#111" stroke-width="0.18">MEgrey60</text>
<text x="379.3" y="379.7" font-size="7.0" text-anchor="end" fill="#111" transform="rotate(-90 379.3 379.7)" textLength="39.3" lengthAdjust="spacingAndGlyphs" stroke="#111" stroke-width="0.18">MElightyellow</text>
<text x="385.4" y="238.4" font-size="18.5" text-anchor="start" fill="#000">D</text>
<text x="556" y="242.5" font-size="8.0" text-anchor="middle" font-weight="bold" fill="#111" textLength="78" lengthAdjust="spacingAndGlyphs" stroke="#111" stroke-width="0.18">Cluster Dendrogram</text>
<line x1="424.4" y1="254.9" x2="424.4" y2="379.5" stroke="#222" stroke-width="0.8"/>
<line x1="421.5" y1="254.9" x2="424.4" y2="254.9" stroke="#222" stroke-width="0.8"/>
<text x="417.8" y="254.9" font-size="7.0" text-anchor="middle" fill="#222" transform="rotate(-90 417.8 254.9)" textLength="9.8" lengthAdjust="spacingAndGlyphs" stroke="#222" stroke-width="0.18">1.0</text>
<line x1="421.5" y1="280.6" x2="424.4" y2="280.6" stroke="#222" stroke-width="0.8"/>
<text x="417.8" y="280.6" font-size="7.0" text-anchor="middle" fill="#222" transform="rotate(-90 417.8 280.6)" textLength="9.8" lengthAdjust="spacingAndGlyphs" stroke="#222" stroke-width="0.18">0.8</text>
<line x1="421.5" y1="306.3" x2="424.4" y2="306.3" stroke="#222" stroke-width="0.8"/>
<text x="417.8" y="306.3" font-size="7.0" text-anchor="middle" fill="#222" transform="rotate(-90 417.8 306.3)" textLength="9.8" lengthAdjust="spacingAndGlyphs" stroke="#222" stroke-width="0.18">0.6</text>
<line x1="421.5" y1="332" x2="424.4" y2="332" stroke="#222" stroke-width="0.8"/>
<text x="417.8" y="332" font-size="7.0" text-anchor="middle" fill="#222" transform="rotate(-90 417.8 332)" textLength="9.8" lengthAdjust="spacingAndGlyphs" stroke="#222" stroke-width="0.18">0.4</text>
<line x1="421.5" y1="357.7" x2="424.4" y2="357.7" stroke="#222" stroke-width="0.8"/>
<text x="417.8" y="357.7" font-size="7.0" text-anchor="middle" fill="#222" transform="rotate(-90 417.8 357.7)" textLength="9.8" lengthAdjust="spacingAndGlyphs" stroke="#222" stroke-width="0.18">0.2</text>
<text x="404.2" y="315" font-size="6.8" text-anchor="middle" fill="#111" transform="rotate(-90 404.2 315)" textLength="19" lengthAdjust="spacingAndGlyphs" stroke="#111" stroke-width="0.18">Height</text>
<line x1="439.2" y1="279.6" x2="439.2" y2="379" stroke="#c4c4c4" stroke-width="0.95" stroke-dasharray="4,0.7"/>
<line x1="444.1" y1="296" x2="444.1" y2="379" stroke="#c4c4c4" stroke-width="0.95" stroke-dasharray="4,0.7"/>
<line x1="449" y1="296.8" x2="449" y2="379" stroke="#c4c4c4" stroke-width="0.95" stroke-dasharray="4,0.7"/>
<line x1="453.8" y1="291.7" x2="453.8" y2="379" stroke="#c4c4c4" stroke-width="0.95" stroke-dasharray="4,0.7"/>
<line x1="458.7" y1="294" x2="458.7" y2="379" stroke="#c4c4c4" stroke-width="0.95" stroke-dasharray="4,0.7"/>
<line x1="463.6" y1="283.8" x2="463.6" y2="379" stroke="#c4c4c4" stroke-width="0.95" stroke-dasharray="4,0.7"/>
<line x1="468.5" y1="281.2" x2="468.5" y2="379" stroke="#c4c4c4" stroke-width="0.95" stroke-dasharray="4,0.7"/>
<line x1="473.4" y1="283" x2="473.4" y2="379" stroke="#c4c4c4" stroke-width="0.95" stroke-dasharray="4,0.7"/>
<line x1="478.2" y1="271.2" x2="478.2" y2="379" stroke="#c4c4c4" stroke-width="0.95" stroke-dasharray="4,0.7"/>
<line x1="483.1" y1="274.8" x2="483.1" y2="379" stroke="#c4c4c4" stroke-width="0.95" stroke-dasharray="4,0.7"/>
<line x1="488" y1="278.5" x2="488" y2="379" stroke="#c4c4c4" stroke-width="0.95" stroke-dasharray="4,0.7"/>
<line x1="492.9" y1="282.2" x2="492.9" y2="379" stroke="#c4c4c4" stroke-width="0.95" stroke-dasharray="4,0.7"/>
<line x1="497.8" y1="285.8" x2="497.8" y2="379" stroke="#c4c4c4" stroke-width="0.95" stroke-dasharray="4,0.7"/>
<line x1="502.6" y1="333" x2="502.6" y2="379" stroke="#c4c4c4" stroke-width="0.95" stroke-dasharray="4,0.7"/>
<line x1="507.5" y1="285.3" x2="507.5" y2="379" stroke="#c4c4c4" stroke-width="0.95" stroke-dasharray="4,0.7"/>
<line x1="512.4" y1="291.2" x2="512.4" y2="379" stroke="#c4c4c4" stroke-width="0.95" stroke-dasharray="4,0.7"/>
<line x1="517.3" y1="283.2" x2="517.3" y2="379" stroke="#c4c4c4" stroke-width="0.95" stroke-dasharray="4,0.7"/>
<line x1="522.2" y1="282.1" x2="522.2" y2="379" stroke="#c4c4c4" stroke-width="0.95" stroke-dasharray="4,0.7"/>
<line x1="527" y1="279.5" x2="527" y2="379" stroke="#c4c4c4" stroke-width="0.95" stroke-dasharray="4,0.7"/>
<line x1="531.9" y1="284.8" x2="531.9" y2="379" stroke="#c4c4c4" stroke-width="0.95" stroke-dasharray="4,0.7"/>
<line x1="536.8" y1="263.7" x2="536.8" y2="379" stroke="#c4c4c4" stroke-width="0.95" stroke-dasharray="4,0.7"/>
<line x1="541.7" y1="265.2" x2="541.7" y2="379" stroke="#c4c4c4" stroke-width="0.95" stroke-dasharray="4,0.7"/>
<line x1="546.6" y1="266.7" x2="546.6" y2="379" stroke="#c4c4c4" stroke-width="0.95" stroke-dasharray="4,0.7"/>
<line x1="551.4" y1="268.6" x2="551.4" y2="379" stroke="#c4c4c4" stroke-width="0.95" stroke-dasharray="4,0.7"/>
<line x1="556.3" y1="270.7" x2="556.3" y2="379" stroke="#c4c4c4" stroke-width="0.95" stroke-dasharray="4,0.7"/>
<line x1="561.2" y1="272.7" x2="561.2" y2="379" stroke="#c4c4c4" stroke-width="0.95" stroke-dasharray="4,0.7"/>
<line x1="566.1" y1="274.8" x2="566.1" y2="379" stroke="#c4c4c4" stroke-width="0.95" stroke-dasharray="4,0.7"/>
<line x1="571" y1="276.8" x2="571" y2="379" stroke="#c4c4c4" stroke-width="0.95" stroke-dasharray="4,0.7"/>
<line x1="575.8" y1="278.9" x2="575.8" y2="379" stroke="#c4c4c4" stroke-width="0.95" stroke-dasharray="4,0.7"/>
<line x1="580.7" y1="280.9" x2="580.7" y2="379" stroke="#c4c4c4" stroke-width="0.95" stroke-dasharray="4,0.7"/>
<line x1="585.6" y1="283" x2="585.6" y2="379" stroke="#c4c4c4" stroke-width="0.95" stroke-dasharray="4,0.7"/>
<line x1="590.5" y1="285" x2="590.5" y2="379" stroke="#c4c4c4" stroke-width="0.95" stroke-dasharray="4,0.7"/>
<line x1="595.4" y1="287.1" x2="595.4" y2="379" stroke="#c4c4c4" stroke-width="0.95" stroke-dasharray="4,0.7"/>
<line x1="600.2" y1="289.1" x2="600.2" y2="379" stroke="#c4c4c4" stroke-width="0.95" stroke-dasharray="4,0.7"/>
<line x1="605.1" y1="291.2" x2="605.1" y2="379" stroke="#c4c4c4" stroke-width="0.95" stroke-dasharray="4,0.7"/>
<line x1="610" y1="293.2" x2="610" y2="379" stroke="#c4c4c4" stroke-width="0.95" stroke-dasharray="4,0.7"/>
<line x1="614.9" y1="295.3" x2="614.9" y2="379" stroke="#c4c4c4" stroke-width="0.95" stroke-dasharray="4,0.7"/>
<line x1="619.8" y1="297.3" x2="619.8" y2="379" stroke="#c4c4c4" stroke-width="0.95" stroke-dasharray="4,0.7"/>
<line x1="624.6" y1="299.4" x2="624.6" y2="379" stroke="#c4c4c4" stroke-width="0.95" stroke-dasharray="4,0.7"/>
<line x1="629.5" y1="301.4" x2="629.5" y2="379" stroke="#c4c4c4" stroke-width="0.95" stroke-dasharray="4,0.7"/>
<line x1="634.4" y1="303.5" x2="634.4" y2="379" stroke="#c4c4c4" stroke-width="0.95" stroke-dasharray="4,0.7"/>
<line x1="639.3" y1="305.5" x2="639.3" y2="379" stroke="#c4c4c4" stroke-width="0.95" stroke-dasharray="4,0.7"/>
<line x1="644.2" y1="307.6" x2="644.2" y2="379" stroke="#c4c4c4" stroke-width="0.95" stroke-dasharray="4,0.7"/>
<line x1="649" y1="309.6" x2="649" y2="379" stroke="#c4c4c4" stroke-width="0.95" stroke-dasharray="4,0.7"/>
<line x1="653.9" y1="312" x2="653.9" y2="379" stroke="#c4c4c4" stroke-width="0.95" stroke-dasharray="4,0.7"/>
<line x1="658.8" y1="278" x2="658.8" y2="379" stroke="#c4c4c4" stroke-width="0.95" stroke-dasharray="4,0.7"/>
<line x1="663.7" y1="271.4" x2="663.7" y2="379" stroke="#c4c4c4" stroke-width="0.95" stroke-dasharray="4,0.7"/>
<line x1="668.6" y1="272.4" x2="668.6" y2="379" stroke="#c4c4c4" stroke-width="0.95" stroke-dasharray="4,0.7"/>
<line x1="673.4" y1="277.3" x2="673.4" y2="379" stroke="#c4c4c4" stroke-width="0.95" stroke-dasharray="4,0.7"/>
<line x1="678.3" y1="295.6" x2="678.3" y2="379" stroke="#c4c4c4" stroke-width="0.95" stroke-dasharray="4,0.7"/>
<polygon points="434,255 434,278.4 434.9,267 436.2,267.4 436.9,279.4 437.9,265.3 439.2,267.5 440.1,273.3 440.8,281.2 442,275.2 442.7,283.1 443.3,271.1 444,284.4 445,272.8 445.9,271.9 447.1,273.1 447.9,273.9 448.9,285.7 449.9,276.8 451,282.8 452.1,279.6 452.8,279.4 453.8,279 454.4,285 455.3,273.8 456.5,274.6 457.1,274.1 458.4,285.7 459.7,270.2 460.5,272.5 461.2,283.8 462.2,269.8 463,271.2 464.2,272.4 464.9,267.5 466.2,269.6 467,266.5 468.1,270.4 468.7,268.3 469.7,265.2 470.8,267.3 471.6,275 472.2,278.4 473.3,271 474.2,270.8 474.9,266.2 476.2,263.3 477.4,263.1 478,263 478,255" fill="#111"/>
<polygon points="474,256 480,260.5 486,265 492,269.5 498,274 499,285 497,287 492,277.5 486,273 480,268.5 474,264" fill="#111"/>
<polygon points="504,255 504,280.8 504.8,272.5 506,269.3 506.7,276.2 507.4,272.6 508.5,277.4 509.5,284.5 510.1,273.6 510.9,274.1 511.9,273.8 512.5,280.8 513.5,280.4 514.3,277 515.3,279.8 515.9,279.6 517,271.3 518,270.9 519.3,268.9 520.5,281.3 521.4,272.2 522.7,268.6 524,280.1 524.7,271.1 525.6,268.4 526.4,270.5 527.3,266.2 528.3,278.7 528.9,278.4 530,274.6 530.9,277.3 531.6,277 532.6,263.6 533.4,263.9 534.7,271.8 535,262 535,255" fill="#111"/>
<polygon points="533,255.5 540,257.7 548,260.2 560,265.2 580,273.6 600,282 620,290.4 640,298.8 653.7,304.6 653.7,312.6 640,303 620,294.6 600,286.2 580,277.8 560,269.4 548,264.4 540,261.9 533,259.7" fill="#111"/>
<polygon points="654.5,255.5 654.5,290 656,280 658,270 660,265 662,262 665,261 668,262 671,264 674,268 676.5,276 678.4,286 678.4,255.5" fill="#111"/>
<line x1="434.3" y1="273.1" x2="434.3" y2="306.6" stroke="#111" stroke-width="0.85"/>
<line x1="435" y1="265.5" x2="435" y2="273" stroke="#555" stroke-width="0.85"/>
<line x1="435.4" y1="265.7" x2="435.4" y2="269.2" stroke="#111" stroke-width="0.85"/>
<line x1="436" y1="265.9" x2="436" y2="299.4" stroke="#555" stroke-width="0.85"/>
<line x1="436.7" y1="274.4" x2="436.7" y2="284.9" stroke="#111" stroke-width="0.85"/>
<line x1="437.5" y1="270" x2="437.5" y2="274.6" stroke="#777" stroke-width="0.85"/>
<line x1="437.9" y1="264" x2="437.9" y2="267.1" stroke="#555" stroke-width="0.85"/>
<line x1="438.4" y1="264.6" x2="438.4" y2="270.4" stroke="#1a1a1a" stroke-width="0.85"/>
<line x1="439.1" y1="265.9" x2="439.1" y2="289.4" stroke="#777" stroke-width="0.85"/>
<line x1="440" y1="271.4" x2="440" y2="298.9" stroke="#111" stroke-width="0.85"/>
<line x1="440.9" y1="279.2" x2="440.9" y2="289.7" stroke="#333" stroke-width="0.85"/>
<line x1="441.5" y1="276.3" x2="441.5" y2="280.5" stroke="#777" stroke-width="0.85"/>
<line x1="442.4" y1="278.6" x2="442.4" y2="302.1" stroke="#555" stroke-width="0.85"/>
<line x1="443.1" y1="274.6" x2="443.1" y2="288.1" stroke="#1a1a1a" stroke-width="0.85"/>
<line x1="443.9" y1="280.1" x2="443.9" y2="286.1" stroke="#555" stroke-width="0.85"/>
<line x1="444.7" y1="275.1" x2="444.7" y2="294.6" stroke="#555" stroke-width="0.85"/>
<line x1="445.7" y1="270.6" x2="445.7" y2="284.1" stroke="#777" stroke-width="0.85"/>
<line x1="446.6" y1="271.1" x2="446.6" y2="287.6" stroke="#000" stroke-width="0.85"/>
<line x1="447.1" y1="271.6" x2="447.1" y2="278" stroke="#000" stroke-width="0.85"/>
<line x1="447.7" y1="272.2" x2="447.7" y2="282.7" stroke="#000" stroke-width="0.85"/>
<line x1="448.3" y1="277.4" x2="448.3" y2="283.4" stroke="#000" stroke-width="0.85"/>
<line x1="449.1" y1="282.2" x2="449.1" y2="286.2" stroke="#555" stroke-width="0.85"/>
<line x1="449.7" y1="276.9" x2="449.7" y2="283.3" stroke="#555" stroke-width="0.85"/>
<line x1="450.3" y1="277.5" x2="450.3" y2="283" stroke="#000" stroke-width="0.85"/>
<line x1="450.8" y1="280.3" x2="450.8" y2="293.8" stroke="#333" stroke-width="0.85"/>
<line x1="451.4" y1="280.1" x2="451.4" y2="285.6" stroke="#1a1a1a" stroke-width="0.85"/>
<line x1="452" y1="278.4" x2="452" y2="284.5" stroke="#333" stroke-width="0.85"/>
<line x1="452.7" y1="277.9" x2="452.7" y2="282" stroke="#555" stroke-width="0.85"/>
<line x1="453.5" y1="277.6" x2="453.5" y2="311.1" stroke="#1a1a1a" stroke-width="0.85"/>
<line x1="454.2" y1="281.8" x2="454.2" y2="295.3" stroke="#1a1a1a" stroke-width="0.85"/>
<line x1="454.9" y1="277" x2="454.9" y2="293.5" stroke="#555" stroke-width="0.85"/>
<line x1="455.5" y1="272.5" x2="455.5" y2="278.9" stroke="#1a1a1a" stroke-width="0.85"/>
<line x1="456" y1="272.8" x2="456" y2="283.3" stroke="#000" stroke-width="0.85"/>
<line x1="456.8" y1="272.9" x2="456.8" y2="292.4" stroke="#777" stroke-width="0.85"/>
<line x1="457.8" y1="278.1" x2="457.8" y2="294.6" stroke="#777" stroke-width="0.85"/>
<line x1="458.5" y1="283.6" x2="458.5" y2="289.1" stroke="#1a1a1a" stroke-width="0.85"/>
<line x1="459.1" y1="276.4" x2="459.1" y2="295.9" stroke="#111" stroke-width="0.85"/>
<line x1="459.7" y1="268.8" x2="459.7" y2="288.3" stroke="#555" stroke-width="0.85"/>
<line x1="460.3" y1="270.5" x2="460.3" y2="273.4" stroke="#000" stroke-width="0.85"/>
<line x1="461.3" y1="281.2" x2="461.3" y2="291.7" stroke="#1a1a1a" stroke-width="0.85"/>
<line x1="462" y1="270.8" x2="462" y2="287.3" stroke="#111" stroke-width="0.85"/>
<line x1="462.6" y1="269.1" x2="462.6" y2="276.6" stroke="#000" stroke-width="0.85"/>
<line x1="463.4" y1="270.2" x2="463.4" y2="275.4" stroke="#111" stroke-width="0.85"/>
<line x1="464.1" y1="270.8" x2="464.1" y2="274" stroke="#1a1a1a" stroke-width="0.85"/>
<line x1="465" y1="266.1" x2="465" y2="293.6" stroke="#1a1a1a" stroke-width="0.85"/>
<line x1="465.5" y1="267.1" x2="465.5" y2="300.6" stroke="#111" stroke-width="0.85"/>
<line x1="466.2" y1="268.1" x2="466.2" y2="272.9" stroke="#1a1a1a" stroke-width="0.85"/>
<line x1="466.8" y1="265.7" x2="466.8" y2="268.5" stroke="#555" stroke-width="0.85"/>
<line x1="467.4" y1="266.6" x2="467.4" y2="283.1" stroke="#555" stroke-width="0.85"/>
<line x1="468.3" y1="268.2" x2="468.3" y2="287.7" stroke="#777" stroke-width="0.85"/>
<line x1="469" y1="265.9" x2="469" y2="289.4" stroke="#000" stroke-width="0.85"/>
<line x1="470" y1="264.3" x2="470" y2="269.8" stroke="#333" stroke-width="0.85"/>
<line x1="470.9" y1="267.4" x2="470.9" y2="273.9" stroke="#333" stroke-width="0.85"/>
<line x1="471.7" y1="274.3" x2="471.7" y2="279.7" stroke="#000" stroke-width="0.85"/>
<line x1="472.6" y1="274.2" x2="472.6" y2="279.4" stroke="#555" stroke-width="0.85"/>
<line x1="473.5" y1="269.4" x2="473.5" y2="282.9" stroke="#000" stroke-width="0.85"/>
<line x1="474.5" y1="267.6" x2="474.5" y2="270.6" stroke="#111" stroke-width="0.85"/>
<line x1="474.9" y1="264.7" x2="474.9" y2="270" stroke="#111" stroke-width="0.85"/>
<line x1="475.9" y1="262.5" x2="475.9" y2="267.3" stroke="#000" stroke-width="0.85"/>
<line x1="476.6" y1="261.7" x2="476.6" y2="295.2" stroke="#1a1a1a" stroke-width="0.85"/>
<line x1="477.2" y1="261.6" x2="477.2" y2="295.1" stroke="#333" stroke-width="0.85"/>
<line x1="477.7" y1="261.6" x2="477.7" y2="264.5" stroke="#111" stroke-width="0.85"/>
<line x1="478.2" y1="265.7" x2="478.2" y2="273.6" stroke="#000" stroke-width="0.75"/>
<line x1="479.5" y1="266.6" x2="479.5" y2="270.7" stroke="#000" stroke-width="0.75"/>
<line x1="480.5" y1="267.4" x2="480.5" y2="272.6" stroke="#111" stroke-width="0.75"/>
<line x1="482.3" y1="268.7" x2="482.3" y2="273.1" stroke="#333" stroke-width="0.75"/>
<line x1="483.1" y1="269.3" x2="483.1" y2="272.6" stroke="#333" stroke-width="0.75"/>
<line x1="484" y1="270" x2="484" y2="274.9" stroke="#000" stroke-width="0.75"/>
<line x1="485.7" y1="271.3" x2="485.7" y2="273.9" stroke="#333" stroke-width="0.75"/>
<line x1="487.7" y1="272.8" x2="487.7" y2="278.7" stroke="#333" stroke-width="0.75"/>
<line x1="488.9" y1="273.6" x2="488.9" y2="277.2" stroke="#333" stroke-width="0.75"/>
<line x1="490.4" y1="274.8" x2="490.4" y2="277.8" stroke="#222" stroke-width="0.75"/>
<line x1="491.7" y1="275.8" x2="491.7" y2="278.3" stroke="#333" stroke-width="0.75"/>
<line x1="493.4" y1="277.1" x2="493.4" y2="279.7" stroke="#333" stroke-width="0.75"/>
<line x1="495" y1="278.2" x2="495" y2="281.9" stroke="#000" stroke-width="0.75"/>
<line x1="496.5" y1="279.4" x2="496.5" y2="283" stroke="#333" stroke-width="0.75"/>
<line x1="498.2" y1="280.7" x2="498.2" y2="286" stroke="#333" stroke-width="0.75"/>
<line x1="504.1" y1="278.6" x2="504.1" y2="296.1" stroke="#222" stroke-width="0.85"/>
<line x1="504.9" y1="270.8" x2="504.9" y2="284.3" stroke="#111" stroke-width="0.85"/>
<line x1="505.6" y1="268.9" x2="505.6" y2="275.2" stroke="#222" stroke-width="0.85"/>
<line x1="506.6" y1="273.5" x2="506.6" y2="301" stroke="#222" stroke-width="0.85"/>
<line x1="507.1" y1="272.6" x2="507.1" y2="300.1" stroke="#444" stroke-width="0.85"/>
<line x1="507.9" y1="273.3" x2="507.9" y2="278.1" stroke="#000" stroke-width="0.85"/>
<line x1="508.8" y1="277.8" x2="508.8" y2="282.2" stroke="#111" stroke-width="0.85"/>
<line x1="509.7" y1="279.8" x2="509.7" y2="284.3" stroke="#000" stroke-width="0.85"/>
<line x1="510.5" y1="272.3" x2="510.5" y2="299.8" stroke="#000" stroke-width="0.85"/>
<line x1="511.1" y1="272.5" x2="511.1" y2="275.1" stroke="#000" stroke-width="0.85"/>
<line x1="511.9" y1="272.7" x2="511.9" y2="279" stroke="#222" stroke-width="0.85"/>
<line x1="512.8" y1="279.2" x2="512.8" y2="306.7" stroke="#111" stroke-width="0.85"/>
<line x1="513.3" y1="279" x2="513.3" y2="285.2" stroke="#000" stroke-width="0.85"/>
<line x1="514.1" y1="276.4" x2="514.1" y2="279.6" stroke="#000" stroke-width="0.85"/>
<line x1="514.7" y1="276.6" x2="514.7" y2="283.1" stroke="#444" stroke-width="0.85"/>
<line x1="515.5" y1="278.3" x2="515.5" y2="282.4" stroke="#222" stroke-width="0.85"/>
<line x1="516.2" y1="275.7" x2="516.2" y2="280.4" stroke="#000" stroke-width="0.85"/>
<line x1="516.9" y1="270.8" x2="516.9" y2="284.3" stroke="#111" stroke-width="0.85"/>
<line x1="517.6" y1="269.6" x2="517.6" y2="287.1" stroke="#444" stroke-width="0.85"/>
<line x1="518.1" y1="269.2" x2="518.1" y2="275.7" stroke="#111" stroke-width="0.85"/>
<line x1="518.6" y1="268.4" x2="518.6" y2="274.6" stroke="#444" stroke-width="0.85"/>
<line x1="519.4" y1="268.7" x2="519.4" y2="271.7" stroke="#111" stroke-width="0.85"/>
<line x1="519.9" y1="273.8" x2="519.9" y2="280.3" stroke="#222" stroke-width="0.85"/>
<line x1="520.7" y1="277.7" x2="520.7" y2="282.6" stroke="#222" stroke-width="0.85"/>
<line x1="521.7" y1="270" x2="521.7" y2="279.5" stroke="#444" stroke-width="0.85"/>
<line x1="522.6" y1="267.4" x2="522.6" y2="284.9" stroke="#222" stroke-width="0.85"/>
<line x1="523.2" y1="271.2" x2="523.2" y2="298.7" stroke="#111" stroke-width="0.85"/>
<line x1="523.8" y1="277.5" x2="523.8" y2="299" stroke="#111" stroke-width="0.85"/>
<line x1="524.5" y1="271.7" x2="524.5" y2="277.5" stroke="#000" stroke-width="0.85"/>
<line x1="525.3" y1="267.9" x2="525.3" y2="273.8" stroke="#444" stroke-width="0.85"/>
<line x1="526.1" y1="268.4" x2="526.1" y2="271.1" stroke="#111" stroke-width="0.85"/>
<line x1="527.1" y1="265.8" x2="527.1" y2="293.3" stroke="#000" stroke-width="0.85"/>
<line x1="528.1" y1="274.4" x2="528.1" y2="277.9" stroke="#111" stroke-width="0.85"/>
<line x1="528.9" y1="276.7" x2="528.9" y2="294.2" stroke="#000" stroke-width="0.85"/>
<line x1="529.9" y1="273.5" x2="529.9" y2="301" stroke="#000" stroke-width="0.85"/>
<line x1="530.5" y1="274.5" x2="530.5" y2="296" stroke="#000" stroke-width="0.85"/>
<line x1="531" y1="275.8" x2="531" y2="285.3" stroke="#000" stroke-width="0.85"/>
<line x1="531.7" y1="275.1" x2="531.7" y2="296.6" stroke="#222" stroke-width="0.85"/>
<line x1="532.1" y1="268.6" x2="532.1" y2="282.1" stroke="#444" stroke-width="0.85"/>
<line x1="532.8" y1="262.2" x2="532.8" y2="279.7" stroke="#444" stroke-width="0.85"/>
<line x1="533.5" y1="263.2" x2="533.5" y2="267.7" stroke="#222" stroke-width="0.85"/>
<line x1="534" y1="266.2" x2="534" y2="279.7" stroke="#222" stroke-width="0.85"/>
<line x1="534.5" y1="269.3" x2="534.5" y2="273.3" stroke="#222" stroke-width="0.85"/>
<line x1="535.4" y1="264.8" x2="535.4" y2="269.3" stroke="#222" stroke-width="0.75"/>
<line x1="536.3" y1="264.6" x2="536.3" y2="271.8" stroke="#000" stroke-width="0.75"/>
<line x1="537.9" y1="264.3" x2="537.9" y2="267" stroke="#222" stroke-width="0.75"/>
<line x1="539.5" y1="264" x2="539.5" y2="267" stroke="#111" stroke-width="0.75"/>
<line x1="540.5" y1="263.8" x2="540.5" y2="272.5" stroke="#000" stroke-width="0.75"/>
<line x1="541.4" y1="263.6" x2="541.4" y2="268.9" stroke="#333" stroke-width="0.75"/>
<line x1="542.9" y1="263.3" x2="542.9" y2="267.2" stroke="#222" stroke-width="0.75"/>
<line x1="544.6" y1="263" x2="544.6" y2="265.8" stroke="#111" stroke-width="0.75"/>
<line x1="546.4" y1="262.7" x2="546.4" y2="267.4" stroke="#222" stroke-width="0.75"/>
<line x1="547.3" y1="262.6" x2="547.3" y2="265.3" stroke="#111" stroke-width="0.75"/>
<line x1="548.1" y1="263" x2="548.1" y2="266.2" stroke="#222" stroke-width="0.75"/>
<line x1="550" y1="263.7" x2="550" y2="271.5" stroke="#000" stroke-width="0.75"/>
<line x1="551.2" y1="264.2" x2="551.2" y2="270.3" stroke="#222" stroke-width="0.75"/>
<line x1="552.7" y1="264.9" x2="552.7" y2="269.1" stroke="#000" stroke-width="0.75"/>
<line x1="553.7" y1="265.3" x2="553.7" y2="269.1" stroke="#333" stroke-width="0.75"/>
<line x1="555.5" y1="266.1" x2="555.5" y2="270.3" stroke="#111" stroke-width="0.75"/>
<line x1="557.3" y1="266.8" x2="557.3" y2="271" stroke="#111" stroke-width="0.75"/>
<line x1="558.8" y1="267.4" x2="558.8" y2="270.7" stroke="#222" stroke-width="0.75"/>
<line x1="559.7" y1="267.8" x2="559.7" y2="277.8" stroke="#333" stroke-width="0.75"/>
<line x1="560.8" y1="268.3" x2="560.8" y2="275.3" stroke="#333" stroke-width="0.75"/>
<line x1="562.8" y1="269.1" x2="562.8" y2="272.5" stroke="#333" stroke-width="0.75"/>
<line x1="563.6" y1="269.5" x2="563.6" y2="273.9" stroke="#000" stroke-width="0.75"/>
<line x1="565.4" y1="270.2" x2="565.4" y2="274.2" stroke="#333" stroke-width="0.75"/>
<line x1="566.4" y1="270.6" x2="566.4" y2="273.8" stroke="#333" stroke-width="0.75"/>
<line x1="567.3" y1="271" x2="567.3" y2="275.5" stroke="#111" stroke-width="0.75"/>
<line x1="568.3" y1="271.4" x2="568.3" y2="275.8" stroke="#000" stroke-width="0.75"/>
<line x1="569.1" y1="271.8" x2="569.1" y2="275.8" stroke="#333" stroke-width="0.75"/>
<line x1="570.6" y1="272.4" x2="570.6" y2="279.5" stroke="#222" stroke-width="0.75"/>
<line x1="572.2" y1="273.1" x2="572.2" y2="278.1" stroke="#000" stroke-width="0.75"/>
<line x1="573.9" y1="273.8" x2="573.9" y2="277.3" stroke="#111" stroke-width="0.75"/>
<line x1="575.8" y1="274.6" x2="575.8" y2="282.3" stroke="#111" stroke-width="0.75"/>
<line x1="577.2" y1="275.2" x2="577.2" y2="277.8" stroke="#000" stroke-width="0.75"/>
<line x1="579" y1="275.9" x2="579" y2="279.6" stroke="#333" stroke-width="0.75"/>
<line x1="580.6" y1="276.6" x2="580.6" y2="280.4" stroke="#333" stroke-width="0.75"/>
<line x1="581.8" y1="277.1" x2="581.8" y2="281.9" stroke="#333" stroke-width="0.75"/>
<line x1="583.1" y1="277.7" x2="583.1" y2="280.3" stroke="#222" stroke-width="0.75"/>
<line x1="584.4" y1="278.2" x2="584.4" y2="282.3" stroke="#333" stroke-width="0.75"/>
<line x1="585.4" y1="278.6" x2="585.4" y2="281.7" stroke="#222" stroke-width="0.75"/>
<line x1="586.4" y1="279" x2="586.4" y2="282.1" stroke="#111" stroke-width="0.75"/>
<line x1="587.2" y1="279.4" x2="587.2" y2="283.4" stroke="#000" stroke-width="0.75"/>
<line x1="588.2" y1="279.8" x2="588.2" y2="283.6" stroke="#111" stroke-width="0.75"/>
<line x1="589.1" y1="280.1" x2="589.1" y2="284" stroke="#333" stroke-width="0.75"/>
<line x1="589.9" y1="280.5" x2="589.9" y2="283.7" stroke="#000" stroke-width="0.75"/>
<line x1="591.2" y1="281" x2="591.2" y2="286.4" stroke="#111" stroke-width="0.75"/>
<line x1="592.3" y1="281.5" x2="592.3" y2="284.6" stroke="#222" stroke-width="0.75"/>
<line x1="593.8" y1="282.1" x2="593.8" y2="285" stroke="#000" stroke-width="0.75"/>
<line x1="595.6" y1="282.9" x2="595.6" y2="288.3" stroke="#333" stroke-width="0.75"/>
<line x1="597.3" y1="283.6" x2="597.3" y2="291.6" stroke="#222" stroke-width="0.75"/>
<line x1="598.2" y1="284" x2="598.2" y2="289.4" stroke="#222" stroke-width="0.75"/>
<line x1="599.1" y1="284.4" x2="599.1" y2="289.8" stroke="#000" stroke-width="0.75"/>
<line x1="600" y1="284.7" x2="600" y2="287.3" stroke="#000" stroke-width="0.75"/>
<line x1="601.4" y1="285.3" x2="601.4" y2="289.4" stroke="#222" stroke-width="0.75"/>
<line x1="602.4" y1="285.8" x2="602.4" y2="293.6" stroke="#333" stroke-width="0.75"/>
<line x1="604.3" y1="286.6" x2="604.3" y2="292.2" stroke="#222" stroke-width="0.75"/>
<line x1="606" y1="287.3" x2="606" y2="291" stroke="#222" stroke-width="0.75"/>
<line x1="607.1" y1="287.7" x2="607.1" y2="291.7" stroke="#222" stroke-width="0.75"/>
<line x1="608.5" y1="288.3" x2="608.5" y2="292" stroke="#333" stroke-width="0.75"/>
<line x1="610.3" y1="289.1" x2="610.3" y2="294.3" stroke="#222" stroke-width="0.75"/>
<line x1="612.1" y1="289.8" x2="612.1" y2="293.6" stroke="#333" stroke-width="0.75"/>
<line x1="613.3" y1="290.3" x2="613.3" y2="298.4" stroke="#333" stroke-width="0.75"/>
<line x1="615.2" y1="291.1" x2="615.2" y2="294.1" stroke="#000" stroke-width="0.75"/>
<line x1="617" y1="291.9" x2="617" y2="296.5" stroke="#000" stroke-width="0.75"/>
<line x1="618.2" y1="292.4" x2="618.2" y2="297.3" stroke="#000" stroke-width="0.75"/>
<line x1="620" y1="293.2" x2="620" y2="300.9" stroke="#222" stroke-width="0.75"/>
<line x1="622" y1="294" x2="622" y2="297.1" stroke="#000" stroke-width="0.75"/>
<line x1="623.2" y1="294.5" x2="623.2" y2="298.4" stroke="#111" stroke-width="0.75"/>
<line x1="624.3" y1="295" x2="624.3" y2="297.9" stroke="#111" stroke-width="0.75"/>
<line x1="625.8" y1="295.6" x2="625.8" y2="298.8" stroke="#111" stroke-width="0.75"/>
<line x1="626.9" y1="296" x2="626.9" y2="299.8" stroke="#222" stroke-width="0.75"/>
<line x1="628.6" y1="296.8" x2="628.6" y2="299.8" stroke="#111" stroke-width="0.75"/>
<line x1="630.2" y1="297.4" x2="630.2" y2="302.3" stroke="#000" stroke-width="0.75"/>
<line x1="632" y1="298.2" x2="632" y2="303.5" stroke="#222" stroke-width="0.75"/>
<line x1="632.9" y1="298.6" x2="632.9" y2="301.7" stroke="#000" stroke-width="0.75"/>
<line x1="634.5" y1="299.2" x2="634.5" y2="304.3" stroke="#222" stroke-width="0.75"/>
<line x1="635.8" y1="299.8" x2="635.8" y2="304.6" stroke="#222" stroke-width="0.75"/>
<line x1="637.6" y1="300.5" x2="637.6" y2="305.5" stroke="#111" stroke-width="0.75"/>
<line x1="638.5" y1="300.9" x2="638.5" y2="304.3" stroke="#000" stroke-width="0.75"/>
<line x1="639.7" y1="301.4" x2="639.7" y2="306.2" stroke="#222" stroke-width="0.75"/>
<line x1="641" y1="302" x2="641" y2="306.3" stroke="#111" stroke-width="0.75"/>
<line x1="642.1" y1="302.4" x2="642.1" y2="308.3" stroke="#111" stroke-width="0.75"/>
<line x1="643.5" y1="303" x2="643.5" y2="306.1" stroke="#111" stroke-width="0.75"/>
<line x1="645.2" y1="303.7" x2="645.2" y2="306.9" stroke="#333" stroke-width="0.75"/>
<line x1="647.1" y1="304.5" x2="647.1" y2="308.3" stroke="#111" stroke-width="0.75"/>
<line x1="649" y1="305.3" x2="649" y2="313.2" stroke="#333" stroke-width="0.75"/>
<line x1="650.3" y1="305.9" x2="650.3" y2="308.5" stroke="#000" stroke-width="0.75"/>
<line x1="651.3" y1="306.3" x2="651.3" y2="311" stroke="#222" stroke-width="0.75"/>
<line x1="652.7" y1="306.9" x2="652.7" y2="310.8" stroke="#111" stroke-width="0.75"/>
<line x1="655.3" y1="282.9" x2="655.3" y2="306.4" stroke="#000" stroke-width="0.85"/>
<line x1="656" y1="278.6" x2="656" y2="295.1" stroke="#111" stroke-width="0.85"/>
<line x1="656.5" y1="276.1" x2="656.5" y2="299.6" stroke="#333" stroke-width="0.85"/>
<line x1="657" y1="273.6" x2="657" y2="290.1" stroke="#333" stroke-width="0.85"/>
<line x1="658" y1="268.7" x2="658" y2="272.7" stroke="#111" stroke-width="0.85"/>
<line x1="658.7" y1="266.9" x2="658.7" y2="271.3" stroke="#555" stroke-width="0.85"/>
<line x1="659.2" y1="265.4" x2="659.2" y2="269.1" stroke="#000" stroke-width="0.85"/>
<line x1="659.9" y1="263.7" x2="659.9" y2="269.4" stroke="#1a1a1a" stroke-width="0.85"/>
<line x1="660.8" y1="262.3" x2="660.8" y2="266.9" stroke="#000" stroke-width="0.85"/>
<line x1="661.3" y1="261.5" x2="661.3" y2="295" stroke="#000" stroke-width="0.85"/>
<line x1="661.9" y1="260.7" x2="661.9" y2="274.2" stroke="#333" stroke-width="0.85"/>
<line x1="662.5" y1="260.3" x2="662.5" y2="264.3" stroke="#555" stroke-width="0.85"/>
<line x1="663" y1="260.2" x2="663" y2="265.7" stroke="#1a1a1a" stroke-width="0.85"/>
<line x1="663.7" y1="259.9" x2="663.7" y2="265.4" stroke="#555" stroke-width="0.85"/>
<line x1="664.4" y1="259.7" x2="664.4" y2="276.2" stroke="#1a1a1a" stroke-width="0.85"/>
<line x1="665" y1="259.5" x2="665" y2="263.7" stroke="#1a1a1a" stroke-width="0.85"/>
<line x1="665.6" y1="259.7" x2="665.6" y2="265.2" stroke="#777" stroke-width="0.85"/>
<line x1="666.6" y1="260" x2="666.6" y2="273.5" stroke="#111" stroke-width="0.85"/>
<line x1="667.5" y1="260.3" x2="667.5" y2="264.5" stroke="#1a1a1a" stroke-width="0.85"/>
<line x1="668.2" y1="260.7" x2="668.2" y2="271.2" stroke="#000" stroke-width="0.85"/>
<line x1="668.7" y1="261" x2="668.7" y2="288.5" stroke="#333" stroke-width="0.85"/>
<line x1="669.4" y1="261.5" x2="669.4" y2="267.4" stroke="#555" stroke-width="0.85"/>
<line x1="670.2" y1="261.9" x2="670.2" y2="272.4" stroke="#1a1a1a" stroke-width="0.85"/>
<line x1="670.7" y1="262.3" x2="670.7" y2="295.8" stroke="#000" stroke-width="0.85"/>
<line x1="671.4" y1="263" x2="671.4" y2="290.5" stroke="#1a1a1a" stroke-width="0.85"/>
<line x1="672.3" y1="264.2" x2="672.3" y2="297.7" stroke="#111" stroke-width="0.85"/>
<line x1="673.1" y1="265.2" x2="673.1" y2="270.7" stroke="#333" stroke-width="0.85"/>
<line x1="673.8" y1="266.2" x2="673.8" y2="293.7" stroke="#555" stroke-width="0.85"/>
<line x1="674.6" y1="268.3" x2="674.6" y2="301.8" stroke="#000" stroke-width="0.85"/>
<line x1="675.3" y1="270.6" x2="675.3" y2="287.1" stroke="#000" stroke-width="0.85"/>
<line x1="676" y1="272.8" x2="676" y2="278.3" stroke="#555" stroke-width="0.85"/>
<line x1="676.7" y1="275.5" x2="676.7" y2="281.3" stroke="#333" stroke-width="0.85"/>
<line x1="677.2" y1="278.4" x2="677.2" y2="281.6" stroke="#333" stroke-width="0.85"/>
<line x1="435.4" y1="262" x2="435.4" y2="342.4" stroke="#999" stroke-width="0.9"/>
<line x1="438.1" y1="262" x2="438.1" y2="355.3" stroke="#777" stroke-width="0.9"/>
<line x1="443.2" y1="262" x2="443.2" y2="354" stroke="#333" stroke-width="0.9"/>
<line x1="446.9" y1="262" x2="446.9" y2="328" stroke="#555" stroke-width="0.9"/>
<line x1="452.3" y1="262" x2="452.3" y2="331" stroke="#888" stroke-width="0.9"/>
<line x1="456.6" y1="262" x2="456.6" y2="322.9" stroke="#555" stroke-width="0.9"/>
<line x1="465.8" y1="262" x2="465.8" y2="369.4" stroke="#777" stroke-width="0.9"/>
<line x1="469.1" y1="262" x2="469.1" y2="301.3" stroke="#444" stroke-width="0.9"/>
<line x1="483.3" y1="262" x2="483.3" y2="290.5" stroke="#555" stroke-width="0.9"/>
<line x1="507" y1="262" x2="507" y2="306.7" stroke="#777" stroke-width="0.9"/>
<line x1="513" y1="262" x2="513" y2="311.4" stroke="#888" stroke-width="0.9"/>
<line x1="521" y1="262" x2="521" y2="294.5" stroke="#777" stroke-width="0.9"/>
<line x1="527" y1="262" x2="527" y2="292" stroke="#666" stroke-width="0.9"/>
<line x1="533" y1="262" x2="533" y2="290" stroke="#555" stroke-width="0.9"/>
<line x1="657" y1="262" x2="657" y2="307" stroke="#666" stroke-width="0.9"/>
<line x1="660" y1="262" x2="660" y2="290" stroke="#555" stroke-width="0.9"/>
<line x1="668" y1="262" x2="668" y2="291.8" stroke="#777" stroke-width="0.9"/>
<line x1="502.6" y1="255.5" x2="502.6" y2="332.3" stroke="#333" stroke-width="1.3"/>
<line x1="434" y1="255.5" x2="678.6" y2="255.5" stroke="#777" stroke-width="1.3"/>
<line x1="678.4" y1="255.5" x2="678.4" y2="259" stroke="#777" stroke-width="0.8"/>
<polyline points="636.8,300 636.8,294.2 654.5,294.2 654.5,300" fill="none" stroke="#555" stroke-width="0.7"/>
<line x1="480" y1="257.6" x2="501.5" y2="257.6" stroke="#555" stroke-width="0.5"/>
<line x1="483" y1="259.4" x2="501.5" y2="259.4" stroke="#555" stroke-width="0.5"/>
<line x1="486" y1="261.2" x2="501.5" y2="261.2" stroke="#555" stroke-width="0.5"/>
<line x1="489" y1="263" x2="501.5" y2="263" stroke="#555" stroke-width="0.5"/>
<rect x="434.2" y="381" width="8.4" height="21.5" fill="#999999"/>
<rect x="442.5" y="381" width="1.2" height="21.5" fill="#40a0a0"/>
<rect x="443.7" y="381" width="5.9" height="21.5" fill="#a08c96"/>
<rect x="449.5" y="381" width="2.9" height="21.5" fill="#20e0e0"/>
<rect x="452.4" y="381" width="3" height="21.5" fill="#a09090"/>
<rect x="455.4" y="381" width="4.7" height="21.5" fill="#b080b0"/>
<rect x="460" y="381" width="1.9" height="21.5" fill="#999999"/>
<rect x="461.8" y="381" width="1.6" height="21.5" fill="#803030"/>
<rect x="463.3" y="381" width="3.7" height="21.5" fill="#9ab040"/>
<rect x="467" y="381" width="3" height="21.5" fill="#c0f8f8"/>
<rect x="470" y="381" width="2.4" height="21.5" fill="#7030c0"/>
<rect x="472.3" y="381" width="2.4" height="21.5" fill="#a06060"/>
<rect x="474.6" y="381" width="2.4" height="21.5" fill="#c07070"/>
<rect x="477" y="381" width="4.7" height="21.5" fill="#8b1a1a"/>
<rect x="481.6" y="381" width="2.4" height="21.5" fill="#90e020"/>
<rect x="484" y="381" width="1.7" height="21.5" fill="#601080"/>
<rect x="485.7" y="381" width="2.4" height="21.5" fill="#9020d0"/>
<rect x="488" y="381" width="3" height="21.5" fill="#a03030"/>
<rect x="491" y="381" width="1.7" height="21.5" fill="#601010"/>
<rect x="492.7" y="381" width="2.4" height="21.5" fill="#801818"/>
<rect x="495" y="381" width="3" height="21.5" fill="#000000"/>
<rect x="498" y="381" width="2.4" height="21.5" fill="#e08080"/>
<rect x="500.3" y="381" width="2.4" height="21.5" fill="#805050"/>
<rect x="502.7" y="381" width="3" height="21.5" fill="#101060"/>
<rect x="505.6" y="381" width="1.7" height="21.5" fill="#405040"/>
<rect x="507.3" y="381" width="1.7" height="21.5" fill="#c0e090"/>
<rect x="509" y="381" width="0.9" height="21.5" fill="#a0a0a0"/>
<rect x="509.8" y="381" width="4" height="21.5" fill="#999999"/>
<rect x="513.8" y="381" width="4.8" height="21.5" fill="#ff00ff"/>
<rect x="518.5" y="381" width="3.5" height="21.5" fill="#60d060"/>
<rect x="522" y="381" width="3.5" height="21.5" fill="#8a7a7a"/>
<rect x="525.5" y="381" width="4.2" height="21.5" fill="#507050"/>
<rect x="529.6" y="381" width="2.9" height="21.5" fill="#404870"/>
<rect x="532.5" y="381" width="4.2" height="21.5" fill="#205070"/>
<rect x="536.6" y="381" width="1.8" height="21.5" fill="#30d030"/>
<rect x="538.4" y="381" width="1.8" height="21.5" fill="#604060"/>
<rect x="540.1" y="381" width="2.4" height="21.5" fill="#4060a0"/>
<rect x="542.5" y="381" width="1.8" height="21.5" fill="#2030c0"/>
<rect x="544.2" y="381" width="2.3" height="21.5" fill="#3060a0"/>
<rect x="546.5" y="381" width="4.8" height="21.5" fill="#2a6aa8"/>
<rect x="551.2" y="381" width="2.3" height="21.5" fill="#304060"/>
<rect x="553.5" y="381" width="1.8" height="21.5" fill="#30e030"/>
<rect x="555.3" y="381" width="2.4" height="21.5" fill="#309090"/>
<rect x="557.6" y="381" width="1.8" height="21.5" fill="#808060"/>
<rect x="559.4" y="381" width="2.4" height="21.5" fill="#3070b0"/>
<rect x="561.7" y="381" width="3.5" height="21.5" fill="#20a0b0"/>
<rect x="565.2" y="381" width="4.7" height="21.5" fill="#2090b0"/>
<rect x="569.9" y="381" width="1.8" height="21.5" fill="#a04030"/>
<rect x="571.6" y="381" width="7.7" height="21.5" fill="#20b0b0"/>
<rect x="579.2" y="381" width="1.8" height="21.5" fill="#0010e0"/>
<rect x="581" y="381" width="74.3" height="21.5" fill="#22bca8"/>
<rect x="655.3" y="381" width="0.9" height="21.5" fill="#306040"/>
<rect x="656.1" y="381" width="2" height="21.5" fill="#e05050"/>
<rect x="658.1" y="381" width="2" height="21.5" fill="#b070a0"/>
<rect x="660.1" y="381" width="2" height="21.5" fill="#c05090"/>
<rect x="662.1" y="381" width="1.7" height="21.5" fill="#6020c0"/>
<rect x="663.7" y="381" width="1.2" height="21.5" fill="#a0a0c0"/>
<rect x="664.9" y="381" width="2.4" height="21.5" fill="#303080"/>
<rect x="667.3" y="381" width="11.1" height="21.5" fill="#ffff00"/>
<rect x="434.2" y="402.5" width="8.4" height="21.7" fill="#999999"/>
<rect x="442.5" y="402.5" width="1.2" height="21.7" fill="#40a0a0"/>
<rect x="443.7" y="402.5" width="5.9" height="21.7" fill="#a08c96"/>
<rect x="449.5" y="402.5" width="2.9" height="21.7" fill="#20e0e0"/>
<rect x="452.4" y="402.5" width="3" height="21.7" fill="#a09090"/>
<rect x="455.4" y="402.5" width="5.2" height="21.7" fill="#b080b0"/>
<rect x="460.5" y="402.5" width="2.5" height="21.7" fill="#7030d0"/>
<rect x="463" y="402.5" width="4" height="21.7" fill="#9050b0"/>
<rect x="467" y="402.5" width="3" height="21.7" fill="#c0f8f8"/>
<rect x="470" y="402.5" width="2.4" height="21.7" fill="#7a1ad8"/>
<rect x="472.3" y="402.5" width="29.7" height="21.7" fill="#7a10d8"/>
<rect x="502" y="402.5" width="4.7" height="21.7" fill="#909090"/>
<rect x="506.7" y="402.5" width="1.2" height="21.7" fill="#205020"/>
<rect x="507.8" y="402.5" width="1.7" height="21.7" fill="#d0f0a0"/>
<rect x="509.5" y="402.5" width="4.3" height="21.7" fill="#999999"/>
<rect x="513.8" y="402.5" width="4.8" height="21.7" fill="#ff00ff"/>
<rect x="518.5" y="402.5" width="4.8" height="21.7" fill="#60e060"/>
<rect x="523.2" y="402.5" width="132.1" height="21.7" fill="#00f400"/>
<rect x="655.3" y="402.5" width="2.9" height="21.7" fill="#e05050"/>
<rect x="658.1" y="402.5" width="2" height="21.7" fill="#b080a0"/>
<rect x="660.1" y="402.5" width="2" height="21.7" fill="#c05090"/>
<rect x="662.1" y="402.5" width="2.8" height="21.7" fill="#709050"/>
<rect x="664.9" y="402.5" width="2.4" height="21.7" fill="#600000"/>
<rect x="667.3" y="402.5" width="11.1" height="21.7" fill="#ffff00"/>
<rect x="434.2" y="381" width="244.1" height="43.2" fill="none" stroke="#444" stroke-width="0.6"/>
<line x1="434.2" y1="402.5" x2="678.3" y2="402.5" stroke="#333" stroke-width="0.7"/>
<text x="431.4" y="391.2" font-size="5.0" text-anchor="end" fill="#3a3a3a" textLength="36.9" lengthAdjust="spacingAndGlyphs" stroke="#3a3a3a" stroke-width="0.12">DynamicTreeCut</text>
<text x="431.4" y="396.6" font-size="5.0" text-anchor="end" fill="#3a3a3a" stroke="#3a3a3a" stroke-width="0.12">(24)</text>
<text x="431.4" y="412.5" font-size="5.0" text-anchor="end" fill="#3a3a3a" textLength="36.9" lengthAdjust="spacingAndGlyphs" stroke="#3a3a3a" stroke-width="0.12">MergedDynamic</text>
<text x="431.4" y="417.8" font-size="5.0" text-anchor="end" fill="#3a3a3a" stroke="#3a3a3a" stroke-width="0.12">(14)</text>
<text x="38.5" y="477.5" font-size="18.5" text-anchor="start" fill="#000" textLength="10.5" lengthAdjust="spacingAndGlyphs">E</text>
<rect x="78.8" y="490.4" width="110.9" height="16.5" fill="#fc0606"/>
<rect x="189.2" y="490.4" width="111.2" height="16.5" fill="#0606fa"/>
<line x1="74.9" y1="498.4" x2="78.8" y2="498.4" stroke="#222" stroke-width="0.8"/>
<text x="73" y="500.8" font-size="6.6" text-anchor="end" font-weight="bold" fill="#111" textLength="39.1" lengthAdjust="spacingAndGlyphs" stroke="#111" stroke-width="0.18">darkgreen(44)</text>
<rect x="78.8" y="506.3" width="110.9" height="16.5" fill="#ff2424"/>
<rect x="189.2" y="506.3" width="111.2" height="16.5" fill="#2222f4"/>
<line x1="74.9" y1="514.3" x2="78.8" y2="514.3" stroke="#222" stroke-width="0.8"/>
<text x="73" y="516.7" font-size="6.6" text-anchor="end" font-weight="bold" fill="#111" textLength="33.4" lengthAdjust="spacingAndGlyphs" stroke="#111" stroke-width="0.18">grey60(168)</text>
<rect x="78.8" y="522.2" width="110.9" height="16.5" fill="#ff3434"/>
<rect x="189.2" y="522.2" width="111.2" height="16.5" fill="#3434f8"/>
<line x1="74.9" y1="530.2" x2="78.8" y2="530.2" stroke="#222" stroke-width="0.8"/>
<text x="73" y="532.6" font-size="6.6" text-anchor="end" font-weight="bold" fill="#111" textLength="24.2" lengthAdjust="spacingAndGlyphs" stroke="#111" stroke-width="0.18">cyan(88)</text>
<rect x="78.8" y="538.1" width="110.9" height="16.5" fill="#ff2a2a"/>
<rect x="189.2" y="538.1" width="111.2" height="16.5" fill="#2a2af4"/>
<line x1="74.9" y1="546.1" x2="78.8" y2="546.1" stroke="#222" stroke-width="0.8"/>
<text x="73" y="548.5" font-size="6.6" text-anchor="end" font-weight="bold" fill="#111" textLength="36" lengthAdjust="spacingAndGlyphs" stroke="#111" stroke-width="0.18">lightcyan(85)</text>
<rect x="78.8" y="554" width="110.9" height="16.5" fill="#fb0000"/>
<rect x="189.2" y="554" width="111.2" height="16.5" fill="#0000f0"/>
<line x1="74.9" y1="562" x2="78.8" y2="562" stroke="#222" stroke-width="0.8"/>
<text x="73" y="564.4" font-size="6.6" text-anchor="end" font-weight="bold" fill="#111" textLength="35.2" lengthAdjust="spacingAndGlyphs" stroke="#111" stroke-width="0.18">purple(1154)</text>
<rect x="78.8" y="569.9" width="110.9" height="16.5" fill="#3232fa"/>
<rect x="189.2" y="569.9" width="111.2" height="16.5" fill="#ff3a3a"/>
<line x1="74.9" y1="577.9" x2="78.8" y2="577.9" stroke="#222" stroke-width="0.8"/>
<text x="73" y="580.3" font-size="6.6" text-anchor="end" font-weight="bold" fill="#111" textLength="36" lengthAdjust="spacingAndGlyphs" stroke="#111" stroke-width="0.18">darkred(102)</text>
<rect x="78.8" y="585.8" width="110.9" height="16.5" fill="#2e2efa"/>
<rect x="189.2" y="585.8" width="111.2" height="16.5" fill="#ff3030"/>
<line x1="74.9" y1="593.8" x2="78.8" y2="593.8" stroke="#222" stroke-width="0.8"/>
<text x="73" y="596.2" font-size="6.6" text-anchor="end" font-weight="bold" fill="#111" textLength="32" lengthAdjust="spacingAndGlyphs" stroke="#111" stroke-width="0.18">yellow(353)</text>
<rect x="78.8" y="601.8" width="110.9" height="16.5" fill="#0000fb"/>
<rect x="189.2" y="601.8" width="111.2" height="16.5" fill="#ff0000"/>
<line x1="74.9" y1="609.7" x2="78.8" y2="609.7" stroke="#222" stroke-width="0.8"/>
<text x="73" y="612.1" font-size="6.6" text-anchor="end" font-weight="bold" fill="#111" textLength="33.9" lengthAdjust="spacingAndGlyphs" stroke="#111" stroke-width="0.18">green(4456)</text>
<rect x="78.8" y="617.7" width="110.9" height="16.5" fill="#3030f8"/>
<rect x="189.2" y="617.7" width="111.2" height="16.5" fill="#ff3434"/>
<line x1="74.9" y1="625.6" x2="78.8" y2="625.6" stroke="#222" stroke-width="0.8"/>
<text x="73" y="628" font-size="6.6" text-anchor="end" font-weight="bold" fill="#111" textLength="38.6" lengthAdjust="spacingAndGlyphs" stroke="#111" stroke-width="0.18">magenta(175)</text>
<rect x="78.8" y="633.6" width="110.9" height="16.5" fill="#3434f8"/>
<rect x="189.2" y="633.6" width="111.2" height="16.5" fill="#ff3a3a"/>
<line x1="74.9" y1="641.5" x2="78.8" y2="641.5" stroke="#222" stroke-width="0.8"/>
<text x="73" y="643.9" font-size="6.6" text-anchor="end" font-weight="bold" fill="#111" textLength="34.2" lengthAdjust="spacingAndGlyphs" stroke="#111" stroke-width="0.18">salmon(119)</text>
<rect x="78.8" y="649.5" width="110.9" height="16.5" fill="#ff5454"/>
<rect x="189.2" y="649.5" width="111.2" height="16.5" fill="#5050ff"/>
<line x1="74.9" y1="657.4" x2="78.8" y2="657.4" stroke="#222" stroke-width="0.8"/>
<text x="73" y="659.8" font-size="6.6" text-anchor="end" font-weight="bold" fill="#111" textLength="48.6" lengthAdjust="spacingAndGlyphs" stroke="#111" stroke-width="0.18">darkturquoise(23)</text>
<rect x="78.8" y="665.4" width="110.9" height="16.5" fill="#8888ff"/>
<rect x="189.2" y="665.4" width="111.2" height="16.5" fill="#ff8a8a"/>
<line x1="74.9" y1="673.3" x2="78.8" y2="673.3" stroke="#222" stroke-width="0.8"/>
<text x="73" y="675.7" font-size="6.6" text-anchor="end" font-weight="bold" fill="#111" textLength="38.6" lengthAdjust="spacingAndGlyphs" stroke="#111" stroke-width="0.18">lightgreen(80)</text>
<rect x="78.8" y="681.3" width="110.9" height="15.9" fill="#4848ff"/>
<rect x="189.2" y="681.3" width="111.2" height="15.9" fill="#ff5252"/>
<line x1="74.9" y1="689.2" x2="78.8" y2="689.2" stroke="#222" stroke-width="0.8"/>
<text x="73" y="691.6" font-size="6.6" text-anchor="end" font-weight="bold" fill="#111" textLength="40.5" lengthAdjust="spacingAndGlyphs" stroke="#111" stroke-width="0.18">lightyellow(68)</text>
<text x="134" y="497.5" font-size="7.0" text-anchor="middle" fill="#ff8080" stroke="#ff8080" stroke-width="0.18">0.74</text>
<text x="134" y="503.3" font-size="6.2" text-anchor="middle" fill="#ff8080" stroke="#ff8080" stroke-width="0.18">(***)</text>
<text x="244.8" y="497.5" font-size="7.0" text-anchor="middle" fill="#7070ff" stroke="#7070ff" stroke-width="0.18">-0.74</text>
<text x="244.8" y="503.3" font-size="6.2" text-anchor="middle" fill="#7070ff" stroke="#7070ff" stroke-width="0.18">(***)</text>
<text x="134" y="513.4" font-size="7.0" text-anchor="middle" fill="#ff8080" stroke="#ff8080" stroke-width="0.18">0.47</text>
<text x="134" y="519.2" font-size="6.2" text-anchor="middle" fill="#ff8080" stroke="#ff8080" stroke-width="0.18">(**)</text>
<text x="244.8" y="513.4" font-size="7.0" text-anchor="middle" fill="#7070ff" stroke="#7070ff" stroke-width="0.18">-0.47</text>
<text x="244.8" y="519.2" font-size="6.2" text-anchor="middle" fill="#7070ff" stroke="#7070ff" stroke-width="0.18">(**)</text>
<text x="134" y="545.3" font-size="7.2" text-anchor="middle" font-weight="bold" fill="#111" stroke="#111" stroke-width="0.18">0.38</text>
<text x="134" y="551.1" font-size="6.4" text-anchor="middle" font-weight="bold" fill="#111" stroke="#111" stroke-width="0.18">(*)</text>
<text x="244.8" y="545.2" font-size="7.0" text-anchor="middle" fill="#7070ff" stroke="#7070ff" stroke-width="0.18">-0.38</text>
<text x="244.8" y="551" font-size="6.2" text-anchor="middle" fill="#7070ff" stroke="#7070ff" stroke-width="0.18">(*)</text>
<text x="134" y="561.1" font-size="7.0" text-anchor="middle" fill="#ff8080" stroke="#ff8080" stroke-width="0.18">0.86</text>
<text x="134" y="566.9" font-size="6.2" text-anchor="middle" fill="#ff8080" stroke="#ff8080" stroke-width="0.18">(***)</text>
<text x="244.8" y="561.1" font-size="7.0" text-anchor="middle" fill="#7070ff" stroke="#7070ff" stroke-width="0.18">-0.86</text>
<text x="244.8" y="566.9" font-size="6.2" text-anchor="middle" fill="#7070ff" stroke="#7070ff" stroke-width="0.18">(***)</text>
<text x="134" y="608.9" font-size="7.0" text-anchor="middle" fill="#7070ff" stroke="#7070ff" stroke-width="0.18">-0.85</text>
<text x="134" y="614.7" font-size="6.2" text-anchor="middle" fill="#7070ff" stroke="#7070ff" stroke-width="0.18">(***)</text>
<text x="244.8" y="608.9" font-size="7.0" text-anchor="middle" fill="#ff8080" stroke="#ff8080" stroke-width="0.18">0.85</text>
<text x="244.8" y="614.7" font-size="6.2" text-anchor="middle" fill="#ff8080" stroke="#ff8080" stroke-width="0.18">(***)</text>
<line x1="134" y1="697.2" x2="134" y2="700.7" stroke="#222" stroke-width="0.8"/>
<line x1="244.8" y1="697.2" x2="244.8" y2="700.7" stroke="#222" stroke-width="0.8"/>
<text x="124.8" y="708.2" font-size="5.6" text-anchor="middle" font-weight="bold" fill="#111" stroke="#111" stroke-width="0.18">SEPSIS</text>
<text x="240" y="708.2" font-size="5.6" text-anchor="middle" font-weight="bold" fill="#111" stroke="#111" stroke-width="0.18">NC</text>
<defs><linearGradient id="ecb" x1="0" y1="0" x2="0" y2="1"><stop offset="0" stop-color="#ff0000"/><stop offset="0.27" stop-color="#ff1a1a"/><stop offset="0.39" stop-color="#ff4040"/><stop offset="0.446" stop-color="#ff9090"/><stop offset="0.487" stop-color="#ffe0e0"/><stop offset="0.5" stop-color="#ffffff"/><stop offset="0.515" stop-color="#d0d0ff"/><stop offset="0.56" stop-color="#8080ff"/><stop offset="0.62" stop-color="#4040ff"/><stop offset="0.70" stop-color="#2020ff"/><stop offset="1" stop-color="#0000ff"/></linearGradient></defs>
<rect x="314" y="490.4" width="10.5" height="206.8" fill="url(#ecb)"/>
<line x1="324.5" y1="497.5" x2="327.5" y2="497.5" stroke="#222" stroke-width="0.8"/>
<text x="329.5" y="499.8" font-size="6.4" text-anchor="start" font-weight="bold" fill="#111" stroke="#111" stroke-width="0.18">0.8</text>
<line x1="324.5" y1="521.6" x2="327.5" y2="521.6" stroke="#222" stroke-width="0.8"/>
<text x="329.5" y="523.9" font-size="6.4" text-anchor="start" font-weight="bold" fill="#111" stroke="#111" stroke-width="0.18">0.6</text>
<line x1="324.5" y1="545.8" x2="327.5" y2="545.8" stroke="#222" stroke-width="0.8"/>
<text x="329.5" y="548.1" font-size="6.4" text-anchor="start" font-weight="bold" fill="#111" stroke="#111" stroke-width="0.18">0.4</text>
<line x1="324.5" y1="569.9" x2="327.5" y2="569.9" stroke="#222" stroke-width="0.8"/>
<text x="329.5" y="572.2" font-size="6.4" text-anchor="start" font-weight="bold" fill="#111" stroke="#111" stroke-width="0.18">0.2</text>
<line x1="324.5" y1="594" x2="327.5" y2="594" stroke="#222" stroke-width="0.8"/>
<text x="329.5" y="596.3" font-size="6.4" text-anchor="start" font-weight="bold" fill="#111" stroke="#111" stroke-width="0.18">0.0</text>
<line x1="324.5" y1="618.1" x2="327.5" y2="618.1" stroke="#222" stroke-width="0.8"/>
<text x="329.5" y="620.4" font-size="6.4" text-anchor="start" font-weight="bold" fill="#111" stroke="#111" stroke-width="0.18">-0.2</text>
<line x1="324.5" y1="642.2" x2="327.5" y2="642.2" stroke="#222" stroke-width="0.8"/>
<text x="329.5" y="644.5" font-size="6.4" text-anchor="start" font-weight="bold" fill="#111" stroke="#111" stroke-width="0.18">-0.4</text>
<line x1="324.5" y1="666.4" x2="327.5" y2="666.4" stroke="#222" stroke-width="0.8"/>
<text x="329.5" y="668.7" font-size="6.4" text-anchor="start" font-weight="bold" fill="#111" stroke="#111" stroke-width="0.18">-0.6</text>
<line x1="324.5" y1="690.5" x2="327.5" y2="690.5" stroke="#222" stroke-width="0.8"/>
<text x="329.5" y="692.8" font-size="6.4" text-anchor="start" font-weight="bold" fill="#111" stroke="#111" stroke-width="0.18">-0.8</text>
<text x="385.4" y="477.5" font-size="18.5" text-anchor="start" fill="#000" textLength="10" lengthAdjust="spacingAndGlyphs">F</text>
<g fill="#eef2e2"><circle cx="613.2" cy="556.6" r="3.4"/><circle cx="539.9" cy="576.4" r="3.4"/><circle cx="647.2" cy="530.9" r="3.4"/><circle cx="638.5" cy="503.6" r="3.4"/><circle cx="625.9" cy="525.6" r="3.4"/><circle cx="612.4" cy="531.6" r="3.4"/><circle cx="647.8" cy="540.5" r="3.4"/><circle cx="559.2" cy="539.1" r="3.4"/><circle cx="628.2" cy="544.2" r="3.4"/><circle cx="561.1" cy="600.3" r="3.4"/><circle cx="531.8" cy="598.7" r="3.4"/><circle cx="582.9" cy="525.9" r="3.4"/><circle cx="556" cy="544.4" r="3.4"/><circle cx="616.5" cy="535.2" r="3.4"/><circle cx="655.5" cy="514.4" r="3.4"/><circle cx="478.7" cy="611.6" r="3.4"/><circle cx="581.3" cy="571" r="3.4"/><circle cx="535.4" cy="588.9" r="3.4"/><circle cx="635.4" cy="515.7" r="3.4"/><circle cx="491.8" cy="573.2" r="3.4"/><circle cx="631.9" cy="527" r="3.4"/><circle cx="587.4" cy="574.3" r="3.4"/><circle cx="547.7" cy="619.7" r="3.4"/><circle cx="459.3" cy="655.3" r="3.4"/><circle cx="562.8" cy="548.4" r="3.4"/><circle cx="523.9" cy="579.6" r="3.4"/><circle cx="587.7" cy="578.8" r="3.4"/><circle cx="607.4" cy="532.6" r="3.4"/><circle cx="613" cy="525.6" r="3.4"/><circle cx="516.3" cy="626.6" r="3.4"/><circle cx="652.2" cy="537.3" r="3.4"/><circle cx="605.6" cy="536.9" r="3.4"/><circle cx="602" cy="593.4" r="3.4"/><circle cx="540" cy="558.6" r="3.4"/><circle cx="566.1" cy="530.5" r="3.4"/><circle cx="625.6" cy="534" r="3.4"/><circle cx="589" cy="550.2" r="3.4"/><circle cx="539" cy="614.4" r="3.4"/><circle cx="580" cy="526.8" r="3.4"/><circle cx="532" cy="593.7" r="3.4"/><circle cx="629.5" cy="528.8" r="3.4"/><circle cx="612.4" cy="513.5" r="3.4"/><circle cx="609.1" cy="530.7" r="3.4"/><circle cx="634.2" cy="514.1" r="3.4"/><circle cx="571.3" cy="560.3" r="3.4"/><circle cx="624.4" cy="562.3" r="3.4"/><circle cx="621" cy="530.7" r="3.4"/><circle cx="626.4" cy="543.1" r="3.4"/><circle cx="647.1" cy="526.3" r="3.4"/><circle cx="640.7" cy="540.6" r="3.4"/><circle cx="499.9" cy="614" r="3.4"/><circle cx="603.3" cy="544.8" r="3.4"/><circle cx="611.4" cy="541.7" r="3.4"/><circle cx="537" cy="580.9" r="3.4"/><circle cx="633.1" cy="527.8" r="3.4"/><circle cx="584" cy="579.5" r="3.4"/><circle cx="632" cy="521.8" r="3.4"/><circle cx="546.8" cy="573.3" r="3.4"/><circle cx="583.3" cy="543.4" r="3.4"/><circle cx="575.2" cy="584" r="3.4"/><circle cx="605.4" cy="516.6" r="3.4"/><circle cx="596.1" cy="547.5" r="3.4"/><circle cx="525.6" cy="579.3" r="3.4"/><circle cx="525.9" cy="628.6" r="3.4"/><circle cx="547.2" cy="615" r="3.4"/><circle cx="570.8" cy="575.8" r="3.4"/><circle cx="482.7" cy="583.7" r="3.4"/><circle cx="617.6" cy="515.9" r="3.4"/><circle cx="609" cy="512.2" r="3.4"/><circle cx="565.2" cy="558" r="3.4"/><circle cx="510.9" cy="614.9" r="3.4"/><circle cx="603.5" cy="553.8" r="3.4"/><circle cx="644.4" cy="536.4" r="3.4"/><circle cx="632.6" cy="540.4" r="3.4"/><circle cx="596.4" cy="511.5" r="3.4"/><circle cx="536.5" cy="561.9" r="3.4"/><circle cx="635.5" cy="514.4" r="3.4"/><circle cx="622.9" cy="527.4" r="3.4"/><circle cx="597.6" cy="550" r="3.4"/><circle cx="653.8" cy="530.1" r="3.4"/><circle cx="616.1" cy="511.6" r="3.4"/><circle cx="505.1" cy="587.3" r="3.4"/><circle cx="600.6" cy="571.3" r="3.4"/><circle cx="634.1" cy="513.2" r="3.4"/><circle cx="646.8" cy="543.1" r="3.4"/><circle cx="617.1" cy="535.1" r="3.4"/><circle cx="516.2" cy="642.6" r="3.4"/><circle cx="664.2" cy="518.3" r="3.4"/><circle cx="552.6" cy="587.6" r="3.4"/><circle cx="566.9" cy="542.5" r="3.4"/><circle cx="566.9" cy="525.2" r="3.4"/><circle cx="528.5" cy="582" r="3.4"/><circle cx="571.6" cy="572.8" r="3.4"/><circle cx="631.1" cy="529.4" r="3.4"/><circle cx="560" cy="597.9" r="3.4"/><circle cx="536.3" cy="554.2" r="3.4"/><circle cx="567.5" cy="561.3" r="3.4"/><circle cx="583.9" cy="544" r="3.4"/><circle cx="533" cy="585" r="3.4"/><circle cx="618.5" cy="553" r="3.4"/><circle cx="507.3" cy="616.2" r="3.4"/><circle cx="617.3" cy="552.4" r="3.4"/><circle cx="549.7" cy="581.2" r="3.4"/><circle cx="571.7" cy="584.6" r="3.4"/><circle cx="606.4" cy="510" r="3.4"/><circle cx="583.4" cy="589" r="3.4"/><circle cx="650.9" cy="541.3" r="3.4"/><circle cx="590.9" cy="589.8" r="3.4"/><circle cx="508.3" cy="587.8" r="3.4"/><circle cx="600.8" cy="513.4" r="3.4"/><circle cx="569.5" cy="548.2" r="3.4"/><circle cx="598.6" cy="519.5" r="3.4"/><circle cx="617.2" cy="542.7" r="3.4"/><circle cx="650.2" cy="541.5" r="3.4"/><circle cx="500.4" cy="602.6" r="3.4"/><circle cx="596.2" cy="518.7" r="3.4"/><circle cx="582.1" cy="589.9" r="3.4"/><circle cx="605.1" cy="523.3" r="3.4"/><circle cx="577.4" cy="522.5" r="3.4"/><circle cx="645.6" cy="508.6" r="3.4"/><circle cx="600.4" cy="582.9" r="3.4"/><circle cx="615.9" cy="535.8" r="3.4"/><circle cx="633.7" cy="524.6" r="3.4"/><circle cx="472.8" cy="650.5" r="3.4"/><circle cx="630.5" cy="500.3" r="3.4"/><circle cx="569.8" cy="557.6" r="3.4"/><circle cx="600.8" cy="569.7" r="3.4"/><circle cx="543.5" cy="548.8" r="3.4"/><circle cx="556.9" cy="614" r="3.4"/><circle cx="562.7" cy="548.3" r="3.4"/><circle cx="613.7" cy="505.8" r="3.4"/><circle cx="633.9" cy="544.4" r="3.4"/><circle cx="574.6" cy="538.6" r="3.4"/><circle cx="589.1" cy="530.8" r="3.4"/><circle cx="617.2" cy="547.2" r="3.4"/><circle cx="566" cy="548" r="3.4"/><circle cx="658.1" cy="520.7" r="3.4"/><circle cx="637.8" cy="517.9" r="3.4"/><circle cx="542.6" cy="562" r="3.4"/><circle cx="484.1" cy="579.9" r="3.4"/><circle cx="560" cy="545.7" r="3.4"/><circle cx="556" cy="587.3" r="3.4"/><circle cx="609.6" cy="547.8" r="3.4"/><circle cx="599.4" cy="544.4" r="3.4"/><circle cx="611.5" cy="530.5" r="3.4"/><circle cx="567" cy="539.5" r="3.4"/><circle cx="639.2" cy="527.6" r="3.4"/><circle cx="593.7" cy="557.5" r="3.4"/><circle cx="646.7" cy="515.9" r="3.4"/><circle cx="593.2" cy="513" r="3.4"/><circle cx="616.4" cy="554" r="3.4"/><circle cx="626.6" cy="505.3" r="3.4"/><circle cx="633.8" cy="507.1" r="3.4"/><circle cx="530" cy="584.1" r="3.4"/><circle cx="618.7" cy="515.4" r="3.4"/><circle cx="480.9" cy="571.1" r="3.4"/><circle cx="577.1" cy="530.9" r="3.4"/><circle cx="562" cy="570.5" r="3.4"/><circle cx="592.6" cy="517" r="3.4"/><circle cx="573.4" cy="588.1" r="3.4"/><circle cx="607" cy="507.4" r="3.4"/><circle cx="532.9" cy="547.7" r="3.4"/><circle cx="622.9" cy="523.1" r="3.4"/><circle cx="635.4" cy="562.2" r="3.4"/><circle cx="621.2" cy="522.5" r="3.4"/><circle cx="557.7" cy="558.2" r="3.4"/><circle cx="606.2" cy="560.2" r="3.4"/><circle cx="553.9" cy="588" r="3.4"/><circle cx="566.2" cy="547.4" r="3.4"/><circle cx="571" cy="536" r="3.4"/><circle cx="645.8" cy="541.7" r="3.4"/><circle cx="640.7" cy="528.6" r="3.4"/><circle cx="491.7" cy="568.5" r="3.4"/><circle cx="610.6" cy="548.3" r="3.4"/><circle cx="547.9" cy="574.4" r="3.4"/><circle cx="589.4" cy="551.5" r="3.4"/><circle cx="550.4" cy="565.7" r="3.4"/><circle cx="527.9" cy="600.6" r="3.4"/><circle cx="588.9" cy="587.3" r="3.4"/><circle cx="535.4" cy="598.4" r="3.4"/><circle cx="502.1" cy="575" r="3.4"/><circle cx="533.8" cy="558.4" r="3.4"/><circle cx="577.6" cy="534.2" r="3.4"/><circle cx="537.4" cy="603.2" r="3.4"/><circle cx="633.5" cy="565.2" r="3.4"/><circle cx="622.7" cy="535.3" r="3.4"/><circle cx="488.9" cy="606.4" r="3.4"/><circle cx="534.4" cy="560.7" r="3.4"/><circle cx="640.7" cy="517.5" r="3.4"/><circle cx="635.3" cy="531" r="3.4"/><circle cx="582.6" cy="560.1" r="3.4"/><circle cx="613.9" cy="515.8" r="3.4"/><circle cx="591.2" cy="521.2" r="3.4"/><circle cx="537.3" cy="549" r="3.4"/><circle cx="604.5" cy="507" r="3.4"/><circle cx="608.6" cy="541.1" r="3.4"/><circle cx="560.6" cy="526" r="3.4"/><circle cx="603.1" cy="523.4" r="3.4"/><circle cx="489.1" cy="573.8" r="3.4"/><circle cx="617.8" cy="521.5" r="3.4"/><circle cx="583.5" cy="545.8" r="3.4"/><circle cx="602.9" cy="511.4" r="3.4"/><circle cx="621.6" cy="572.6" r="3.4"/><circle cx="642.9" cy="538.4" r="3.4"/><circle cx="630" cy="512.4" r="3.4"/><circle cx="617.4" cy="568" r="3.4"/><circle cx="582.8" cy="529" r="3.4"/><circle cx="582.7" cy="515.3" r="3.4"/><circle cx="591.5" cy="516" r="3.4"/><circle cx="467.8" cy="607.1" r="3.4"/><circle cx="600.5" cy="509.5" r="3.4"/><circle cx="570.7" cy="609.1" r="3.4"/><circle cx="619.4" cy="552.9" r="3.4"/><circle cx="538.2" cy="549.6" r="3.4"/><circle cx="637.4" cy="560.2" r="3.4"/><circle cx="620.6" cy="521.4" r="3.4"/><circle cx="572.9" cy="563.8" r="3.4"/><circle cx="552.2" cy="581.3" r="3.4"/><circle cx="550.1" cy="541.9" r="3.4"/><circle cx="526.9" cy="565" r="3.4"/><circle cx="608.4" cy="522.4" r="3.4"/><circle cx="608.2" cy="512.2" r="3.4"/><circle cx="618" cy="532.5" r="3.4"/><circle cx="630.2" cy="517.7" r="3.4"/><circle cx="521.9" cy="575.9" r="3.4"/><circle cx="562.1" cy="529.6" r="3.4"/><circle cx="524" cy="591.5" r="3.4"/><circle cx="606.5" cy="548.5" r="3.4"/><circle cx="624.4" cy="534.9" r="3.4"/><circle cx="561.4" cy="543.3" r="3.4"/><circle cx="625.2" cy="551.4" r="3.4"/><circle cx="581.9" cy="532.3" r="3.4"/><circle cx="488.3" cy="639.9" r="3.4"/><circle cx="590.9" cy="538.2" r="3.4"/><circle cx="493.5" cy="621.1" r="3.4"/><circle cx="584.7" cy="523.4" r="3.4"/><circle cx="560.2" cy="599.1" r="3.4"/><circle cx="616.6" cy="550.3" r="3.4"/><circle cx="619.4" cy="513.2" r="3.4"/><circle cx="591.1" cy="584" r="3.4"/><circle cx="472.3" cy="657.9" r="3.4"/><circle cx="517.7" cy="614" r="3.4"/><circle cx="610.9" cy="517.1" r="3.4"/><circle cx="570.7" cy="554.2" r="3.4"/><circle cx="606.4" cy="544.7" r="3.4"/><circle cx="627" cy="543" r="3.4"/><circle cx="572.1" cy="595.6" r="3.4"/><circle cx="612" cy="564" r="3.4"/><circle cx="602.1" cy="537.8" r="3.4"/><circle cx="597.1" cy="545.5" r="3.4"/><circle cx="507.2" cy="553.1" r="3.4"/><circle cx="570.4" cy="573.8" r="3.4"/><circle cx="589" cy="537.1" r="3.4"/><circle cx="642" cy="518.8" r="3.4"/><circle cx="521.7" cy="597.5" r="3.4"/><circle cx="630.7" cy="505.9" r="3.4"/><circle cx="581.5" cy="528" r="3.4"/><circle cx="574.8" cy="545.1" r="3.4"/><circle cx="545.5" cy="610.9" r="3.4"/><circle cx="628.9" cy="559.1" r="3.4"/><circle cx="574.4" cy="563" r="3.4"/><circle cx="574.4" cy="575.9" r="3.4"/><circle cx="558.1" cy="548.4" r="3.4"/><circle cx="535.1" cy="594.1" r="3.4"/><circle cx="595.7" cy="587.6" r="3.4"/><circle cx="620.1" cy="503.2" r="3.4"/><circle cx="552.6" cy="585.1" r="3.4"/><circle cx="612.7" cy="540.4" r="3.4"/><circle cx="574.8" cy="544.1" r="3.4"/><circle cx="605.8" cy="548.3" r="3.4"/><circle cx="478.9" cy="615.3" r="3.4"/><circle cx="517.6" cy="608.8" r="3.4"/><circle cx="506.8" cy="550.7" r="3.4"/><circle cx="482.9" cy="609" r="3.4"/><circle cx="622.7" cy="518.4" r="3.4"/><circle cx="624.3" cy="537.4" r="3.4"/><circle cx="534.6" cy="601.2" r="3.4"/><circle cx="607.4" cy="548.5" r="3.4"/><circle cx="609.5" cy="538.8" r="3.4"/><circle cx="562" cy="590.6" r="3.4"/><circle cx="583.1" cy="521.8" r="3.4"/><circle cx="562.4" cy="541.6" r="3.4"/><circle cx="577.1" cy="559.6" r="3.4"/><circle cx="555.6" cy="577.9" r="3.4"/><circle cx="562.4" cy="617.7" r="3.4"/><circle cx="575.5" cy="519.3" r="3.4"/><circle cx="624.5" cy="547.7" r="3.4"/><circle cx="613.8" cy="510" r="3.4"/><circle cx="642.6" cy="527.8" r="3.4"/><circle cx="548.8" cy="549.1" r="3.4"/><circle cx="608.7" cy="541.2" r="3.4"/><circle cx="594.1" cy="591.3" r="3.4"/><circle cx="520.7" cy="576.7" r="3.4"/><circle cx="593" cy="528.8" r="3.4"/><circle cx="583.7" cy="513" r="3.4"/><circle cx="639.6" cy="513" r="3.4"/><circle cx="527" cy="629.5" r="3.4"/><circle cx="599.6" cy="535.4" r="3.4"/><circle cx="636.3" cy="536.6" r="3.4"/><circle cx="656.9" cy="524.3" r="3.4"/><circle cx="611.5" cy="514.9" r="3.4"/><circle cx="507.4" cy="570" r="3.4"/><circle cx="631.3" cy="542.3" r="3.4"/><circle cx="557.5" cy="537.3" r="3.4"/><circle cx="513" cy="558.9" r="3.4"/><circle cx="549.8" cy="581.4" r="3.4"/><circle cx="573.5" cy="542.8" r="3.4"/><circle cx="601.7" cy="546.7" r="3.4"/><circle cx="610.8" cy="505" r="3.4"/><circle cx="515.9" cy="594.1" r="3.4"/><circle cx="534.9" cy="561.9" r="3.4"/><circle cx="644.4" cy="547.9" r="3.4"/><circle cx="570.5" cy="525.9" r="3.4"/><circle cx="494" cy="594.3" r="3.4"/><circle cx="515.9" cy="587.7" r="3.4"/><circle cx="591.6" cy="526" r="3.4"/><circle cx="567.9" cy="587.7" r="3.4"/><circle cx="486.1" cy="607.2" r="3.4"/><circle cx="574.4" cy="585.9" r="3.4"/><circle cx="571.6" cy="550.4" r="3.4"/><circle cx="537.3" cy="629.1" r="3.4"/><circle cx="473.6" cy="634.7" r="3.4"/><circle cx="596" cy="546.3" r="3.4"/><circle cx="522.9" cy="603.6" r="3.4"/><circle cx="590.2" cy="572.4" r="3.4"/><circle cx="595.4" cy="579" r="3.4"/><circle cx="625" cy="531.5" r="3.4"/><circle cx="654.3" cy="509.7" r="3.4"/><circle cx="623.5" cy="538.6" r="3.4"/><circle cx="607.6" cy="572.4" r="3.4"/><circle cx="607.9" cy="544" r="3.4"/><circle cx="587.4" cy="547.2" r="3.4"/><circle cx="645.7" cy="545.4" r="3.4"/><circle cx="617.5" cy="504.5" r="3.4"/><circle cx="535.9" cy="534.4" r="3.4"/><circle cx="627.1" cy="530.5" r="3.4"/><circle cx="547.1" cy="532.8" r="3.4"/><circle cx="602.3" cy="550.2" r="3.4"/><circle cx="520.8" cy="603.6" r="3.4"/><circle cx="610.9" cy="516.2" r="3.4"/><circle cx="578.9" cy="520.7" r="3.4"/><circle cx="564.4" cy="526.3" r="3.4"/><circle cx="600" cy="544.7" r="3.4"/><circle cx="493.3" cy="629.6" r="3.4"/><circle cx="600.4" cy="558.9" r="3.4"/><circle cx="571.5" cy="588.8" r="3.4"/><circle cx="637.7" cy="544.1" r="3.4"/><circle cx="586.8" cy="602.7" r="3.4"/><circle cx="535.6" cy="539" r="3.4"/><circle cx="602.2" cy="537.8" r="3.4"/><circle cx="508.9" cy="639.3" r="3.4"/><circle cx="559.6" cy="540.8" r="3.4"/><circle cx="616.2" cy="520.9" r="3.4"/><circle cx="564.9" cy="556.8" r="3.4"/><circle cx="563.5" cy="567.5" r="3.4"/><circle cx="494.6" cy="580.2" r="3.4"/><circle cx="612.4" cy="520.2" r="3.4"/><circle cx="611.9" cy="526" r="3.4"/><circle cx="550.6" cy="565.5" r="3.4"/><circle cx="609.5" cy="529.5" r="3.4"/><circle cx="585.5" cy="577.8" r="3.4"/><circle cx="565.5" cy="578" r="3.4"/><circle cx="598.3" cy="510" r="3.4"/><circle cx="540.8" cy="617.2" r="3.4"/><circle cx="607.3" cy="540.5" r="3.4"/><circle cx="487.5" cy="598.4" r="3.4"/><circle cx="658.8" cy="543.2" r="3.4"/><circle cx="576" cy="543" r="3.4"/><circle cx="608.5" cy="557.7" r="3.4"/><circle cx="649.9" cy="525.7" r="3.4"/><circle cx="636.3" cy="552.9" r="3.4"/><circle cx="598" cy="549.9" r="3.4"/><circle cx="632.4" cy="556.8" r="3.4"/><circle cx="551.3" cy="539.8" r="3.4"/><circle cx="587.6" cy="576.9" r="3.4"/><circle cx="522.7" cy="584.6" r="3.4"/><circle cx="582.4" cy="520.5" r="3.4"/><circle cx="619.2" cy="537.6" r="3.4"/><circle cx="575.2" cy="589" r="3.4"/><circle cx="573" cy="556.5" r="3.4"/><circle cx="603.2" cy="562.8" r="3.4"/><circle cx="550.2" cy="560.6" r="3.4"/><circle cx="587.2" cy="519.2" r="3.4"/><circle cx="469.6" cy="644.3" r="3.4"/><circle cx="604.7" cy="512.8" r="3.4"/><circle cx="652.5" cy="512.9" r="3.4"/><circle cx="590.5" cy="576.6" r="3.4"/><circle cx="622.7" cy="514.2" r="3.4"/><circle cx="601.2" cy="544.2" r="3.4"/><circle cx="639.8" cy="540.6" r="3.4"/><circle cx="581.4" cy="553.3" r="3.4"/><circle cx="628.1" cy="574.2" r="3.4"/><circle cx="565.7" cy="558.2" r="3.4"/><circle cx="605.7" cy="525.3" r="3.4"/><circle cx="599.7" cy="533.3" r="3.4"/><circle cx="626.7" cy="524.3" r="3.4"/><circle cx="619.9" cy="552" r="3.4"/><circle cx="550.7" cy="552.9" r="3.4"/><circle cx="541.9" cy="586.1" r="3.4"/><circle cx="604.1" cy="530.2" r="3.4"/><circle cx="584.3" cy="540.2" r="3.4"/><circle cx="530.6" cy="558.6" r="3.4"/><circle cx="606.3" cy="546.7" r="3.4"/><circle cx="526.4" cy="559.6" r="3.4"/><circle cx="601.1" cy="537.3" r="3.4"/><circle cx="586.4" cy="517.7" r="3.4"/><circle cx="504.4" cy="595.3" r="3.4"/><circle cx="583.2" cy="551.9" r="3.4"/><circle cx="584.9" cy="563.4" r="3.4"/><circle cx="591.3" cy="537.9" r="3.4"/><circle cx="566.2" cy="524" r="3.4"/><circle cx="631.2" cy="546.1" r="3.4"/><circle cx="488.5" cy="627.7" r="3.4"/><circle cx="453.4" cy="661.2" r="3.4"/><circle cx="502.2" cy="623.5" r="3.4"/><circle cx="545.9" cy="531.2" r="3.4"/><circle cx="631.5" cy="567.4" r="3.4"/><circle cx="590.9" cy="525.2" r="3.4"/><circle cx="618.4" cy="521.6" r="3.4"/><circle cx="628.3" cy="540.6" r="3.4"/><circle cx="567.6" cy="590.3" r="3.4"/><circle cx="618.8" cy="510.7" r="3.4"/><circle cx="588" cy="551.5" r="3.4"/><circle cx="627.3" cy="534.9" r="3.4"/><circle cx="529.8" cy="609.2" r="3.4"/><circle cx="547.9" cy="555.1" r="3.4"/><circle cx="580.4" cy="530.9" r="3.4"/><circle cx="563.2" cy="606" r="3.4"/><circle cx="572.5" cy="547" r="3.4"/><circle cx="603" cy="536.4" r="3.4"/><circle cx="625" cy="516.1" r="3.4"/><circle cx="568.1" cy="546.8" r="3.4"/><circle cx="598.8" cy="552.7" r="3.4"/><circle cx="646.5" cy="510.2" r="3.4"/><circle cx="571.4" cy="555.4" r="3.4"/><circle cx="592.8" cy="540.7" r="3.4"/><circle cx="635" cy="534.7" r="3.4"/><circle cx="591.8" cy="562.9" r="3.4"/><circle cx="594" cy="578.3" r="3.4"/><circle cx="553.2" cy="545.5" r="3.4"/><circle cx="589.1" cy="549.9" r="3.4"/><circle cx="621.6" cy="531.3" r="3.4"/><circle cx="506.3" cy="562.4" r="3.4"/><circle cx="466.8" cy="596" r="3.4"/><circle cx="590.6" cy="520.8" r="3.4"/><circle cx="607.8" cy="550.7" r="3.4"/><circle cx="619.2" cy="505.6" r="3.4"/><circle cx="493.4" cy="626.7" r="3.4"/><circle cx="577.6" cy="572.8" r="3.4"/><circle cx="651.8" cy="517.2" r="3.4"/><circle cx="652.2" cy="522.2" r="3.4"/><circle cx="509.3" cy="542.6" r="3.4"/><circle cx="530.1" cy="590.2" r="3.4"/><circle cx="640.3" cy="503.7" r="3.4"/><circle cx="635.9" cy="524.4" r="3.4"/><circle cx="534.8" cy="540.5" r="3.4"/><circle cx="539.7" cy="598" r="3.4"/><circle cx="647.6" cy="539.8" r="3.4"/><circle cx="586" cy="554.5" r="3.4"/><circle cx="661.8" cy="525.2" r="3.4"/><circle cx="617.9" cy="561.2" r="3.4"/><circle cx="531.9" cy="557.5" r="3.4"/><circle cx="561" cy="557.6" r="3.4"/><circle cx="592.2" cy="574.2" r="3.4"/><circle cx="605.9" cy="520.3" r="3.4"/><circle cx="521" cy="577" r="3.4"/><circle cx="536.8" cy="607.9" r="3.4"/><circle cx="611.7" cy="513.4" r="3.4"/><circle cx="592.8" cy="525.6" r="3.4"/><circle cx="600.2" cy="525" r="3.4"/><circle cx="481.6" cy="668.6" r="3.4"/><circle cx="592.4" cy="519.9" r="3.4"/><circle cx="596.3" cy="542.9" r="3.4"/><circle cx="609.7" cy="546.6" r="3.4"/><circle cx="606.8" cy="557.8" r="3.4"/><circle cx="535.4" cy="616.9" r="3.4"/><circle cx="612.3" cy="538.2" r="3.4"/><circle cx="553.4" cy="617.5" r="3.4"/><circle cx="621.7" cy="542.7" r="3.4"/><circle cx="597.7" cy="522.6" r="3.4"/><circle cx="534.3" cy="615.1" r="3.4"/><circle cx="603" cy="517.2" r="3.4"/><circle cx="565.7" cy="566.9" r="3.4"/><circle cx="514.7" cy="613.2" r="3.4"/><circle cx="611.9" cy="562.5" r="3.4"/><circle cx="512.3" cy="596.2" r="3.4"/><circle cx="641" cy="538.4" r="3.4"/><circle cx="601.5" cy="536.4" r="3.4"/><circle cx="523.4" cy="621.2" r="3.4"/><circle cx="602.2" cy="539.4" r="3.4"/><circle cx="610.8" cy="529.8" r="3.4"/><circle cx="593.3" cy="532.6" r="3.4"/><circle cx="583.3" cy="521.5" r="3.4"/><circle cx="565.8" cy="600.2" r="3.4"/><circle cx="593.5" cy="575.7" r="3.4"/><circle cx="634.2" cy="517.7" r="3.4"/><circle cx="603.4" cy="544.4" r="3.4"/><circle cx="643.7" cy="503.9" r="3.4"/><circle cx="511.8" cy="610.8" r="3.4"/><circle cx="595" cy="576.3" r="3.4"/><circle cx="607.7" cy="561.6" r="3.4"/><circle cx="599.5" cy="509.3" r="3.4"/><circle cx="552.9" cy="559.8" r="3.4"/><circle cx="603.1" cy="529.6" r="3.4"/><circle cx="607.2" cy="535.8" r="3.4"/><circle cx="603" cy="570.5" r="3.4"/><circle cx="523.5" cy="571.3" r="3.4"/><circle cx="620.1" cy="546.4" r="3.4"/><circle cx="580.8" cy="574.7" r="3.4"/><circle cx="660.5" cy="527.7" r="3.4"/><circle cx="645.2" cy="523.4" r="3.4"/><circle cx="557.3" cy="584.8" r="3.4"/><circle cx="639.7" cy="508.3" r="3.4"/><circle cx="525.6" cy="592.8" r="3.4"/><circle cx="554.9" cy="542.6" r="3.4"/><circle cx="641.7" cy="503.9" r="3.4"/><circle cx="616.5" cy="530.8" r="3.4"/><circle cx="629.7" cy="529.7" r="3.4"/><circle cx="604.5" cy="587.3" r="3.4"/><circle cx="589.3" cy="511.9" r="3.4"/><circle cx="627.7" cy="514.2" r="3.4"/><circle cx="659.6" cy="536.6" r="3.4"/><circle cx="622.4" cy="506.1" r="3.4"/><circle cx="600.1" cy="532.3" r="3.4"/><circle cx="520.5" cy="588.7" r="3.4"/><circle cx="531.3" cy="584.4" r="3.4"/><circle cx="600.4" cy="509.2" r="3.4"/><circle cx="579.8" cy="550.3" r="3.4"/><circle cx="639.4" cy="540.9" r="3.4"/><circle cx="621.1" cy="518.5" r="3.4"/><circle cx="623.5" cy="520.9" r="3.4"/><circle cx="535.3" cy="584.3" r="3.4"/><circle cx="595.8" cy="511.1" r="3.4"/><circle cx="632" cy="542.3" r="3.4"/><circle cx="623.2" cy="554" r="3.4"/><circle cx="612.8" cy="519.6" r="3.4"/><circle cx="537.2" cy="538.3" r="3.4"/><circle cx="602.7" cy="569.5" r="3.4"/><circle cx="615.9" cy="550.2" r="3.4"/><circle cx="611.3" cy="527.4" r="3.4"/><circle cx="539" cy="560.6" r="3.4"/><circle cx="556.4" cy="573.4" r="3.4"/><circle cx="592" cy="574.2" r="3.4"/><circle cx="539.5" cy="542.2" r="3.4"/><circle cx="596.6" cy="550.3" r="3.4"/><circle cx="520.5" cy="576.9" r="3.4"/><circle cx="571.1" cy="568.2" r="3.4"/><circle cx="641.6" cy="530.7" r="3.4"/><circle cx="599" cy="523.7" r="3.4"/><circle cx="513.4" cy="556.9" r="3.4"/><circle cx="619.6" cy="537.8" r="3.4"/><circle cx="635.6" cy="525" r="3.4"/><circle cx="627" cy="507.1" r="3.4"/><circle cx="660.3" cy="523.2" r="3.4"/><circle cx="583.3" cy="585.7" r="3.4"/><circle cx="580.6" cy="542.3" r="3.4"/><circle cx="634.3" cy="543.4" r="3.4"/><circle cx="534.5" cy="584.2" r="3.4"/><circle cx="614.4" cy="529.3" r="3.4"/><circle cx="592.7" cy="565.2" r="3.4"/><circle cx="630.3" cy="527.2" r="3.4"/><circle cx="635.4" cy="519" r="3.4"/><circle cx="610.4" cy="552" r="3.4"/><circle cx="582.1" cy="577.4" r="3.4"/><circle cx="543.3" cy="592.7" r="3.4"/><circle cx="606" cy="513.8" r="3.4"/><circle cx="490" cy="569.2" r="3.4"/><circle cx="649.9" cy="544.3" r="3.4"/><circle cx="611.6" cy="536" r="3.4"/><circle cx="521.4" cy="577.9" r="3.4"/><circle cx="578.5" cy="534.7" r="3.4"/><circle cx="525.2" cy="578.6" r="3.4"/><circle cx="599.5" cy="540.5" r="3.4"/><circle cx="593.8" cy="512.1" r="3.4"/><circle cx="609.2" cy="554.5" r="3.4"/><circle cx="604.6" cy="571.1" r="3.4"/><circle cx="566.2" cy="555.5" r="3.4"/><circle cx="603.2" cy="520.6" r="3.4"/><circle cx="616.9" cy="538.6" r="3.4"/><circle cx="621.2" cy="510.4" r="3.4"/><circle cx="598.6" cy="541.1" r="3.4"/><circle cx="565.8" cy="551" r="3.4"/><circle cx="625.7" cy="540.7" r="3.4"/><circle cx="591.2" cy="600.7" r="3.4"/><circle cx="617.7" cy="538" r="3.4"/><circle cx="591.2" cy="560.6" r="3.4"/><circle cx="619.6" cy="544.2" r="3.4"/><circle cx="611.2" cy="530.8" r="3.4"/><circle cx="628.1" cy="523.2" r="3.4"/><circle cx="613.5" cy="571" r="3.4"/><circle cx="620.6" cy="547.5" r="3.4"/><circle cx="614.4" cy="532.2" r="3.4"/><circle cx="593.1" cy="572.6" r="3.4"/><circle cx="627.5" cy="536.6" r="3.4"/><circle cx="562.1" cy="584.5" r="3.4"/><circle cx="543.8" cy="578.8" r="3.4"/><circle cx="608.1" cy="546.5" r="3.4"/><circle cx="645.9" cy="531.9" r="3.4"/><circle cx="553.7" cy="573.2" r="3.4"/><circle cx="575.7" cy="527.8" r="3.4"/><circle cx="511" cy="545" r="3.4"/><circle cx="552.9" cy="588.7" r="3.4"/><circle cx="445.1" cy="656.8" r="3.4"/><circle cx="617.5" cy="523.3" r="3.4"/><circle cx="551.7" cy="562.1" r="3.4"/><circle cx="605.8" cy="529.6" r="3.4"/><circle cx="576.5" cy="558.7" r="3.4"/><circle cx="592" cy="535.6" r="3.4"/><circle cx="577.6" cy="582.1" r="3.4"/><circle cx="521.7" cy="624.8" r="3.4"/><circle cx="591.3" cy="567.3" r="3.4"/><circle cx="598.1" cy="531.1" r="3.4"/><circle cx="574.1" cy="532.1" r="3.4"/><circle cx="467.4" cy="629.6" r="3.4"/><circle cx="640.7" cy="500.8" r="3.4"/><circle cx="544.3" cy="594.7" r="3.4"/><circle cx="503.4" cy="563.5" r="3.4"/><circle cx="551.7" cy="620.6" r="3.4"/><circle cx="627" cy="536.4" r="3.4"/><circle cx="477.5" cy="625.7" r="3.4"/><circle cx="615.2" cy="531" r="3.4"/><circle cx="610.5" cy="530.8" r="3.4"/><circle cx="635.4" cy="522.3" r="3.4"/><circle cx="545.2" cy="614.4" r="3.4"/><circle cx="633.4" cy="560.8" r="3.4"/><circle cx="604" cy="549.4" r="3.4"/><circle cx="592.3" cy="594.2" r="3.4"/><circle cx="617" cy="571.6" r="3.4"/><circle cx="595.8" cy="547.9" r="3.4"/><circle cx="611" cy="541.7" r="3.4"/><circle cx="572.1" cy="533.2" r="3.4"/><circle cx="554.4" cy="567.2" r="3.4"/><circle cx="611.2" cy="547.5" r="3.4"/><circle cx="656.3" cy="546.3" r="3.4"/><circle cx="662.5" cy="531.1" r="3.4"/><circle cx="523.2" cy="546.3" r="3.4"/><circle cx="537.7" cy="590.5" r="3.4"/><circle cx="593.6" cy="526.4" r="3.4"/><circle cx="538.8" cy="573.5" r="3.4"/><circle cx="598" cy="549.1" r="3.4"/><circle cx="627.1" cy="544.6" r="3.4"/><circle cx="529.1" cy="581.4" r="3.4"/><circle cx="542.9" cy="551.5" r="3.4"/><circle cx="537" cy="609.7" r="3.4"/><circle cx="589.7" cy="544.7" r="3.4"/><circle cx="478.9" cy="621.4" r="3.4"/><circle cx="583.1" cy="576.7" r="3.4"/><circle cx="581.2" cy="542.1" r="3.4"/><circle cx="635.3" cy="513.6" r="3.4"/><circle cx="631.9" cy="559.9" r="3.4"/><circle cx="597.3" cy="520" r="3.4"/><circle cx="543.5" cy="617.5" r="3.4"/><circle cx="603" cy="568" r="3.4"/><circle cx="624.2" cy="553.1" r="3.4"/><circle cx="648.7" cy="522.1" r="3.4"/><circle cx="541.5" cy="561" r="3.4"/><circle cx="606.7" cy="543.3" r="3.4"/><circle cx="592.9" cy="512.8" r="3.4"/><circle cx="534.5" cy="584.1" r="3.4"/><circle cx="567.9" cy="598.4" r="3.4"/><circle cx="651.2" cy="536" r="3.4"/><circle cx="618.8" cy="563.3" r="3.4"/><circle cx="573.5" cy="561" r="3.4"/><circle cx="552.1" cy="609.5" r="3.4"/><circle cx="613.6" cy="548.9" r="3.4"/><circle cx="642.3" cy="522.2" r="3.4"/><circle cx="626.4" cy="522.9" r="3.4"/><circle cx="538.5" cy="574.6" r="3.4"/><circle cx="576.6" cy="582.4" r="3.4"/><circle cx="623.8" cy="528.6" r="3.4"/><circle cx="626.7" cy="535.8" r="3.4"/><circle cx="495.9" cy="626.1" r="3.4"/><circle cx="606.7" cy="538.7" r="3.4"/><circle cx="587.3" cy="536.3" r="3.4"/><circle cx="517.4" cy="604.8" r="3.4"/><circle cx="541.5" cy="561" r="3.4"/><circle cx="652.7" cy="529.3" r="3.4"/><circle cx="640.1" cy="554.6" r="3.4"/><circle cx="540.7" cy="561" r="3.4"/><circle cx="519.1" cy="624.8" r="3.4"/><circle cx="601.6" cy="512.9" r="3.4"/><circle cx="487.4" cy="637.6" r="3.4"/><circle cx="650.2" cy="521.9" r="3.4"/><circle cx="548" cy="609.9" r="3.4"/><circle cx="612.3" cy="542.7" r="3.4"/><circle cx="536.6" cy="581.7" r="3.4"/><circle cx="580.8" cy="547.2" r="3.4"/><circle cx="570.8" cy="529.9" r="3.4"/><circle cx="581.4" cy="566.8" r="3.4"/><circle cx="616.3" cy="550.4" r="3.4"/><circle cx="622.5" cy="527.2" r="3.4"/><circle cx="635.5" cy="524.2" r="3.4"/><circle cx="592.3" cy="512.2" r="3.4"/><circle cx="620.9" cy="514.3" r="3.4"/><circle cx="598.4" cy="566.5" r="3.4"/><circle cx="620.9" cy="528.7" r="3.4"/><circle cx="643.3" cy="516.4" r="3.4"/><circle cx="623" cy="550" r="3.4"/><circle cx="601.3" cy="538.3" r="3.4"/><circle cx="580.7" cy="572.5" r="3.4"/><circle cx="557.2" cy="580.1" r="3.4"/><circle cx="564.8" cy="533.4" r="3.4"/><circle cx="622.8" cy="527.1" r="3.4"/><circle cx="639.3" cy="544.4" r="3.4"/><circle cx="518.2" cy="564.1" r="3.4"/><circle cx="470.3" cy="601.8" r="3.4"/><circle cx="563.6" cy="550.4" r="3.4"/><circle cx="644.6" cy="550.3" r="3.4"/><circle cx="652.6" cy="521.7" r="3.4"/><circle cx="617.1" cy="512.2" r="3.4"/><circle cx="587.1" cy="546.6" r="3.4"/><circle cx="531.6" cy="540.2" r="3.4"/><circle cx="543" cy="591.5" r="3.4"/><circle cx="557" cy="548.4" r="3.4"/><circle cx="632.6" cy="516" r="3.4"/><circle cx="593.1" cy="548.1" r="3.4"/><circle cx="608.8" cy="549.5" r="3.4"/><circle cx="587.8" cy="571.4" r="3.4"/><circle cx="606.6" cy="521.7" r="3.4"/><circle cx="591.2" cy="522.3" r="3.4"/><circle cx="550.4" cy="563.1" r="3.4"/><circle cx="608.5" cy="512.3" r="3.4"/><circle cx="625.2" cy="530.3" r="3.4"/><circle cx="583.8" cy="580.4" r="3.4"/><circle cx="611.3" cy="565.6" r="3.4"/><circle cx="630.3" cy="536.5" r="3.4"/><circle cx="566.8" cy="544.1" r="3.4"/><circle cx="537.3" cy="588.3" r="3.4"/><circle cx="554.9" cy="540.4" r="3.4"/><circle cx="476.5" cy="642.5" r="3.4"/><circle cx="605" cy="555.3" r="3.4"/><circle cx="592.9" cy="559.5" r="3.4"/><circle cx="616.3" cy="540.1" r="3.4"/><circle cx="545.7" cy="557.4" r="3.4"/><circle cx="611.9" cy="518.5" r="3.4"/><circle cx="648.7" cy="530.3" r="3.4"/><circle cx="623.9" cy="534.6" r="3.4"/><circle cx="604.4" cy="554.2" r="3.4"/><circle cx="587.5" cy="523.4" r="3.4"/><circle cx="574.2" cy="524.5" r="3.4"/><circle cx="621.6" cy="568.4" r="3.4"/><circle cx="551.6" cy="531.8" r="3.4"/><circle cx="564.9" cy="546.4" r="3.4"/><circle cx="543.6" cy="547.5" r="3.4"/><circle cx="633.6" cy="551.8" r="3.4"/><circle cx="543.1" cy="605.9" r="3.4"/><circle cx="622" cy="549.5" r="3.4"/><circle cx="597.3" cy="514.1" r="3.4"/><circle cx="658.8" cy="507.5" r="3.4"/><circle cx="642.7" cy="515.7" r="3.4"/><circle cx="544.4" cy="546.2" r="3.4"/><circle cx="647.4" cy="508.7" r="3.4"/><circle cx="553.7" cy="585.6" r="3.4"/><circle cx="601.6" cy="519.8" r="3.4"/><circle cx="618.6" cy="519.8" r="3.4"/><circle cx="638" cy="536.4" r="3.4"/><circle cx="486.7" cy="639.8" r="3.4"/><circle cx="632.9" cy="518.8" r="3.4"/><circle cx="571.1" cy="608.8" r="3.4"/><circle cx="644.9" cy="507.5" r="3.4"/><circle cx="612.6" cy="541.4" r="3.4"/><circle cx="604.5" cy="542.1" r="3.4"/><circle cx="556.9" cy="571.8" r="3.4"/><circle cx="633.3" cy="527.6" r="3.4"/><circle cx="580.2" cy="551.3" r="3.4"/><circle cx="644.9" cy="552.5" r="3.4"/><circle cx="639.1" cy="504.9" r="3.4"/><circle cx="577.6" cy="524.9" r="3.4"/><circle cx="530" cy="621.2" r="3.4"/><circle cx="513.1" cy="601.5" r="3.4"/><circle cx="621" cy="537.6" r="3.4"/><circle cx="611.3" cy="552.7" r="3.4"/><circle cx="554.6" cy="573.7" r="3.4"/><circle cx="606.4" cy="519.7" r="3.4"/><circle cx="589.4" cy="542.2" r="3.4"/><circle cx="542.2" cy="606.9" r="3.4"/><circle cx="618.2" cy="517.1" r="3.4"/><circle cx="638.5" cy="538.7" r="3.4"/><circle cx="563.3" cy="579" r="3.4"/><circle cx="607.3" cy="530.7" r="3.4"/><circle cx="625.3" cy="521.5" r="3.4"/><circle cx="572.7" cy="575.4" r="3.4"/><circle cx="568.2" cy="536.9" r="3.4"/><circle cx="634" cy="528.1" r="3.4"/><circle cx="629.3" cy="514.4" r="3.4"/><circle cx="515.1" cy="581.3" r="3.4"/><circle cx="519.2" cy="575.5" r="3.4"/><circle cx="506.1" cy="542.9" r="3.4"/><circle cx="519.2" cy="575.1" r="3.4"/><circle cx="569.2" cy="573.9" r="3.4"/><circle cx="426.4" cy="621.6" r="3.4"/><circle cx="578.1" cy="568.1" r="3.4"/><circle cx="558.4" cy="558" r="3.4"/><circle cx="541.9" cy="618.8" r="3.4"/><circle cx="633.4" cy="547.6" r="3.4"/><circle cx="632.5" cy="536.6" r="3.4"/><circle cx="561.4" cy="571.8" r="3.4"/><circle cx="572.9" cy="567.8" r="3.4"/><circle cx="588.9" cy="566" r="3.4"/><circle cx="629.4" cy="511.1" r="3.4"/><circle cx="607.3" cy="533.5" r="3.4"/><circle cx="639.5" cy="546.6" r="3.4"/><circle cx="539.9" cy="562" r="3.4"/><circle cx="590.5" cy="524.3" r="3.4"/><circle cx="606.3" cy="526.7" r="3.4"/><circle cx="548.2" cy="541.1" r="3.4"/><circle cx="550" cy="583.5" r="3.4"/><circle cx="617.6" cy="507.3" r="3.4"/><circle cx="620" cy="509.8" r="3.4"/><circle cx="545.5" cy="547.7" r="3.4"/><circle cx="605.4" cy="553.4" r="3.4"/><circle cx="596.8" cy="561.2" r="3.4"/><circle cx="641" cy="511.7" r="3.4"/><circle cx="493.3" cy="600.4" r="3.4"/><circle cx="597.6" cy="513.3" r="3.4"/><circle cx="585.6" cy="538.8" r="3.4"/><circle cx="503.7" cy="541.2" r="3.4"/><circle cx="657.9" cy="512.1" r="3.4"/><circle cx="538.4" cy="540.5" r="3.4"/><circle cx="635.1" cy="537.8" r="3.4"/><circle cx="581.1" cy="587.4" r="3.4"/><circle cx="589.2" cy="543.9" r="3.4"/><circle cx="641.7" cy="518.5" r="3.4"/><circle cx="578" cy="541.5" r="3.4"/><circle cx="622" cy="524.7" r="3.4"/><circle cx="645.5" cy="532" r="3.4"/><circle cx="600.9" cy="537.3" r="3.4"/><circle cx="579.8" cy="539.5" r="3.4"/><circle cx="539.9" cy="539.3" r="3.4"/><circle cx="553" cy="570.2" r="3.4"/><circle cx="610.9" cy="546" r="3.4"/><circle cx="621.8" cy="526.6" r="3.4"/><circle cx="621.1" cy="548.2" r="3.4"/><circle cx="597.5" cy="527.2" r="3.4"/><circle cx="607.7" cy="535.4" r="3.4"/><circle cx="628.3" cy="513.9" r="3.4"/><circle cx="620.3" cy="523.4" r="3.4"/><circle cx="592.8" cy="558.4" r="3.4"/><circle cx="572" cy="545.9" r="3.4"/><circle cx="609.7" cy="574.9" r="3.4"/><circle cx="575.3" cy="568.2" r="3.4"/><circle cx="613.6" cy="523.7" r="3.4"/><circle cx="603.2" cy="510.9" r="3.4"/><circle cx="539.4" cy="578" r="3.4"/><circle cx="579.1" cy="577" r="3.4"/><circle cx="639.1" cy="517.5" r="3.4"/><circle cx="576.5" cy="566.4" r="3.4"/><circle cx="623.1" cy="568.7" r="3.4"/><circle cx="598" cy="539.5" r="3.4"/><circle cx="617.4" cy="531.1" r="3.4"/><circle cx="500.3" cy="591.8" r="3.4"/><circle cx="632.2" cy="534.1" r="3.4"/><circle cx="623.1" cy="513.3" r="3.4"/><circle cx="448.4" cy="603.7" r="3.4"/><circle cx="614.7" cy="534.2" r="3.4"/><circle cx="631.5" cy="518.3" r="3.4"/><circle cx="647.4" cy="547.4" r="3.4"/><circle cx="568" cy="524.4" r="3.4"/><circle cx="602.4" cy="539.3" r="3.4"/><circle cx="560.8" cy="600.2" r="3.4"/><circle cx="576.1" cy="559" r="3.4"/><circle cx="606.8" cy="570.3" r="3.4"/><circle cx="559.9" cy="606.2" r="3.4"/><circle cx="619.8" cy="508.7" r="3.4"/><circle cx="589.2" cy="550.7" r="3.4"/><circle cx="590.5" cy="552.1" r="3.4"/><circle cx="541.3" cy="611.7" r="3.4"/><circle cx="555.5" cy="607.5" r="3.4"/><circle cx="661" cy="528.9" r="3.4"/><circle cx="633.3" cy="525" r="3.4"/><circle cx="545.4" cy="600.2" r="3.4"/><circle cx="577.3" cy="542.1" r="3.4"/><circle cx="579.9" cy="545" r="3.4"/><circle cx="633.3" cy="524.9" r="3.4"/><circle cx="620.4" cy="513.5" r="3.4"/><circle cx="572.6" cy="565.4" r="3.4"/><circle cx="569.5" cy="543.5" r="3.4"/><circle cx="606.1" cy="584.4" r="3.4"/><circle cx="581.9" cy="537.8" r="3.4"/><circle cx="588.7" cy="519" r="3.4"/><circle cx="515.8" cy="626.2" r="3.4"/><circle cx="660.5" cy="516.8" r="3.4"/><circle cx="608.4" cy="536.9" r="3.4"/><circle cx="476" cy="653.8" r="3.4"/><circle cx="611.9" cy="521.8" r="3.4"/><circle cx="653.7" cy="521.5" r="3.4"/><circle cx="655.5" cy="528.2" r="3.4"/><circle cx="632.6" cy="518.4" r="3.4"/><circle cx="600.1" cy="529.4" r="3.4"/><circle cx="643.5" cy="538.2" r="3.4"/><circle cx="469.4" cy="637.3" r="3.4"/><circle cx="541.5" cy="566.1" r="3.4"/><circle cx="593.2" cy="551.5" r="3.4"/><circle cx="575.2" cy="583.5" r="3.4"/><circle cx="527.6" cy="604.8" r="3.4"/><circle cx="568.3" cy="540.9" r="3.4"/><circle cx="575.8" cy="522.7" r="3.4"/><circle cx="543.2" cy="580.1" r="3.4"/><circle cx="552.5" cy="577.5" r="3.4"/><circle cx="626.8" cy="518.4" r="3.4"/><circle cx="621.2" cy="523.5" r="3.4"/><circle cx="474.8" cy="606.8" r="3.4"/><circle cx="639.6" cy="536.4" r="3.4"/><circle cx="570.6" cy="557.3" r="3.4"/><circle cx="566.2" cy="565.6" r="3.4"/><circle cx="546.9" cy="609.2" r="3.4"/><circle cx="630.1" cy="535.1" r="3.4"/><circle cx="497.7" cy="625.5" r="3.4"/><circle cx="547.3" cy="551.9" r="3.4"/><circle cx="555.6" cy="589.1" r="3.4"/><circle cx="657.5" cy="505.2" r="3.4"/><circle cx="572" cy="548.4" r="3.4"/><circle cx="551.6" cy="563.9" r="3.4"/><circle cx="498.1" cy="626.5" r="3.4"/><circle cx="573.7" cy="544.5" r="3.4"/><circle cx="631.3" cy="519.8" r="3.4"/><circle cx="558.9" cy="548.8" r="3.4"/><circle cx="620.6" cy="571.9" r="3.4"/><circle cx="579.5" cy="524.9" r="3.4"/><circle cx="622.4" cy="521.5" r="3.4"/><circle cx="562.2" cy="590.7" r="3.4"/><circle cx="620" cy="568.1" r="3.4"/><circle cx="550.7" cy="595.5" r="3.4"/><circle cx="590.2" cy="597.1" r="3.4"/><circle cx="591.7" cy="574.8" r="3.4"/><circle cx="516.6" cy="569.2" r="3.4"/><circle cx="632.5" cy="533.3" r="3.4"/><circle cx="517.3" cy="605.8" r="3.4"/><circle cx="622.2" cy="510.9" r="3.4"/><circle cx="638.6" cy="510.8" r="3.4"/><circle cx="574.7" cy="548.3" r="3.4"/><circle cx="630.1" cy="532.6" r="3.4"/><circle cx="660.7" cy="517.2" r="3.4"/><circle cx="607.5" cy="520" r="3.4"/><circle cx="600.6" cy="574.3" r="3.4"/><circle cx="657" cy="520.1" r="3.4"/><circle cx="564.2" cy="561.4" r="3.4"/><circle cx="556.3" cy="529.3" r="3.4"/><circle cx="651.3" cy="528.7" r="3.4"/><circle cx="613.3" cy="549.6" r="3.4"/><circle cx="584.2" cy="548.3" r="3.4"/><circle cx="603.7" cy="521.9" r="3.4"/><circle cx="547.3" cy="534.5" r="3.4"/><circle cx="538.1" cy="570.9" r="3.4"/><circle cx="480.7" cy="611.5" r="3.4"/><circle cx="608.8" cy="533.8" r="3.4"/><circle cx="620.4" cy="531.5" r="3.4"/><circle cx="585.6" cy="579.2" r="3.4"/><circle cx="485" cy="606.4" r="3.4"/><circle cx="607.4" cy="521.3" r="3.4"/><circle cx="589.6" cy="559.2" r="3.4"/><circle cx="547.1" cy="575.3" r="3.4"/><circle cx="616.2" cy="540" r="3.4"/><circle cx="511.7" cy="609.7" r="3.4"/><circle cx="614.8" cy="538.2" r="3.4"/><circle cx="491.4" cy="610.9" r="3.4"/><circle cx="571.9" cy="567.1" r="3.4"/><circle cx="578.3" cy="574.4" r="3.4"/><circle cx="624.4" cy="533" r="3.4"/><circle cx="513" cy="630" r="3.4"/><circle cx="624.3" cy="533.2" r="3.4"/><circle cx="627.2" cy="532.2" r="3.4"/><circle cx="625.5" cy="555" r="3.4"/><circle cx="632.5" cy="538.1" r="3.4"/><circle cx="549" cy="610.2" r="3.4"/><circle cx="563.6" cy="561.8" r="3.4"/><circle cx="599.7" cy="539.3" r="3.4"/><circle cx="663.3" cy="534.8" r="3.4"/><circle cx="440.9" cy="645.5" r="3.4"/><circle cx="539.4" cy="590.4" r="3.4"/><circle cx="620.9" cy="531.4" r="3.4"/><circle cx="634.7" cy="567.3" r="3.4"/><circle cx="637.7" cy="503.3" r="3.4"/><circle cx="616.8" cy="509.4" r="3.4"/><circle cx="567.8" cy="600" r="3.4"/><circle cx="585" cy="543.9" r="3.4"/><circle cx="563.1" cy="568" r="3.4"/><circle cx="629.6" cy="541.3" r="3.4"/><circle cx="563.7" cy="576.8" r="3.4"/><circle cx="609.9" cy="526.5" r="3.4"/><circle cx="604.3" cy="538" r="3.4"/><circle cx="547.8" cy="601.4" r="3.4"/><circle cx="585.4" cy="537.1" r="3.4"/><circle cx="517.2" cy="586.7" r="3.4"/><circle cx="578.2" cy="546.7" r="3.4"/><circle cx="610.9" cy="529.3" r="3.4"/><circle cx="562.5" cy="591.2" r="3.4"/><circle cx="554.3" cy="544" r="3.4"/><circle cx="621.6" cy="545.8" r="3.4"/><circle cx="543.8" cy="573.9" r="3.4"/><circle cx="631" cy="545.9" r="3.4"/><circle cx="588.5" cy="555.8" r="3.4"/><circle cx="655.7" cy="547.6" r="3.4"/><circle cx="662.8" cy="537.4" r="3.4"/><circle cx="533.7" cy="546.1" r="3.4"/><circle cx="537.2" cy="567.1" r="3.4"/><circle cx="642.3" cy="548" r="3.4"/><circle cx="524.4" cy="604.3" r="3.4"/><circle cx="589.4" cy="533.5" r="3.4"/><circle cx="564.6" cy="553.9" r="3.4"/><circle cx="559.2" cy="543.7" r="3.4"/><circle cx="573" cy="517.2" r="3.4"/><circle cx="558.8" cy="552.3" r="3.4"/><circle cx="630.1" cy="532" r="3.4"/><circle cx="501.3" cy="637.9" r="3.4"/><circle cx="578.1" cy="573.4" r="3.4"/><circle cx="654.7" cy="535.9" r="3.4"/><circle cx="601.4" cy="554.5" r="3.4"/><circle cx="650.6" cy="551.5" r="3.4"/><circle cx="605.2" cy="550.7" r="3.4"/><circle cx="587.6" cy="527.3" r="3.4"/><circle cx="600" cy="547.5" r="3.4"/><circle cx="646.9" cy="514.2" r="3.4"/><circle cx="546.2" cy="602.1" r="3.4"/><circle cx="611.6" cy="558.1" r="3.4"/><circle cx="630.5" cy="518.3" r="3.4"/><circle cx="621" cy="535" r="3.4"/><circle cx="624.1" cy="533.3" r="3.4"/><circle cx="603.4" cy="551.8" r="3.4"/><circle cx="512.9" cy="600.5" r="3.4"/><circle cx="622.7" cy="517.9" r="3.4"/><circle cx="616.8" cy="507.5" r="3.4"/><circle cx="569.7" cy="551.9" r="3.4"/><circle cx="566.3" cy="542.3" r="3.4"/><circle cx="577.7" cy="565.1" r="3.4"/><circle cx="623.9" cy="548.8" r="3.4"/><circle cx="625.4" cy="512.1" r="3.4"/><circle cx="508.8" cy="610.7" r="3.4"/><circle cx="596.8" cy="543.9" r="3.4"/><circle cx="543.7" cy="622.4" r="3.4"/><circle cx="624.9" cy="527.9" r="3.4"/><circle cx="639.9" cy="500.1" r="3.4"/><circle cx="629.2" cy="527.3" r="3.4"/><circle cx="569" cy="521.8" r="3.4"/><circle cx="639.1" cy="538.7" r="3.4"/><circle cx="546.3" cy="573" r="3.4"/><circle cx="536.1" cy="609.3" r="3.4"/><circle cx="589" cy="573.5" r="3.4"/><circle cx="617.6" cy="528.2" r="3.4"/><circle cx="598.6" cy="572.3" r="3.4"/><circle cx="485.8" cy="628" r="3.4"/><circle cx="562.4" cy="580.9" r="3.4"/><circle cx="629.4" cy="541.4" r="3.4"/><circle cx="545.9" cy="618.7" r="3.4"/><circle cx="579.1" cy="517" r="3.4"/><circle cx="554.4" cy="602.7" r="3.4"/><circle cx="553.4" cy="570.6" r="3.4"/><circle cx="648.5" cy="526.3" r="3.4"/><circle cx="606.7" cy="572.9" r="3.4"/><circle cx="664.4" cy="518.3" r="3.4"/><circle cx="482.4" cy="655.8" r="3.4"/><circle cx="643.5" cy="552.2" r="3.4"/><circle cx="579.8" cy="559.5" r="3.4"/><circle cx="575.9" cy="553.6" r="3.4"/><circle cx="584.4" cy="577.7" r="3.4"/><circle cx="616.9" cy="552.1" r="3.4"/><circle cx="501.8" cy="588.3" r="3.4"/><circle cx="571.8" cy="558.7" r="3.4"/><circle cx="526.1" cy="560" r="3.4"/><circle cx="627" cy="552.8" r="3.4"/><circle cx="601.9" cy="564.6" r="3.4"/><circle cx="630.3" cy="518.4" r="3.4"/><circle cx="622" cy="542.1" r="3.4"/><circle cx="580.4" cy="528" r="3.4"/><circle cx="644.7" cy="534.1" r="3.4"/><circle cx="465.3" cy="595.9" r="3.4"/><circle cx="606.9" cy="538.3" r="3.4"/><circle cx="647.6" cy="544.3" r="3.4"/><circle cx="590.3" cy="531.9" r="3.4"/><circle cx="560" cy="547.8" r="3.4"/><circle cx="611.5" cy="543.9" r="3.4"/><circle cx="634.4" cy="508.2" r="3.4"/><circle cx="564" cy="552.3" r="3.4"/><circle cx="605.8" cy="544.3" r="3.4"/><circle cx="648.9" cy="529.6" r="3.4"/><circle cx="605.9" cy="519.8" r="3.4"/><circle cx="499.9" cy="630.5" r="3.4"/><circle cx="653.1" cy="525.3" r="3.4"/><circle cx="522.9" cy="586.7" r="3.4"/><circle cx="619" cy="561.7" r="3.4"/><circle cx="645" cy="541.2" r="3.4"/><circle cx="620.4" cy="525.6" r="3.4"/><circle cx="613.8" cy="513.1" r="3.4"/><circle cx="622.1" cy="540.5" r="3.4"/><circle cx="657.1" cy="507.5" r="3.4"/><circle cx="622.5" cy="540.8" r="3.4"/><circle cx="645.6" cy="530.7" r="3.4"/><circle cx="625.5" cy="526.9" r="3.4"/><circle cx="570.4" cy="576.3" r="3.4"/><circle cx="523.1" cy="567.3" r="3.4"/><circle cx="584.6" cy="546.7" r="3.4"/><circle cx="636.1" cy="539.6" r="3.4"/><circle cx="586.1" cy="558.6" r="3.4"/><circle cx="586" cy="561.6" r="3.4"/><circle cx="562.6" cy="582.8" r="3.4"/><circle cx="467.1" cy="663.5" r="3.4"/><circle cx="577.8" cy="539.7" r="3.4"/><circle cx="632" cy="525.4" r="3.4"/><circle cx="595.5" cy="509" r="3.4"/><circle cx="631.4" cy="524.3" r="3.4"/><circle cx="599" cy="528.9" r="3.4"/><circle cx="609.8" cy="544.6" r="3.4"/><circle cx="589.6" cy="527.5" r="3.4"/><circle cx="604.1" cy="540.4" r="3.4"/><circle cx="624.5" cy="575.8" r="3.4"/><circle cx="650.9" cy="517.5" r="3.4"/><circle cx="643.9" cy="509.6" r="3.4"/><circle cx="550.9" cy="528.6" r="3.4"/><circle cx="644.8" cy="551.6" r="3.4"/><circle cx="571.7" cy="590.4" r="3.4"/><circle cx="591.2" cy="513.4" r="3.4"/><circle cx="594.4" cy="565.5" r="3.4"/><circle cx="598.3" cy="514.6" r="3.4"/><circle cx="578.6" cy="537.9" r="3.4"/><circle cx="566.8" cy="538.9" r="3.4"/><circle cx="612.2" cy="581.3" r="3.4"/><circle cx="591.7" cy="555.5" r="3.4"/><circle cx="630.9" cy="548.8" r="3.4"/><circle cx="646.5" cy="532.5" r="3.4"/><circle cx="649.7" cy="524.5" r="3.4"/><circle cx="556.2" cy="562.3" r="3.4"/><circle cx="522.9" cy="589.5" r="3.4"/><circle cx="625.5" cy="517.6" r="3.4"/><circle cx="580.7" cy="557.1" r="3.4"/><circle cx="503" cy="597.8" r="3.4"/><circle cx="565.1" cy="581.7" r="3.4"/><circle cx="541" cy="562.7" r="3.4"/><circle cx="597.3" cy="591.3" r="3.4"/><circle cx="636.9" cy="550" r="3.4"/><circle cx="570" cy="584.8" r="3.4"/><circle cx="594.9" cy="587" r="3.4"/><circle cx="625.3" cy="525.4" r="3.4"/><circle cx="614.8" cy="515.6" r="3.4"/><circle cx="518.2" cy="589.6" r="3.4"/><circle cx="523.3" cy="549.2" r="3.4"/><circle cx="430.1" cy="663.5" r="3.4"/><circle cx="433.5" cy="669.6" r="3.4"/><circle cx="453.8" cy="675.4" r="3.4"/><circle cx="475.8" cy="666.9" r="3.4"/><circle cx="496.1" cy="669.6" r="3.4"/><circle cx="455.1" cy="635.2" r="3.4"/><circle cx="458.4" cy="630.7" r="3.4"/><circle cx="471.6" cy="626.2" r="3.4"/><circle cx="475.8" cy="645.4" r="3.4"/><circle cx="484.1" cy="637.9" r="3.4"/><circle cx="475.8" cy="614.9" r="3.4"/><circle cx="471.6" cy="596.8" r="3.4"/><circle cx="471.6" cy="567.4" r="3.4"/><circle cx="492.4" cy="646.5" r="3.4"/><circle cx="504.8" cy="651" r="3.4"/><circle cx="482" cy="655.6" r="3.4"/><circle cx="488.2" cy="648.8" r="3.4"/><circle cx="467.5" cy="628.4" r="3.4"/><circle cx="469.6" cy="633" r="3.4"/></g>
<g fill="#5a16b2"><circle cx="613.2" cy="556.6" r="1.65"/><circle cx="539.9" cy="576.4" r="1.65"/><circle cx="647.2" cy="530.9" r="1.65"/><circle cx="638.5" cy="503.6" r="1.65"/><circle cx="625.9" cy="525.6" r="1.65"/><circle cx="612.4" cy="531.6" r="1.65"/><circle cx="647.8" cy="540.5" r="1.65"/><circle cx="559.2" cy="539.1" r="1.65"/><circle cx="628.2" cy="544.2" r="1.65"/><circle cx="561.1" cy="600.3" r="1.65"/><circle cx="531.8" cy="598.7" r="1.65"/><circle cx="582.9" cy="525.9" r="1.65"/><circle cx="556" cy="544.4" r="1.65"/><circle cx="616.5" cy="535.2" r="1.65"/><circle cx="655.5" cy="514.4" r="1.65"/><circle cx="478.7" cy="611.6" r="1.65"/><circle cx="581.3" cy="571" r="1.65"/><circle cx="535.4" cy="588.9" r="1.65"/><circle cx="635.4" cy="515.7" r="1.65"/><circle cx="491.8" cy="573.2" r="1.65"/><circle cx="631.9" cy="527" r="1.65"/><circle cx="587.4" cy="574.3" r="1.65"/><circle cx="547.7" cy="619.7" r="1.65"/><circle cx="459.3" cy="655.3" r="1.65"/><circle cx="562.8" cy="548.4" r="1.65"/><circle cx="523.9" cy="579.6" r="1.65"/><circle cx="587.7" cy="578.8" r="1.65"/><circle cx="607.4" cy="532.6" r="1.65"/><circle cx="613" cy="525.6" r="1.65"/><circle cx="516.3" cy="626.6" r="1.65"/><circle cx="652.2" cy="537.3" r="1.65"/><circle cx="605.6" cy="536.9" r="1.65"/><circle cx="602" cy="593.4" r="1.65"/><circle cx="540" cy="558.6" r="1.65"/><circle cx="566.1" cy="530.5" r="1.65"/><circle cx="625.6" cy="534" r="1.65"/><circle cx="589" cy="550.2" r="1.65"/><circle cx="539" cy="614.4" r="1.65"/><circle cx="580" cy="526.8" r="1.65"/><circle cx="532" cy="593.7" r="1.65"/><circle cx="629.5" cy="528.8" r="1.65"/><circle cx="612.4" cy="513.5" r="1.65"/><circle cx="609.1" cy="530.7" r="1.65"/><circle cx="634.2" cy="514.1" r="1.65"/><circle cx="571.3" cy="560.3" r="1.65"/><circle cx="624.4" cy="562.3" r="1.65"/><circle cx="621" cy="530.7" r="1.65"/><circle cx="626.4" cy="543.1" r="1.65"/><circle cx="647.1" cy="526.3" r="1.65"/><circle cx="640.7" cy="540.6" r="1.65"/><circle cx="499.9" cy="614" r="1.65"/><circle cx="603.3" cy="544.8" r="1.65"/><circle cx="611.4" cy="541.7" r="1.65"/><circle cx="537" cy="580.9" r="1.65"/><circle cx="633.1" cy="527.8" r="1.65"/><circle cx="584" cy="579.5" r="1.65"/><circle cx="632" cy="521.8" r="1.65"/><circle cx="546.8" cy="573.3" r="1.65"/><circle cx="583.3" cy="543.4" r="1.65"/><circle cx="575.2" cy="584" r="1.65"/><circle cx="605.4" cy="516.6" r="1.65"/><circle cx="596.1" cy="547.5" r="1.65"/><circle cx="525.6" cy="579.3" r="1.65"/><circle cx="525.9" cy="628.6" r="1.65"/><circle cx="547.2" cy="615" r="1.65"/><circle cx="570.8" cy="575.8" r="1.65"/><circle cx="482.7" cy="583.7" r="1.65"/><circle cx="617.6" cy="515.9" r="1.65"/><circle cx="609" cy="512.2" r="1.65"/><circle cx="565.2" cy="558" r="1.65"/><circle cx="510.9" cy="614.9" r="1.65"/><circle cx="603.5" cy="553.8" r="1.65"/><circle cx="644.4" cy="536.4" r="1.65"/><circle cx="632.6" cy="540.4" r="1.65"/><circle cx="596.4" cy="511.5" r="1.65"/><circle cx="536.5" cy="561.9" r="1.65"/><circle cx="635.5" cy="514.4" r="1.65"/><circle cx="622.9" cy="527.4" r="1.65"/><circle cx="597.6" cy="550" r="1.65"/><circle cx="653.8" cy="530.1" r="1.65"/><circle cx="616.1" cy="511.6" r="1.65"/><circle cx="505.1" cy="587.3" r="1.65"/><circle cx="600.6" cy="571.3" r="1.65"/><circle cx="634.1" cy="513.2" r="1.65"/><circle cx="646.8" cy="543.1" r="1.65"/><circle cx="617.1" cy="535.1" r="1.65"/><circle cx="516.2" cy="642.6" r="1.65"/><circle cx="664.2" cy="518.3" r="1.65"/><circle cx="552.6" cy="587.6" r="1.65"/><circle cx="566.9" cy="542.5" r="1.65"/><circle cx="566.9" cy="525.2" r="1.65"/><circle cx="528.5" cy="582" r="1.65"/><circle cx="571.6" cy="572.8" r="1.65"/><circle cx="631.1" cy="529.4" r="1.65"/><circle cx="560" cy="597.9" r="1.65"/><circle cx="536.3" cy="554.2" r="1.65"/><circle cx="567.5" cy="561.3" r="1.65"/><circle cx="583.9" cy="544" r="1.65"/><circle cx="533" cy="585" r="1.65"/><circle cx="618.5" cy="553" r="1.65"/><circle cx="507.3" cy="616.2" r="1.65"/><circle cx="617.3" cy="552.4" r="1.65"/><circle cx="549.7" cy="581.2" r="1.65"/><circle cx="571.7" cy="584.6" r="1.65"/><circle cx="606.4" cy="510" r="1.65"/><circle cx="583.4" cy="589" r="1.65"/><circle cx="650.9" cy="541.3" r="1.65"/><circle cx="590.9" cy="589.8" r="1.65"/><circle cx="508.3" cy="587.8" r="1.65"/><circle cx="600.8" cy="513.4" r="1.65"/><circle cx="569.5" cy="548.2" r="1.65"/><circle cx="598.6" cy="519.5" r="1.65"/><circle cx="617.2" cy="542.7" r="1.65"/><circle cx="650.2" cy="541.5" r="1.65"/><circle cx="500.4" cy="602.6" r="1.65"/><circle cx="596.2" cy="518.7" r="1.65"/><circle cx="582.1" cy="589.9" r="1.65"/><circle cx="605.1" cy="523.3" r="1.65"/><circle cx="577.4" cy="522.5" r="1.65"/><circle cx="645.6" cy="508.6" r="1.65"/><circle cx="600.4" cy="582.9" r="1.65"/><circle cx="615.9" cy="535.8" r="1.65"/><circle cx="633.7" cy="524.6" r="1.65"/><circle cx="472.8" cy="650.5" r="1.65"/><circle cx="630.5" cy="500.3" r="1.65"/><circle cx="569.8" cy="557.6" r="1.65"/><circle cx="600.8" cy="569.7" r="1.65"/><circle cx="543.5" cy="548.8" r="1.65"/><circle cx="556.9" cy="614" r="1.65"/><circle cx="562.7" cy="548.3" r="1.65"/><circle cx="613.7" cy="505.8" r="1.65"/><circle cx="633.9" cy="544.4" r="1.65"/><circle cx="574.6" cy="538.6" r="1.65"/><circle cx="589.1" cy="530.8" r="1.65"/><circle cx="617.2" cy="547.2" r="1.65"/><circle cx="566" cy="548" r="1.65"/><circle cx="658.1" cy="520.7" r="1.65"/><circle cx="637.8" cy="517.9" r="1.65"/><circle cx="542.6" cy="562" r="1.65"/><circle cx="484.1" cy="579.9" r="1.65"/><circle cx="560" cy="545.7" r="1.65"/><circle cx="556" cy="587.3" r="1.65"/><circle cx="609.6" cy="547.8" r="1.65"/><circle cx="599.4" cy="544.4" r="1.65"/><circle cx="611.5" cy="530.5" r="1.65"/><circle cx="567" cy="539.5" r="1.65"/><circle cx="639.2" cy="527.6" r="1.65"/><circle cx="593.7" cy="557.5" r="1.65"/><circle cx="646.7" cy="515.9" r="1.65"/><circle cx="593.2" cy="513" r="1.65"/><circle cx="616.4" cy="554" r="1.65"/><circle cx="626.6" cy="505.3" r="1.65"/><circle cx="633.8" cy="507.1" r="1.65"/><circle cx="530" cy="584.1" r="1.65"/><circle cx="618.7" cy="515.4" r="1.65"/><circle cx="480.9" cy="571.1" r="1.65"/><circle cx="577.1" cy="530.9" r="1.65"/><circle cx="562" cy="570.5" r="1.65"/><circle cx="592.6" cy="517" r="1.65"/><circle cx="573.4" cy="588.1" r="1.65"/><circle cx="607" cy="507.4" r="1.65"/><circle cx="532.9" cy="547.7" r="1.65"/><circle cx="622.9" cy="523.1" r="1.65"/><circle cx="635.4" cy="562.2" r="1.65"/><circle cx="621.2" cy="522.5" r="1.65"/><circle cx="557.7" cy="558.2" r="1.65"/><circle cx="606.2" cy="560.2" r="1.65"/><circle cx="553.9" cy="588" r="1.65"/><circle cx="566.2" cy="547.4" r="1.65"/><circle cx="571" cy="536" r="1.65"/><circle cx="645.8" cy="541.7" r="1.65"/><circle cx="640.7" cy="528.6" r="1.65"/><circle cx="491.7" cy="568.5" r="1.65"/><circle cx="610.6" cy="548.3" r="1.65"/><circle cx="547.9" cy="574.4" r="1.65"/><circle cx="589.4" cy="551.5" r="1.65"/><circle cx="550.4" cy="565.7" r="1.65"/><circle cx="527.9" cy="600.6" r="1.65"/><circle cx="588.9" cy="587.3" r="1.65"/><circle cx="535.4" cy="598.4" r="1.65"/><circle cx="502.1" cy="575" r="1.65"/><circle cx="533.8" cy="558.4" r="1.65"/><circle cx="577.6" cy="534.2" r="1.65"/><circle cx="537.4" cy="603.2" r="1.65"/><circle cx="633.5" cy="565.2" r="1.65"/><circle cx="622.7" cy="535.3" r="1.65"/><circle cx="488.9" cy="606.4" r="1.65"/><circle cx="534.4" cy="560.7" r="1.65"/><circle cx="640.7" cy="517.5" r="1.65"/><circle cx="635.3" cy="531" r="1.65"/><circle cx="582.6" cy="560.1" r="1.65"/><circle cx="613.9" cy="515.8" r="1.65"/><circle cx="591.2" cy="521.2" r="1.65"/><circle cx="537.3" cy="549" r="1.65"/><circle cx="604.5" cy="507" r="1.65"/><circle cx="608.6" cy="541.1" r="1.65"/><circle cx="560.6" cy="526" r="1.65"/><circle cx="603.1" cy="523.4" r="1.65"/><circle cx="489.1" cy="573.8" r="1.65"/><circle cx="617.8" cy="521.5" r="1.65"/><circle cx="583.5" cy="545.8" r="1.65"/><circle cx="602.9" cy="511.4" r="1.65"/><circle cx="621.6" cy="572.6" r="1.65"/><circle cx="642.9" cy="538.4" r="1.65"/><circle cx="630" cy="512.4" r="1.65"/><circle cx="617.4" cy="568" r="1.65"/><circle cx="582.8" cy="529" r="1.65"/><circle cx="582.7" cy="515.3" r="1.65"/><circle cx="591.5" cy="516" r="1.65"/><circle cx="467.8" cy="607.1" r="1.65"/><circle cx="600.5" cy="509.5" r="1.65"/><circle cx="570.7" cy="609.1" r="1.65"/><circle cx="619.4" cy="552.9" r="1.65"/><circle cx="538.2" cy="549.6" r="1.65"/><circle cx="637.4" cy="560.2" r="1.65"/><circle cx="620.6" cy="521.4" r="1.65"/><circle cx="572.9" cy="563.8" r="1.65"/><circle cx="552.2" cy="581.3" r="1.65"/><circle cx="550.1" cy="541.9" r="1.65"/><circle cx="526.9" cy="565" r="1.65"/><circle cx="608.4" cy="522.4" r="1.65"/><circle cx="608.2" cy="512.2" r="1.65"/><circle cx="618" cy="532.5" r="1.65"/><circle cx="630.2" cy="517.7" r="1.65"/><circle cx="521.9" cy="575.9" r="1.65"/><circle cx="562.1" cy="529.6" r="1.65"/><circle cx="524" cy="591.5" r="1.65"/><circle cx="606.5" cy="548.5" r="1.65"/><circle cx="624.4" cy="534.9" r="1.65"/><circle cx="561.4" cy="543.3" r="1.65"/><circle cx="625.2" cy="551.4" r="1.65"/><circle cx="581.9" cy="532.3" r="1.65"/><circle cx="488.3" cy="639.9" r="1.65"/><circle cx="590.9" cy="538.2" r="1.65"/><circle cx="493.5" cy="621.1" r="1.65"/><circle cx="584.7" cy="523.4" r="1.65"/><circle cx="560.2" cy="599.1" r="1.65"/><circle cx="616.6" cy="550.3" r="1.65"/><circle cx="619.4" cy="513.2" r="1.65"/><circle cx="591.1" cy="584" r="1.65"/><circle cx="472.3" cy="657.9" r="1.65"/><circle cx="517.7" cy="614" r="1.65"/><circle cx="610.9" cy="517.1" r="1.65"/><circle cx="570.7" cy="554.2" r="1.65"/><circle cx="606.4" cy="544.7" r="1.65"/><circle cx="627" cy="543" r="1.65"/><circle cx="572.1" cy="595.6" r="1.65"/><circle cx="612" cy="564" r="1.65"/><circle cx="602.1" cy="537.8" r="1.65"/><circle cx="597.1" cy="545.5" r="1.65"/><circle cx="507.2" cy="553.1" r="1.65"/><circle cx="570.4" cy="573.8" r="1.65"/><circle cx="589" cy="537.1" r="1.65"/><circle cx="642" cy="518.8" r="1.65"/><circle cx="521.7" cy="597.5" r="1.65"/><circle cx="630.7" cy="505.9" r="1.65"/><circle cx="581.5" cy="528" r="1.65"/><circle cx="574.8" cy="545.1" r="1.65"/><circle cx="545.5" cy="610.9" r="1.65"/><circle cx="628.9" cy="559.1" r="1.65"/><circle cx="574.4" cy="563" r="1.65"/><circle cx="574.4" cy="575.9" r="1.65"/><circle cx="558.1" cy="548.4" r="1.65"/><circle cx="535.1" cy="594.1" r="1.65"/><circle cx="595.7" cy="587.6" r="1.65"/><circle cx="620.1" cy="503.2" r="1.65"/><circle cx="552.6" cy="585.1" r="1.65"/><circle cx="612.7" cy="540.4" r="1.65"/><circle cx="574.8" cy="544.1" r="1.65"/><circle cx="605.8" cy="548.3" r="1.65"/><circle cx="478.9" cy="615.3" r="1.65"/><circle cx="517.6" cy="608.8" r="1.65"/><circle cx="506.8" cy="550.7" r="1.65"/><circle cx="482.9" cy="609" r="1.65"/><circle cx="622.7" cy="518.4" r="1.65"/><circle cx="624.3" cy="537.4" r="1.65"/><circle cx="534.6" cy="601.2" r="1.65"/><circle cx="607.4" cy="548.5" r="1.65"/><circle cx="609.5" cy="538.8" r="1.65"/><circle cx="562" cy="590.6" r="1.65"/><circle cx="583.1" cy="521.8" r="1.65"/><circle cx="562.4" cy="541.6" r="1.65"/><circle cx="577.1" cy="559.6" r="1.65"/><circle cx="555.6" cy="577.9" r="1.65"/><circle cx="562.4" cy="617.7" r="1.65"/><circle cx="575.5" cy="519.3" r="1.65"/><circle cx="624.5" cy="547.7" r="1.65"/><circle cx="613.8" cy="510" r="1.65"/><circle cx="642.6" cy="527.8" r="1.65"/><circle cx="548.8" cy="549.1" r="1.65"/><circle cx="608.7" cy="541.2" r="1.65"/><circle cx="594.1" cy="591.3" r="1.65"/><circle cx="520.7" cy="576.7" r="1.65"/><circle cx="593" cy="528.8" r="1.65"/><circle cx="583.7" cy="513" r="1.65"/><circle cx="639.6" cy="513" r="1.65"/><circle cx="527" cy="629.5" r="1.65"/><circle cx="599.6" cy="535.4" r="1.65"/><circle cx="636.3" cy="536.6" r="1.65"/><circle cx="656.9" cy="524.3" r="1.65"/><circle cx="611.5" cy="514.9" r="1.65"/><circle cx="507.4" cy="570" r="1.65"/><circle cx="631.3" cy="542.3" r="1.65"/><circle cx="557.5" cy="537.3" r="1.65"/><circle cx="513" cy="558.9" r="1.65"/><circle cx="549.8" cy="581.4" r="1.65"/><circle cx="573.5" cy="542.8" r="1.65"/><circle cx="601.7" cy="546.7" r="1.65"/><circle cx="610.8" cy="505" r="1.65"/><circle cx="515.9" cy="594.1" r="1.65"/><circle cx="534.9" cy="561.9" r="1.65"/><circle cx="644.4" cy="547.9" r="1.65"/><circle cx="570.5" cy="525.9" r="1.65"/><circle cx="494" cy="594.3" r="1.65"/><circle cx="515.9" cy="587.7" r="1.65"/><circle cx="591.6" cy="526" r="1.65"/><circle cx="567.9" cy="587.7" r="1.65"/><circle cx="486.1" cy="607.2" r="1.65"/><circle cx="574.4" cy="585.9" r="1.65"/><circle cx="571.6" cy="550.4" r="1.65"/><circle cx="537.3" cy="629.1" r="1.65"/><circle cx="473.6" cy="634.7" r="1.65"/><circle cx="596" cy="546.3" r="1.65"/><circle cx="522.9" cy="603.6" r="1.65"/><circle cx="590.2" cy="572.4" r="1.65"/><circle cx="595.4" cy="579" r="1.65"/><circle cx="625" cy="531.5" r="1.65"/><circle cx="654.3" cy="509.7" r="1.65"/><circle cx="623.5" cy="538.6" r="1.65"/><circle cx="607.6" cy="572.4" r="1.65"/><circle cx="607.9" cy="544" r="1.65"/><circle cx="587.4" cy="547.2" r="1.65"/><circle cx="645.7" cy="545.4" r="1.65"/><circle cx="617.5" cy="504.5" r="1.65"/><circle cx="535.9" cy="534.4" r="1.65"/><circle cx="627.1" cy="530.5" r="1.65"/><circle cx="547.1" cy="532.8" r="1.65"/><circle cx="602.3" cy="550.2" r="1.65"/><circle cx="520.8" cy="603.6" r="1.65"/><circle cx="610.9" cy="516.2" r="1.65"/><circle cx="578.9" cy="520.7" r="1.65"/><circle cx="564.4" cy="526.3" r="1.65"/><circle cx="600" cy="544.7" r="1.65"/><circle cx="493.3" cy="629.6" r="1.65"/><circle cx="600.4" cy="558.9" r="1.65"/><circle cx="571.5" cy="588.8" r="1.65"/><circle cx="637.7" cy="544.1" r="1.65"/><circle cx="586.8" cy="602.7" r="1.65"/><circle cx="535.6" cy="539" r="1.65"/><circle cx="602.2" cy="537.8" r="1.65"/><circle cx="508.9" cy="639.3" r="1.65"/><circle cx="559.6" cy="540.8" r="1.65"/><circle cx="616.2" cy="520.9" r="1.65"/><circle cx="564.9" cy="556.8" r="1.65"/><circle cx="563.5" cy="567.5" r="1.65"/><circle cx="494.6" cy="580.2" r="1.65"/><circle cx="612.4" cy="520.2" r="1.65"/><circle cx="611.9" cy="526" r="1.65"/><circle cx="550.6" cy="565.5" r="1.65"/><circle cx="609.5" cy="529.5" r="1.65"/><circle cx="585.5" cy="577.8" r="1.65"/><circle cx="565.5" cy="578" r="1.65"/><circle cx="598.3" cy="510" r="1.65"/><circle cx="540.8" cy="617.2" r="1.65"/><circle cx="607.3" cy="540.5" r="1.65"/><circle cx="487.5" cy="598.4" r="1.65"/><circle cx="658.8" cy="543.2" r="1.65"/><circle cx="576" cy="543" r="1.65"/><circle cx="608.5" cy="557.7" r="1.65"/><circle cx="649.9" cy="525.7" r="1.65"/><circle cx="636.3" cy="552.9" r="1.65"/><circle cx="598" cy="549.9" r="1.65"/><circle cx="632.4" cy="556.8" r="1.65"/><circle cx="551.3" cy="539.8" r="1.65"/><circle cx="587.6" cy="576.9" r="1.65"/><circle cx="522.7" cy="584.6" r="1.65"/><circle cx="582.4" cy="520.5" r="1.65"/><circle cx="619.2" cy="537.6" r="1.65"/><circle cx="575.2" cy="589" r="1.65"/><circle cx="573" cy="556.5" r="1.65"/><circle cx="603.2" cy="562.8" r="1.65"/><circle cx="550.2" cy="560.6" r="1.65"/><circle cx="587.2" cy="519.2" r="1.65"/><circle cx="469.6" cy="644.3" r="1.65"/><circle cx="604.7" cy="512.8" r="1.65"/><circle cx="652.5" cy="512.9" r="1.65"/><circle cx="590.5" cy="576.6" r="1.65"/><circle cx="622.7" cy="514.2" r="1.65"/><circle cx="601.2" cy="544.2" r="1.65"/><circle cx="639.8" cy="540.6" r="1.65"/><circle cx="581.4" cy="553.3" r="1.65"/><circle cx="628.1" cy="574.2" r="1.65"/><circle cx="565.7" cy="558.2" r="1.65"/><circle cx="605.7" cy="525.3" r="1.65"/><circle cx="599.7" cy="533.3" r="1.65"/><circle cx="626.7" cy="524.3" r="1.65"/><circle cx="619.9" cy="552" r="1.65"/><circle cx="550.7" cy="552.9" r="1.65"/><circle cx="541.9" cy="586.1" r="1.65"/><circle cx="604.1" cy="530.2" r="1.65"/><circle cx="584.3" cy="540.2" r="1.65"/><circle cx="530.6" cy="558.6" r="1.65"/><circle cx="606.3" cy="546.7" r="1.65"/><circle cx="526.4" cy="559.6" r="1.65"/><circle cx="601.1" cy="537.3" r="1.65"/><circle cx="586.4" cy="517.7" r="1.65"/><circle cx="504.4" cy="595.3" r="1.65"/><circle cx="583.2" cy="551.9" r="1.65"/><circle cx="584.9" cy="563.4" r="1.65"/><circle cx="591.3" cy="537.9" r="1.65"/><circle cx="566.2" cy="524" r="1.65"/><circle cx="631.2" cy="546.1" r="1.65"/><circle cx="488.5" cy="627.7" r="1.65"/><circle cx="453.4" cy="661.2" r="1.65"/><circle cx="502.2" cy="623.5" r="1.65"/><circle cx="545.9" cy="531.2" r="1.65"/><circle cx="631.5" cy="567.4" r="1.65"/><circle cx="590.9" cy="525.2" r="1.65"/><circle cx="618.4" cy="521.6" r="1.65"/><circle cx="628.3" cy="540.6" r="1.65"/><circle cx="567.6" cy="590.3" r="1.65"/><circle cx="618.8" cy="510.7" r="1.65"/><circle cx="588" cy="551.5" r="1.65"/><circle cx="627.3" cy="534.9" r="1.65"/><circle cx="529.8" cy="609.2" r="1.65"/><circle cx="547.9" cy="555.1" r="1.65"/><circle cx="580.4" cy="530.9" r="1.65"/><circle cx="563.2" cy="606" r="1.65"/><circle cx="572.5" cy="547" r="1.65"/><circle cx="603" cy="536.4" r="1.65"/><circle cx="625" cy="516.1" r="1.65"/><circle cx="568.1" cy="546.8" r="1.65"/><circle cx="598.8" cy="552.7" r="1.65"/><circle cx="646.5" cy="510.2" r="1.65"/><circle cx="571.4" cy="555.4" r="1.65"/><circle cx="592.8" cy="540.7" r="1.65"/><circle cx="635" cy="534.7" r="1.65"/><circle cx="591.8" cy="562.9" r="1.65"/><circle cx="594" cy="578.3" r="1.65"/><circle cx="553.2" cy="545.5" r="1.65"/><circle cx="589.1" cy="549.9" r="1.65"/><circle cx="621.6" cy="531.3" r="1.65"/><circle cx="506.3" cy="562.4" r="1.65"/><circle cx="466.8" cy="596" r="1.65"/><circle cx="590.6" cy="520.8" r="1.65"/><circle cx="607.8" cy="550.7" r="1.65"/><circle cx="619.2" cy="505.6" r="1.65"/><circle cx="493.4" cy="626.7" r="1.65"/><circle cx="577.6" cy="572.8" r="1.65"/><circle cx="651.8" cy="517.2" r="1.65"/><circle cx="652.2" cy="522.2" r="1.65"/><circle cx="509.3" cy="542.6" r="1.65"/><circle cx="530.1" cy="590.2" r="1.65"/><circle cx="640.3" cy="503.7" r="1.65"/><circle cx="635.9" cy="524.4" r="1.65"/><circle cx="534.8" cy="540.5" r="1.65"/><circle cx="539.7" cy="598" r="1.65"/><circle cx="647.6" cy="539.8" r="1.65"/><circle cx="586" cy="554.5" r="1.65"/><circle cx="661.8" cy="525.2" r="1.65"/><circle cx="617.9" cy="561.2" r="1.65"/><circle cx="531.9" cy="557.5" r="1.65"/><circle cx="561" cy="557.6" r="1.65"/><circle cx="592.2" cy="574.2" r="1.65"/><circle cx="605.9" cy="520.3" r="1.65"/><circle cx="521" cy="577" r="1.65"/><circle cx="536.8" cy="607.9" r="1.65"/><circle cx="611.7" cy="513.4" r="1.65"/><circle cx="592.8" cy="525.6" r="1.65"/><circle cx="600.2" cy="525" r="1.65"/><circle cx="481.6" cy="668.6" r="1.65"/><circle cx="592.4" cy="519.9" r="1.65"/><circle cx="596.3" cy="542.9" r="1.65"/><circle cx="609.7" cy="546.6" r="1.65"/><circle cx="606.8" cy="557.8" r="1.65"/><circle cx="535.4" cy="616.9" r="1.65"/><circle cx="612.3" cy="538.2" r="1.65"/><circle cx="553.4" cy="617.5" r="1.65"/><circle cx="621.7" cy="542.7" r="1.65"/><circle cx="597.7" cy="522.6" r="1.65"/><circle cx="534.3" cy="615.1" r="1.65"/><circle cx="603" cy="517.2" r="1.65"/><circle cx="565.7" cy="566.9" r="1.65"/><circle cx="514.7" cy="613.2" r="1.65"/><circle cx="611.9" cy="562.5" r="1.65"/><circle cx="512.3" cy="596.2" r="1.65"/><circle cx="641" cy="538.4" r="1.65"/><circle cx="601.5" cy="536.4" r="1.65"/><circle cx="523.4" cy="621.2" r="1.65"/><circle cx="602.2" cy="539.4" r="1.65"/><circle cx="610.8" cy="529.8" r="1.65"/><circle cx="593.3" cy="532.6" r="1.65"/><circle cx="583.3" cy="521.5" r="1.65"/><circle cx="565.8" cy="600.2" r="1.65"/><circle cx="593.5" cy="575.7" r="1.65"/><circle cx="634.2" cy="517.7" r="1.65"/><circle cx="603.4" cy="544.4" r="1.65"/><circle cx="643.7" cy="503.9" r="1.65"/><circle cx="511.8" cy="610.8" r="1.65"/><circle cx="595" cy="576.3" r="1.65"/><circle cx="607.7" cy="561.6" r="1.65"/><circle cx="599.5" cy="509.3" r="1.65"/><circle cx="552.9" cy="559.8" r="1.65"/><circle cx="603.1" cy="529.6" r="1.65"/><circle cx="607.2" cy="535.8" r="1.65"/><circle cx="603" cy="570.5" r="1.65"/><circle cx="523.5" cy="571.3" r="1.65"/><circle cx="620.1" cy="546.4" r="1.65"/><circle cx="580.8" cy="574.7" r="1.65"/><circle cx="660.5" cy="527.7" r="1.65"/><circle cx="645.2" cy="523.4" r="1.65"/><circle cx="557.3" cy="584.8" r="1.65"/><circle cx="639.7" cy="508.3" r="1.65"/><circle cx="525.6" cy="592.8" r="1.65"/><circle cx="554.9" cy="542.6" r="1.65"/><circle cx="641.7" cy="503.9" r="1.65"/><circle cx="616.5" cy="530.8" r="1.65"/><circle cx="629.7" cy="529.7" r="1.65"/><circle cx="604.5" cy="587.3" r="1.65"/><circle cx="589.3" cy="511.9" r="1.65"/><circle cx="627.7" cy="514.2" r="1.65"/><circle cx="659.6" cy="536.6" r="1.65"/><circle cx="622.4" cy="506.1" r="1.65"/><circle cx="600.1" cy="532.3" r="1.65"/><circle cx="520.5" cy="588.7" r="1.65"/><circle cx="531.3" cy="584.4" r="1.65"/><circle cx="600.4" cy="509.2" r="1.65"/><circle cx="579.8" cy="550.3" r="1.65"/><circle cx="639.4" cy="540.9" r="1.65"/><circle cx="621.1" cy="518.5" r="1.65"/><circle cx="623.5" cy="520.9" r="1.65"/><circle cx="535.3" cy="584.3" r="1.65"/><circle cx="595.8" cy="511.1" r="1.65"/><circle cx="632" cy="542.3" r="1.65"/><circle cx="623.2" cy="554" r="1.65"/><circle cx="612.8" cy="519.6" r="1.65"/><circle cx="537.2" cy="538.3" r="1.65"/><circle cx="602.7" cy="569.5" r="1.65"/><circle cx="615.9" cy="550.2" r="1.65"/><circle cx="611.3" cy="527.4" r="1.65"/><circle cx="539" cy="560.6" r="1.65"/><circle cx="556.4" cy="573.4" r="1.65"/><circle cx="592" cy="574.2" r="1.65"/><circle cx="539.5" cy="542.2" r="1.65"/><circle cx="596.6" cy="550.3" r="1.65"/><circle cx="520.5" cy="576.9" r="1.65"/><circle cx="571.1" cy="568.2" r="1.65"/><circle cx="641.6" cy="530.7" r="1.65"/><circle cx="599" cy="523.7" r="1.65"/><circle cx="513.4" cy="556.9" r="1.65"/><circle cx="619.6" cy="537.8" r="1.65"/><circle cx="635.6" cy="525" r="1.65"/><circle cx="627" cy="507.1" r="1.65"/><circle cx="660.3" cy="523.2" r="1.65"/><circle cx="583.3" cy="585.7" r="1.65"/><circle cx="580.6" cy="542.3" r="1.65"/><circle cx="634.3" cy="543.4" r="1.65"/><circle cx="534.5" cy="584.2" r="1.65"/><circle cx="614.4" cy="529.3" r="1.65"/><circle cx="592.7" cy="565.2" r="1.65"/><circle cx="630.3" cy="527.2" r="1.65"/><circle cx="635.4" cy="519" r="1.65"/><circle cx="610.4" cy="552" r="1.65"/><circle cx="582.1" cy="577.4" r="1.65"/><circle cx="543.3" cy="592.7" r="1.65"/><circle cx="606" cy="513.8" r="1.65"/><circle cx="490" cy="569.2" r="1.65"/><circle cx="649.9" cy="544.3" r="1.65"/><circle cx="611.6" cy="536" r="1.65"/><circle cx="521.4" cy="577.9" r="1.65"/><circle cx="578.5" cy="534.7" r="1.65"/><circle cx="525.2" cy="578.6" r="1.65"/><circle cx="599.5" cy="540.5" r="1.65"/><circle cx="593.8" cy="512.1" r="1.65"/><circle cx="609.2" cy="554.5" r="1.65"/><circle cx="604.6" cy="571.1" r="1.65"/><circle cx="566.2" cy="555.5" r="1.65"/><circle cx="603.2" cy="520.6" r="1.65"/><circle cx="616.9" cy="538.6" r="1.65"/><circle cx="621.2" cy="510.4" r="1.65"/><circle cx="598.6" cy="541.1" r="1.65"/><circle cx="565.8" cy="551" r="1.65"/><circle cx="625.7" cy="540.7" r="1.65"/><circle cx="591.2" cy="600.7" r="1.65"/><circle cx="617.7" cy="538" r="1.65"/><circle cx="591.2" cy="560.6" r="1.65"/><circle cx="619.6" cy="544.2" r="1.65"/><circle cx="611.2" cy="530.8" r="1.65"/><circle cx="628.1" cy="523.2" r="1.65"/><circle cx="613.5" cy="571" r="1.65"/><circle cx="620.6" cy="547.5" r="1.65"/><circle cx="614.4" cy="532.2" r="1.65"/><circle cx="593.1" cy="572.6" r="1.65"/><circle cx="627.5" cy="536.6" r="1.65"/><circle cx="562.1" cy="584.5" r="1.65"/><circle cx="543.8" cy="578.8" r="1.65"/><circle cx="608.1" cy="546.5" r="1.65"/><circle cx="645.9" cy="531.9" r="1.65"/><circle cx="553.7" cy="573.2" r="1.65"/><circle cx="575.7" cy="527.8" r="1.65"/><circle cx="511" cy="545" r="1.65"/><circle cx="552.9" cy="588.7" r="1.65"/><circle cx="445.1" cy="656.8" r="1.65"/><circle cx="617.5" cy="523.3" r="1.65"/><circle cx="551.7" cy="562.1" r="1.65"/><circle cx="605.8" cy="529.6" r="1.65"/><circle cx="576.5" cy="558.7" r="1.65"/><circle cx="592" cy="535.6" r="1.65"/><circle cx="577.6" cy="582.1" r="1.65"/><circle cx="521.7" cy="624.8" r="1.65"/><circle cx="591.3" cy="567.3" r="1.65"/><circle cx="598.1" cy="531.1" r="1.65"/><circle cx="574.1" cy="532.1" r="1.65"/><circle cx="467.4" cy="629.6" r="1.65"/><circle cx="640.7" cy="500.8" r="1.65"/><circle cx="544.3" cy="594.7" r="1.65"/><circle cx="503.4" cy="563.5" r="1.65"/><circle cx="551.7" cy="620.6" r="1.65"/><circle cx="627" cy="536.4" r="1.65"/><circle cx="477.5" cy="625.7" r="1.65"/><circle cx="615.2" cy="531" r="1.65"/><circle cx="610.5" cy="530.8" r="1.65"/><circle cx="635.4" cy="522.3" r="1.65"/><circle cx="545.2" cy="614.4" r="1.65"/><circle cx="633.4" cy="560.8" r="1.65"/><circle cx="604" cy="549.4" r="1.65"/><circle cx="592.3" cy="594.2" r="1.65"/><circle cx="617" cy="571.6" r="1.65"/><circle cx="595.8" cy="547.9" r="1.65"/><circle cx="611" cy="541.7" r="1.65"/><circle cx="572.1" cy="533.2" r="1.65"/><circle cx="554.4" cy="567.2" r="1.65"/><circle cx="611.2" cy="547.5" r="1.65"/><circle cx="656.3" cy="546.3" r="1.65"/><circle cx="662.5" cy="531.1" r="1.65"/><circle cx="523.2" cy="546.3" r="1.65"/><circle cx="537.7" cy="590.5" r="1.65"/><circle cx="593.6" cy="526.4" r="1.65"/><circle cx="538.8" cy="573.5" r="1.65"/><circle cx="598" cy="549.1" r="1.65"/><circle cx="627.1" cy="544.6" r="1.65"/><circle cx="529.1" cy="581.4" r="1.65"/><circle cx="542.9" cy="551.5" r="1.65"/><circle cx="537" cy="609.7" r="1.65"/><circle cx="589.7" cy="544.7" r="1.65"/><circle cx="478.9" cy="621.4" r="1.65"/><circle cx="583.1" cy="576.7" r="1.65"/><circle cx="581.2" cy="542.1" r="1.65"/><circle cx="635.3" cy="513.6" r="1.65"/><circle cx="631.9" cy="559.9" r="1.65"/><circle cx="597.3" cy="520" r="1.65"/><circle cx="543.5" cy="617.5" r="1.65"/><circle cx="603" cy="568" r="1.65"/><circle cx="624.2" cy="553.1" r="1.65"/><circle cx="648.7" cy="522.1" r="1.65"/><circle cx="541.5" cy="561" r="1.65"/><circle cx="606.7" cy="543.3" r="1.65"/><circle cx="592.9" cy="512.8" r="1.65"/><circle cx="534.5" cy="584.1" r="1.65"/><circle cx="567.9" cy="598.4" r="1.65"/><circle cx="651.2" cy="536" r="1.65"/><circle cx="618.8" cy="563.3" r="1.65"/><circle cx="573.5" cy="561" r="1.65"/><circle cx="552.1" cy="609.5" r="1.65"/><circle cx="613.6" cy="548.9" r="1.65"/><circle cx="642.3" cy="522.2" r="1.65"/><circle cx="626.4" cy="522.9" r="1.65"/><circle cx="538.5" cy="574.6" r="1.65"/><circle cx="576.6" cy="582.4" r="1.65"/><circle cx="623.8" cy="528.6" r="1.65"/><circle cx="626.7" cy="535.8" r="1.65"/><circle cx="495.9" cy="626.1" r="1.65"/><circle cx="606.7" cy="538.7" r="1.65"/><circle cx="587.3" cy="536.3" r="1.65"/><circle cx="517.4" cy="604.8" r="1.65"/><circle cx="541.5" cy="561" r="1.65"/><circle cx="652.7" cy="529.3" r="1.65"/><circle cx="640.1" cy="554.6" r="1.65"/><circle cx="540.7" cy="561" r="1.65"/><circle cx="519.1" cy="624.8" r="1.65"/><circle cx="601.6" cy="512.9" r="1.65"/><circle cx="487.4" cy="637.6" r="1.65"/><circle cx="650.2" cy="521.9" r="1.65"/><circle cx="548" cy="609.9" r="1.65"/><circle cx="612.3" cy="542.7" r="1.65"/><circle cx="536.6" cy="581.7" r="1.65"/><circle cx="580.8" cy="547.2" r="1.65"/><circle cx="570.8" cy="529.9" r="1.65"/><circle cx="581.4" cy="566.8" r="1.65"/><circle cx="616.3" cy="550.4" r="1.65"/><circle cx="622.5" cy="527.2" r="1.65"/><circle cx="635.5" cy="524.2" r="1.65"/><circle cx="592.3" cy="512.2" r="1.65"/><circle cx="620.9" cy="514.3" r="1.65"/><circle cx="598.4" cy="566.5" r="1.65"/><circle cx="620.9" cy="528.7" r="1.65"/><circle cx="643.3" cy="516.4" r="1.65"/><circle cx="623" cy="550" r="1.65"/><circle cx="601.3" cy="538.3" r="1.65"/><circle cx="580.7" cy="572.5" r="1.65"/><circle cx="557.2" cy="580.1" r="1.65"/><circle cx="564.8" cy="533.4" r="1.65"/><circle cx="622.8" cy="527.1" r="1.65"/><circle cx="639.3" cy="544.4" r="1.65"/><circle cx="518.2" cy="564.1" r="1.65"/><circle cx="470.3" cy="601.8" r="1.65"/><circle cx="563.6" cy="550.4" r="1.65"/><circle cx="644.6" cy="550.3" r="1.65"/><circle cx="652.6" cy="521.7" r="1.65"/><circle cx="617.1" cy="512.2" r="1.65"/><circle cx="587.1" cy="546.6" r="1.65"/><circle cx="531.6" cy="540.2" r="1.65"/><circle cx="543" cy="591.5" r="1.65"/><circle cx="557" cy="548.4" r="1.65"/><circle cx="632.6" cy="516" r="1.65"/><circle cx="593.1" cy="548.1" r="1.65"/><circle cx="608.8" cy="549.5" r="1.65"/><circle cx="587.8" cy="571.4" r="1.65"/><circle cx="606.6" cy="521.7" r="1.65"/><circle cx="591.2" cy="522.3" r="1.65"/><circle cx="550.4" cy="563.1" r="1.65"/><circle cx="608.5" cy="512.3" r="1.65"/><circle cx="625.2" cy="530.3" r="1.65"/><circle cx="583.8" cy="580.4" r="1.65"/><circle cx="611.3" cy="565.6" r="1.65"/><circle cx="630.3" cy="536.5" r="1.65"/><circle cx="566.8" cy="544.1" r="1.65"/><circle cx="537.3" cy="588.3" r="1.65"/><circle cx="554.9" cy="540.4" r="1.65"/><circle cx="476.5" cy="642.5" r="1.65"/><circle cx="605" cy="555.3" r="1.65"/><circle cx="592.9" cy="559.5" r="1.65"/><circle cx="616.3" cy="540.1" r="1.65"/><circle cx="545.7" cy="557.4" r="1.65"/><circle cx="611.9" cy="518.5" r="1.65"/><circle cx="648.7" cy="530.3" r="1.65"/><circle cx="623.9" cy="534.6" r="1.65"/><circle cx="604.4" cy="554.2" r="1.65"/><circle cx="587.5" cy="523.4" r="1.65"/><circle cx="574.2" cy="524.5" r="1.65"/><circle cx="621.6" cy="568.4" r="1.65"/><circle cx="551.6" cy="531.8" r="1.65"/><circle cx="564.9" cy="546.4" r="1.65"/><circle cx="543.6" cy="547.5" r="1.65"/><circle cx="633.6" cy="551.8" r="1.65"/><circle cx="543.1" cy="605.9" r="1.65"/><circle cx="622" cy="549.5" r="1.65"/><circle cx="597.3" cy="514.1" r="1.65"/><circle cx="658.8" cy="507.5" r="1.65"/><circle cx="642.7" cy="515.7" r="1.65"/><circle cx="544.4" cy="546.2" r="1.65"/><circle cx="647.4" cy="508.7" r="1.65"/><circle cx="553.7" cy="585.6" r="1.65"/><circle cx="601.6" cy="519.8" r="1.65"/><circle cx="618.6" cy="519.8" r="1.65"/><circle cx="638" cy="536.4" r="1.65"/><circle cx="486.7" cy="639.8" r="1.65"/><circle cx="632.9" cy="518.8" r="1.65"/><circle cx="571.1" cy="608.8" r="1.65"/><circle cx="644.9" cy="507.5" r="1.65"/><circle cx="612.6" cy="541.4" r="1.65"/><circle cx="604.5" cy="542.1" r="1.65"/><circle cx="556.9" cy="571.8" r="1.65"/><circle cx="633.3" cy="527.6" r="1.65"/><circle cx="580.2" cy="551.3" r="1.65"/><circle cx="644.9" cy="552.5" r="1.65"/><circle cx="639.1" cy="504.9" r="1.65"/><circle cx="577.6" cy="524.9" r="1.65"/><circle cx="530" cy="621.2" r="1.65"/><circle cx="513.1" cy="601.5" r="1.65"/><circle cx="621" cy="537.6" r="1.65"/><circle cx="611.3" cy="552.7" r="1.65"/><circle cx="554.6" cy="573.7" r="1.65"/><circle cx="606.4" cy="519.7" r="1.65"/><circle cx="589.4" cy="542.2" r="1.65"/><circle cx="542.2" cy="606.9" r="1.65"/><circle cx="618.2" cy="517.1" r="1.65"/><circle cx="638.5" cy="538.7" r="1.65"/><circle cx="563.3" cy="579" r="1.65"/><circle cx="607.3" cy="530.7" r="1.65"/><circle cx="625.3" cy="521.5" r="1.65"/><circle cx="572.7" cy="575.4" r="1.65"/><circle cx="568.2" cy="536.9" r="1.65"/><circle cx="634" cy="528.1" r="1.65"/><circle cx="629.3" cy="514.4" r="1.65"/><circle cx="515.1" cy="581.3" r="1.65"/><circle cx="519.2" cy="575.5" r="1.65"/><circle cx="506.1" cy="542.9" r="1.65"/><circle cx="519.2" cy="575.1" r="1.65"/><circle cx="569.2" cy="573.9" r="1.65"/><circle cx="426.4" cy="621.6" r="1.65"/><circle cx="578.1" cy="568.1" r="1.65"/><circle cx="558.4" cy="558" r="1.65"/><circle cx="541.9" cy="618.8" r="1.65"/><circle cx="633.4" cy="547.6" r="1.65"/><circle cx="632.5" cy="536.6" r="1.65"/><circle cx="561.4" cy="571.8" r="1.65"/><circle cx="572.9" cy="567.8" r="1.65"/><circle cx="588.9" cy="566" r="1.65"/><circle cx="629.4" cy="511.1" r="1.65"/><circle cx="607.3" cy="533.5" r="1.65"/><circle cx="639.5" cy="546.6" r="1.65"/><circle cx="539.9" cy="562" r="1.65"/><circle cx="590.5" cy="524.3" r="1.65"/><circle cx="606.3" cy="526.7" r="1.65"/><circle cx="548.2" cy="541.1" r="1.65"/><circle cx="550" cy="583.5" r="1.65"/><circle cx="617.6" cy="507.3" r="1.65"/><circle cx="620" cy="509.8" r="1.65"/><circle cx="545.5" cy="547.7" r="1.65"/><circle cx="605.4" cy="553.4" r="1.65"/><circle cx="596.8" cy="561.2" r="1.65"/><circle cx="641" cy="511.7" r="1.65"/><circle cx="493.3" cy="600.4" r="1.65"/><circle cx="597.6" cy="513.3" r="1.65"/><circle cx="585.6" cy="538.8" r="1.65"/><circle cx="503.7" cy="541.2" r="1.65"/><circle cx="657.9" cy="512.1" r="1.65"/><circle cx="538.4" cy="540.5" r="1.65"/><circle cx="635.1" cy="537.8" r="1.65"/><circle cx="581.1" cy="587.4" r="1.65"/><circle cx="589.2" cy="543.9" r="1.65"/><circle cx="641.7" cy="518.5" r="1.65"/><circle cx="578" cy="541.5" r="1.65"/><circle cx="622" cy="524.7" r="1.65"/><circle cx="645.5" cy="532" r="1.65"/><circle cx="600.9" cy="537.3" r="1.65"/><circle cx="579.8" cy="539.5" r="1.65"/><circle cx="539.9" cy="539.3" r="1.65"/><circle cx="553" cy="570.2" r="1.65"/><circle cx="610.9" cy="546" r="1.65"/><circle cx="621.8" cy="526.6" r="1.65"/><circle cx="621.1" cy="548.2" r="1.65"/><circle cx="597.5" cy="527.2" r="1.65"/><circle cx="607.7" cy="535.4" r="1.65"/><circle cx="628.3" cy="513.9" r="1.65"/><circle cx="620.3" cy="523.4" r="1.65"/><circle cx="592.8" cy="558.4" r="1.65"/><circle cx="572" cy="545.9" r="1.65"/><circle cx="609.7" cy="574.9" r="1.65"/><circle cx="575.3" cy="568.2" r="1.65"/><circle cx="613.6" cy="523.7" r="1.65"/><circle cx="603.2" cy="510.9" r="1.65"/><circle cx="539.4" cy="578" r="1.65"/><circle cx="579.1" cy="577" r="1.65"/><circle cx="639.1" cy="517.5" r="1.65"/><circle cx="576.5" cy="566.4" r="1.65"/><circle cx="623.1" cy="568.7" r="1.65"/><circle cx="598" cy="539.5" r="1.65"/><circle cx="617.4" cy="531.1" r="1.65"/><circle cx="500.3" cy="591.8" r="1.65"/><circle cx="632.2" cy="534.1" r="1.65"/><circle cx="623.1" cy="513.3" r="1.65"/><circle cx="448.4" cy="603.7" r="1.65"/><circle cx="614.7" cy="534.2" r="1.65"/><circle cx="631.5" cy="518.3" r="1.65"/><circle cx="647.4" cy="547.4" r="1.65"/><circle cx="568" cy="524.4" r="1.65"/><circle cx="602.4" cy="539.3" r="1.65"/><circle cx="560.8" cy="600.2" r="1.65"/><circle cx="576.1" cy="559" r="1.65"/><circle cx="606.8" cy="570.3" r="1.65"/><circle cx="559.9" cy="606.2" r="1.65"/><circle cx="619.8" cy="508.7" r="1.65"/><circle cx="589.2" cy="550.7" r="1.65"/><circle cx="590.5" cy="552.1" r="1.65"/><circle cx="541.3" cy="611.7" r="1.65"/><circle cx="555.5" cy="607.5" r="1.65"/><circle cx="661" cy="528.9" r="1.65"/><circle cx="633.3" cy="525" r="1.65"/><circle cx="545.4" cy="600.2" r="1.65"/><circle cx="577.3" cy="542.1" r="1.65"/><circle cx="579.9" cy="545" r="1.65"/><circle cx="633.3" cy="524.9" r="1.65"/><circle cx="620.4" cy="513.5" r="1.65"/><circle cx="572.6" cy="565.4" r="1.65"/><circle cx="569.5" cy="543.5" r="1.65"/><circle cx="606.1" cy="584.4" r="1.65"/><circle cx="581.9" cy="537.8" r="1.65"/><circle cx="588.7" cy="519" r="1.65"/><circle cx="515.8" cy="626.2" r="1.65"/><circle cx="660.5" cy="516.8" r="1.65"/><circle cx="608.4" cy="536.9" r="1.65"/><circle cx="476" cy="653.8" r="1.65"/><circle cx="611.9" cy="521.8" r="1.65"/><circle cx="653.7" cy="521.5" r="1.65"/><circle cx="655.5" cy="528.2" r="1.65"/><circle cx="632.6" cy="518.4" r="1.65"/><circle cx="600.1" cy="529.4" r="1.65"/><circle cx="643.5" cy="538.2" r="1.65"/><circle cx="469.4" cy="637.3" r="1.65"/><circle cx="541.5" cy="566.1" r="1.65"/><circle cx="593.2" cy="551.5" r="1.65"/><circle cx="575.2" cy="583.5" r="1.65"/><circle cx="527.6" cy="604.8" r="1.65"/><circle cx="568.3" cy="540.9" r="1.65"/><circle cx="575.8" cy="522.7" r="1.65"/><circle cx="543.2" cy="580.1" r="1.65"/><circle cx="552.5" cy="577.5" r="1.65"/><circle cx="626.8" cy="518.4" r="1.65"/><circle cx="621.2" cy="523.5" r="1.65"/><circle cx="474.8" cy="606.8" r="1.65"/><circle cx="639.6" cy="536.4" r="1.65"/><circle cx="570.6" cy="557.3" r="1.65"/><circle cx="566.2" cy="565.6" r="1.65"/><circle cx="546.9" cy="609.2" r="1.65"/><circle cx="630.1" cy="535.1" r="1.65"/><circle cx="497.7" cy="625.5" r="1.65"/><circle cx="547.3" cy="551.9" r="1.65"/><circle cx="555.6" cy="589.1" r="1.65"/><circle cx="657.5" cy="505.2" r="1.65"/><circle cx="572" cy="548.4" r="1.65"/><circle cx="551.6" cy="563.9" r="1.65"/><circle cx="498.1" cy="626.5" r="1.65"/><circle cx="573.7" cy="544.5" r="1.65"/><circle cx="631.3" cy="519.8" r="1.65"/><circle cx="558.9" cy="548.8" r="1.65"/><circle cx="620.6" cy="571.9" r="1.65"/><circle cx="579.5" cy="524.9" r="1.65"/><circle cx="622.4" cy="521.5" r="1.65"/><circle cx="562.2" cy="590.7" r="1.65"/><circle cx="620" cy="568.1" r="1.65"/><circle cx="550.7" cy="595.5" r="1.65"/><circle cx="590.2" cy="597.1" r="1.65"/><circle cx="591.7" cy="574.8" r="1.65"/><circle cx="516.6" cy="569.2" r="1.65"/><circle cx="632.5" cy="533.3" r="1.65"/><circle cx="517.3" cy="605.8" r="1.65"/><circle cx="622.2" cy="510.9" r="1.65"/><circle cx="638.6" cy="510.8" r="1.65"/><circle cx="574.7" cy="548.3" r="1.65"/><circle cx="630.1" cy="532.6" r="1.65"/><circle cx="660.7" cy="517.2" r="1.65"/><circle cx="607.5" cy="520" r="1.65"/><circle cx="600.6" cy="574.3" r="1.65"/><circle cx="657" cy="520.1" r="1.65"/><circle cx="564.2" cy="561.4" r="1.65"/><circle cx="556.3" cy="529.3" r="1.65"/><circle cx="651.3" cy="528.7" r="1.65"/><circle cx="613.3" cy="549.6" r="1.65"/><circle cx="584.2" cy="548.3" r="1.65"/><circle cx="603.7" cy="521.9" r="1.65"/><circle cx="547.3" cy="534.5" r="1.65"/><circle cx="538.1" cy="570.9" r="1.65"/><circle cx="480.7" cy="611.5" r="1.65"/><circle cx="608.8" cy="533.8" r="1.65"/><circle cx="620.4" cy="531.5" r="1.65"/><circle cx="585.6" cy="579.2" r="1.65"/><circle cx="485" cy="606.4" r="1.65"/><circle cx="607.4" cy="521.3" r="1.65"/><circle cx="589.6" cy="559.2" r="1.65"/><circle cx="547.1" cy="575.3" r="1.65"/><circle cx="616.2" cy="540" r="1.65"/><circle cx="511.7" cy="609.7" r="1.65"/><circle cx="614.8" cy="538.2" r="1.65"/><circle cx="491.4" cy="610.9" r="1.65"/><circle cx="571.9" cy="567.1" r="1.65"/><circle cx="578.3" cy="574.4" r="1.65"/><circle cx="624.4" cy="533" r="1.65"/><circle cx="513" cy="630" r="1.65"/><circle cx="624.3" cy="533.2" r="1.65"/><circle cx="627.2" cy="532.2" r="1.65"/><circle cx="625.5" cy="555" r="1.65"/><circle cx="632.5" cy="538.1" r="1.65"/><circle cx="549" cy="610.2" r="1.65"/><circle cx="563.6" cy="561.8" r="1.65"/><circle cx="599.7" cy="539.3" r="1.65"/><circle cx="663.3" cy="534.8" r="1.65"/><circle cx="440.9" cy="645.5" r="1.65"/><circle cx="539.4" cy="590.4" r="1.65"/><circle cx="620.9" cy="531.4" r="1.65"/><circle cx="634.7" cy="567.3" r="1.65"/><circle cx="637.7" cy="503.3" r="1.65"/><circle cx="616.8" cy="509.4" r="1.65"/><circle cx="567.8" cy="600" r="1.65"/><circle cx="585" cy="543.9" r="1.65"/><circle cx="563.1" cy="568" r="1.65"/><circle cx="629.6" cy="541.3" r="1.65"/><circle cx="563.7" cy="576.8" r="1.65"/><circle cx="609.9" cy="526.5" r="1.65"/><circle cx="604.3" cy="538" r="1.65"/><circle cx="547.8" cy="601.4" r="1.65"/><circle cx="585.4" cy="537.1" r="1.65"/><circle cx="517.2" cy="586.7" r="1.65"/><circle cx="578.2" cy="546.7" r="1.65"/><circle cx="610.9" cy="529.3" r="1.65"/><circle cx="562.5" cy="591.2" r="1.65"/><circle cx="554.3" cy="544" r="1.65"/><circle cx="621.6" cy="545.8" r="1.65"/><circle cx="543.8" cy="573.9" r="1.65"/><circle cx="631" cy="545.9" r="1.65"/><circle cx="588.5" cy="555.8" r="1.65"/><circle cx="655.7" cy="547.6" r="1.65"/><circle cx="662.8" cy="537.4" r="1.65"/><circle cx="533.7" cy="546.1" r="1.65"/><circle cx="537.2" cy="567.1" r="1.65"/><circle cx="642.3" cy="548" r="1.65"/><circle cx="524.4" cy="604.3" r="1.65"/><circle cx="589.4" cy="533.5" r="1.65"/><circle cx="564.6" cy="553.9" r="1.65"/><circle cx="559.2" cy="543.7" r="1.65"/><circle cx="573" cy="517.2" r="1.65"/><circle cx="558.8" cy="552.3" r="1.65"/><circle cx="630.1" cy="532" r="1.65"/><circle cx="501.3" cy="637.9" r="1.65"/><circle cx="578.1" cy="573.4" r="1.65"/><circle cx="654.7" cy="535.9" r="1.65"/><circle cx="601.4" cy="554.5" r="1.65"/><circle cx="650.6" cy="551.5" r="1.65"/><circle cx="605.2" cy="550.7" r="1.65"/><circle cx="587.6" cy="527.3" r="1.65"/><circle cx="600" cy="547.5" r="1.65"/><circle cx="646.9" cy="514.2" r="1.65"/><circle cx="546.2" cy="602.1" r="1.65"/><circle cx="611.6" cy="558.1" r="1.65"/><circle cx="630.5" cy="518.3" r="1.65"/><circle cx="621" cy="535" r="1.65"/><circle cx="624.1" cy="533.3" r="1.65"/><circle cx="603.4" cy="551.8" r="1.65"/><circle cx="512.9" cy="600.5" r="1.65"/><circle cx="622.7" cy="517.9" r="1.65"/><circle cx="616.8" cy="507.5" r="1.65"/><circle cx="569.7" cy="551.9" r="1.65"/><circle cx="566.3" cy="542.3" r="1.65"/><circle cx="577.7" cy="565.1" r="1.65"/><circle cx="623.9" cy="548.8" r="1.65"/><circle cx="625.4" cy="512.1" r="1.65"/><circle cx="508.8" cy="610.7" r="1.65"/><circle cx="596.8" cy="543.9" r="1.65"/><circle cx="543.7" cy="622.4" r="1.65"/><circle cx="624.9" cy="527.9" r="1.65"/><circle cx="639.9" cy="500.1" r="1.65"/><circle cx="629.2" cy="527.3" r="1.65"/><circle cx="569" cy="521.8" r="1.65"/><circle cx="639.1" cy="538.7" r="1.65"/><circle cx="546.3" cy="573" r="1.65"/><circle cx="536.1" cy="609.3" r="1.65"/><circle cx="589" cy="573.5" r="1.65"/><circle cx="617.6" cy="528.2" r="1.65"/><circle cx="598.6" cy="572.3" r="1.65"/><circle cx="485.8" cy="628" r="1.65"/><circle cx="562.4" cy="580.9" r="1.65"/><circle cx="629.4" cy="541.4" r="1.65"/><circle cx="545.9" cy="618.7" r="1.65"/><circle cx="579.1" cy="517" r="1.65"/><circle cx="554.4" cy="602.7" r="1.65"/><circle cx="553.4" cy="570.6" r="1.65"/><circle cx="648.5" cy="526.3" r="1.65"/><circle cx="606.7" cy="572.9" r="1.65"/><circle cx="664.4" cy="518.3" r="1.65"/><circle cx="482.4" cy="655.8" r="1.65"/><circle cx="643.5" cy="552.2" r="1.65"/><circle cx="579.8" cy="559.5" r="1.65"/><circle cx="575.9" cy="553.6" r="1.65"/><circle cx="584.4" cy="577.7" r="1.65"/><circle cx="616.9" cy="552.1" r="1.65"/><circle cx="501.8" cy="588.3" r="1.65"/><circle cx="571.8" cy="558.7" r="1.65"/><circle cx="526.1" cy="560" r="1.65"/><circle cx="627" cy="552.8" r="1.65"/><circle cx="601.9" cy="564.6" r="1.65"/><circle cx="630.3" cy="518.4" r="1.65"/><circle cx="622" cy="542.1" r="1.65"/><circle cx="580.4" cy="528" r="1.65"/><circle cx="644.7" cy="534.1" r="1.65"/><circle cx="465.3" cy="595.9" r="1.65"/><circle cx="606.9" cy="538.3" r="1.65"/><circle cx="647.6" cy="544.3" r="1.65"/><circle cx="590.3" cy="531.9" r="1.65"/><circle cx="560" cy="547.8" r="1.65"/><circle cx="611.5" cy="543.9" r="1.65"/><circle cx="634.4" cy="508.2" r="1.65"/><circle cx="564" cy="552.3" r="1.65"/><circle cx="605.8" cy="544.3" r="1.65"/><circle cx="648.9" cy="529.6" r="1.65"/><circle cx="605.9" cy="519.8" r="1.65"/><circle cx="499.9" cy="630.5" r="1.65"/><circle cx="653.1" cy="525.3" r="1.65"/><circle cx="522.9" cy="586.7" r="1.65"/><circle cx="619" cy="561.7" r="1.65"/><circle cx="645" cy="541.2" r="1.65"/><circle cx="620.4" cy="525.6" r="1.65"/><circle cx="613.8" cy="513.1" r="1.65"/><circle cx="622.1" cy="540.5" r="1.65"/><circle cx="657.1" cy="507.5" r="1.65"/><circle cx="622.5" cy="540.8" r="1.65"/><circle cx="645.6" cy="530.7" r="1.65"/><circle cx="625.5" cy="526.9" r="1.65"/><circle cx="570.4" cy="576.3" r="1.65"/><circle cx="523.1" cy="567.3" r="1.65"/><circle cx="584.6" cy="546.7" r="1.65"/><circle cx="636.1" cy="539.6" r="1.65"/><circle cx="586.1" cy="558.6" r="1.65"/><circle cx="586" cy="561.6" r="1.65"/><circle cx="562.6" cy="582.8" r="1.65"/><circle cx="467.1" cy="663.5" r="1.65"/><circle cx="577.8" cy="539.7" r="1.65"/><circle cx="632" cy="525.4" r="1.65"/><circle cx="595.5" cy="509" r="1.65"/><circle cx="631.4" cy="524.3" r="1.65"/><circle cx="599" cy="528.9" r="1.65"/><circle cx="609.8" cy="544.6" r="1.65"/><circle cx="589.6" cy="527.5" r="1.65"/><circle cx="604.1" cy="540.4" r="1.65"/><circle cx="624.5" cy="575.8" r="1.65"/><circle cx="650.9" cy="517.5" r="1.65"/><circle cx="643.9" cy="509.6" r="1.65"/><circle cx="550.9" cy="528.6" r="1.65"/><circle cx="644.8" cy="551.6" r="1.65"/><circle cx="571.7" cy="590.4" r="1.65"/><circle cx="591.2" cy="513.4" r="1.65"/><circle cx="594.4" cy="565.5" r="1.65"/><circle cx="598.3" cy="514.6" r="1.65"/><circle cx="578.6" cy="537.9" r="1.65"/><circle cx="566.8" cy="538.9" r="1.65"/><circle cx="612.2" cy="581.3" r="1.65"/><circle cx="591.7" cy="555.5" r="1.65"/><circle cx="630.9" cy="548.8" r="1.65"/><circle cx="646.5" cy="532.5" r="1.65"/><circle cx="649.7" cy="524.5" r="1.65"/><circle cx="556.2" cy="562.3" r="1.65"/><circle cx="522.9" cy="589.5" r="1.65"/><circle cx="625.5" cy="517.6" r="1.65"/><circle cx="580.7" cy="557.1" r="1.65"/><circle cx="503" cy="597.8" r="1.65"/><circle cx="565.1" cy="581.7" r="1.65"/><circle cx="541" cy="562.7" r="1.65"/><circle cx="597.3" cy="591.3" r="1.65"/><circle cx="636.9" cy="550" r="1.65"/><circle cx="570" cy="584.8" r="1.65"/><circle cx="594.9" cy="587" r="1.65"/><circle cx="625.3" cy="525.4" r="1.65"/><circle cx="614.8" cy="515.6" r="1.65"/><circle cx="518.2" cy="589.6" r="1.65"/><circle cx="523.3" cy="549.2" r="1.65"/><circle cx="430.1" cy="663.5" r="1.65"/><circle cx="433.5" cy="669.6" r="1.65"/><circle cx="453.8" cy="675.4" r="1.65"/><circle cx="475.8" cy="666.9" r="1.65"/><circle cx="496.1" cy="669.6" r="1.65"/><circle cx="455.1" cy="635.2" r="1.65"/><circle cx="458.4" cy="630.7" r="1.65"/><circle cx="471.6" cy="626.2" r="1.65"/><circle cx="475.8" cy="645.4" r="1.65"/><circle cx="484.1" cy="637.9" r="1.65"/><circle cx="475.8" cy="614.9" r="1.65"/><circle cx="471.6" cy="596.8" r="1.65"/><circle cx="471.6" cy="567.4" r="1.65"/><circle cx="492.4" cy="646.5" r="1.65"/><circle cx="504.8" cy="651" r="1.65"/><circle cx="482" cy="655.6" r="1.65"/><circle cx="488.2" cy="648.8" r="1.65"/><circle cx="467.5" cy="628.4" r="1.65"/><circle cx="469.6" cy="633" r="1.65"/></g>
<line x1="594" y1="490.8" x2="592.4" y2="684" stroke="#ad8248" stroke-width="1.0"/>
<line x1="418.4" y1="550.6" x2="679" y2="548.8" stroke="#ad8248" stroke-width="1.0"/>
<rect x="418.4" y="490.8" width="260.6" height="193.2" fill="none" stroke="#1a1a1a" stroke-width="1.1"/>
<text x="530.2" y="486.2" font-size="10.2" text-anchor="middle" fill="#111" textLength="84.5" lengthAdjust="spacingAndGlyphs">Core=0.67,P&lt;0.05</text>
<line x1="415.4" y1="506.4" x2="418.4" y2="506.4" stroke="#222" stroke-width="0.9"/>
<text x="411.5" y="508.9" font-size="7.1" text-anchor="end" font-weight="bold" fill="#222" stroke="#222" stroke-width="0.18">0.9</text>
<line x1="415.4" y1="529" x2="418.4" y2="529" stroke="#222" stroke-width="0.9"/>
<text x="411.5" y="531.5" font-size="7.1" text-anchor="end" font-weight="bold" fill="#222" stroke="#222" stroke-width="0.18">0.8</text>
<line x1="415.4" y1="551.6" x2="418.4" y2="551.6" stroke="#222" stroke-width="0.9"/>
<text x="411.5" y="554.1" font-size="7.1" text-anchor="end" font-weight="bold" fill="#222" stroke="#222" stroke-width="0.18">0.7</text>
<line x1="415.4" y1="574.2" x2="418.4" y2="574.2" stroke="#222" stroke-width="0.9"/>
<text x="411.5" y="576.8" font-size="7.1" text-anchor="end" font-weight="bold" fill="#222" stroke="#222" stroke-width="0.18">0.6</text>
<line x1="415.4" y1="596.8" x2="418.4" y2="596.8" stroke="#222" stroke-width="0.9"/>
<text x="411.5" y="599.3" font-size="7.1" text-anchor="end" font-weight="bold" fill="#222" stroke="#222" stroke-width="0.18">0.5</text>
<line x1="415.4" y1="619.4" x2="418.4" y2="619.4" stroke="#222" stroke-width="0.9"/>
<text x="411.5" y="621.9" font-size="7.1" text-anchor="end" font-weight="bold" fill="#222" stroke="#222" stroke-width="0.18">0.4</text>
<line x1="415.4" y1="642" x2="418.4" y2="642" stroke="#222" stroke-width="0.9"/>
<text x="411.5" y="644.5" font-size="7.1" text-anchor="end" font-weight="bold" fill="#222" stroke="#222" stroke-width="0.18">0.3</text>
<line x1="415.4" y1="664.6" x2="418.4" y2="664.6" stroke="#222" stroke-width="0.9"/>
<text x="411.5" y="667.1" font-size="7.1" text-anchor="end" font-weight="bold" fill="#222" stroke="#222" stroke-width="0.18">0.2</text>
<line x1="426" y1="684" x2="426" y2="687" stroke="#222" stroke-width="0.9"/>
<text x="426" y="696.8" font-size="7.1" text-anchor="middle" font-weight="bold" fill="#222" stroke="#222" stroke-width="0.18">0.4</text>
<line x1="467.5" y1="684" x2="467.5" y2="687" stroke="#222" stroke-width="0.9"/>
<text x="467.5" y="696.8" font-size="7.1" text-anchor="middle" font-weight="bold" fill="#222" stroke="#222" stroke-width="0.18">0.5</text>
<line x1="509" y1="684" x2="509" y2="687" stroke="#222" stroke-width="0.9"/>
<text x="509" y="696.8" font-size="7.1" text-anchor="middle" font-weight="bold" fill="#222" stroke="#222" stroke-width="0.18">0.6</text>
<line x1="550.5" y1="684" x2="550.5" y2="687" stroke="#222" stroke-width="0.9"/>
<text x="550.5" y="696.8" font-size="7.1" text-anchor="middle" font-weight="bold" fill="#222" stroke="#222" stroke-width="0.18">0.7</text>
<line x1="592" y1="684" x2="592" y2="687" stroke="#222" stroke-width="0.9"/>
<text x="592" y="696.8" font-size="7.1" text-anchor="middle" font-weight="bold" fill="#222" stroke="#222" stroke-width="0.18">0.8</text>
<line x1="633.5" y1="684" x2="633.5" y2="687" stroke="#222" stroke-width="0.9"/>
<text x="633.5" y="696.8" font-size="7.1" text-anchor="middle" font-weight="bold" fill="#222" stroke="#222" stroke-width="0.18">0.9</text>
<line x1="675" y1="684" x2="675" y2="687" stroke="#222" stroke-width="0.9"/>
<text x="675" y="696.8" font-size="7.1" text-anchor="middle" font-weight="bold" fill="#222" stroke="#222" stroke-width="0.18">1.0</text>
<text x="548.8" y="706.5" font-size="7.6" text-anchor="middle" font-weight="bold" fill="#222" textLength="137.9" lengthAdjust="spacingAndGlyphs" stroke="#222" stroke-width="0.18">Moddule Membership in purple module</text>
<text x="396.6" y="587.5" font-size="7.2" text-anchor="middle" font-weight="bold" fill="#222" transform="rotate(-90 396.6 587.5)" textLength="100.5" lengthAdjust="spacingAndGlyphs" stroke="#222" stroke-width="0.18">Gene significance for SEPSIS</text>
<text x="38.9" y="743.5" font-size="18.5" text-anchor="start" fill="#000">G</text>
<line x1="190.4" y1="760.8" x2="191.2" y2="937.8" stroke="#f0f3dc" stroke-width="4.0"/>
<line x1="53.9" y1="825.9" x2="292" y2="825.4" stroke="#f3f5e2" stroke-width="4.0"/>
<g fill="#eef0e8"><circle cx="143.1" cy="774.6" r="2.6"/><circle cx="122.6" cy="787.3" r="2.6"/><circle cx="154" cy="787.4" r="2.6"/><circle cx="164.5" cy="781.2" r="2.6"/><circle cx="162" cy="784.1" r="2.6"/><circle cx="164.2" cy="785.1" r="2.6"/><circle cx="177.4" cy="779" r="2.6"/><circle cx="191.2" cy="778.2" r="2.6"/><circle cx="162.8" cy="795.8" r="2.6"/><circle cx="169.8" cy="794.6" r="2.6"/><circle cx="142.3" cy="803.8" r="2.6"/><circle cx="147.9" cy="803.5" r="2.6"/><circle cx="161" cy="803.1" r="2.6"/><circle cx="162.5" cy="803.1" r="2.6"/><circle cx="175.5" cy="802.2" r="2.6"/><circle cx="146.7" cy="813" r="2.6"/><circle cx="151.1" cy="813.6" r="2.6"/><circle cx="135.3" cy="816.2" r="2.6"/><circle cx="127.7" cy="821.6" r="2.6"/><circle cx="178.4" cy="819.3" r="2.6"/><circle cx="145.3" cy="833" r="2.6"/><circle cx="158.1" cy="833" r="2.6"/><circle cx="170.8" cy="834.5" r="2.6"/><circle cx="170.8" cy="838.4" r="2.6"/><circle cx="182.5" cy="829.3" r="2.6"/><circle cx="184.4" cy="835.9" r="2.6"/><circle cx="156.2" cy="845.7" r="2.6"/><circle cx="133.9" cy="861.9" r="2.6"/><circle cx="156.9" cy="866.7" r="2.6"/><circle cx="173.7" cy="868" r="2.6"/><circle cx="190.5" cy="865.8" r="2.6"/><circle cx="197.8" cy="856.8" r="2.6"/><circle cx="177.7" cy="875" r="2.6"/><circle cx="182.5" cy="878.7" r="2.6"/><circle cx="182.9" cy="881.6" r="2.6"/><circle cx="143.1" cy="879.7" r="2.6"/><circle cx="170.1" cy="879.7" r="2.6"/><circle cx="169.8" cy="881.2" r="2.6"/><circle cx="177.1" cy="892.6" r="2.6"/><circle cx="181.3" cy="891.4" r="2.6"/><circle cx="167.2" cy="897.4" r="2.6"/><circle cx="183.2" cy="899.9" r="2.6"/><circle cx="183.5" cy="901.3" r="2.6"/><circle cx="148.5" cy="908.6" r="2.6"/><circle cx="163.9" cy="912.3" r="2.6"/><circle cx="153.3" cy="926.9" r="2.6"/><circle cx="155.8" cy="928" r="2.6"/><circle cx="64.4" cy="929.6" r="2.6"/><circle cx="212.2" cy="768.9" r="2.6"/><circle cx="226.3" cy="780.2" r="2.6"/><circle cx="228" cy="786.1" r="2.6"/><circle cx="235.2" cy="788.7" r="2.6"/><circle cx="208.1" cy="792.5" r="2.6"/><circle cx="223" cy="792.6" r="2.6"/><circle cx="225.6" cy="795.7" r="2.6"/><circle cx="229.5" cy="795" r="2.6"/><circle cx="211.5" cy="797.1" r="2.6"/><circle cx="214.8" cy="799.1" r="2.6"/><circle cx="203.8" cy="802.5" r="2.6"/><circle cx="226.8" cy="803.4" r="2.6"/><circle cx="214.5" cy="805.7" r="2.6"/><circle cx="220.7" cy="805.7" r="2.6"/><circle cx="220.7" cy="808" r="2.6"/><circle cx="223.7" cy="813" r="2.6"/><circle cx="232.9" cy="811" r="2.6"/><circle cx="240.6" cy="800.2" r="2.6"/><circle cx="241" cy="801.7" r="2.6"/><circle cx="244.4" cy="799.4" r="2.6"/><circle cx="244.4" cy="804" r="2.6"/><circle cx="248.2" cy="802.5" r="2.6"/><circle cx="257.7" cy="795.6" r="2.6"/><circle cx="263.6" cy="798" r="2.6"/><circle cx="267.4" cy="791.7" r="2.6"/><circle cx="265.6" cy="802.5" r="2.6"/><circle cx="271.7" cy="800.6" r="2.6"/><circle cx="271.5" cy="804.8" r="2.6"/><circle cx="255.1" cy="804.8" r="2.6"/><circle cx="246.7" cy="809.1" r="2.6"/><circle cx="252.5" cy="808" r="2.6"/><circle cx="254.4" cy="808.4" r="2.6"/><circle cx="257.4" cy="808.7" r="2.6"/><circle cx="259.7" cy="807.8" r="2.6"/><circle cx="262" cy="806.7" r="2.6"/><circle cx="258.2" cy="811" r="2.6"/><circle cx="262.5" cy="810.3" r="2.6"/><circle cx="243.6" cy="811.8" r="2.6"/><circle cx="245.5" cy="813.3" r="2.6"/><circle cx="249.5" cy="813.2" r="2.6"/><circle cx="261.3" cy="813.6" r="2.6"/><circle cx="265.9" cy="812.6" r="2.6"/><circle cx="275.5" cy="809.8" r="2.6"/><circle cx="278.6" cy="812.1" r="2.6"/><circle cx="281.5" cy="814.4" r="2.6"/><circle cx="275.8" cy="816" r="2.6"/><circle cx="267.4" cy="815.5" r="2.6"/><circle cx="268.5" cy="817" r="2.6"/><circle cx="266.6" cy="817.9" r="2.6"/><circle cx="260.8" cy="817.9" r="2.6"/><circle cx="225.3" cy="820.7" r="2.6"/><circle cx="233.4" cy="819.3" r="2.6"/><circle cx="236.8" cy="819" r="2.6"/><circle cx="239.8" cy="818.4" r="2.6"/><circle cx="244.9" cy="819.8" r="2.6"/><circle cx="247.9" cy="822.1" r="2.6"/><circle cx="249.2" cy="820.5" r="2.6"/><circle cx="253.6" cy="822.5" r="2.6"/><circle cx="256.2" cy="821" r="2.6"/><circle cx="256.8" cy="823.5" r="2.6"/><circle cx="259.7" cy="821.3" r="2.6"/><circle cx="265.1" cy="819" r="2.6"/><circle cx="267.4" cy="820.5" r="2.6"/><circle cx="272" cy="820.7" r="2.6"/><circle cx="276.1" cy="820.2" r="2.6"/><circle cx="275.8" cy="822.1" r="2.6"/><circle cx="272.8" cy="823.9" r="2.6"/><circle cx="209.2" cy="822.8" r="2.6"/><circle cx="208.7" cy="824.1" r="2.6"/><circle cx="230.3" cy="824.4" r="2.6"/><circle cx="221.7" cy="826.7" r="2.6"/><circle cx="233.7" cy="827.1" r="2.6"/><circle cx="239" cy="827.9" r="2.6"/><circle cx="264.6" cy="827" r="2.6"/><circle cx="205" cy="830.5" r="2.6"/><circle cx="275.4" cy="829.3" r="2.6"/><circle cx="272.8" cy="832.3" r="2.6"/><circle cx="255.5" cy="833.9" r="2.6"/><circle cx="266.3" cy="833.6" r="2.6"/><circle cx="232.2" cy="837.9" r="2.6"/><circle cx="258.2" cy="838.9" r="2.6"/><circle cx="258.2" cy="842" r="2.6"/><circle cx="241.3" cy="842.3" r="2.6"/><circle cx="243.6" cy="843.8" r="2.6"/><circle cx="262.8" cy="842.8" r="2.6"/><circle cx="217.9" cy="847.4" r="2.6"/><circle cx="221.4" cy="848.6" r="2.6"/><circle cx="257.1" cy="847.1" r="2.6"/><circle cx="264.8" cy="848.1" r="2.6"/><circle cx="191.2" cy="778.4" r="2.6"/><circle cx="209.9" cy="851.2" r="2.6"/><circle cx="228.3" cy="853.3" r="2.6"/><circle cx="247.2" cy="851" r="2.6"/><circle cx="252.8" cy="852.7" r="2.6"/><circle cx="253.2" cy="853.8" r="2.6"/><circle cx="266.3" cy="853.8" r="2.6"/><circle cx="260.2" cy="857.3" r="2.6"/><circle cx="208.1" cy="860.7" r="2.6"/><circle cx="222.2" cy="858.7" r="2.6"/><circle cx="218.8" cy="868" r="2.6"/><circle cx="211.5" cy="869.9" r="2.6"/><circle cx="210.4" cy="873.3" r="2.6"/><circle cx="216.8" cy="871.7" r="2.6"/><circle cx="222.2" cy="872.5" r="2.6"/><circle cx="201.5" cy="879.5" r="2.6"/><circle cx="226" cy="879.5" r="2.6"/><circle cx="212.7" cy="892.9" r="2.6"/></g>
<g fill="#2b2b2b"><circle cx="143.1" cy="774.6" r="1.6"/><circle cx="122.6" cy="787.3" r="1.6"/><circle cx="154" cy="787.4" r="1.6"/><circle cx="164.5" cy="781.2" r="1.6"/><circle cx="162" cy="784.1" r="1.6"/><circle cx="164.2" cy="785.1" r="1.6"/><circle cx="177.4" cy="779" r="1.6"/><circle cx="191.2" cy="778.2" r="1.6"/><circle cx="162.8" cy="795.8" r="1.6"/><circle cx="169.8" cy="794.6" r="1.6"/><circle cx="142.3" cy="803.8" r="1.6"/><circle cx="147.9" cy="803.5" r="1.6"/><circle cx="161" cy="803.1" r="1.6"/><circle cx="162.5" cy="803.1" r="1.6"/><circle cx="175.5" cy="802.2" r="1.6"/><circle cx="146.7" cy="813" r="1.6"/><circle cx="151.1" cy="813.6" r="1.6"/><circle cx="135.3" cy="816.2" r="1.6"/><circle cx="127.7" cy="821.6" r="1.6"/><circle cx="178.4" cy="819.3" r="1.6"/><circle cx="145.3" cy="833" r="1.6"/><circle cx="158.1" cy="833" r="1.6"/><circle cx="170.8" cy="834.5" r="1.6"/><circle cx="170.8" cy="838.4" r="1.6"/><circle cx="182.5" cy="829.3" r="1.6"/><circle cx="184.4" cy="835.9" r="1.6"/><circle cx="156.2" cy="845.7" r="1.6"/><circle cx="133.9" cy="861.9" r="1.6"/><circle cx="156.9" cy="866.7" r="1.6"/><circle cx="173.7" cy="868" r="1.6"/><circle cx="190.5" cy="865.8" r="1.6"/><circle cx="197.8" cy="856.8" r="1.6"/><circle cx="177.7" cy="875" r="1.6"/><circle cx="182.5" cy="878.7" r="1.6"/><circle cx="182.9" cy="881.6" r="1.6"/><circle cx="143.1" cy="879.7" r="1.6"/><circle cx="170.1" cy="879.7" r="1.6"/><circle cx="169.8" cy="881.2" r="1.6"/><circle cx="177.1" cy="892.6" r="1.6"/><circle cx="181.3" cy="891.4" r="1.6"/><circle cx="167.2" cy="897.4" r="1.6"/><circle cx="183.2" cy="899.9" r="1.6"/><circle cx="183.5" cy="901.3" r="1.6"/><circle cx="148.5" cy="908.6" r="1.6"/><circle cx="163.9" cy="912.3" r="1.6"/><circle cx="153.3" cy="926.9" r="1.6"/><circle cx="155.8" cy="928" r="1.6"/><circle cx="64.4" cy="929.6" r="1.6"/><circle cx="212.2" cy="768.9" r="1.6"/><circle cx="226.3" cy="780.2" r="1.6"/><circle cx="228" cy="786.1" r="1.6"/><circle cx="235.2" cy="788.7" r="1.6"/><circle cx="208.1" cy="792.5" r="1.6"/><circle cx="223" cy="792.6" r="1.6"/><circle cx="225.6" cy="795.7" r="1.6"/><circle cx="229.5" cy="795" r="1.6"/><circle cx="211.5" cy="797.1" r="1.6"/><circle cx="214.8" cy="799.1" r="1.6"/><circle cx="203.8" cy="802.5" r="1.6"/><circle cx="226.8" cy="803.4" r="1.6"/><circle cx="214.5" cy="805.7" r="1.6"/><circle cx="220.7" cy="805.7" r="1.6"/><circle cx="220.7" cy="808" r="1.6"/><circle cx="223.7" cy="813" r="1.6"/><circle cx="232.9" cy="811" r="1.6"/><circle cx="240.6" cy="800.2" r="1.6"/><circle cx="241" cy="801.7" r="1.6"/><circle cx="244.4" cy="799.4" r="1.6"/><circle cx="244.4" cy="804" r="1.6"/><circle cx="248.2" cy="802.5" r="1.6"/><circle cx="257.7" cy="795.6" r="1.6"/><circle cx="263.6" cy="798" r="1.6"/><circle cx="267.4" cy="791.7" r="1.6"/><circle cx="265.6" cy="802.5" r="1.6"/><circle cx="271.7" cy="800.6" r="1.6"/><circle cx="271.5" cy="804.8" r="1.6"/><circle cx="255.1" cy="804.8" r="1.6"/><circle cx="246.7" cy="809.1" r="1.6"/><circle cx="252.5" cy="808" r="1.6"/><circle cx="254.4" cy="808.4" r="1.6"/><circle cx="257.4" cy="808.7" r="1.6"/><circle cx="259.7" cy="807.8" r="1.6"/><circle cx="262" cy="806.7" r="1.6"/><circle cx="258.2" cy="811" r="1.6"/><circle cx="262.5" cy="810.3" r="1.6"/><circle cx="243.6" cy="811.8" r="1.6"/><circle cx="245.5" cy="813.3" r="1.6"/><circle cx="249.5" cy="813.2" r="1.6"/><circle cx="261.3" cy="813.6" r="1.6"/><circle cx="265.9" cy="812.6" r="1.6"/><circle cx="275.5" cy="809.8" r="1.6"/><circle cx="278.6" cy="812.1" r="1.6"/><circle cx="281.5" cy="814.4" r="1.6"/><circle cx="275.8" cy="816" r="1.6"/><circle cx="267.4" cy="815.5" r="1.6"/><circle cx="268.5" cy="817" r="1.6"/><circle cx="266.6" cy="817.9" r="1.6"/><circle cx="260.8" cy="817.9" r="1.6"/><circle cx="225.3" cy="820.7" r="1.6"/><circle cx="233.4" cy="819.3" r="1.6"/><circle cx="236.8" cy="819" r="1.6"/><circle cx="239.8" cy="818.4" r="1.6"/><circle cx="244.9" cy="819.8" r="1.6"/><circle cx="247.9" cy="822.1" r="1.6"/><circle cx="249.2" cy="820.5" r="1.6"/><circle cx="253.6" cy="822.5" r="1.6"/><circle cx="256.2" cy="821" r="1.6"/><circle cx="256.8" cy="823.5" r="1.6"/><circle cx="259.7" cy="821.3" r="1.6"/><circle cx="265.1" cy="819" r="1.6"/><circle cx="267.4" cy="820.5" r="1.6"/><circle cx="272" cy="820.7" r="1.6"/><circle cx="276.1" cy="820.2" r="1.6"/><circle cx="275.8" cy="822.1" r="1.6"/><circle cx="272.8" cy="823.9" r="1.6"/><circle cx="209.2" cy="822.8" r="1.6"/><circle cx="208.7" cy="824.1" r="1.6"/><circle cx="230.3" cy="824.4" r="1.6"/><circle cx="221.7" cy="826.7" r="1.6"/><circle cx="233.7" cy="827.1" r="1.6"/><circle cx="239" cy="827.9" r="1.6"/><circle cx="264.6" cy="827" r="1.6"/><circle cx="205" cy="830.5" r="1.6"/><circle cx="275.4" cy="829.3" r="1.6"/><circle cx="272.8" cy="832.3" r="1.6"/><circle cx="255.5" cy="833.9" r="1.6"/><circle cx="266.3" cy="833.6" r="1.6"/><circle cx="232.2" cy="837.9" r="1.6"/><circle cx="258.2" cy="838.9" r="1.6"/><circle cx="258.2" cy="842" r="1.6"/><circle cx="241.3" cy="842.3" r="1.6"/><circle cx="243.6" cy="843.8" r="1.6"/><circle cx="262.8" cy="842.8" r="1.6"/><circle cx="217.9" cy="847.4" r="1.6"/><circle cx="221.4" cy="848.6" r="1.6"/><circle cx="257.1" cy="847.1" r="1.6"/><circle cx="264.8" cy="848.1" r="1.6"/><circle cx="191.2" cy="778.4" r="1.6"/><circle cx="209.9" cy="851.2" r="1.6"/><circle cx="228.3" cy="853.3" r="1.6"/><circle cx="247.2" cy="851" r="1.6"/><circle cx="252.8" cy="852.7" r="1.6"/><circle cx="253.2" cy="853.8" r="1.6"/><circle cx="266.3" cy="853.8" r="1.6"/><circle cx="260.2" cy="857.3" r="1.6"/><circle cx="208.1" cy="860.7" r="1.6"/><circle cx="222.2" cy="858.7" r="1.6"/><circle cx="218.8" cy="868" r="1.6"/><circle cx="211.5" cy="869.9" r="1.6"/><circle cx="210.4" cy="873.3" r="1.6"/><circle cx="216.8" cy="871.7" r="1.6"/><circle cx="222.2" cy="872.5" r="1.6"/><circle cx="201.5" cy="879.5" r="1.6"/><circle cx="226" cy="879.5" r="1.6"/><circle cx="212.7" cy="892.9" r="1.6"/></g>
<line x1="190.4" y1="760.8" x2="191.2" y2="937.8" stroke="#ad8248" stroke-width="1.0"/>
<line x1="53.9" y1="825.9" x2="292" y2="825.4" stroke="#ad8248" stroke-width="1.0"/>
<rect x="53.9" y="760.8" width="238.1" height="177" fill="none" stroke="#1a1a1a" stroke-width="1.1"/>
<text x="174.8" y="749.8" font-size="9.6" text-anchor="middle" fill="#111" textLength="85.6" lengthAdjust="spacingAndGlyphs">Core=0.38,  P&lt;0.05</text>
<line x1="50.9" y1="763.9" x2="53.9" y2="763.9" stroke="#222" stroke-width="0.9"/>
<text x="47.5" y="766.2" font-size="6.5" text-anchor="end" font-weight="bold" fill="#222" stroke="#222" stroke-width="0.18">0.8</text>
<line x1="50.9" y1="795" x2="53.9" y2="795" stroke="#222" stroke-width="0.9"/>
<text x="47.5" y="797.3" font-size="6.5" text-anchor="end" font-weight="bold" fill="#222" stroke="#222" stroke-width="0.18">0.6</text>
<line x1="50.9" y1="826.1" x2="53.9" y2="826.1" stroke="#222" stroke-width="0.9"/>
<text x="47.5" y="828.4" font-size="6.5" text-anchor="end" font-weight="bold" fill="#222" stroke="#222" stroke-width="0.18">0.4</text>
<line x1="50.9" y1="857.2" x2="53.9" y2="857.2" stroke="#222" stroke-width="0.9"/>
<text x="47.5" y="859.5" font-size="6.5" text-anchor="end" font-weight="bold" fill="#222" stroke="#222" stroke-width="0.18">0.2</text>
<line x1="50.9" y1="888.3" x2="53.9" y2="888.3" stroke="#222" stroke-width="0.9"/>
<text x="47.5" y="890.6" font-size="6.5" text-anchor="end" font-weight="bold" fill="#222" stroke="#222" stroke-width="0.18">0.0</text>
<line x1="50.9" y1="919.4" x2="53.9" y2="919.4" stroke="#222" stroke-width="0.9"/>
<text x="47.5" y="921.7" font-size="6.5" text-anchor="end" font-weight="bold" fill="#222" stroke="#222" stroke-width="0.18">-0.2</text>
<line x1="75.7" y1="937.8" x2="75.7" y2="940.8" stroke="#222" stroke-width="0.9"/>
<text x="75.7" y="949.1" font-size="6.5" text-anchor="middle" font-weight="bold" fill="#222" stroke="#222" stroke-width="0.18">0.5</text>
<line x1="119.6" y1="937.8" x2="119.6" y2="940.8" stroke="#222" stroke-width="0.9"/>
<text x="119.6" y="949.1" font-size="6.5" text-anchor="middle" font-weight="bold" fill="#222" stroke="#222" stroke-width="0.18">0.6</text>
<line x1="163.4" y1="937.8" x2="163.4" y2="940.8" stroke="#222" stroke-width="0.9"/>
<text x="163.4" y="949.1" font-size="6.5" text-anchor="middle" font-weight="bold" fill="#222" stroke="#222" stroke-width="0.18">0.7</text>
<line x1="207.3" y1="937.8" x2="207.3" y2="940.8" stroke="#222" stroke-width="0.9"/>
<text x="207.3" y="949.1" font-size="6.5" text-anchor="middle" font-weight="bold" fill="#222" stroke="#222" stroke-width="0.18">0.8</text>
<line x1="251.2" y1="937.8" x2="251.2" y2="940.8" stroke="#222" stroke-width="0.9"/>
<text x="251.2" y="949.1" font-size="6.5" text-anchor="middle" font-weight="bold" fill="#222" stroke="#222" stroke-width="0.18">0.9</text>
<text x="172.5" y="957.7" font-size="7.2" text-anchor="middle" font-weight="bold" fill="#222" textLength="127.4" lengthAdjust="spacingAndGlyphs" stroke="#222" stroke-width="0.18">Moddule Membership in grey60 module</text>
<text x="31.7" y="849.5" font-size="6.8" text-anchor="middle" font-weight="bold" fill="#222" transform="rotate(-90 31.7 849.5)" textLength="91.9" lengthAdjust="spacingAndGlyphs" stroke="#222" stroke-width="0.18">Gene significance for SEPSIS</text>
<text x="385.5" y="743.5" font-size="18.5" text-anchor="start" fill="#000">H</text>
<g fill="#f4f7ea"><circle cx="539" cy="771.1" r="3.0"/><circle cx="492.7" cy="790" r="3.0"/><circle cx="501.6" cy="792.7" r="3.0"/><circle cx="459.4" cy="803.1" r="3.0"/><circle cx="508.8" cy="806.3" r="3.0"/><circle cx="520.5" cy="804.5" r="3.0"/><circle cx="521.9" cy="802.7" r="3.0"/><circle cx="524.6" cy="810.3" r="3.0"/><circle cx="535.4" cy="799.9" r="3.0"/><circle cx="552.8" cy="811.5" r="3.0"/><circle cx="557.8" cy="817.8" r="3.0"/><circle cx="478.8" cy="814.4" r="3.0"/><circle cx="481.5" cy="819.3" r="3.0"/><circle cx="479.2" cy="826.8" r="3.0"/><circle cx="481.5" cy="827.7" r="3.0"/><circle cx="525.5" cy="826.4" r="3.0"/><circle cx="540.3" cy="823.7" r="3.0"/><circle cx="540.6" cy="827.9" r="3.0"/><circle cx="486" cy="839.5" r="3.0"/><circle cx="532.7" cy="838.5" r="3.0"/><circle cx="541.1" cy="841.7" r="3.0"/><circle cx="553.4" cy="836.7" r="3.0"/><circle cx="453.2" cy="848.3" r="3.0"/><circle cx="533.1" cy="849.2" r="3.0"/><circle cx="582.9" cy="767.8" r="3.0"/><circle cx="586" cy="789.2" r="3.0"/><circle cx="589.1" cy="794.3" r="3.0"/><circle cx="575.4" cy="791" r="3.0"/><circle cx="566.9" cy="796" r="3.0"/><circle cx="568.1" cy="824.2" r="3.0"/><circle cx="571.4" cy="823.9" r="3.0"/><circle cx="575.1" cy="823.5" r="3.0"/><circle cx="579.1" cy="818.8" r="3.0"/><circle cx="591.9" cy="812" r="3.0"/><circle cx="611.6" cy="810.5" r="3.0"/><circle cx="613.8" cy="810.5" r="3.0"/><circle cx="618" cy="807.4" r="3.0"/><circle cx="622.2" cy="810.5" r="3.0"/><circle cx="619.2" cy="817.5" r="3.0"/><circle cx="634.6" cy="809.8" r="3.0"/><circle cx="647.7" cy="811.8" r="3.0"/><circle cx="652.3" cy="804.3" r="3.0"/><circle cx="659" cy="803.8" r="3.0"/><circle cx="666" cy="795.2" r="3.0"/><circle cx="655.9" cy="814.4" r="3.0"/><circle cx="666.7" cy="814.7" r="3.0"/><circle cx="624" cy="826.1" r="3.0"/><circle cx="630.2" cy="821.1" r="3.0"/><circle cx="628.9" cy="823" r="3.0"/><circle cx="633.1" cy="823" r="3.0"/><circle cx="637.7" cy="827" r="3.0"/><circle cx="644.4" cy="825.1" r="3.0"/><circle cx="611.6" cy="828.1" r="3.0"/><circle cx="597" cy="829" r="3.0"/><circle cx="615.8" cy="830.6" r="3.0"/><circle cx="588.4" cy="833.9" r="3.0"/><circle cx="607.4" cy="834.8" r="3.0"/><circle cx="626.2" cy="833.9" r="3.0"/><circle cx="640.8" cy="832.4" r="3.0"/><circle cx="643.1" cy="836.1" r="3.0"/><circle cx="645.3" cy="835.7" r="3.0"/><circle cx="628.5" cy="839.9" r="3.0"/><circle cx="575.4" cy="839" r="3.0"/><circle cx="577.4" cy="839.4" r="3.0"/><circle cx="592.4" cy="845.4" r="3.0"/><circle cx="603" cy="849.4" r="3.0"/><circle cx="612.5" cy="849.1" r="3.0"/><circle cx="476" cy="857.4" r="3.0"/><circle cx="507.2" cy="858.1" r="3.0"/><circle cx="450.5" cy="873.4" r="3.0"/><circle cx="489.5" cy="870.9" r="3.0"/><circle cx="490.2" cy="872.3" r="3.0"/><circle cx="500.1" cy="867.7" r="3.0"/><circle cx="515.8" cy="867" r="3.0"/><circle cx="527.5" cy="869.8" r="3.0"/><circle cx="477.8" cy="887.6" r="3.0"/><circle cx="493.8" cy="886.1" r="3.0"/><circle cx="561.2" cy="895.4" r="3.0"/><circle cx="467.9" cy="905.3" r="3.0"/><circle cx="448.4" cy="930.5" r="3.0"/><circle cx="578.9" cy="870.5" r="3.0"/><circle cx="592" cy="845.7" r="3.0"/><circle cx="617.9" cy="852.8" r="3.0"/><circle cx="596.6" cy="860.6" r="3.0"/><circle cx="616.1" cy="861.3" r="3.0"/></g>
<g fill="#72d8dc"><circle cx="539" cy="771.1" r="1.4"/><circle cx="492.7" cy="790" r="1.4"/><circle cx="501.6" cy="792.7" r="1.4"/><circle cx="459.4" cy="803.1" r="1.4"/><circle cx="508.8" cy="806.3" r="1.4"/><circle cx="520.5" cy="804.5" r="1.4"/><circle cx="521.9" cy="802.7" r="1.4"/><circle cx="524.6" cy="810.3" r="1.4"/><circle cx="535.4" cy="799.9" r="1.4"/><circle cx="552.8" cy="811.5" r="1.4"/><circle cx="557.8" cy="817.8" r="1.4"/><circle cx="478.8" cy="814.4" r="1.4"/><circle cx="481.5" cy="819.3" r="1.4"/><circle cx="479.2" cy="826.8" r="1.4"/><circle cx="481.5" cy="827.7" r="1.4"/><circle cx="525.5" cy="826.4" r="1.4"/><circle cx="540.3" cy="823.7" r="1.4"/><circle cx="540.6" cy="827.9" r="1.4"/><circle cx="486" cy="839.5" r="1.4"/><circle cx="532.7" cy="838.5" r="1.4"/><circle cx="541.1" cy="841.7" r="1.4"/><circle cx="553.4" cy="836.7" r="1.4"/><circle cx="453.2" cy="848.3" r="1.4"/><circle cx="533.1" cy="849.2" r="1.4"/><circle cx="582.9" cy="767.8" r="1.4"/><circle cx="586" cy="789.2" r="1.4"/><circle cx="589.1" cy="794.3" r="1.4"/><circle cx="575.4" cy="791" r="1.4"/><circle cx="566.9" cy="796" r="1.4"/><circle cx="568.1" cy="824.2" r="1.4"/><circle cx="571.4" cy="823.9" r="1.4"/><circle cx="575.1" cy="823.5" r="1.4"/><circle cx="579.1" cy="818.8" r="1.4"/><circle cx="591.9" cy="812" r="1.4"/><circle cx="611.6" cy="810.5" r="1.4"/><circle cx="613.8" cy="810.5" r="1.4"/><circle cx="618" cy="807.4" r="1.4"/><circle cx="622.2" cy="810.5" r="1.4"/><circle cx="619.2" cy="817.5" r="1.4"/><circle cx="634.6" cy="809.8" r="1.4"/><circle cx="647.7" cy="811.8" r="1.4"/><circle cx="652.3" cy="804.3" r="1.4"/><circle cx="659" cy="803.8" r="1.4"/><circle cx="666" cy="795.2" r="1.4"/><circle cx="655.9" cy="814.4" r="1.4"/><circle cx="666.7" cy="814.7" r="1.4"/><circle cx="624" cy="826.1" r="1.4"/><circle cx="630.2" cy="821.1" r="1.4"/><circle cx="628.9" cy="823" r="1.4"/><circle cx="633.1" cy="823" r="1.4"/><circle cx="637.7" cy="827" r="1.4"/><circle cx="644.4" cy="825.1" r="1.4"/><circle cx="611.6" cy="828.1" r="1.4"/><circle cx="597" cy="829" r="1.4"/><circle cx="615.8" cy="830.6" r="1.4"/><circle cx="588.4" cy="833.9" r="1.4"/><circle cx="607.4" cy="834.8" r="1.4"/><circle cx="626.2" cy="833.9" r="1.4"/><circle cx="640.8" cy="832.4" r="1.4"/><circle cx="643.1" cy="836.1" r="1.4"/><circle cx="645.3" cy="835.7" r="1.4"/><circle cx="628.5" cy="839.9" r="1.4"/><circle cx="575.4" cy="839" r="1.4"/><circle cx="577.4" cy="839.4" r="1.4"/><circle cx="592.4" cy="845.4" r="1.4"/><circle cx="603" cy="849.4" r="1.4"/><circle cx="612.5" cy="849.1" r="1.4"/><circle cx="476" cy="857.4" r="1.4"/><circle cx="507.2" cy="858.1" r="1.4"/><circle cx="450.5" cy="873.4" r="1.4"/><circle cx="489.5" cy="870.9" r="1.4"/><circle cx="490.2" cy="872.3" r="1.4"/><circle cx="500.1" cy="867.7" r="1.4"/><circle cx="515.8" cy="867" r="1.4"/><circle cx="527.5" cy="869.8" r="1.4"/><circle cx="477.8" cy="887.6" r="1.4"/><circle cx="493.8" cy="886.1" r="1.4"/><circle cx="561.2" cy="895.4" r="1.4"/><circle cx="467.9" cy="905.3" r="1.4"/><circle cx="448.4" cy="930.5" r="1.4"/><circle cx="578.9" cy="870.5" r="1.4"/><circle cx="592" cy="845.7" r="1.4"/><circle cx="617.9" cy="852.8" r="1.4"/><circle cx="596.6" cy="860.6" r="1.4"/><circle cx="616.1" cy="861.3" r="1.4"/></g>
<line x1="580.3" y1="759.8" x2="580.3" y2="938.4" stroke="#ad8248" stroke-width="1.0"/>
<line x1="437.7" y1="830.9" x2="677.6" y2="830" stroke="#ad8248" stroke-width="1.0"/>
<rect x="437.7" y="759.8" width="239.9" height="178.6" fill="none" stroke="#1a1a1a" stroke-width="1.1"/>
<text x="544" y="752.8" font-size="9.6" text-anchor="middle" fill="#111" textLength="87.6" lengthAdjust="spacingAndGlyphs">Core=0.30,  P&lt;0.05</text>
<line x1="434.7" y1="770.8" x2="437.7" y2="770.8" stroke="#222" stroke-width="0.9"/>
<text x="431.1" y="773.1" font-size="6.6" text-anchor="end" font-weight="bold" fill="#222" stroke="#222" stroke-width="0.18">0.6</text>
<line x1="434.7" y1="791.1" x2="437.7" y2="791.1" stroke="#222" stroke-width="0.9"/>
<text x="431.1" y="793.4" font-size="6.6" text-anchor="end" font-weight="bold" fill="#222" stroke="#222" stroke-width="0.18">0.5</text>
<line x1="434.7" y1="811.4" x2="437.7" y2="811.4" stroke="#222" stroke-width="0.9"/>
<text x="431.1" y="813.7" font-size="6.6" text-anchor="end" font-weight="bold" fill="#222" stroke="#222" stroke-width="0.18">0.4</text>
<line x1="434.7" y1="831.7" x2="437.7" y2="831.7" stroke="#222" stroke-width="0.9"/>
<text x="431.1" y="834" font-size="6.6" text-anchor="end" font-weight="bold" fill="#222" stroke="#222" stroke-width="0.18">0.3</text>
<line x1="434.7" y1="852" x2="437.7" y2="852" stroke="#222" stroke-width="0.9"/>
<text x="431.1" y="854.3" font-size="6.6" text-anchor="end" font-weight="bold" fill="#222" stroke="#222" stroke-width="0.18">0.2</text>
<line x1="434.7" y1="872.3" x2="437.7" y2="872.3" stroke="#222" stroke-width="0.9"/>
<text x="431.1" y="874.6" font-size="6.6" text-anchor="end" font-weight="bold" fill="#222" stroke="#222" stroke-width="0.18">0.1</text>
<line x1="434.7" y1="892.6" x2="437.7" y2="892.6" stroke="#222" stroke-width="0.9"/>
<text x="431.1" y="894.9" font-size="6.6" text-anchor="end" font-weight="bold" fill="#222" stroke="#222" stroke-width="0.18">0.0</text>
<line x1="434.7" y1="912.9" x2="437.7" y2="912.9" stroke="#222" stroke-width="0.9"/>
<text x="431.1" y="915.2" font-size="6.6" text-anchor="end" font-weight="bold" fill="#222" stroke="#222" stroke-width="0.18">-0.1</text>
<line x1="434.7" y1="933.2" x2="437.7" y2="933.2" stroke="#222" stroke-width="0.9"/>
<text x="431.1" y="935.5" font-size="6.6" text-anchor="end" font-weight="bold" fill="#222" stroke="#222" stroke-width="0.18">-0.2</text>
<line x1="460.9" y1="938.4" x2="460.9" y2="941.4" stroke="#222" stroke-width="0.9"/>
<text x="460.9" y="949.7" font-size="6.6" text-anchor="middle" font-weight="bold" fill="#222" stroke="#222" stroke-width="0.18">0.65</text>
<line x1="494.2" y1="938.4" x2="494.2" y2="941.4" stroke="#222" stroke-width="0.9"/>
<text x="494.2" y="949.7" font-size="6.6" text-anchor="middle" font-weight="bold" fill="#222" stroke="#222" stroke-width="0.18">0.70</text>
<line x1="527.6" y1="938.4" x2="527.6" y2="941.4" stroke="#222" stroke-width="0.9"/>
<text x="527.6" y="949.7" font-size="6.6" text-anchor="middle" font-weight="bold" fill="#222" stroke="#222" stroke-width="0.18">0.75</text>
<line x1="561" y1="938.4" x2="561" y2="941.4" stroke="#222" stroke-width="0.9"/>
<text x="561" y="949.7" font-size="6.6" text-anchor="middle" font-weight="bold" fill="#222" stroke="#222" stroke-width="0.18">0.80</text>
<line x1="594.3" y1="938.4" x2="594.3" y2="941.4" stroke="#222" stroke-width="0.9"/>
<text x="594.3" y="949.7" font-size="6.6" text-anchor="middle" font-weight="bold" fill="#222" stroke="#222" stroke-width="0.18">0.85</text>
<line x1="627.6" y1="938.4" x2="627.6" y2="941.4" stroke="#222" stroke-width="0.9"/>
<text x="627.6" y="949.7" font-size="6.6" text-anchor="middle" font-weight="bold" fill="#222" stroke="#222" stroke-width="0.18">0.90</text>
<line x1="661" y1="938.4" x2="661" y2="941.4" stroke="#222" stroke-width="0.9"/>
<text x="661" y="949.7" font-size="6.6" text-anchor="middle" font-weight="bold" fill="#222" stroke="#222" stroke-width="0.18">0.95</text>
<text x="557.5" y="957.9" font-size="7.2" text-anchor="middle" font-weight="bold" fill="#222" textLength="135.5" lengthAdjust="spacingAndGlyphs" stroke="#222" stroke-width="0.18">Moddule Membership in lightcyan module</text>
<text x="415" y="849.3" font-size="6.9" text-anchor="middle" font-weight="bold" fill="#222" transform="rotate(-90 415 849.3)" textLength="93.2" lengthAdjust="spacingAndGlyphs" stroke="#222" stroke-width="0.18">Gene significance for SEPSIS</text>
</svg>
</body></html>
